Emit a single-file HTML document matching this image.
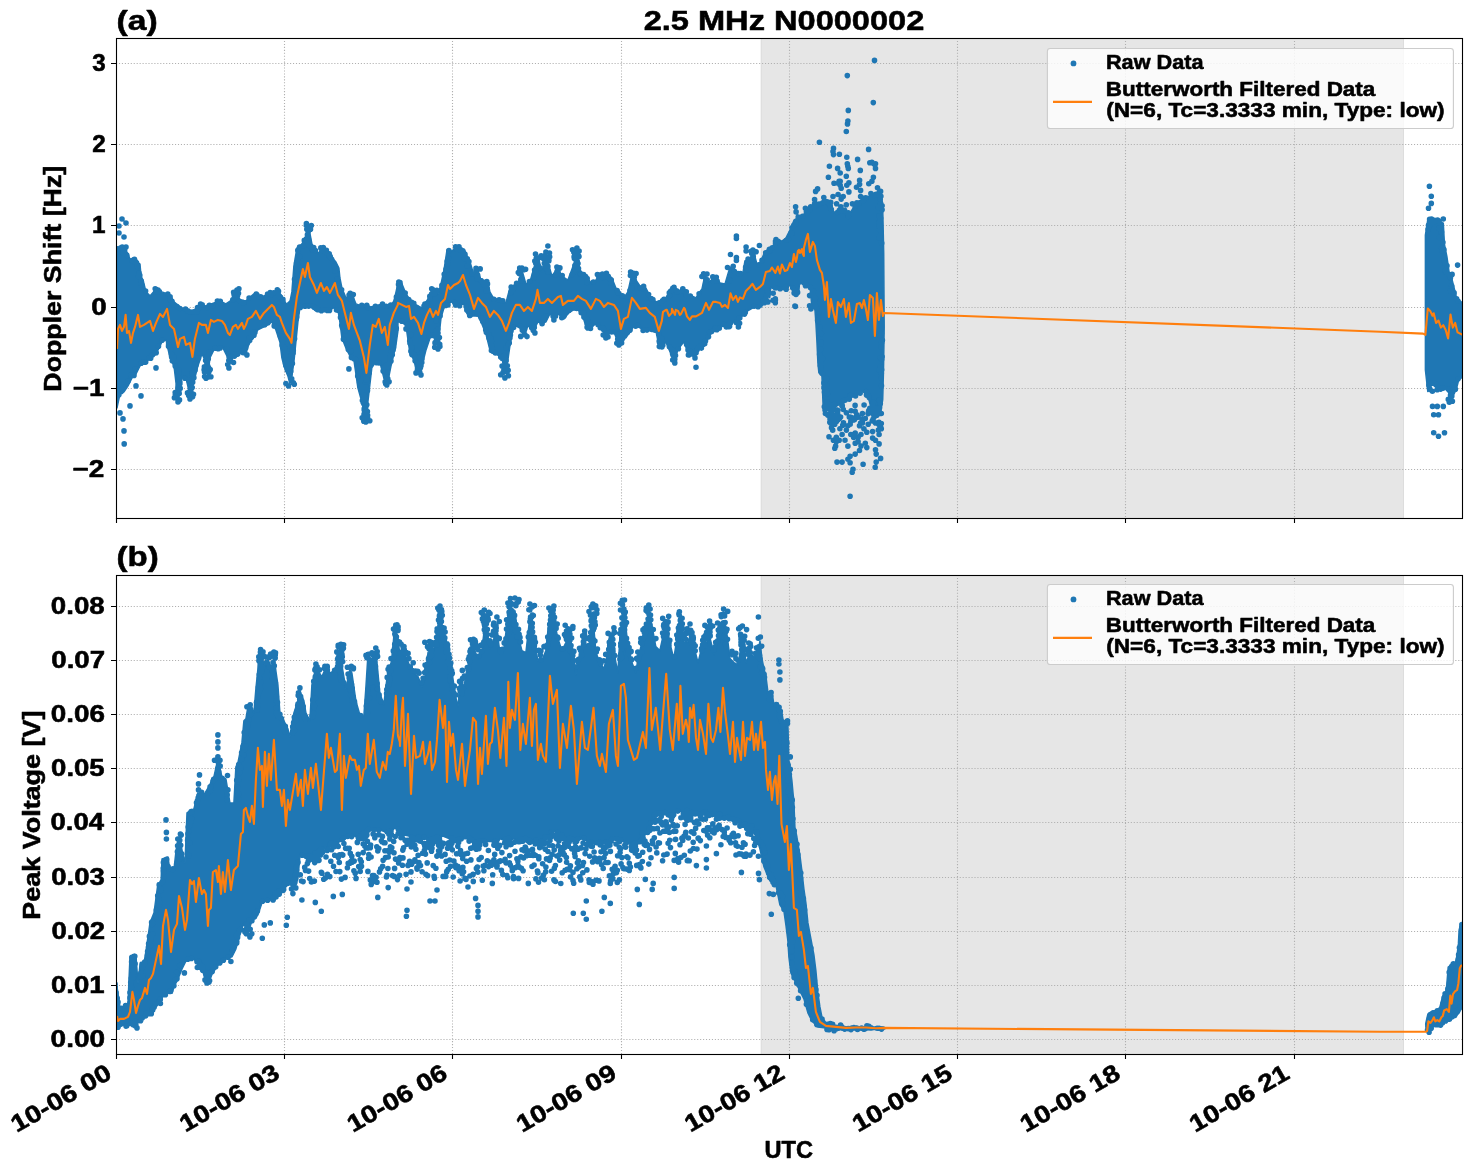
<!DOCTYPE html><html><head><meta charset="utf-8"><style>html,body{margin:0;padding:0;background:#fff;}svg{display:block;will-change:transform;}text{font-family:"Liberation Sans", sans-serif;font-weight:bold;fill:#000;stroke:#000;stroke-width:0.55px;stroke-linejoin:round;}</style></head><body>
<svg width="1471" height="1172" viewBox="0 0 1471 1172">
<rect width="1471" height="1172" fill="#fff"/>
<defs>
<clipPath id="clipa"><rect x="116" y="38" width="1347" height="481"/></clipPath>
<clipPath id="clipb"><rect x="116" y="575" width="1347" height="480"/></clipPath>
</defs>
<g clip-path="url(#clipa)">
<rect x="760.8" y="38" width="643.1" height="481" fill="#e6e6e6"/>
<rect x="760.8" y="38" width="0.9" height="481" fill="#dcdcdc"/>
<rect x="1403" y="38" width="0.9" height="481" fill="#dcdcdc"/>
<path d="M284.5 38 V518 M452.5 38 V518 M621.5 38 V518 M789.5 38 V518 M957.5 38 V518 M1125.5 38 V518 M1294.5 38 V518 M116 63.5 H1462 M116 144.5 H1462 M116 225.5 H1462 M116 307.5 H1462 M116 388.5 H1462 M116 469.5 H1462" stroke="#b0b0b0" stroke-width="1.1" stroke-dasharray="1.1 1.85" fill="none"/>
<path d="M117 248 L122 248 L126 250 L130 259 L136 261 L140 264 L141 276 L143 280 L146 291.9 L150 295.9 L156 289 L162 291.9 L170 294.9 L174 301.9 L180 306.9 L186 309.9 L192 313.9 L195.9 307.9 L199.9 304.9 L205.9 305.9 L213.9 302.9 L219.9 300.9 L225.9 303.9 L231.9 299.9 L235.9 289 L239.9 299.9 L245.9 300.9 L253.9 293.9 L261.9 296.9 L269.9 292.9 L277.9 291 L281.9 295.9 L285.9 303.9 L289.9 301.9 L291.9 291.9 L293.9 266 L296.9 248 L301.9 244 L305.9 236 L308.5 226 L311.9 244 L317.9 254 L321.9 248 L325.9 250 L329.9 255 L335.9 262 L338.9 268 L339.9 278 L341.9 288 L345.9 297.9 L351.9 293.9 L355.9 303.9 L361.8 305.9 L369.8 306.9 L375.8 305.9 L381.8 303.9 L387.8 307.9 L393.8 301.9 L397.8 284 L398 282 L402 284 L406 293.9 L410 299.9 L414 303.9 L418 305.9 L422 307.9 L426 301.9 L430 295.9 L434 288 L438 293.9 L441 284 L444 270 L447 250 L452 251 L456 247 L462 248 L467 256 L470 262 L473 272 L476 274 L478 270 L480 278 L483.9 284 L487.9 282 L489.9 291.9 L493.9 298.9 L499.9 299.9 L505.9 302.9 L509.9 288 L513.9 285 L517.9 284 L521.9 270 L525.9 284 L529.9 282 L533.9 268 L537.9 256 L541.9 272 L545.9 255 L551.9 276 L557.9 268 L561.9 276 L567.9 280 L573.9 264 L576.9 251 L579.9 270 L585.9 276 L591.9 284 L595.9 280 L599.9 274 L603.9 280 L607.9 274 L611.9 278 L615.9 288 L619.9 291.9 L623.9 297.9 L627.9 291.9 L631.9 274 L635.9 280 L639.9 286 L645.9 288 L649.8 295.9 L655.8 301.9 L661.8 299.9 L665.8 297.9 L671.8 288 L675.8 288 L679.8 293.9 L683.8 288 L687.8 293.9 L696 297.9 L699 292.9 L702 288.9 L705 274.9 L709 281.9 L716 276.9 L720 282.9 L725 283.9 L730 267 L733.9 271 L739.9 272 L742.9 273 L744.9 261 L749.9 258 L753.9 253 L756.9 264 L759.9 263 L763.9 254 L767.9 249 L771.9 248 L775.9 240 L781.9 241 L785.9 238 L787.9 234 L790 230.2 L794.1 220 L803.3 214.9 L813.5 204.6 L820.7 202.6 L830.9 202.6 L834 212.8 L843.2 208.7 L847.3 218 L851.4 210.8 L856.5 202.6 L861.6 199.5 L867.8 196.5 L876 194.4 L881.1 194.4 L882.6 204.6 L883.1 225.1 L883.7 253 L884.2 327 L883.5 370.5 L882.7 399.6 L881.3 408.3 L875.5 414.1 L871.1 408.3 L868.2 396.7 L862.4 390.9 L855.2 395.2 L843.5 402.5 L831.9 408.3 L823.2 408.3 L821.9 374.9 L818.9 372.9 L817.9 362.9 L816.9 341 L815.9 323 L814.9 309 L811.9 307 L810 286.5 L808.1 284.4 L804 285.4 L801.4 283.4 L799.4 284.4 L798.9 291.1 L796.3 293.6 L794.3 292.6 L792.2 287.5 L789.2 284.9 L786.1 289.5 L775.8 289.5 L770.7 287.5 L769.7 297.7 L768.7 290 L767.6 301.8 L763.6 302.8 L761.5 306.9 L753.3 307.5 L748.2 310.5 L740 318.2 L738 324 L734 321 L730 327 L726 325 L722 325 L718 329 L714 329 L710 335 L706 343 L702 347 L698 351 L694 354.9 L690 351 L687.8 351.9 L683.8 341.9 L677.8 349.9 L674.8 359.9 L671.8 355.9 L665.8 341.9 L661.8 347.9 L658.8 345.9 L655.8 329.9 L649.8 329.9 L643.9 329.9 L637.9 326.9 L633.9 325.9 L629.9 331.9 L625.9 337.9 L621.9 337.9 L617.9 341.9 L613.9 331.9 L609.9 331.9 L605.9 335.9 L601.9 329.9 L595.9 323.9 L589.9 327.9 L585.9 325.9 L581.9 313.9 L577.9 309.9 L573.9 309.9 L569.9 311.9 L565.9 315.9 L561.9 316.9 L557.9 313.9 L553.9 316.9 L549.9 313.9 L545.9 321.9 L541.9 323.9 L537.9 321.9 L533.9 329.9 L527.9 325.9 L523.9 335.9 L519.9 327.9 L515.9 325.9 L512.9 329.9 L509.9 345.9 L507.9 359.9 L504.9 373.9 L501.9 357.9 L495.9 353.9 L489.9 349.9 L485.9 333.9 L481.9 323.9 L478 315.9 L472 315.9 L467 313.9 L464 303.9 L458 304.9 L452 301.9 L448 303.9 L444 307.9 L441 317.9 L438 345.9 L434 333.9 L430 337.9 L426 349.9 L423 361.9 L420 371.9 L416 369.9 L414 359.9 L410 353.9 L406 325.9 L402 321.9 L398 321.9 L397.8 331.9 L395.8 345.9 L391.8 361.9 L387.8 381.9 L383.8 377.9 L379.8 361.9 L375.8 361.9 L371.8 367.9 L368.8 393.9 L365.8 419.9 L361.8 401.9 L357.9 387.9 L353.9 359.9 L349.9 355.9 L345.9 347.9 L341.9 337.9 L339.9 321.9 L337.9 309.9 L333.9 307.9 L329.9 309.9 L325.9 309.9 L321.9 309.9 L315.9 310.9 L309.9 305.9 L303.9 304.9 L299.9 307.9 L297.9 321.9 L295.9 341.9 L293.9 361.9 L291.9 375.9 L289.9 383.9 L287.9 375.9 L283.9 365.9 L281.9 357.9 L279.9 341.9 L275.9 329.9 L271.9 321.9 L265.9 325.9 L257.9 329.9 L249.9 341.9 L245.9 351.9 L239.9 351.9 L233.9 355.9 L229.9 363.9 L227.9 357.9 L221.9 345.9 L213.9 349.9 L209.9 357.9 L207.9 375.9 L205.9 361.9 L201.9 353.9 L197.9 365.9 L193.9 381.9 L190 395.9 L186 377.9 L182 377.9 L178 399.9 L174 365.9 L170 357.9 L166 339.9 L162 341.9 L156 353.9 L150 357.9 L144 363.9 L140 365.9 L136 373.9 L132 377.9 L128 385.9 L124 391.9 L120 393.9 L117 407.9 Z" fill="#1f77b4" stroke="#1f77b4" stroke-width="1.5" stroke-linejoin="round"/>
<path d="M1425.4 235.1 L1427.8 219.6 L1432.5 218.4 L1438.5 220.8 L1443.3 223.2 L1444.5 244.7 L1446.9 256.6 L1449.3 273.3 L1451.7 278.1 L1456.4 297.2 L1461.2 302 L1462.6 302 L1462.6 377.2 L1458.8 379.6 L1456.4 389.1 L1451.7 398.7 L1449.3 393.9 L1444.5 386.7 L1439.7 390.3 L1434.9 386.7 L1430.2 382 L1427.8 391.5 L1425.4 370 Z" fill="#1f77b4" stroke="#1f77b4" stroke-width="1.5" stroke-linejoin="round"/>
<path d="M121.4 443.9a2.8 2.8 0 1 0 5.6 0a2.8 2.8 0 1 0 -5.6 0ZM119.2 219a2.8 2.8 0 1 0 5.6 0a2.8 2.8 0 1 0 -5.6 0ZM123.2 223a2.8 2.8 0 1 0 5.6 0a2.8 2.8 0 1 0 -5.6 0ZM116.2 226a2.8 2.8 0 1 0 5.6 0a2.8 2.8 0 1 0 -5.6 0ZM116.2 233a2.8 2.8 0 1 0 5.6 0a2.8 2.8 0 1 0 -5.6 0ZM121.2 237a2.8 2.8 0 1 0 5.6 0a2.8 2.8 0 1 0 -5.6 0ZM123.2 247a2.8 2.8 0 1 0 5.6 0a2.8 2.8 0 1 0 -5.6 0ZM117.2 412.9a2.8 2.8 0 1 0 5.6 0a2.8 2.8 0 1 0 -5.6 0ZM120.2 418.9a2.8 2.8 0 1 0 5.6 0a2.8 2.8 0 1 0 -5.6 0ZM121.2 430.9a2.8 2.8 0 1 0 5.6 0a2.8 2.8 0 1 0 -5.6 0ZM127.2 405.9a2.8 2.8 0 1 0 5.6 0a2.8 2.8 0 1 0 -5.6 0ZM138.2 395.9a2.8 2.8 0 1 0 5.6 0a2.8 2.8 0 1 0 -5.6 0ZM133.2 385.9a2.8 2.8 0 1 0 5.6 0a2.8 2.8 0 1 0 -5.6 0ZM153.2 367.9a2.8 2.8 0 1 0 5.6 0a2.8 2.8 0 1 0 -5.6 0ZM175.2 401.9a2.8 2.8 0 1 0 5.6 0a2.8 2.8 0 1 0 -5.6 0ZM187.2 398.9a2.8 2.8 0 1 0 5.6 0a2.8 2.8 0 1 0 -5.6 0ZM205.1 376.9a2.8 2.8 0 1 0 5.6 0a2.8 2.8 0 1 0 -5.6 0ZM226.1 367.9a2.8 2.8 0 1 0 5.6 0a2.8 2.8 0 1 0 -5.6 0ZM244.1 354.9a2.8 2.8 0 1 0 5.6 0a2.8 2.8 0 1 0 -5.6 0ZM285.7 385.9a2.8 2.8 0 1 0 5.6 0a2.8 2.8 0 1 0 -5.6 0ZM346.1 368.9a2.8 2.8 0 1 0 5.6 0a2.8 2.8 0 1 0 -5.6 0ZM363 421.9a2.8 2.8 0 1 0 5.6 0a2.8 2.8 0 1 0 -5.6 0ZM384 384.9a2.8 2.8 0 1 0 5.6 0a2.8 2.8 0 1 0 -5.6 0ZM545.1 246a2.8 2.8 0 1 0 5.6 0a2.8 2.8 0 1 0 -5.6 0ZM574.1 248a2.8 2.8 0 1 0 5.6 0a2.8 2.8 0 1 0 -5.6 0ZM543.1 252a2.8 2.8 0 1 0 5.6 0a2.8 2.8 0 1 0 -5.6 0ZM519.1 268a2.8 2.8 0 1 0 5.6 0a2.8 2.8 0 1 0 -5.6 0ZM413.2 372.9a2.8 2.8 0 1 0 5.6 0a2.8 2.8 0 1 0 -5.6 0ZM418.2 374.9a2.8 2.8 0 1 0 5.6 0a2.8 2.8 0 1 0 -5.6 0ZM502.1 377.9a2.8 2.8 0 1 0 5.6 0a2.8 2.8 0 1 0 -5.6 0ZM501.1 369.9a2.8 2.8 0 1 0 5.6 0a2.8 2.8 0 1 0 -5.6 0ZM532.1 332.9a2.8 2.8 0 1 0 5.6 0a2.8 2.8 0 1 0 -5.6 0ZM551.1 319.9a2.8 2.8 0 1 0 5.6 0a2.8 2.8 0 1 0 -5.6 0ZM616.1 344.9a2.8 2.8 0 1 0 5.6 0a2.8 2.8 0 1 0 -5.6 0ZM603.1 337.9a2.8 2.8 0 1 0 5.6 0a2.8 2.8 0 1 0 -5.6 0ZM686 354.9a2.8 2.8 0 1 0 5.6 0a2.8 2.8 0 1 0 -5.6 0ZM672 362.9a2.8 2.8 0 1 0 5.6 0a2.8 2.8 0 1 0 -5.6 0ZM435.2 348.9a2.8 2.8 0 1 0 5.6 0a2.8 2.8 0 1 0 -5.6 0ZM403.2 328.9a2.8 2.8 0 1 0 5.6 0a2.8 2.8 0 1 0 -5.6 0ZM733.6 236a2.8 2.8 0 1 0 5.6 0a2.8 2.8 0 1 0 -5.6 0ZM733.6 238.5a2.8 2.8 0 1 0 5.6 0a2.8 2.8 0 1 0 -5.6 0ZM727.7 254.5a2.8 2.8 0 1 0 5.6 0a2.8 2.8 0 1 0 -5.6 0ZM733.6 257.5a2.8 2.8 0 1 0 5.6 0a2.8 2.8 0 1 0 -5.6 0ZM733.6 260.5a2.8 2.8 0 1 0 5.6 0a2.8 2.8 0 1 0 -5.6 0ZM743.3 247a2.8 2.8 0 1 0 5.6 0a2.8 2.8 0 1 0 -5.6 0ZM743.3 251a2.8 2.8 0 1 0 5.6 0a2.8 2.8 0 1 0 -5.6 0ZM750.1 250a2.8 2.8 0 1 0 5.6 0a2.8 2.8 0 1 0 -5.6 0ZM756.6 245.5a2.8 2.8 0 1 0 5.6 0a2.8 2.8 0 1 0 -5.6 0ZM772.6 299.9a2.8 2.8 0 1 0 5.6 0a2.8 2.8 0 1 0 -5.6 0ZM792.6 306.4a2.8 2.8 0 1 0 5.6 0a2.8 2.8 0 1 0 -5.6 0ZM765.1 301.9a2.8 2.8 0 1 0 5.6 0a2.8 2.8 0 1 0 -5.6 0ZM871.7 60.4a2.8 2.8 0 1 0 5.6 0a2.8 2.8 0 1 0 -5.6 0ZM844.5 75.6a2.8 2.8 0 1 0 5.6 0a2.8 2.8 0 1 0 -5.6 0ZM870.5 102.6a2.8 2.8 0 1 0 5.6 0a2.8 2.8 0 1 0 -5.6 0ZM845.5 110.4a2.8 2.8 0 1 0 5.6 0a2.8 2.8 0 1 0 -5.6 0ZM845.1 121a2.8 2.8 0 1 0 5.6 0a2.8 2.8 0 1 0 -5.6 0ZM844.7 123.9a2.8 2.8 0 1 0 5.6 0a2.8 2.8 0 1 0 -5.6 0ZM843.5 131.5a2.8 2.8 0 1 0 5.6 0a2.8 2.8 0 1 0 -5.6 0ZM693.2 367.3a2.8 2.8 0 1 0 5.6 0a2.8 2.8 0 1 0 -5.6 0ZM685.6 355a2.8 2.8 0 1 0 5.6 0a2.8 2.8 0 1 0 -5.6 0ZM692.2 357.9a2.8 2.8 0 1 0 5.6 0a2.8 2.8 0 1 0 -5.6 0ZM735.6 327a2.8 2.8 0 1 0 5.6 0a2.8 2.8 0 1 0 -5.6 0ZM772.1 300a2.8 2.8 0 1 0 5.6 0a2.8 2.8 0 1 0 -5.6 0ZM792.1 306a2.8 2.8 0 1 0 5.6 0a2.8 2.8 0 1 0 -5.6 0ZM808.1 309a2.8 2.8 0 1 0 5.6 0a2.8 2.8 0 1 0 -5.6 0ZM843.5 131.5a2.8 2.8 0 1 0 5.6 0a2.8 2.8 0 1 0 -5.6 0ZM816.6 142.3a2.8 2.8 0 1 0 5.6 0a2.8 2.8 0 1 0 -5.6 0ZM830.7 148.4a2.8 2.8 0 1 0 5.6 0a2.8 2.8 0 1 0 -5.6 0ZM830.7 154.6a2.8 2.8 0 1 0 5.6 0a2.8 2.8 0 1 0 -5.6 0ZM836.6 154.3a2.8 2.8 0 1 0 5.6 0a2.8 2.8 0 1 0 -5.6 0ZM844 157.3a2.8 2.8 0 1 0 5.6 0a2.8 2.8 0 1 0 -5.6 0ZM854.8 159.4a2.8 2.8 0 1 0 5.6 0a2.8 2.8 0 1 0 -5.6 0ZM865.8 149.4a2.8 2.8 0 1 0 5.6 0a2.8 2.8 0 1 0 -5.6 0ZM826.6 166.3a2.8 2.8 0 1 0 5.6 0a2.8 2.8 0 1 0 -5.6 0ZM834.8 168.4a2.8 2.8 0 1 0 5.6 0a2.8 2.8 0 1 0 -5.6 0ZM837.4 173a2.8 2.8 0 1 0 5.6 0a2.8 2.8 0 1 0 -5.6 0ZM845 166.3a2.8 2.8 0 1 0 5.6 0a2.8 2.8 0 1 0 -5.6 0ZM845.5 168.4a2.8 2.8 0 1 0 5.6 0a2.8 2.8 0 1 0 -5.6 0ZM857.5 170.4a2.8 2.8 0 1 0 5.6 0a2.8 2.8 0 1 0 -5.6 0ZM869.1 162.2a2.8 2.8 0 1 0 5.6 0a2.8 2.8 0 1 0 -5.6 0ZM872.7 163.8a2.8 2.8 0 1 0 5.6 0a2.8 2.8 0 1 0 -5.6 0ZM872.7 168.4a2.8 2.8 0 1 0 5.6 0a2.8 2.8 0 1 0 -5.6 0ZM825.6 177.3a2.8 2.8 0 1 0 5.6 0a2.8 2.8 0 1 0 -5.6 0ZM843.5 176.3a2.8 2.8 0 1 0 5.6 0a2.8 2.8 0 1 0 -5.6 0ZM870.6 177.3a2.8 2.8 0 1 0 5.6 0a2.8 2.8 0 1 0 -5.6 0ZM869.1 181.2a2.8 2.8 0 1 0 5.6 0a2.8 2.8 0 1 0 -5.6 0ZM866 183.7a2.8 2.8 0 1 0 5.6 0a2.8 2.8 0 1 0 -5.6 0ZM856.8 180.2a2.8 2.8 0 1 0 5.6 0a2.8 2.8 0 1 0 -5.6 0ZM856.8 184.2a2.8 2.8 0 1 0 5.6 0a2.8 2.8 0 1 0 -5.6 0ZM853.7 187.3a2.8 2.8 0 1 0 5.6 0a2.8 2.8 0 1 0 -5.6 0ZM857.8 190.4a2.8 2.8 0 1 0 5.6 0a2.8 2.8 0 1 0 -5.6 0ZM846.1 182.7a2.8 2.8 0 1 0 5.6 0a2.8 2.8 0 1 0 -5.6 0ZM844 185.3a2.8 2.8 0 1 0 5.6 0a2.8 2.8 0 1 0 -5.6 0ZM846.1 191.9a2.8 2.8 0 1 0 5.6 0a2.8 2.8 0 1 0 -5.6 0ZM837.4 181.2a2.8 2.8 0 1 0 5.6 0a2.8 2.8 0 1 0 -5.6 0ZM835.3 183.2a2.8 2.8 0 1 0 5.6 0a2.8 2.8 0 1 0 -5.6 0ZM831.2 183.2a2.8 2.8 0 1 0 5.6 0a2.8 2.8 0 1 0 -5.6 0ZM838.4 188.3a2.8 2.8 0 1 0 5.6 0a2.8 2.8 0 1 0 -5.6 0ZM814.8 188.9a2.8 2.8 0 1 0 5.6 0a2.8 2.8 0 1 0 -5.6 0ZM812.8 191.4a2.8 2.8 0 1 0 5.6 0a2.8 2.8 0 1 0 -5.6 0ZM874.7 187.8a2.8 2.8 0 1 0 5.6 0a2.8 2.8 0 1 0 -5.6 0ZM877.8 191.4a2.8 2.8 0 1 0 5.6 0a2.8 2.8 0 1 0 -5.6 0ZM877.3 195.5a2.8 2.8 0 1 0 5.6 0a2.8 2.8 0 1 0 -5.6 0ZM868.1 193.5a2.8 2.8 0 1 0 5.6 0a2.8 2.8 0 1 0 -5.6 0ZM835.3 194.5a2.8 2.8 0 1 0 5.6 0a2.8 2.8 0 1 0 -5.6 0ZM840.4 196.5a2.8 2.8 0 1 0 5.6 0a2.8 2.8 0 1 0 -5.6 0ZM838.4 199.1a2.8 2.8 0 1 0 5.6 0a2.8 2.8 0 1 0 -5.6 0ZM843.5 204.7a2.8 2.8 0 1 0 5.6 0a2.8 2.8 0 1 0 -5.6 0ZM849.6 203.7a2.8 2.8 0 1 0 5.6 0a2.8 2.8 0 1 0 -5.6 0ZM833.8 203.7a2.8 2.8 0 1 0 5.6 0a2.8 2.8 0 1 0 -5.6 0ZM802.6 208.3a2.8 2.8 0 1 0 5.6 0a2.8 2.8 0 1 0 -5.6 0ZM792.8 206.8a2.8 2.8 0 1 0 5.6 0a2.8 2.8 0 1 0 -5.6 0ZM793.3 211.9a2.8 2.8 0 1 0 5.6 0a2.8 2.8 0 1 0 -5.6 0ZM795.4 217a2.8 2.8 0 1 0 5.6 0a2.8 2.8 0 1 0 -5.6 0ZM811.8 199.6a2.8 2.8 0 1 0 5.6 0a2.8 2.8 0 1 0 -5.6 0ZM811.8 203.7a2.8 2.8 0 1 0 5.6 0a2.8 2.8 0 1 0 -5.6 0ZM821 197.6a2.8 2.8 0 1 0 5.6 0a2.8 2.8 0 1 0 -5.6 0ZM830.2 196.5a2.8 2.8 0 1 0 5.6 0a2.8 2.8 0 1 0 -5.6 0ZM845.5 212.9a2.8 2.8 0 1 0 5.6 0a2.8 2.8 0 1 0 -5.6 0ZM845.5 216.5a2.8 2.8 0 1 0 5.6 0a2.8 2.8 0 1 0 -5.6 0ZM857.8 196.5a2.8 2.8 0 1 0 5.6 0a2.8 2.8 0 1 0 -5.6 0ZM860.9 200.6a2.8 2.8 0 1 0 5.6 0a2.8 2.8 0 1 0 -5.6 0ZM879.3 205.7a2.8 2.8 0 1 0 5.6 0a2.8 2.8 0 1 0 -5.6 0ZM879.3 209.8a2.8 2.8 0 1 0 5.6 0a2.8 2.8 0 1 0 -5.6 0ZM830.2 151.5a2.8 2.8 0 1 0 5.6 0a2.8 2.8 0 1 0 -5.6 0ZM844.5 163.8a2.8 2.8 0 1 0 5.6 0a2.8 2.8 0 1 0 -5.6 0ZM871.1 163.8a2.8 2.8 0 1 0 5.6 0a2.8 2.8 0 1 0 -5.6 0ZM867 162.8a2.8 2.8 0 1 0 5.6 0a2.8 2.8 0 1 0 -5.6 0ZM836.3 181.2a2.8 2.8 0 1 0 5.6 0a2.8 2.8 0 1 0 -5.6 0ZM837.4 185.3a2.8 2.8 0 1 0 5.6 0a2.8 2.8 0 1 0 -5.6 0ZM772.5 298.7a2.8 2.8 0 1 0 5.6 0a2.8 2.8 0 1 0 -5.6 0ZM772.5 302.8a2.8 2.8 0 1 0 5.6 0a2.8 2.8 0 1 0 -5.6 0ZM792.5 306.4a2.8 2.8 0 1 0 5.6 0a2.8 2.8 0 1 0 -5.6 0ZM806.8 295.6a2.8 2.8 0 1 0 5.6 0a2.8 2.8 0 1 0 -5.6 0ZM806.8 305.8a2.8 2.8 0 1 0 5.6 0a2.8 2.8 0 1 0 -5.6 0ZM822.6 413.5a2.8 2.8 0 1 0 5.6 0a2.8 2.8 0 1 0 -5.6 0ZM828.4 411.3a2.8 2.8 0 1 0 5.6 0a2.8 2.8 0 1 0 -5.6 0ZM834.9 411.3a2.8 2.8 0 1 0 5.6 0a2.8 2.8 0 1 0 -5.6 0ZM843.6 412.7a2.8 2.8 0 1 0 5.6 0a2.8 2.8 0 1 0 -5.6 0ZM852.4 411.3a2.8 2.8 0 1 0 5.6 0a2.8 2.8 0 1 0 -5.6 0ZM859.6 413.5a2.8 2.8 0 1 0 5.6 0a2.8 2.8 0 1 0 -5.6 0ZM868.3 412.7a2.8 2.8 0 1 0 5.6 0a2.8 2.8 0 1 0 -5.6 0ZM878.5 413.5a2.8 2.8 0 1 0 5.6 0a2.8 2.8 0 1 0 -5.6 0ZM827 422.2a2.8 2.8 0 1 0 5.6 0a2.8 2.8 0 1 0 -5.6 0ZM834.9 420a2.8 2.8 0 1 0 5.6 0a2.8 2.8 0 1 0 -5.6 0ZM840.7 422.9a2.8 2.8 0 1 0 5.6 0a2.8 2.8 0 1 0 -5.6 0ZM848 421.4a2.8 2.8 0 1 0 5.6 0a2.8 2.8 0 1 0 -5.6 0ZM856.7 425.8a2.8 2.8 0 1 0 5.6 0a2.8 2.8 0 1 0 -5.6 0ZM865.4 424.3a2.8 2.8 0 1 0 5.6 0a2.8 2.8 0 1 0 -5.6 0ZM872.7 422.9a2.8 2.8 0 1 0 5.6 0a2.8 2.8 0 1 0 -5.6 0ZM878.5 423.6a2.8 2.8 0 1 0 5.6 0a2.8 2.8 0 1 0 -5.6 0ZM829.9 430.1a2.8 2.8 0 1 0 5.6 0a2.8 2.8 0 1 0 -5.6 0ZM837.1 428.7a2.8 2.8 0 1 0 5.6 0a2.8 2.8 0 1 0 -5.6 0ZM843.6 430.1a2.8 2.8 0 1 0 5.6 0a2.8 2.8 0 1 0 -5.6 0ZM852.4 433a2.8 2.8 0 1 0 5.6 0a2.8 2.8 0 1 0 -5.6 0ZM861.1 428.7a2.8 2.8 0 1 0 5.6 0a2.8 2.8 0 1 0 -5.6 0ZM869.8 431.6a2.8 2.8 0 1 0 5.6 0a2.8 2.8 0 1 0 -5.6 0ZM875.6 430.1a2.8 2.8 0 1 0 5.6 0a2.8 2.8 0 1 0 -5.6 0ZM878.5 428.7a2.8 2.8 0 1 0 5.6 0a2.8 2.8 0 1 0 -5.6 0ZM826.2 436.7a2.8 2.8 0 1 0 5.6 0a2.8 2.8 0 1 0 -5.6 0ZM833.5 437.4a2.8 2.8 0 1 0 5.6 0a2.8 2.8 0 1 0 -5.6 0ZM842.2 440.3a2.8 2.8 0 1 0 5.6 0a2.8 2.8 0 1 0 -5.6 0ZM850.9 437.4a2.8 2.8 0 1 0 5.6 0a2.8 2.8 0 1 0 -5.6 0ZM855.3 437.4a2.8 2.8 0 1 0 5.6 0a2.8 2.8 0 1 0 -5.6 0ZM864 432.3a2.8 2.8 0 1 0 5.6 0a2.8 2.8 0 1 0 -5.6 0ZM869.8 438.1a2.8 2.8 0 1 0 5.6 0a2.8 2.8 0 1 0 -5.6 0ZM876.3 434.5a2.8 2.8 0 1 0 5.6 0a2.8 2.8 0 1 0 -5.6 0ZM832.8 446.1a2.8 2.8 0 1 0 5.6 0a2.8 2.8 0 1 0 -5.6 0ZM833.5 441.8a2.8 2.8 0 1 0 5.6 0a2.8 2.8 0 1 0 -5.6 0ZM855.3 441.8a2.8 2.8 0 1 0 5.6 0a2.8 2.8 0 1 0 -5.6 0ZM862.5 443.2a2.8 2.8 0 1 0 5.6 0a2.8 2.8 0 1 0 -5.6 0ZM864 447.6a2.8 2.8 0 1 0 5.6 0a2.8 2.8 0 1 0 -5.6 0ZM876.3 443.9a2.8 2.8 0 1 0 5.6 0a2.8 2.8 0 1 0 -5.6 0ZM832 448.3a2.8 2.8 0 1 0 5.6 0a2.8 2.8 0 1 0 -5.6 0ZM856.7 450.5a2.8 2.8 0 1 0 5.6 0a2.8 2.8 0 1 0 -5.6 0ZM872.7 449.7a2.8 2.8 0 1 0 5.6 0a2.8 2.8 0 1 0 -5.6 0ZM852.4 454.1a2.8 2.8 0 1 0 5.6 0a2.8 2.8 0 1 0 -5.6 0ZM847.3 456.3a2.8 2.8 0 1 0 5.6 0a2.8 2.8 0 1 0 -5.6 0ZM873.4 454.1a2.8 2.8 0 1 0 5.6 0a2.8 2.8 0 1 0 -5.6 0ZM877.8 458.4a2.8 2.8 0 1 0 5.6 0a2.8 2.8 0 1 0 -5.6 0ZM834.2 462.1a2.8 2.8 0 1 0 5.6 0a2.8 2.8 0 1 0 -5.6 0ZM839.3 462.1a2.8 2.8 0 1 0 5.6 0a2.8 2.8 0 1 0 -5.6 0ZM845.1 459.2a2.8 2.8 0 1 0 5.6 0a2.8 2.8 0 1 0 -5.6 0ZM847.3 462.8a2.8 2.8 0 1 0 5.6 0a2.8 2.8 0 1 0 -5.6 0ZM860.3 464.3a2.8 2.8 0 1 0 5.6 0a2.8 2.8 0 1 0 -5.6 0ZM873.4 462.1a2.8 2.8 0 1 0 5.6 0a2.8 2.8 0 1 0 -5.6 0ZM850.2 469.3a2.8 2.8 0 1 0 5.6 0a2.8 2.8 0 1 0 -5.6 0ZM849.4 472.2a2.8 2.8 0 1 0 5.6 0a2.8 2.8 0 1 0 -5.6 0ZM872.4 467.2a2.8 2.8 0 1 0 5.6 0a2.8 2.8 0 1 0 -5.6 0ZM847.3 496.2a2.8 2.8 0 1 0 5.6 0a2.8 2.8 0 1 0 -5.6 0ZM830.6 417.1a2.8 2.8 0 1 0 5.6 0a2.8 2.8 0 1 0 -5.6 0ZM837.8 417.1a2.8 2.8 0 1 0 5.6 0a2.8 2.8 0 1 0 -5.6 0ZM846.5 417.1a2.8 2.8 0 1 0 5.6 0a2.8 2.8 0 1 0 -5.6 0ZM855.3 417.1a2.8 2.8 0 1 0 5.6 0a2.8 2.8 0 1 0 -5.6 0ZM862.5 418.5a2.8 2.8 0 1 0 5.6 0a2.8 2.8 0 1 0 -5.6 0ZM871.2 417.1a2.8 2.8 0 1 0 5.6 0a2.8 2.8 0 1 0 -5.6 0ZM832 424.3a2.8 2.8 0 1 0 5.6 0a2.8 2.8 0 1 0 -5.6 0ZM845.1 425.8a2.8 2.8 0 1 0 5.6 0a2.8 2.8 0 1 0 -5.6 0ZM859.6 422.9a2.8 2.8 0 1 0 5.6 0a2.8 2.8 0 1 0 -5.6 0ZM839.3 434.5a2.8 2.8 0 1 0 5.6 0a2.8 2.8 0 1 0 -5.6 0ZM848 434.5a2.8 2.8 0 1 0 5.6 0a2.8 2.8 0 1 0 -5.6 0ZM858.2 434.5a2.8 2.8 0 1 0 5.6 0a2.8 2.8 0 1 0 -5.6 0ZM872.7 440.3a2.8 2.8 0 1 0 5.6 0a2.8 2.8 0 1 0 -5.6 0ZM836.4 440.3a2.8 2.8 0 1 0 5.6 0a2.8 2.8 0 1 0 -5.6 0ZM845.1 446.1a2.8 2.8 0 1 0 5.6 0a2.8 2.8 0 1 0 -5.6 0ZM858.2 446.1a2.8 2.8 0 1 0 5.6 0a2.8 2.8 0 1 0 -5.6 0ZM852.4 443.2a2.8 2.8 0 1 0 5.6 0a2.8 2.8 0 1 0 -5.6 0ZM830.6 440.3a2.8 2.8 0 1 0 5.6 0a2.8 2.8 0 1 0 -5.6 0ZM848.1 417.4a2.8 2.8 0 1 0 5.6 0a2.8 2.8 0 1 0 -5.6 0ZM874 415.2a2.8 2.8 0 1 0 5.6 0a2.8 2.8 0 1 0 -5.6 0ZM851.1 418.1a2.8 2.8 0 1 0 5.6 0a2.8 2.8 0 1 0 -5.6 0ZM833.4 416.3a2.8 2.8 0 1 0 5.6 0a2.8 2.8 0 1 0 -5.6 0ZM857.8 423a2.8 2.8 0 1 0 5.6 0a2.8 2.8 0 1 0 -5.6 0ZM828.4 411.3a2.8 2.8 0 1 0 5.6 0a2.8 2.8 0 1 0 -5.6 0ZM828.2 423.4a2.8 2.8 0 1 0 5.6 0a2.8 2.8 0 1 0 -5.6 0ZM861.3 405a2.8 2.8 0 1 0 5.6 0a2.8 2.8 0 1 0 -5.6 0ZM877.2 427.2a2.8 2.8 0 1 0 5.6 0a2.8 2.8 0 1 0 -5.6 0ZM859.2 418.8a2.8 2.8 0 1 0 5.6 0a2.8 2.8 0 1 0 -5.6 0ZM831.9 404.4a2.8 2.8 0 1 0 5.6 0a2.8 2.8 0 1 0 -5.6 0ZM852.3 405.4a2.8 2.8 0 1 0 5.6 0a2.8 2.8 0 1 0 -5.6 0ZM833.7 409.8a2.8 2.8 0 1 0 5.6 0a2.8 2.8 0 1 0 -5.6 0ZM824.9 415.1a2.8 2.8 0 1 0 5.6 0a2.8 2.8 0 1 0 -5.6 0ZM847.4 424.2a2.8 2.8 0 1 0 5.6 0a2.8 2.8 0 1 0 -5.6 0ZM851.8 419.4a2.8 2.8 0 1 0 5.6 0a2.8 2.8 0 1 0 -5.6 0ZM850.7 419.9a2.8 2.8 0 1 0 5.6 0a2.8 2.8 0 1 0 -5.6 0ZM848.4 410.7a2.8 2.8 0 1 0 5.6 0a2.8 2.8 0 1 0 -5.6 0ZM878.1 427.9a2.8 2.8 0 1 0 5.6 0a2.8 2.8 0 1 0 -5.6 0ZM869.4 421a2.8 2.8 0 1 0 5.6 0a2.8 2.8 0 1 0 -5.6 0ZM840.5 409.5a2.8 2.8 0 1 0 5.6 0a2.8 2.8 0 1 0 -5.6 0ZM839.1 405.7a2.8 2.8 0 1 0 5.6 0a2.8 2.8 0 1 0 -5.6 0ZM865.3 413.6a2.8 2.8 0 1 0 5.6 0a2.8 2.8 0 1 0 -5.6 0ZM869.8 413.3a2.8 2.8 0 1 0 5.6 0a2.8 2.8 0 1 0 -5.6 0ZM875.9 424.3a2.8 2.8 0 1 0 5.6 0a2.8 2.8 0 1 0 -5.6 0ZM823.2 409a2.8 2.8 0 1 0 5.6 0a2.8 2.8 0 1 0 -5.6 0ZM873.3 415.3a2.8 2.8 0 1 0 5.6 0a2.8 2.8 0 1 0 -5.6 0ZM877.1 413.5a2.8 2.8 0 1 0 5.6 0a2.8 2.8 0 1 0 -5.6 0ZM827.2 419.1a2.8 2.8 0 1 0 5.6 0a2.8 2.8 0 1 0 -5.6 0ZM866 410.5a2.8 2.8 0 1 0 5.6 0a2.8 2.8 0 1 0 -5.6 0ZM828 412a2.8 2.8 0 1 0 5.6 0a2.8 2.8 0 1 0 -5.6 0ZM876.2 422.2a2.8 2.8 0 1 0 5.6 0a2.8 2.8 0 1 0 -5.6 0ZM829.7 409.9a2.8 2.8 0 1 0 5.6 0a2.8 2.8 0 1 0 -5.6 0ZM828.8 405.4a2.8 2.8 0 1 0 5.6 0a2.8 2.8 0 1 0 -5.6 0ZM867 408.3a2.8 2.8 0 1 0 5.6 0a2.8 2.8 0 1 0 -5.6 0ZM854 414.7a2.8 2.8 0 1 0 5.6 0a2.8 2.8 0 1 0 -5.6 0ZM833.7 421.6a2.8 2.8 0 1 0 5.6 0a2.8 2.8 0 1 0 -5.6 0ZM830.4 419.4a2.8 2.8 0 1 0 5.6 0a2.8 2.8 0 1 0 -5.6 0ZM829.6 414.1a2.8 2.8 0 1 0 5.6 0a2.8 2.8 0 1 0 -5.6 0ZM834.9 410.5a2.8 2.8 0 1 0 5.6 0a2.8 2.8 0 1 0 -5.6 0ZM876.6 423.3a2.8 2.8 0 1 0 5.6 0a2.8 2.8 0 1 0 -5.6 0ZM839.9 425.2a2.8 2.8 0 1 0 5.6 0a2.8 2.8 0 1 0 -5.6 0ZM834.8 413.5a2.8 2.8 0 1 0 5.6 0a2.8 2.8 0 1 0 -5.6 0ZM870.2 419.4a2.8 2.8 0 1 0 5.6 0a2.8 2.8 0 1 0 -5.6 0ZM828.7 427.7a2.8 2.8 0 1 0 5.6 0a2.8 2.8 0 1 0 -5.6 0ZM834.9 410.2a2.8 2.8 0 1 0 5.6 0a2.8 2.8 0 1 0 -5.6 0ZM865.7 411.9a2.8 2.8 0 1 0 5.6 0a2.8 2.8 0 1 0 -5.6 0ZM839.5 405.8a2.8 2.8 0 1 0 5.6 0a2.8 2.8 0 1 0 -5.6 0ZM828.2 418a2.8 2.8 0 1 0 5.6 0a2.8 2.8 0 1 0 -5.6 0ZM836.6 418.4a2.8 2.8 0 1 0 5.6 0a2.8 2.8 0 1 0 -5.6 0ZM1426.6 186.2a2.8 2.8 0 1 0 5.6 0a2.8 2.8 0 1 0 -5.6 0ZM1428.5 196.3a2.8 2.8 0 1 0 5.6 0a2.8 2.8 0 1 0 -5.6 0ZM1428.5 203.4a2.8 2.8 0 1 0 5.6 0a2.8 2.8 0 1 0 -5.6 0ZM1425.7 208.2a2.8 2.8 0 1 0 5.6 0a2.8 2.8 0 1 0 -5.6 0ZM1454.8 265.1a2.8 2.8 0 1 0 5.6 0a2.8 2.8 0 1 0 -5.6 0ZM1449.3 274.4a2.8 2.8 0 1 0 5.6 0a2.8 2.8 0 1 0 -5.6 0ZM1440.5 219a2.8 2.8 0 1 0 5.6 0a2.8 2.8 0 1 0 -5.6 0ZM1429.7 406.4a2.8 2.8 0 1 0 5.6 0a2.8 2.8 0 1 0 -5.6 0ZM1434.5 406.4a2.8 2.8 0 1 0 5.6 0a2.8 2.8 0 1 0 -5.6 0ZM1430.9 414.8a2.8 2.8 0 1 0 5.6 0a2.8 2.8 0 1 0 -5.6 0ZM1435.7 414.8a2.8 2.8 0 1 0 5.6 0a2.8 2.8 0 1 0 -5.6 0ZM1440.5 406.4a2.8 2.8 0 1 0 5.6 0a2.8 2.8 0 1 0 -5.6 0ZM1430.9 432.7a2.8 2.8 0 1 0 5.6 0a2.8 2.8 0 1 0 -5.6 0ZM1435.7 436.3a2.8 2.8 0 1 0 5.6 0a2.8 2.8 0 1 0 -5.6 0ZM1441.7 432.7a2.8 2.8 0 1 0 5.6 0a2.8 2.8 0 1 0 -5.6 0ZM1449.6 401.2a2.8 2.8 0 1 0 5.6 0a2.8 2.8 0 1 0 -5.6 0ZM1446.5 402.1a2.8 2.8 0 1 0 5.6 0a2.8 2.8 0 1 0 -5.6 0ZM114.6 248.8a2.8 2.8 0 1 0 5.6 0a2.8 2.8 0 1 0 -5.6 0ZM118 247.8a2.8 2.8 0 1 0 5.6 0a2.8 2.8 0 1 0 -5.6 0ZM119.4 247a2.8 2.8 0 1 0 5.6 0a2.8 2.8 0 1 0 -5.6 0ZM120.5 247.8a2.8 2.8 0 1 0 5.6 0a2.8 2.8 0 1 0 -5.6 0ZM122 249.3a2.8 2.8 0 1 0 5.6 0a2.8 2.8 0 1 0 -5.6 0ZM120.1 251.9a2.8 2.8 0 1 0 5.6 0a2.8 2.8 0 1 0 -5.6 0ZM120.6 253.3a2.8 2.8 0 1 0 5.6 0a2.8 2.8 0 1 0 -5.6 0ZM123.9 255a2.8 2.8 0 1 0 5.6 0a2.8 2.8 0 1 0 -5.6 0ZM124.1 255.5a2.8 2.8 0 1 0 5.6 0a2.8 2.8 0 1 0 -5.6 0ZM129.2 260.6a2.8 2.8 0 1 0 5.6 0a2.8 2.8 0 1 0 -5.6 0ZM131.7 259.4a2.8 2.8 0 1 0 5.6 0a2.8 2.8 0 1 0 -5.6 0ZM131.2 261.4a2.8 2.8 0 1 0 5.6 0a2.8 2.8 0 1 0 -5.6 0ZM133.7 262.8a2.8 2.8 0 1 0 5.6 0a2.8 2.8 0 1 0 -5.6 0ZM132.9 261.9a2.8 2.8 0 1 0 5.6 0a2.8 2.8 0 1 0 -5.6 0ZM134.2 266.4a2.8 2.8 0 1 0 5.6 0a2.8 2.8 0 1 0 -5.6 0ZM136.2 273.1a2.8 2.8 0 1 0 5.6 0a2.8 2.8 0 1 0 -5.6 0ZM137 275.4a2.8 2.8 0 1 0 5.6 0a2.8 2.8 0 1 0 -5.6 0ZM135.8 276.8a2.8 2.8 0 1 0 5.6 0a2.8 2.8 0 1 0 -5.6 0ZM138.5 281.4a2.8 2.8 0 1 0 5.6 0a2.8 2.8 0 1 0 -5.6 0ZM138.9 284.9a2.8 2.8 0 1 0 5.6 0a2.8 2.8 0 1 0 -5.6 0ZM142.8 291.1a2.8 2.8 0 1 0 5.6 0a2.8 2.8 0 1 0 -5.6 0ZM153 292.1a2.8 2.8 0 1 0 5.6 0a2.8 2.8 0 1 0 -5.6 0ZM153 289.5a2.8 2.8 0 1 0 5.6 0a2.8 2.8 0 1 0 -5.6 0ZM155.2 290a2.8 2.8 0 1 0 5.6 0a2.8 2.8 0 1 0 -5.6 0ZM152.4 288.8a2.8 2.8 0 1 0 5.6 0a2.8 2.8 0 1 0 -5.6 0ZM156.5 291.5a2.8 2.8 0 1 0 5.6 0a2.8 2.8 0 1 0 -5.6 0ZM165 294.1a2.8 2.8 0 1 0 5.6 0a2.8 2.8 0 1 0 -5.6 0ZM167.3 296.9a2.8 2.8 0 1 0 5.6 0a2.8 2.8 0 1 0 -5.6 0ZM167.5 299.8a2.8 2.8 0 1 0 5.6 0a2.8 2.8 0 1 0 -5.6 0ZM169.2 301.3a2.8 2.8 0 1 0 5.6 0a2.8 2.8 0 1 0 -5.6 0ZM170.4 304.6a2.8 2.8 0 1 0 5.6 0a2.8 2.8 0 1 0 -5.6 0ZM174.1 306.5a2.8 2.8 0 1 0 5.6 0a2.8 2.8 0 1 0 -5.6 0ZM177.1 308.6a2.8 2.8 0 1 0 5.6 0a2.8 2.8 0 1 0 -5.6 0ZM182.7 309a2.8 2.8 0 1 0 5.6 0a2.8 2.8 0 1 0 -5.6 0ZM185 310.9a2.8 2.8 0 1 0 5.6 0a2.8 2.8 0 1 0 -5.6 0ZM187.2 311.8a2.8 2.8 0 1 0 5.6 0a2.8 2.8 0 1 0 -5.6 0ZM190.9 311.8a2.8 2.8 0 1 0 5.6 0a2.8 2.8 0 1 0 -5.6 0ZM194 311.9a2.8 2.8 0 1 0 5.6 0a2.8 2.8 0 1 0 -5.6 0ZM194.7 307.6a2.8 2.8 0 1 0 5.6 0a2.8 2.8 0 1 0 -5.6 0ZM196.1 308.3a2.8 2.8 0 1 0 5.6 0a2.8 2.8 0 1 0 -5.6 0ZM197.8 304a2.8 2.8 0 1 0 5.6 0a2.8 2.8 0 1 0 -5.6 0ZM199.4 304.9a2.8 2.8 0 1 0 5.6 0a2.8 2.8 0 1 0 -5.6 0ZM204.9 307.4a2.8 2.8 0 1 0 5.6 0a2.8 2.8 0 1 0 -5.6 0ZM206.6 305.3a2.8 2.8 0 1 0 5.6 0a2.8 2.8 0 1 0 -5.6 0ZM209.9 305.7a2.8 2.8 0 1 0 5.6 0a2.8 2.8 0 1 0 -5.6 0ZM214.6 301.1a2.8 2.8 0 1 0 5.6 0a2.8 2.8 0 1 0 -5.6 0ZM217.5 301.2a2.8 2.8 0 1 0 5.6 0a2.8 2.8 0 1 0 -5.6 0ZM218.5 304.2a2.8 2.8 0 1 0 5.6 0a2.8 2.8 0 1 0 -5.6 0ZM230 299.8a2.8 2.8 0 1 0 5.6 0a2.8 2.8 0 1 0 -5.6 0ZM231.5 297.8a2.8 2.8 0 1 0 5.6 0a2.8 2.8 0 1 0 -5.6 0ZM234.8 295.5a2.8 2.8 0 1 0 5.6 0a2.8 2.8 0 1 0 -5.6 0ZM235.7 293.3a2.8 2.8 0 1 0 5.6 0a2.8 2.8 0 1 0 -5.6 0ZM234.2 290a2.8 2.8 0 1 0 5.6 0a2.8 2.8 0 1 0 -5.6 0ZM236.1 288.7a2.8 2.8 0 1 0 5.6 0a2.8 2.8 0 1 0 -5.6 0ZM230.8 292.3a2.8 2.8 0 1 0 5.6 0a2.8 2.8 0 1 0 -5.6 0ZM231.2 294.3a2.8 2.8 0 1 0 5.6 0a2.8 2.8 0 1 0 -5.6 0ZM236.8 301.2a2.8 2.8 0 1 0 5.6 0a2.8 2.8 0 1 0 -5.6 0ZM239.9 302.4a2.8 2.8 0 1 0 5.6 0a2.8 2.8 0 1 0 -5.6 0ZM241.1 302.5a2.8 2.8 0 1 0 5.6 0a2.8 2.8 0 1 0 -5.6 0ZM246.3 298a2.8 2.8 0 1 0 5.6 0a2.8 2.8 0 1 0 -5.6 0ZM254.1 294.9a2.8 2.8 0 1 0 5.6 0a2.8 2.8 0 1 0 -5.6 0ZM253.5 294a2.8 2.8 0 1 0 5.6 0a2.8 2.8 0 1 0 -5.6 0ZM255.7 296.7a2.8 2.8 0 1 0 5.6 0a2.8 2.8 0 1 0 -5.6 0ZM257.9 296.8a2.8 2.8 0 1 0 5.6 0a2.8 2.8 0 1 0 -5.6 0ZM264.8 294a2.8 2.8 0 1 0 5.6 0a2.8 2.8 0 1 0 -5.6 0ZM267.4 292.6a2.8 2.8 0 1 0 5.6 0a2.8 2.8 0 1 0 -5.6 0ZM268.5 294.4a2.8 2.8 0 1 0 5.6 0a2.8 2.8 0 1 0 -5.6 0ZM270.9 292.7a2.8 2.8 0 1 0 5.6 0a2.8 2.8 0 1 0 -5.6 0ZM275.7 291.2a2.8 2.8 0 1 0 5.6 0a2.8 2.8 0 1 0 -5.6 0ZM274.5 289.9a2.8 2.8 0 1 0 5.6 0a2.8 2.8 0 1 0 -5.6 0ZM275.4 290.9a2.8 2.8 0 1 0 5.6 0a2.8 2.8 0 1 0 -5.6 0ZM275.9 295.7a2.8 2.8 0 1 0 5.6 0a2.8 2.8 0 1 0 -5.6 0ZM277.4 297.1a2.8 2.8 0 1 0 5.6 0a2.8 2.8 0 1 0 -5.6 0ZM280.1 299.4a2.8 2.8 0 1 0 5.6 0a2.8 2.8 0 1 0 -5.6 0ZM280.1 300.6a2.8 2.8 0 1 0 5.6 0a2.8 2.8 0 1 0 -5.6 0ZM288.1 303.1a2.8 2.8 0 1 0 5.6 0a2.8 2.8 0 1 0 -5.6 0ZM291 296.4a2.8 2.8 0 1 0 5.6 0a2.8 2.8 0 1 0 -5.6 0ZM291.2 294.2a2.8 2.8 0 1 0 5.6 0a2.8 2.8 0 1 0 -5.6 0ZM293.2 292.9a2.8 2.8 0 1 0 5.6 0a2.8 2.8 0 1 0 -5.6 0ZM294.2 284.6a2.8 2.8 0 1 0 5.6 0a2.8 2.8 0 1 0 -5.6 0ZM292.8 281.5a2.8 2.8 0 1 0 5.6 0a2.8 2.8 0 1 0 -5.6 0ZM291.7 279.4a2.8 2.8 0 1 0 5.6 0a2.8 2.8 0 1 0 -5.6 0ZM294.3 271.2a2.8 2.8 0 1 0 5.6 0a2.8 2.8 0 1 0 -5.6 0ZM295.5 269.1a2.8 2.8 0 1 0 5.6 0a2.8 2.8 0 1 0 -5.6 0ZM293.7 267a2.8 2.8 0 1 0 5.6 0a2.8 2.8 0 1 0 -5.6 0ZM295.4 265.2a2.8 2.8 0 1 0 5.6 0a2.8 2.8 0 1 0 -5.6 0ZM294.4 264.3a2.8 2.8 0 1 0 5.6 0a2.8 2.8 0 1 0 -5.6 0ZM293.8 263.1a2.8 2.8 0 1 0 5.6 0a2.8 2.8 0 1 0 -5.6 0ZM294.9 258.9a2.8 2.8 0 1 0 5.6 0a2.8 2.8 0 1 0 -5.6 0ZM295.8 257.6a2.8 2.8 0 1 0 5.6 0a2.8 2.8 0 1 0 -5.6 0ZM297.2 256.5a2.8 2.8 0 1 0 5.6 0a2.8 2.8 0 1 0 -5.6 0ZM295 250.2a2.8 2.8 0 1 0 5.6 0a2.8 2.8 0 1 0 -5.6 0ZM296.8 247a2.8 2.8 0 1 0 5.6 0a2.8 2.8 0 1 0 -5.6 0ZM300.6 245.8a2.8 2.8 0 1 0 5.6 0a2.8 2.8 0 1 0 -5.6 0ZM301.5 240.4a2.8 2.8 0 1 0 5.6 0a2.8 2.8 0 1 0 -5.6 0ZM303.5 239a2.8 2.8 0 1 0 5.6 0a2.8 2.8 0 1 0 -5.6 0ZM305.4 236.8a2.8 2.8 0 1 0 5.6 0a2.8 2.8 0 1 0 -5.6 0ZM305.3 231.7a2.8 2.8 0 1 0 5.6 0a2.8 2.8 0 1 0 -5.6 0ZM307.7 229.2a2.8 2.8 0 1 0 5.6 0a2.8 2.8 0 1 0 -5.6 0ZM308.5 225.6a2.8 2.8 0 1 0 5.6 0a2.8 2.8 0 1 0 -5.6 0ZM303.6 223.6a2.8 2.8 0 1 0 5.6 0a2.8 2.8 0 1 0 -5.6 0ZM303.5 225.6a2.8 2.8 0 1 0 5.6 0a2.8 2.8 0 1 0 -5.6 0ZM304.1 228.4a2.8 2.8 0 1 0 5.6 0a2.8 2.8 0 1 0 -5.6 0ZM304 229.2a2.8 2.8 0 1 0 5.6 0a2.8 2.8 0 1 0 -5.6 0ZM305.5 230.9a2.8 2.8 0 1 0 5.6 0a2.8 2.8 0 1 0 -5.6 0ZM304.6 234.7a2.8 2.8 0 1 0 5.6 0a2.8 2.8 0 1 0 -5.6 0ZM305.7 239.4a2.8 2.8 0 1 0 5.6 0a2.8 2.8 0 1 0 -5.6 0ZM306.1 241.2a2.8 2.8 0 1 0 5.6 0a2.8 2.8 0 1 0 -5.6 0ZM305.5 244.7a2.8 2.8 0 1 0 5.6 0a2.8 2.8 0 1 0 -5.6 0ZM307.5 246.1a2.8 2.8 0 1 0 5.6 0a2.8 2.8 0 1 0 -5.6 0ZM310.9 247.5a2.8 2.8 0 1 0 5.6 0a2.8 2.8 0 1 0 -5.6 0ZM309.6 249.9a2.8 2.8 0 1 0 5.6 0a2.8 2.8 0 1 0 -5.6 0ZM312.6 250.5a2.8 2.8 0 1 0 5.6 0a2.8 2.8 0 1 0 -5.6 0ZM320.5 247.6a2.8 2.8 0 1 0 5.6 0a2.8 2.8 0 1 0 -5.6 0ZM318 247.9a2.8 2.8 0 1 0 5.6 0a2.8 2.8 0 1 0 -5.6 0ZM320.8 251.3a2.8 2.8 0 1 0 5.6 0a2.8 2.8 0 1 0 -5.6 0ZM319.6 250.4a2.8 2.8 0 1 0 5.6 0a2.8 2.8 0 1 0 -5.6 0ZM323.6 250.2a2.8 2.8 0 1 0 5.6 0a2.8 2.8 0 1 0 -5.6 0ZM323.8 253.2a2.8 2.8 0 1 0 5.6 0a2.8 2.8 0 1 0 -5.6 0ZM326.4 253.7a2.8 2.8 0 1 0 5.6 0a2.8 2.8 0 1 0 -5.6 0ZM326.1 255.4a2.8 2.8 0 1 0 5.6 0a2.8 2.8 0 1 0 -5.6 0ZM327.5 256.5a2.8 2.8 0 1 0 5.6 0a2.8 2.8 0 1 0 -5.6 0ZM328.8 259.2a2.8 2.8 0 1 0 5.6 0a2.8 2.8 0 1 0 -5.6 0ZM331.2 266.1a2.8 2.8 0 1 0 5.6 0a2.8 2.8 0 1 0 -5.6 0ZM332.6 268.8a2.8 2.8 0 1 0 5.6 0a2.8 2.8 0 1 0 -5.6 0ZM332 271.1a2.8 2.8 0 1 0 5.6 0a2.8 2.8 0 1 0 -5.6 0ZM334.4 278.7a2.8 2.8 0 1 0 5.6 0a2.8 2.8 0 1 0 -5.6 0ZM336.1 288.2a2.8 2.8 0 1 0 5.6 0a2.8 2.8 0 1 0 -5.6 0ZM338.8 289.8a2.8 2.8 0 1 0 5.6 0a2.8 2.8 0 1 0 -5.6 0ZM337.4 292.8a2.8 2.8 0 1 0 5.6 0a2.8 2.8 0 1 0 -5.6 0ZM339.3 295.6a2.8 2.8 0 1 0 5.6 0a2.8 2.8 0 1 0 -5.6 0ZM347 297.5a2.8 2.8 0 1 0 5.6 0a2.8 2.8 0 1 0 -5.6 0ZM350.5 294.6a2.8 2.8 0 1 0 5.6 0a2.8 2.8 0 1 0 -5.6 0ZM347.4 293.3a2.8 2.8 0 1 0 5.6 0a2.8 2.8 0 1 0 -5.6 0ZM346.3 295a2.8 2.8 0 1 0 5.6 0a2.8 2.8 0 1 0 -5.6 0ZM346.7 298.3a2.8 2.8 0 1 0 5.6 0a2.8 2.8 0 1 0 -5.6 0ZM348.8 298.9a2.8 2.8 0 1 0 5.6 0a2.8 2.8 0 1 0 -5.6 0ZM359 305.4a2.8 2.8 0 1 0 5.6 0a2.8 2.8 0 1 0 -5.6 0ZM364 305.2a2.8 2.8 0 1 0 5.6 0a2.8 2.8 0 1 0 -5.6 0ZM365.1 307.6a2.8 2.8 0 1 0 5.6 0a2.8 2.8 0 1 0 -5.6 0ZM372.6 306.2a2.8 2.8 0 1 0 5.6 0a2.8 2.8 0 1 0 -5.6 0ZM374.7 307.3a2.8 2.8 0 1 0 5.6 0a2.8 2.8 0 1 0 -5.6 0ZM378.5 306.2a2.8 2.8 0 1 0 5.6 0a2.8 2.8 0 1 0 -5.6 0ZM379.3 305.5a2.8 2.8 0 1 0 5.6 0a2.8 2.8 0 1 0 -5.6 0ZM379.7 304.1a2.8 2.8 0 1 0 5.6 0a2.8 2.8 0 1 0 -5.6 0ZM383.3 306.3a2.8 2.8 0 1 0 5.6 0a2.8 2.8 0 1 0 -5.6 0ZM387.9 305a2.8 2.8 0 1 0 5.6 0a2.8 2.8 0 1 0 -5.6 0ZM392.2 303.4a2.8 2.8 0 1 0 5.6 0a2.8 2.8 0 1 0 -5.6 0ZM393.2 301.4a2.8 2.8 0 1 0 5.6 0a2.8 2.8 0 1 0 -5.6 0ZM394.2 299.6a2.8 2.8 0 1 0 5.6 0a2.8 2.8 0 1 0 -5.6 0ZM393.6 297.1a2.8 2.8 0 1 0 5.6 0a2.8 2.8 0 1 0 -5.6 0ZM396.3 295.7a2.8 2.8 0 1 0 5.6 0a2.8 2.8 0 1 0 -5.6 0ZM396.9 293.2a2.8 2.8 0 1 0 5.6 0a2.8 2.8 0 1 0 -5.6 0ZM396.9 291a2.8 2.8 0 1 0 5.6 0a2.8 2.8 0 1 0 -5.6 0ZM396.4 288.1a2.8 2.8 0 1 0 5.6 0a2.8 2.8 0 1 0 -5.6 0ZM397.4 284.6a2.8 2.8 0 1 0 5.6 0a2.8 2.8 0 1 0 -5.6 0ZM396.5 283.1a2.8 2.8 0 1 0 5.6 0a2.8 2.8 0 1 0 -5.6 0ZM396 282.1a2.8 2.8 0 1 0 5.6 0a2.8 2.8 0 1 0 -5.6 0ZM397.2 282.5a2.8 2.8 0 1 0 5.6 0a2.8 2.8 0 1 0 -5.6 0ZM395.7 284.6a2.8 2.8 0 1 0 5.6 0a2.8 2.8 0 1 0 -5.6 0ZM402.4 293a2.8 2.8 0 1 0 5.6 0a2.8 2.8 0 1 0 -5.6 0ZM402.8 297.2a2.8 2.8 0 1 0 5.6 0a2.8 2.8 0 1 0 -5.6 0ZM402.3 298.2a2.8 2.8 0 1 0 5.6 0a2.8 2.8 0 1 0 -5.6 0ZM405.9 299.5a2.8 2.8 0 1 0 5.6 0a2.8 2.8 0 1 0 -5.6 0ZM406 302.7a2.8 2.8 0 1 0 5.6 0a2.8 2.8 0 1 0 -5.6 0ZM408.9 302.3a2.8 2.8 0 1 0 5.6 0a2.8 2.8 0 1 0 -5.6 0ZM411 303.3a2.8 2.8 0 1 0 5.6 0a2.8 2.8 0 1 0 -5.6 0ZM411.5 306.3a2.8 2.8 0 1 0 5.6 0a2.8 2.8 0 1 0 -5.6 0ZM413.5 307.3a2.8 2.8 0 1 0 5.6 0a2.8 2.8 0 1 0 -5.6 0ZM421.2 306a2.8 2.8 0 1 0 5.6 0a2.8 2.8 0 1 0 -5.6 0ZM422.1 304a2.8 2.8 0 1 0 5.6 0a2.8 2.8 0 1 0 -5.6 0ZM424.4 303.5a2.8 2.8 0 1 0 5.6 0a2.8 2.8 0 1 0 -5.6 0ZM427.4 298.7a2.8 2.8 0 1 0 5.6 0a2.8 2.8 0 1 0 -5.6 0ZM427 296.4a2.8 2.8 0 1 0 5.6 0a2.8 2.8 0 1 0 -5.6 0ZM428.8 294.1a2.8 2.8 0 1 0 5.6 0a2.8 2.8 0 1 0 -5.6 0ZM431.9 293.7a2.8 2.8 0 1 0 5.6 0a2.8 2.8 0 1 0 -5.6 0ZM430.6 291.5a2.8 2.8 0 1 0 5.6 0a2.8 2.8 0 1 0 -5.6 0ZM434 290.2a2.8 2.8 0 1 0 5.6 0a2.8 2.8 0 1 0 -5.6 0ZM428.9 288.7a2.8 2.8 0 1 0 5.6 0a2.8 2.8 0 1 0 -5.6 0ZM433.4 291.2a2.8 2.8 0 1 0 5.6 0a2.8 2.8 0 1 0 -5.6 0ZM440 290.4a2.8 2.8 0 1 0 5.6 0a2.8 2.8 0 1 0 -5.6 0ZM439.1 285.3a2.8 2.8 0 1 0 5.6 0a2.8 2.8 0 1 0 -5.6 0ZM442.6 283a2.8 2.8 0 1 0 5.6 0a2.8 2.8 0 1 0 -5.6 0ZM441.4 274.2a2.8 2.8 0 1 0 5.6 0a2.8 2.8 0 1 0 -5.6 0ZM444.4 269.9a2.8 2.8 0 1 0 5.6 0a2.8 2.8 0 1 0 -5.6 0ZM443.2 269.2a2.8 2.8 0 1 0 5.6 0a2.8 2.8 0 1 0 -5.6 0ZM445.1 263.7a2.8 2.8 0 1 0 5.6 0a2.8 2.8 0 1 0 -5.6 0ZM444.4 261.2a2.8 2.8 0 1 0 5.6 0a2.8 2.8 0 1 0 -5.6 0ZM445.7 257.8a2.8 2.8 0 1 0 5.6 0a2.8 2.8 0 1 0 -5.6 0ZM446.1 250.5a2.8 2.8 0 1 0 5.6 0a2.8 2.8 0 1 0 -5.6 0ZM446.1 250.7a2.8 2.8 0 1 0 5.6 0a2.8 2.8 0 1 0 -5.6 0ZM453.6 249a2.8 2.8 0 1 0 5.6 0a2.8 2.8 0 1 0 -5.6 0ZM452.8 246.7a2.8 2.8 0 1 0 5.6 0a2.8 2.8 0 1 0 -5.6 0ZM456.2 246.8a2.8 2.8 0 1 0 5.6 0a2.8 2.8 0 1 0 -5.6 0ZM456.2 249.5a2.8 2.8 0 1 0 5.6 0a2.8 2.8 0 1 0 -5.6 0ZM460 250.7a2.8 2.8 0 1 0 5.6 0a2.8 2.8 0 1 0 -5.6 0ZM460.7 252.4a2.8 2.8 0 1 0 5.6 0a2.8 2.8 0 1 0 -5.6 0ZM462.2 254.4a2.8 2.8 0 1 0 5.6 0a2.8 2.8 0 1 0 -5.6 0ZM461.5 258.5a2.8 2.8 0 1 0 5.6 0a2.8 2.8 0 1 0 -5.6 0ZM464.5 258.8a2.8 2.8 0 1 0 5.6 0a2.8 2.8 0 1 0 -5.6 0ZM466.1 261.6a2.8 2.8 0 1 0 5.6 0a2.8 2.8 0 1 0 -5.6 0ZM464.5 266.1a2.8 2.8 0 1 0 5.6 0a2.8 2.8 0 1 0 -5.6 0ZM469.3 274.1a2.8 2.8 0 1 0 5.6 0a2.8 2.8 0 1 0 -5.6 0ZM477.4 268.9a2.8 2.8 0 1 0 5.6 0a2.8 2.8 0 1 0 -5.6 0ZM473.2 268.2a2.8 2.8 0 1 0 5.6 0a2.8 2.8 0 1 0 -5.6 0ZM473.1 270.2a2.8 2.8 0 1 0 5.6 0a2.8 2.8 0 1 0 -5.6 0ZM474.9 275.4a2.8 2.8 0 1 0 5.6 0a2.8 2.8 0 1 0 -5.6 0ZM474.3 278.6a2.8 2.8 0 1 0 5.6 0a2.8 2.8 0 1 0 -5.6 0ZM475.5 278.3a2.8 2.8 0 1 0 5.6 0a2.8 2.8 0 1 0 -5.6 0ZM478.2 280.6a2.8 2.8 0 1 0 5.6 0a2.8 2.8 0 1 0 -5.6 0ZM479.6 281.7a2.8 2.8 0 1 0 5.6 0a2.8 2.8 0 1 0 -5.6 0ZM484.7 283.9a2.8 2.8 0 1 0 5.6 0a2.8 2.8 0 1 0 -5.6 0ZM484 281.5a2.8 2.8 0 1 0 5.6 0a2.8 2.8 0 1 0 -5.6 0ZM481.3 283.4a2.8 2.8 0 1 0 5.6 0a2.8 2.8 0 1 0 -5.6 0ZM481.3 284.4a2.8 2.8 0 1 0 5.6 0a2.8 2.8 0 1 0 -5.6 0ZM484.4 288.9a2.8 2.8 0 1 0 5.6 0a2.8 2.8 0 1 0 -5.6 0ZM483.5 291a2.8 2.8 0 1 0 5.6 0a2.8 2.8 0 1 0 -5.6 0ZM491.1 299.2a2.8 2.8 0 1 0 5.6 0a2.8 2.8 0 1 0 -5.6 0ZM496.3 299.9a2.8 2.8 0 1 0 5.6 0a2.8 2.8 0 1 0 -5.6 0ZM500 300.9a2.8 2.8 0 1 0 5.6 0a2.8 2.8 0 1 0 -5.6 0ZM508 292.6a2.8 2.8 0 1 0 5.6 0a2.8 2.8 0 1 0 -5.6 0ZM510.3 289.4a2.8 2.8 0 1 0 5.6 0a2.8 2.8 0 1 0 -5.6 0ZM508.3 287.1a2.8 2.8 0 1 0 5.6 0a2.8 2.8 0 1 0 -5.6 0ZM510.7 288.4a2.8 2.8 0 1 0 5.6 0a2.8 2.8 0 1 0 -5.6 0ZM513.8 283.3a2.8 2.8 0 1 0 5.6 0a2.8 2.8 0 1 0 -5.6 0ZM518.5 280.6a2.8 2.8 0 1 0 5.6 0a2.8 2.8 0 1 0 -5.6 0ZM519.4 279.5a2.8 2.8 0 1 0 5.6 0a2.8 2.8 0 1 0 -5.6 0ZM521 269.7a2.8 2.8 0 1 0 5.6 0a2.8 2.8 0 1 0 -5.6 0ZM522.8 269.2a2.8 2.8 0 1 0 5.6 0a2.8 2.8 0 1 0 -5.6 0ZM516.9 268.1a2.8 2.8 0 1 0 5.6 0a2.8 2.8 0 1 0 -5.6 0ZM516.6 271.2a2.8 2.8 0 1 0 5.6 0a2.8 2.8 0 1 0 -5.6 0ZM515.5 272.5a2.8 2.8 0 1 0 5.6 0a2.8 2.8 0 1 0 -5.6 0ZM516.6 273.8a2.8 2.8 0 1 0 5.6 0a2.8 2.8 0 1 0 -5.6 0ZM518.1 279.5a2.8 2.8 0 1 0 5.6 0a2.8 2.8 0 1 0 -5.6 0ZM526.6 281.5a2.8 2.8 0 1 0 5.6 0a2.8 2.8 0 1 0 -5.6 0ZM531.1 278.2a2.8 2.8 0 1 0 5.6 0a2.8 2.8 0 1 0 -5.6 0ZM531.6 274.8a2.8 2.8 0 1 0 5.6 0a2.8 2.8 0 1 0 -5.6 0ZM533.6 273.7a2.8 2.8 0 1 0 5.6 0a2.8 2.8 0 1 0 -5.6 0ZM533 271.9a2.8 2.8 0 1 0 5.6 0a2.8 2.8 0 1 0 -5.6 0ZM531.8 270.1a2.8 2.8 0 1 0 5.6 0a2.8 2.8 0 1 0 -5.6 0ZM533.7 269a2.8 2.8 0 1 0 5.6 0a2.8 2.8 0 1 0 -5.6 0ZM533.7 265.8a2.8 2.8 0 1 0 5.6 0a2.8 2.8 0 1 0 -5.6 0ZM534.6 261.7a2.8 2.8 0 1 0 5.6 0a2.8 2.8 0 1 0 -5.6 0ZM535.3 258.6a2.8 2.8 0 1 0 5.6 0a2.8 2.8 0 1 0 -5.6 0ZM537.9 256.6a2.8 2.8 0 1 0 5.6 0a2.8 2.8 0 1 0 -5.6 0ZM538.4 255.7a2.8 2.8 0 1 0 5.6 0a2.8 2.8 0 1 0 -5.6 0ZM532.7 254.1a2.8 2.8 0 1 0 5.6 0a2.8 2.8 0 1 0 -5.6 0ZM533.5 258.2a2.8 2.8 0 1 0 5.6 0a2.8 2.8 0 1 0 -5.6 0ZM532 261a2.8 2.8 0 1 0 5.6 0a2.8 2.8 0 1 0 -5.6 0ZM533 261.4a2.8 2.8 0 1 0 5.6 0a2.8 2.8 0 1 0 -5.6 0ZM532.8 263a2.8 2.8 0 1 0 5.6 0a2.8 2.8 0 1 0 -5.6 0ZM535.3 265.8a2.8 2.8 0 1 0 5.6 0a2.8 2.8 0 1 0 -5.6 0ZM537.1 267.9a2.8 2.8 0 1 0 5.6 0a2.8 2.8 0 1 0 -5.6 0ZM544 268.8a2.8 2.8 0 1 0 5.6 0a2.8 2.8 0 1 0 -5.6 0ZM542.6 266.6a2.8 2.8 0 1 0 5.6 0a2.8 2.8 0 1 0 -5.6 0ZM542.6 265.5a2.8 2.8 0 1 0 5.6 0a2.8 2.8 0 1 0 -5.6 0ZM542.8 262a2.8 2.8 0 1 0 5.6 0a2.8 2.8 0 1 0 -5.6 0ZM546 261a2.8 2.8 0 1 0 5.6 0a2.8 2.8 0 1 0 -5.6 0ZM546.1 260.4a2.8 2.8 0 1 0 5.6 0a2.8 2.8 0 1 0 -5.6 0ZM546.9 256.7a2.8 2.8 0 1 0 5.6 0a2.8 2.8 0 1 0 -5.6 0ZM546.7 253a2.8 2.8 0 1 0 5.6 0a2.8 2.8 0 1 0 -5.6 0ZM541.7 255.7a2.8 2.8 0 1 0 5.6 0a2.8 2.8 0 1 0 -5.6 0ZM540.3 258.2a2.8 2.8 0 1 0 5.6 0a2.8 2.8 0 1 0 -5.6 0ZM541.9 258.4a2.8 2.8 0 1 0 5.6 0a2.8 2.8 0 1 0 -5.6 0ZM543.4 260.2a2.8 2.8 0 1 0 5.6 0a2.8 2.8 0 1 0 -5.6 0ZM541.5 263.3a2.8 2.8 0 1 0 5.6 0a2.8 2.8 0 1 0 -5.6 0ZM542.4 264.6a2.8 2.8 0 1 0 5.6 0a2.8 2.8 0 1 0 -5.6 0ZM545.1 266.2a2.8 2.8 0 1 0 5.6 0a2.8 2.8 0 1 0 -5.6 0ZM543.8 268a2.8 2.8 0 1 0 5.6 0a2.8 2.8 0 1 0 -5.6 0ZM544.4 269.4a2.8 2.8 0 1 0 5.6 0a2.8 2.8 0 1 0 -5.6 0ZM545.4 271.5a2.8 2.8 0 1 0 5.6 0a2.8 2.8 0 1 0 -5.6 0ZM545.1 272.3a2.8 2.8 0 1 0 5.6 0a2.8 2.8 0 1 0 -5.6 0ZM552.7 275.1a2.8 2.8 0 1 0 5.6 0a2.8 2.8 0 1 0 -5.6 0ZM554.3 271.4a2.8 2.8 0 1 0 5.6 0a2.8 2.8 0 1 0 -5.6 0ZM555.3 269.8a2.8 2.8 0 1 0 5.6 0a2.8 2.8 0 1 0 -5.6 0ZM557.1 267.9a2.8 2.8 0 1 0 5.6 0a2.8 2.8 0 1 0 -5.6 0ZM554.1 267.1a2.8 2.8 0 1 0 5.6 0a2.8 2.8 0 1 0 -5.6 0ZM555.2 272.6a2.8 2.8 0 1 0 5.6 0a2.8 2.8 0 1 0 -5.6 0ZM559.4 275.6a2.8 2.8 0 1 0 5.6 0a2.8 2.8 0 1 0 -5.6 0ZM569.5 274.6a2.8 2.8 0 1 0 5.6 0a2.8 2.8 0 1 0 -5.6 0ZM572.7 270.1a2.8 2.8 0 1 0 5.6 0a2.8 2.8 0 1 0 -5.6 0ZM572.6 268.9a2.8 2.8 0 1 0 5.6 0a2.8 2.8 0 1 0 -5.6 0ZM572.1 265.6a2.8 2.8 0 1 0 5.6 0a2.8 2.8 0 1 0 -5.6 0ZM575.2 263.5a2.8 2.8 0 1 0 5.6 0a2.8 2.8 0 1 0 -5.6 0ZM574.4 261.2a2.8 2.8 0 1 0 5.6 0a2.8 2.8 0 1 0 -5.6 0ZM573.7 259.5a2.8 2.8 0 1 0 5.6 0a2.8 2.8 0 1 0 -5.6 0ZM576.2 256.4a2.8 2.8 0 1 0 5.6 0a2.8 2.8 0 1 0 -5.6 0ZM575.1 252.5a2.8 2.8 0 1 0 5.6 0a2.8 2.8 0 1 0 -5.6 0ZM576.3 251.1a2.8 2.8 0 1 0 5.6 0a2.8 2.8 0 1 0 -5.6 0ZM569.7 249.8a2.8 2.8 0 1 0 5.6 0a2.8 2.8 0 1 0 -5.6 0ZM571 252.3a2.8 2.8 0 1 0 5.6 0a2.8 2.8 0 1 0 -5.6 0ZM572.5 253.7a2.8 2.8 0 1 0 5.6 0a2.8 2.8 0 1 0 -5.6 0ZM571.3 256.9a2.8 2.8 0 1 0 5.6 0a2.8 2.8 0 1 0 -5.6 0ZM571.6 258.4a2.8 2.8 0 1 0 5.6 0a2.8 2.8 0 1 0 -5.6 0ZM573.7 261.3a2.8 2.8 0 1 0 5.6 0a2.8 2.8 0 1 0 -5.6 0ZM574.4 266.7a2.8 2.8 0 1 0 5.6 0a2.8 2.8 0 1 0 -5.6 0ZM575.7 268.5a2.8 2.8 0 1 0 5.6 0a2.8 2.8 0 1 0 -5.6 0ZM577.6 274a2.8 2.8 0 1 0 5.6 0a2.8 2.8 0 1 0 -5.6 0ZM579.2 274.5a2.8 2.8 0 1 0 5.6 0a2.8 2.8 0 1 0 -5.6 0ZM580.8 274.6a2.8 2.8 0 1 0 5.6 0a2.8 2.8 0 1 0 -5.6 0ZM582.8 276.5a2.8 2.8 0 1 0 5.6 0a2.8 2.8 0 1 0 -5.6 0ZM584.4 278.5a2.8 2.8 0 1 0 5.6 0a2.8 2.8 0 1 0 -5.6 0ZM584.2 282.4a2.8 2.8 0 1 0 5.6 0a2.8 2.8 0 1 0 -5.6 0ZM590.6 282.1a2.8 2.8 0 1 0 5.6 0a2.8 2.8 0 1 0 -5.6 0ZM595.7 276a2.8 2.8 0 1 0 5.6 0a2.8 2.8 0 1 0 -5.6 0ZM599.6 274a2.8 2.8 0 1 0 5.6 0a2.8 2.8 0 1 0 -5.6 0ZM594.6 274.6a2.8 2.8 0 1 0 5.6 0a2.8 2.8 0 1 0 -5.6 0ZM597.5 274.8a2.8 2.8 0 1 0 5.6 0a2.8 2.8 0 1 0 -5.6 0ZM597.5 275.9a2.8 2.8 0 1 0 5.6 0a2.8 2.8 0 1 0 -5.6 0ZM599.5 277.5a2.8 2.8 0 1 0 5.6 0a2.8 2.8 0 1 0 -5.6 0ZM603.8 276.7a2.8 2.8 0 1 0 5.6 0a2.8 2.8 0 1 0 -5.6 0ZM605.4 276.4a2.8 2.8 0 1 0 5.6 0a2.8 2.8 0 1 0 -5.6 0ZM603.6 273.2a2.8 2.8 0 1 0 5.6 0a2.8 2.8 0 1 0 -5.6 0ZM604.6 276.5a2.8 2.8 0 1 0 5.6 0a2.8 2.8 0 1 0 -5.6 0ZM605.9 278.2a2.8 2.8 0 1 0 5.6 0a2.8 2.8 0 1 0 -5.6 0ZM607.6 279.6a2.8 2.8 0 1 0 5.6 0a2.8 2.8 0 1 0 -5.6 0ZM608.5 280.1a2.8 2.8 0 1 0 5.6 0a2.8 2.8 0 1 0 -5.6 0ZM607.9 283.2a2.8 2.8 0 1 0 5.6 0a2.8 2.8 0 1 0 -5.6 0ZM614.3 290.5a2.8 2.8 0 1 0 5.6 0a2.8 2.8 0 1 0 -5.6 0ZM615.2 292.9a2.8 2.8 0 1 0 5.6 0a2.8 2.8 0 1 0 -5.6 0ZM619.6 295.7a2.8 2.8 0 1 0 5.6 0a2.8 2.8 0 1 0 -5.6 0ZM624.7 296.9a2.8 2.8 0 1 0 5.6 0a2.8 2.8 0 1 0 -5.6 0ZM627.2 290.6a2.8 2.8 0 1 0 5.6 0a2.8 2.8 0 1 0 -5.6 0ZM629.1 288.1a2.8 2.8 0 1 0 5.6 0a2.8 2.8 0 1 0 -5.6 0ZM630.9 281.1a2.8 2.8 0 1 0 5.6 0a2.8 2.8 0 1 0 -5.6 0ZM631.2 277.6a2.8 2.8 0 1 0 5.6 0a2.8 2.8 0 1 0 -5.6 0ZM631.6 276.8a2.8 2.8 0 1 0 5.6 0a2.8 2.8 0 1 0 -5.6 0ZM630.7 273.4a2.8 2.8 0 1 0 5.6 0a2.8 2.8 0 1 0 -5.6 0ZM633.3 273.6a2.8 2.8 0 1 0 5.6 0a2.8 2.8 0 1 0 -5.6 0ZM627.8 272.1a2.8 2.8 0 1 0 5.6 0a2.8 2.8 0 1 0 -5.6 0ZM627.6 275.6a2.8 2.8 0 1 0 5.6 0a2.8 2.8 0 1 0 -5.6 0ZM631.3 279.4a2.8 2.8 0 1 0 5.6 0a2.8 2.8 0 1 0 -5.6 0ZM637.3 288a2.8 2.8 0 1 0 5.6 0a2.8 2.8 0 1 0 -5.6 0ZM640.8 286.3a2.8 2.8 0 1 0 5.6 0a2.8 2.8 0 1 0 -5.6 0ZM640 288.6a2.8 2.8 0 1 0 5.6 0a2.8 2.8 0 1 0 -5.6 0ZM645.8 294.5a2.8 2.8 0 1 0 5.6 0a2.8 2.8 0 1 0 -5.6 0ZM648.4 298.6a2.8 2.8 0 1 0 5.6 0a2.8 2.8 0 1 0 -5.6 0ZM650.1 299.6a2.8 2.8 0 1 0 5.6 0a2.8 2.8 0 1 0 -5.6 0ZM657.2 302.7a2.8 2.8 0 1 0 5.6 0a2.8 2.8 0 1 0 -5.6 0ZM659.9 300.6a2.8 2.8 0 1 0 5.6 0a2.8 2.8 0 1 0 -5.6 0ZM661.2 299.3a2.8 2.8 0 1 0 5.6 0a2.8 2.8 0 1 0 -5.6 0ZM666.7 295.5a2.8 2.8 0 1 0 5.6 0a2.8 2.8 0 1 0 -5.6 0ZM666.5 292.8a2.8 2.8 0 1 0 5.6 0a2.8 2.8 0 1 0 -5.6 0ZM668 291.1a2.8 2.8 0 1 0 5.6 0a2.8 2.8 0 1 0 -5.6 0ZM670 288.2a2.8 2.8 0 1 0 5.6 0a2.8 2.8 0 1 0 -5.6 0ZM671.2 287.2a2.8 2.8 0 1 0 5.6 0a2.8 2.8 0 1 0 -5.6 0ZM673.8 290.8a2.8 2.8 0 1 0 5.6 0a2.8 2.8 0 1 0 -5.6 0ZM674 292.3a2.8 2.8 0 1 0 5.6 0a2.8 2.8 0 1 0 -5.6 0ZM679.2 291a2.8 2.8 0 1 0 5.6 0a2.8 2.8 0 1 0 -5.6 0ZM680 288.7a2.8 2.8 0 1 0 5.6 0a2.8 2.8 0 1 0 -5.6 0ZM683.5 291.7a2.8 2.8 0 1 0 5.6 0a2.8 2.8 0 1 0 -5.6 0ZM683.4 295.3a2.8 2.8 0 1 0 5.6 0a2.8 2.8 0 1 0 -5.6 0ZM685.3 296.2a2.8 2.8 0 1 0 5.6 0a2.8 2.8 0 1 0 -5.6 0ZM687.5 296a2.8 2.8 0 1 0 5.6 0a2.8 2.8 0 1 0 -5.6 0ZM696.3 293.8a2.8 2.8 0 1 0 5.6 0a2.8 2.8 0 1 0 -5.6 0ZM703.5 285.9a2.8 2.8 0 1 0 5.6 0a2.8 2.8 0 1 0 -5.6 0ZM702.8 284.4a2.8 2.8 0 1 0 5.6 0a2.8 2.8 0 1 0 -5.6 0ZM703.1 280.1a2.8 2.8 0 1 0 5.6 0a2.8 2.8 0 1 0 -5.6 0ZM704.2 274.1a2.8 2.8 0 1 0 5.6 0a2.8 2.8 0 1 0 -5.6 0ZM700.8 273.9a2.8 2.8 0 1 0 5.6 0a2.8 2.8 0 1 0 -5.6 0ZM699.1 276.5a2.8 2.8 0 1 0 5.6 0a2.8 2.8 0 1 0 -5.6 0ZM704.4 279.8a2.8 2.8 0 1 0 5.6 0a2.8 2.8 0 1 0 -5.6 0ZM710.4 281.2a2.8 2.8 0 1 0 5.6 0a2.8 2.8 0 1 0 -5.6 0ZM712.2 279.3a2.8 2.8 0 1 0 5.6 0a2.8 2.8 0 1 0 -5.6 0ZM713.5 277.3a2.8 2.8 0 1 0 5.6 0a2.8 2.8 0 1 0 -5.6 0ZM710 276.9a2.8 2.8 0 1 0 5.6 0a2.8 2.8 0 1 0 -5.6 0ZM713.1 279.7a2.8 2.8 0 1 0 5.6 0a2.8 2.8 0 1 0 -5.6 0ZM714.3 281a2.8 2.8 0 1 0 5.6 0a2.8 2.8 0 1 0 -5.6 0ZM726.5 281a2.8 2.8 0 1 0 5.6 0a2.8 2.8 0 1 0 -5.6 0ZM726.7 279.8a2.8 2.8 0 1 0 5.6 0a2.8 2.8 0 1 0 -5.6 0ZM730.4 266.3a2.8 2.8 0 1 0 5.6 0a2.8 2.8 0 1 0 -5.6 0ZM724.7 267.5a2.8 2.8 0 1 0 5.6 0a2.8 2.8 0 1 0 -5.6 0ZM731.5 271.2a2.8 2.8 0 1 0 5.6 0a2.8 2.8 0 1 0 -5.6 0ZM735.7 273.5a2.8 2.8 0 1 0 5.6 0a2.8 2.8 0 1 0 -5.6 0ZM737.8 273.6a2.8 2.8 0 1 0 5.6 0a2.8 2.8 0 1 0 -5.6 0ZM745.2 269.8a2.8 2.8 0 1 0 5.6 0a2.8 2.8 0 1 0 -5.6 0ZM742.8 267.2a2.8 2.8 0 1 0 5.6 0a2.8 2.8 0 1 0 -5.6 0ZM745 262.3a2.8 2.8 0 1 0 5.6 0a2.8 2.8 0 1 0 -5.6 0ZM745.3 259.1a2.8 2.8 0 1 0 5.6 0a2.8 2.8 0 1 0 -5.6 0ZM748.6 259.7a2.8 2.8 0 1 0 5.6 0a2.8 2.8 0 1 0 -5.6 0ZM750.3 255.7a2.8 2.8 0 1 0 5.6 0a2.8 2.8 0 1 0 -5.6 0ZM753.3 251.7a2.8 2.8 0 1 0 5.6 0a2.8 2.8 0 1 0 -5.6 0ZM748.4 251.2a2.8 2.8 0 1 0 5.6 0a2.8 2.8 0 1 0 -5.6 0ZM748.9 253.4a2.8 2.8 0 1 0 5.6 0a2.8 2.8 0 1 0 -5.6 0ZM750.5 256.6a2.8 2.8 0 1 0 5.6 0a2.8 2.8 0 1 0 -5.6 0ZM756.2 264.8a2.8 2.8 0 1 0 5.6 0a2.8 2.8 0 1 0 -5.6 0ZM759.2 260.4a2.8 2.8 0 1 0 5.6 0a2.8 2.8 0 1 0 -5.6 0ZM762.9 252.7a2.8 2.8 0 1 0 5.6 0a2.8 2.8 0 1 0 -5.6 0ZM766.7 251a2.8 2.8 0 1 0 5.6 0a2.8 2.8 0 1 0 -5.6 0ZM766.6 249.2a2.8 2.8 0 1 0 5.6 0a2.8 2.8 0 1 0 -5.6 0ZM769.5 247.8a2.8 2.8 0 1 0 5.6 0a2.8 2.8 0 1 0 -5.6 0ZM772.7 243.3a2.8 2.8 0 1 0 5.6 0a2.8 2.8 0 1 0 -5.6 0ZM772.7 241.3a2.8 2.8 0 1 0 5.6 0a2.8 2.8 0 1 0 -5.6 0ZM773.2 239.6a2.8 2.8 0 1 0 5.6 0a2.8 2.8 0 1 0 -5.6 0ZM775.4 241.2a2.8 2.8 0 1 0 5.6 0a2.8 2.8 0 1 0 -5.6 0ZM783.7 240.2a2.8 2.8 0 1 0 5.6 0a2.8 2.8 0 1 0 -5.6 0ZM785.6 239a2.8 2.8 0 1 0 5.6 0a2.8 2.8 0 1 0 -5.6 0ZM788.3 233a2.8 2.8 0 1 0 5.6 0a2.8 2.8 0 1 0 -5.6 0ZM789.3 233.3a2.8 2.8 0 1 0 5.6 0a2.8 2.8 0 1 0 -5.6 0ZM789.2 227.8a2.8 2.8 0 1 0 5.6 0a2.8 2.8 0 1 0 -5.6 0ZM791 225.2a2.8 2.8 0 1 0 5.6 0a2.8 2.8 0 1 0 -5.6 0ZM793.2 223.9a2.8 2.8 0 1 0 5.6 0a2.8 2.8 0 1 0 -5.6 0ZM793.3 222a2.8 2.8 0 1 0 5.6 0a2.8 2.8 0 1 0 -5.6 0ZM799.8 216.2a2.8 2.8 0 1 0 5.6 0a2.8 2.8 0 1 0 -5.6 0ZM804.1 213.2a2.8 2.8 0 1 0 5.6 0a2.8 2.8 0 1 0 -5.6 0ZM803.6 211.8a2.8 2.8 0 1 0 5.6 0a2.8 2.8 0 1 0 -5.6 0ZM805.4 211.5a2.8 2.8 0 1 0 5.6 0a2.8 2.8 0 1 0 -5.6 0ZM807.3 209.7a2.8 2.8 0 1 0 5.6 0a2.8 2.8 0 1 0 -5.6 0ZM807.9 206.8a2.8 2.8 0 1 0 5.6 0a2.8 2.8 0 1 0 -5.6 0ZM811.6 206.2a2.8 2.8 0 1 0 5.6 0a2.8 2.8 0 1 0 -5.6 0ZM812.8 206.1a2.8 2.8 0 1 0 5.6 0a2.8 2.8 0 1 0 -5.6 0ZM814.7 204.4a2.8 2.8 0 1 0 5.6 0a2.8 2.8 0 1 0 -5.6 0ZM816.5 204.1a2.8 2.8 0 1 0 5.6 0a2.8 2.8 0 1 0 -5.6 0ZM819.9 202.9a2.8 2.8 0 1 0 5.6 0a2.8 2.8 0 1 0 -5.6 0ZM821.8 201.3a2.8 2.8 0 1 0 5.6 0a2.8 2.8 0 1 0 -5.6 0ZM827.9 202.4a2.8 2.8 0 1 0 5.6 0a2.8 2.8 0 1 0 -5.6 0ZM824.4 201.9a2.8 2.8 0 1 0 5.6 0a2.8 2.8 0 1 0 -5.6 0ZM826.1 203.4a2.8 2.8 0 1 0 5.6 0a2.8 2.8 0 1 0 -5.6 0ZM827.4 206.1a2.8 2.8 0 1 0 5.6 0a2.8 2.8 0 1 0 -5.6 0ZM828.5 209.5a2.8 2.8 0 1 0 5.6 0a2.8 2.8 0 1 0 -5.6 0ZM834.6 212.5a2.8 2.8 0 1 0 5.6 0a2.8 2.8 0 1 0 -5.6 0ZM836.5 210.3a2.8 2.8 0 1 0 5.6 0a2.8 2.8 0 1 0 -5.6 0ZM839.6 210.8a2.8 2.8 0 1 0 5.6 0a2.8 2.8 0 1 0 -5.6 0ZM841.8 210.2a2.8 2.8 0 1 0 5.6 0a2.8 2.8 0 1 0 -5.6 0ZM838.1 206.9a2.8 2.8 0 1 0 5.6 0a2.8 2.8 0 1 0 -5.6 0ZM837.1 209.9a2.8 2.8 0 1 0 5.6 0a2.8 2.8 0 1 0 -5.6 0ZM852.3 206.3a2.8 2.8 0 1 0 5.6 0a2.8 2.8 0 1 0 -5.6 0ZM854.1 202.7a2.8 2.8 0 1 0 5.6 0a2.8 2.8 0 1 0 -5.6 0ZM856.3 203.4a2.8 2.8 0 1 0 5.6 0a2.8 2.8 0 1 0 -5.6 0ZM860.7 200.4a2.8 2.8 0 1 0 5.6 0a2.8 2.8 0 1 0 -5.6 0ZM860.6 198.6a2.8 2.8 0 1 0 5.6 0a2.8 2.8 0 1 0 -5.6 0ZM862.9 197.9a2.8 2.8 0 1 0 5.6 0a2.8 2.8 0 1 0 -5.6 0ZM868.6 194.3a2.8 2.8 0 1 0 5.6 0a2.8 2.8 0 1 0 -5.6 0ZM871.6 195.5a2.8 2.8 0 1 0 5.6 0a2.8 2.8 0 1 0 -5.6 0ZM873.2 194.3a2.8 2.8 0 1 0 5.6 0a2.8 2.8 0 1 0 -5.6 0ZM878.1 196.3a2.8 2.8 0 1 0 5.6 0a2.8 2.8 0 1 0 -5.6 0ZM876.5 192.5a2.8 2.8 0 1 0 5.6 0a2.8 2.8 0 1 0 -5.6 0ZM877.3 196.1a2.8 2.8 0 1 0 5.6 0a2.8 2.8 0 1 0 -5.6 0ZM877.4 199.3a2.8 2.8 0 1 0 5.6 0a2.8 2.8 0 1 0 -5.6 0ZM877.8 203.3a2.8 2.8 0 1 0 5.6 0a2.8 2.8 0 1 0 -5.6 0ZM877.5 204.9a2.8 2.8 0 1 0 5.6 0a2.8 2.8 0 1 0 -5.6 0ZM875.7 207.4a2.8 2.8 0 1 0 5.6 0a2.8 2.8 0 1 0 -5.6 0ZM876.2 215.9a2.8 2.8 0 1 0 5.6 0a2.8 2.8 0 1 0 -5.6 0ZM877.8 218.3a2.8 2.8 0 1 0 5.6 0a2.8 2.8 0 1 0 -5.6 0ZM876.5 222.2a2.8 2.8 0 1 0 5.6 0a2.8 2.8 0 1 0 -5.6 0ZM876.3 226.5a2.8 2.8 0 1 0 5.6 0a2.8 2.8 0 1 0 -5.6 0ZM877.2 229.3a2.8 2.8 0 1 0 5.6 0a2.8 2.8 0 1 0 -5.6 0ZM876.9 230.3a2.8 2.8 0 1 0 5.6 0a2.8 2.8 0 1 0 -5.6 0ZM878.4 232.7a2.8 2.8 0 1 0 5.6 0a2.8 2.8 0 1 0 -5.6 0ZM876.9 236.4a2.8 2.8 0 1 0 5.6 0a2.8 2.8 0 1 0 -5.6 0ZM876.4 237.8a2.8 2.8 0 1 0 5.6 0a2.8 2.8 0 1 0 -5.6 0ZM878.9 243.1a2.8 2.8 0 1 0 5.6 0a2.8 2.8 0 1 0 -5.6 0ZM109.6 408.6a2.8 2.8 0 1 0 5.6 0a2.8 2.8 0 1 0 -5.6 0ZM111.1 403.1a2.8 2.8 0 1 0 5.6 0a2.8 2.8 0 1 0 -5.6 0ZM112.6 400.7a2.8 2.8 0 1 0 5.6 0a2.8 2.8 0 1 0 -5.6 0ZM116.1 394.7a2.8 2.8 0 1 0 5.6 0a2.8 2.8 0 1 0 -5.6 0ZM118.4 391.4a2.8 2.8 0 1 0 5.6 0a2.8 2.8 0 1 0 -5.6 0ZM119.4 389.7a2.8 2.8 0 1 0 5.6 0a2.8 2.8 0 1 0 -5.6 0ZM120.7 387.5a2.8 2.8 0 1 0 5.6 0a2.8 2.8 0 1 0 -5.6 0ZM125.2 381.2a2.8 2.8 0 1 0 5.6 0a2.8 2.8 0 1 0 -5.6 0ZM128.1 375.2a2.8 2.8 0 1 0 5.6 0a2.8 2.8 0 1 0 -5.6 0ZM129.9 374.7a2.8 2.8 0 1 0 5.6 0a2.8 2.8 0 1 0 -5.6 0ZM131.2 375.4a2.8 2.8 0 1 0 5.6 0a2.8 2.8 0 1 0 -5.6 0ZM132.4 368.8a2.8 2.8 0 1 0 5.6 0a2.8 2.8 0 1 0 -5.6 0ZM138.3 363.2a2.8 2.8 0 1 0 5.6 0a2.8 2.8 0 1 0 -5.6 0ZM140.8 362.1a2.8 2.8 0 1 0 5.6 0a2.8 2.8 0 1 0 -5.6 0ZM142.9 362.1a2.8 2.8 0 1 0 5.6 0a2.8 2.8 0 1 0 -5.6 0ZM146.4 357.9a2.8 2.8 0 1 0 5.6 0a2.8 2.8 0 1 0 -5.6 0ZM147.9 358.3a2.8 2.8 0 1 0 5.6 0a2.8 2.8 0 1 0 -5.6 0ZM149.8 354.7a2.8 2.8 0 1 0 5.6 0a2.8 2.8 0 1 0 -5.6 0ZM152.1 352.9a2.8 2.8 0 1 0 5.6 0a2.8 2.8 0 1 0 -5.6 0ZM153.4 352.7a2.8 2.8 0 1 0 5.6 0a2.8 2.8 0 1 0 -5.6 0ZM155.7 346.3a2.8 2.8 0 1 0 5.6 0a2.8 2.8 0 1 0 -5.6 0ZM159.2 340.2a2.8 2.8 0 1 0 5.6 0a2.8 2.8 0 1 0 -5.6 0ZM165.8 344.3a2.8 2.8 0 1 0 5.6 0a2.8 2.8 0 1 0 -5.6 0ZM165.7 346.3a2.8 2.8 0 1 0 5.6 0a2.8 2.8 0 1 0 -5.6 0ZM167.8 349.2a2.8 2.8 0 1 0 5.6 0a2.8 2.8 0 1 0 -5.6 0ZM168.7 354.1a2.8 2.8 0 1 0 5.6 0a2.8 2.8 0 1 0 -5.6 0ZM168.8 356.7a2.8 2.8 0 1 0 5.6 0a2.8 2.8 0 1 0 -5.6 0ZM171.4 357.4a2.8 2.8 0 1 0 5.6 0a2.8 2.8 0 1 0 -5.6 0ZM169.5 360.8a2.8 2.8 0 1 0 5.6 0a2.8 2.8 0 1 0 -5.6 0ZM172.4 365.9a2.8 2.8 0 1 0 5.6 0a2.8 2.8 0 1 0 -5.6 0ZM176 370a2.8 2.8 0 1 0 5.6 0a2.8 2.8 0 1 0 -5.6 0ZM175.7 373.4a2.8 2.8 0 1 0 5.6 0a2.8 2.8 0 1 0 -5.6 0ZM176.4 377.6a2.8 2.8 0 1 0 5.6 0a2.8 2.8 0 1 0 -5.6 0ZM177.1 383.8a2.8 2.8 0 1 0 5.6 0a2.8 2.8 0 1 0 -5.6 0ZM175.6 385.3a2.8 2.8 0 1 0 5.6 0a2.8 2.8 0 1 0 -5.6 0ZM175.5 387.4a2.8 2.8 0 1 0 5.6 0a2.8 2.8 0 1 0 -5.6 0ZM177.4 388.4a2.8 2.8 0 1 0 5.6 0a2.8 2.8 0 1 0 -5.6 0ZM176.1 391.4a2.8 2.8 0 1 0 5.6 0a2.8 2.8 0 1 0 -5.6 0ZM176.4 393.5a2.8 2.8 0 1 0 5.6 0a2.8 2.8 0 1 0 -5.6 0ZM176.7 399.9a2.8 2.8 0 1 0 5.6 0a2.8 2.8 0 1 0 -5.6 0ZM171.6 397.8a2.8 2.8 0 1 0 5.6 0a2.8 2.8 0 1 0 -5.6 0ZM174.3 395.9a2.8 2.8 0 1 0 5.6 0a2.8 2.8 0 1 0 -5.6 0ZM172.5 394.7a2.8 2.8 0 1 0 5.6 0a2.8 2.8 0 1 0 -5.6 0ZM172.4 392.6a2.8 2.8 0 1 0 5.6 0a2.8 2.8 0 1 0 -5.6 0ZM175.2 390.8a2.8 2.8 0 1 0 5.6 0a2.8 2.8 0 1 0 -5.6 0ZM175.1 388a2.8 2.8 0 1 0 5.6 0a2.8 2.8 0 1 0 -5.6 0ZM175.3 386.8a2.8 2.8 0 1 0 5.6 0a2.8 2.8 0 1 0 -5.6 0ZM177.1 382.4a2.8 2.8 0 1 0 5.6 0a2.8 2.8 0 1 0 -5.6 0ZM182.1 378.3a2.8 2.8 0 1 0 5.6 0a2.8 2.8 0 1 0 -5.6 0ZM186 380.6a2.8 2.8 0 1 0 5.6 0a2.8 2.8 0 1 0 -5.6 0ZM189.4 387.6a2.8 2.8 0 1 0 5.6 0a2.8 2.8 0 1 0 -5.6 0ZM188 390.6a2.8 2.8 0 1 0 5.6 0a2.8 2.8 0 1 0 -5.6 0ZM189 394.3a2.8 2.8 0 1 0 5.6 0a2.8 2.8 0 1 0 -5.6 0ZM190.7 394.3a2.8 2.8 0 1 0 5.6 0a2.8 2.8 0 1 0 -5.6 0ZM189.8 396.8a2.8 2.8 0 1 0 5.6 0a2.8 2.8 0 1 0 -5.6 0ZM185.9 395.6a2.8 2.8 0 1 0 5.6 0a2.8 2.8 0 1 0 -5.6 0ZM184.7 392.9a2.8 2.8 0 1 0 5.6 0a2.8 2.8 0 1 0 -5.6 0ZM186.9 393a2.8 2.8 0 1 0 5.6 0a2.8 2.8 0 1 0 -5.6 0ZM187.6 389a2.8 2.8 0 1 0 5.6 0a2.8 2.8 0 1 0 -5.6 0ZM189.9 382.3a2.8 2.8 0 1 0 5.6 0a2.8 2.8 0 1 0 -5.6 0ZM191.1 377.8a2.8 2.8 0 1 0 5.6 0a2.8 2.8 0 1 0 -5.6 0ZM189.3 373.4a2.8 2.8 0 1 0 5.6 0a2.8 2.8 0 1 0 -5.6 0ZM189.3 373.1a2.8 2.8 0 1 0 5.6 0a2.8 2.8 0 1 0 -5.6 0ZM192.2 370.3a2.8 2.8 0 1 0 5.6 0a2.8 2.8 0 1 0 -5.6 0ZM192.3 368.5a2.8 2.8 0 1 0 5.6 0a2.8 2.8 0 1 0 -5.6 0ZM191.9 367.1a2.8 2.8 0 1 0 5.6 0a2.8 2.8 0 1 0 -5.6 0ZM193.1 365.3a2.8 2.8 0 1 0 5.6 0a2.8 2.8 0 1 0 -5.6 0ZM192.5 364a2.8 2.8 0 1 0 5.6 0a2.8 2.8 0 1 0 -5.6 0ZM195.7 358.2a2.8 2.8 0 1 0 5.6 0a2.8 2.8 0 1 0 -5.6 0ZM204.3 356.5a2.8 2.8 0 1 0 5.6 0a2.8 2.8 0 1 0 -5.6 0ZM203.7 358.4a2.8 2.8 0 1 0 5.6 0a2.8 2.8 0 1 0 -5.6 0ZM205.5 358.8a2.8 2.8 0 1 0 5.6 0a2.8 2.8 0 1 0 -5.6 0ZM204.1 362.4a2.8 2.8 0 1 0 5.6 0a2.8 2.8 0 1 0 -5.6 0ZM205.1 366.3a2.8 2.8 0 1 0 5.6 0a2.8 2.8 0 1 0 -5.6 0ZM205.9 368a2.8 2.8 0 1 0 5.6 0a2.8 2.8 0 1 0 -5.6 0ZM207.4 369.6a2.8 2.8 0 1 0 5.6 0a2.8 2.8 0 1 0 -5.6 0ZM206.1 372a2.8 2.8 0 1 0 5.6 0a2.8 2.8 0 1 0 -5.6 0ZM208.1 376.7a2.8 2.8 0 1 0 5.6 0a2.8 2.8 0 1 0 -5.6 0ZM203.2 378.2a2.8 2.8 0 1 0 5.6 0a2.8 2.8 0 1 0 -5.6 0ZM201.8 376.5a2.8 2.8 0 1 0 5.6 0a2.8 2.8 0 1 0 -5.6 0ZM201.7 372a2.8 2.8 0 1 0 5.6 0a2.8 2.8 0 1 0 -5.6 0ZM201.3 369.7a2.8 2.8 0 1 0 5.6 0a2.8 2.8 0 1 0 -5.6 0ZM201.8 368.7a2.8 2.8 0 1 0 5.6 0a2.8 2.8 0 1 0 -5.6 0ZM201.6 366.9a2.8 2.8 0 1 0 5.6 0a2.8 2.8 0 1 0 -5.6 0ZM204.1 363.8a2.8 2.8 0 1 0 5.6 0a2.8 2.8 0 1 0 -5.6 0ZM202.8 360.5a2.8 2.8 0 1 0 5.6 0a2.8 2.8 0 1 0 -5.6 0ZM206.3 351.7a2.8 2.8 0 1 0 5.6 0a2.8 2.8 0 1 0 -5.6 0ZM212.3 348.1a2.8 2.8 0 1 0 5.6 0a2.8 2.8 0 1 0 -5.6 0ZM215.4 348.7a2.8 2.8 0 1 0 5.6 0a2.8 2.8 0 1 0 -5.6 0ZM217.4 347.9a2.8 2.8 0 1 0 5.6 0a2.8 2.8 0 1 0 -5.6 0ZM223.8 348.7a2.8 2.8 0 1 0 5.6 0a2.8 2.8 0 1 0 -5.6 0ZM227.1 359.2a2.8 2.8 0 1 0 5.6 0a2.8 2.8 0 1 0 -5.6 0ZM230.7 362.5a2.8 2.8 0 1 0 5.6 0a2.8 2.8 0 1 0 -5.6 0ZM224.9 364.5a2.8 2.8 0 1 0 5.6 0a2.8 2.8 0 1 0 -5.6 0ZM226 360.6a2.8 2.8 0 1 0 5.6 0a2.8 2.8 0 1 0 -5.6 0ZM226.4 357.5a2.8 2.8 0 1 0 5.6 0a2.8 2.8 0 1 0 -5.6 0ZM229.8 356a2.8 2.8 0 1 0 5.6 0a2.8 2.8 0 1 0 -5.6 0ZM231.7 356.1a2.8 2.8 0 1 0 5.6 0a2.8 2.8 0 1 0 -5.6 0ZM232.9 354.1a2.8 2.8 0 1 0 5.6 0a2.8 2.8 0 1 0 -5.6 0ZM234.9 354.1a2.8 2.8 0 1 0 5.6 0a2.8 2.8 0 1 0 -5.6 0ZM238.8 351.2a2.8 2.8 0 1 0 5.6 0a2.8 2.8 0 1 0 -5.6 0ZM240.4 352.6a2.8 2.8 0 1 0 5.6 0a2.8 2.8 0 1 0 -5.6 0ZM240.1 352.4a2.8 2.8 0 1 0 5.6 0a2.8 2.8 0 1 0 -5.6 0ZM241.9 351.4a2.8 2.8 0 1 0 5.6 0a2.8 2.8 0 1 0 -5.6 0ZM242.4 348.8a2.8 2.8 0 1 0 5.6 0a2.8 2.8 0 1 0 -5.6 0ZM242.9 347.9a2.8 2.8 0 1 0 5.6 0a2.8 2.8 0 1 0 -5.6 0ZM245 342.3a2.8 2.8 0 1 0 5.6 0a2.8 2.8 0 1 0 -5.6 0ZM246.9 340.5a2.8 2.8 0 1 0 5.6 0a2.8 2.8 0 1 0 -5.6 0ZM246.4 337.8a2.8 2.8 0 1 0 5.6 0a2.8 2.8 0 1 0 -5.6 0ZM248.7 337.2a2.8 2.8 0 1 0 5.6 0a2.8 2.8 0 1 0 -5.6 0ZM251.2 335.2a2.8 2.8 0 1 0 5.6 0a2.8 2.8 0 1 0 -5.6 0ZM250.7 332.2a2.8 2.8 0 1 0 5.6 0a2.8 2.8 0 1 0 -5.6 0ZM252.1 332.4a2.8 2.8 0 1 0 5.6 0a2.8 2.8 0 1 0 -5.6 0ZM261.9 324.8a2.8 2.8 0 1 0 5.6 0a2.8 2.8 0 1 0 -5.6 0ZM265.1 322.8a2.8 2.8 0 1 0 5.6 0a2.8 2.8 0 1 0 -5.6 0ZM271.4 325.9a2.8 2.8 0 1 0 5.6 0a2.8 2.8 0 1 0 -5.6 0ZM276 327.7a2.8 2.8 0 1 0 5.6 0a2.8 2.8 0 1 0 -5.6 0ZM276.3 329.9a2.8 2.8 0 1 0 5.6 0a2.8 2.8 0 1 0 -5.6 0ZM277.5 336.1a2.8 2.8 0 1 0 5.6 0a2.8 2.8 0 1 0 -5.6 0ZM278.9 339.3a2.8 2.8 0 1 0 5.6 0a2.8 2.8 0 1 0 -5.6 0ZM280.2 340.7a2.8 2.8 0 1 0 5.6 0a2.8 2.8 0 1 0 -5.6 0ZM279.4 345.5a2.8 2.8 0 1 0 5.6 0a2.8 2.8 0 1 0 -5.6 0ZM280.9 346.8a2.8 2.8 0 1 0 5.6 0a2.8 2.8 0 1 0 -5.6 0ZM282.3 348.5a2.8 2.8 0 1 0 5.6 0a2.8 2.8 0 1 0 -5.6 0ZM282.5 352a2.8 2.8 0 1 0 5.6 0a2.8 2.8 0 1 0 -5.6 0ZM283.1 355.2a2.8 2.8 0 1 0 5.6 0a2.8 2.8 0 1 0 -5.6 0ZM282.1 356.6a2.8 2.8 0 1 0 5.6 0a2.8 2.8 0 1 0 -5.6 0ZM283.3 360.2a2.8 2.8 0 1 0 5.6 0a2.8 2.8 0 1 0 -5.6 0ZM282.9 362.1a2.8 2.8 0 1 0 5.6 0a2.8 2.8 0 1 0 -5.6 0ZM282.8 363.6a2.8 2.8 0 1 0 5.6 0a2.8 2.8 0 1 0 -5.6 0ZM283.1 365.4a2.8 2.8 0 1 0 5.6 0a2.8 2.8 0 1 0 -5.6 0ZM284.6 370a2.8 2.8 0 1 0 5.6 0a2.8 2.8 0 1 0 -5.6 0ZM286.4 372.7a2.8 2.8 0 1 0 5.6 0a2.8 2.8 0 1 0 -5.6 0ZM288.9 378.9a2.8 2.8 0 1 0 5.6 0a2.8 2.8 0 1 0 -5.6 0ZM290.6 382.9a2.8 2.8 0 1 0 5.6 0a2.8 2.8 0 1 0 -5.6 0ZM291.5 384.3a2.8 2.8 0 1 0 5.6 0a2.8 2.8 0 1 0 -5.6 0ZM283.1 383.5a2.8 2.8 0 1 0 5.6 0a2.8 2.8 0 1 0 -5.6 0ZM287.1 374.2a2.8 2.8 0 1 0 5.6 0a2.8 2.8 0 1 0 -5.6 0ZM287.9 371.6a2.8 2.8 0 1 0 5.6 0a2.8 2.8 0 1 0 -5.6 0ZM286.8 369.1a2.8 2.8 0 1 0 5.6 0a2.8 2.8 0 1 0 -5.6 0ZM287.1 366.4a2.8 2.8 0 1 0 5.6 0a2.8 2.8 0 1 0 -5.6 0ZM286.7 365.5a2.8 2.8 0 1 0 5.6 0a2.8 2.8 0 1 0 -5.6 0ZM289.6 363.5a2.8 2.8 0 1 0 5.6 0a2.8 2.8 0 1 0 -5.6 0ZM287.8 361.2a2.8 2.8 0 1 0 5.6 0a2.8 2.8 0 1 0 -5.6 0ZM288.3 358.2a2.8 2.8 0 1 0 5.6 0a2.8 2.8 0 1 0 -5.6 0ZM288.5 356.1a2.8 2.8 0 1 0 5.6 0a2.8 2.8 0 1 0 -5.6 0ZM290.3 353.1a2.8 2.8 0 1 0 5.6 0a2.8 2.8 0 1 0 -5.6 0ZM290.5 350.6a2.8 2.8 0 1 0 5.6 0a2.8 2.8 0 1 0 -5.6 0ZM289.2 349.7a2.8 2.8 0 1 0 5.6 0a2.8 2.8 0 1 0 -5.6 0ZM289.1 342.7a2.8 2.8 0 1 0 5.6 0a2.8 2.8 0 1 0 -5.6 0ZM290.8 339.7a2.8 2.8 0 1 0 5.6 0a2.8 2.8 0 1 0 -5.6 0ZM291.8 338.8a2.8 2.8 0 1 0 5.6 0a2.8 2.8 0 1 0 -5.6 0ZM290.9 334.9a2.8 2.8 0 1 0 5.6 0a2.8 2.8 0 1 0 -5.6 0ZM289.6 333.5a2.8 2.8 0 1 0 5.6 0a2.8 2.8 0 1 0 -5.6 0ZM291.5 330.1a2.8 2.8 0 1 0 5.6 0a2.8 2.8 0 1 0 -5.6 0ZM290 328a2.8 2.8 0 1 0 5.6 0a2.8 2.8 0 1 0 -5.6 0ZM291 322.5a2.8 2.8 0 1 0 5.6 0a2.8 2.8 0 1 0 -5.6 0ZM290.7 321a2.8 2.8 0 1 0 5.6 0a2.8 2.8 0 1 0 -5.6 0ZM293.5 318.7a2.8 2.8 0 1 0 5.6 0a2.8 2.8 0 1 0 -5.6 0ZM293.8 317.2a2.8 2.8 0 1 0 5.6 0a2.8 2.8 0 1 0 -5.6 0ZM293.3 314.7a2.8 2.8 0 1 0 5.6 0a2.8 2.8 0 1 0 -5.6 0ZM294.1 312.2a2.8 2.8 0 1 0 5.6 0a2.8 2.8 0 1 0 -5.6 0ZM297.5 307.4a2.8 2.8 0 1 0 5.6 0a2.8 2.8 0 1 0 -5.6 0ZM297.3 306.5a2.8 2.8 0 1 0 5.6 0a2.8 2.8 0 1 0 -5.6 0ZM302.2 306.3a2.8 2.8 0 1 0 5.6 0a2.8 2.8 0 1 0 -5.6 0ZM305.2 305.8a2.8 2.8 0 1 0 5.6 0a2.8 2.8 0 1 0 -5.6 0ZM305.9 306.1a2.8 2.8 0 1 0 5.6 0a2.8 2.8 0 1 0 -5.6 0ZM309.6 306a2.8 2.8 0 1 0 5.6 0a2.8 2.8 0 1 0 -5.6 0ZM311.4 307.3a2.8 2.8 0 1 0 5.6 0a2.8 2.8 0 1 0 -5.6 0ZM313.3 308.4a2.8 2.8 0 1 0 5.6 0a2.8 2.8 0 1 0 -5.6 0ZM315.1 309.8a2.8 2.8 0 1 0 5.6 0a2.8 2.8 0 1 0 -5.6 0ZM315.1 309.5a2.8 2.8 0 1 0 5.6 0a2.8 2.8 0 1 0 -5.6 0ZM318.6 310.7a2.8 2.8 0 1 0 5.6 0a2.8 2.8 0 1 0 -5.6 0ZM321.5 309.8a2.8 2.8 0 1 0 5.6 0a2.8 2.8 0 1 0 -5.6 0ZM324.5 310.4a2.8 2.8 0 1 0 5.6 0a2.8 2.8 0 1 0 -5.6 0ZM326.7 310.4a2.8 2.8 0 1 0 5.6 0a2.8 2.8 0 1 0 -5.6 0ZM333.7 310a2.8 2.8 0 1 0 5.6 0a2.8 2.8 0 1 0 -5.6 0ZM335.3 310.2a2.8 2.8 0 1 0 5.6 0a2.8 2.8 0 1 0 -5.6 0ZM339.1 315.7a2.8 2.8 0 1 0 5.6 0a2.8 2.8 0 1 0 -5.6 0ZM337.7 317.4a2.8 2.8 0 1 0 5.6 0a2.8 2.8 0 1 0 -5.6 0ZM339 320.2a2.8 2.8 0 1 0 5.6 0a2.8 2.8 0 1 0 -5.6 0ZM339.7 323.6a2.8 2.8 0 1 0 5.6 0a2.8 2.8 0 1 0 -5.6 0ZM338.9 325.3a2.8 2.8 0 1 0 5.6 0a2.8 2.8 0 1 0 -5.6 0ZM339.4 327.1a2.8 2.8 0 1 0 5.6 0a2.8 2.8 0 1 0 -5.6 0ZM342.6 331.1a2.8 2.8 0 1 0 5.6 0a2.8 2.8 0 1 0 -5.6 0ZM340.6 339.3a2.8 2.8 0 1 0 5.6 0a2.8 2.8 0 1 0 -5.6 0ZM344.6 344.3a2.8 2.8 0 1 0 5.6 0a2.8 2.8 0 1 0 -5.6 0ZM345.5 349.6a2.8 2.8 0 1 0 5.6 0a2.8 2.8 0 1 0 -5.6 0ZM348.4 351a2.8 2.8 0 1 0 5.6 0a2.8 2.8 0 1 0 -5.6 0ZM348.6 357.4a2.8 2.8 0 1 0 5.6 0a2.8 2.8 0 1 0 -5.6 0ZM350.8 358.6a2.8 2.8 0 1 0 5.6 0a2.8 2.8 0 1 0 -5.6 0ZM352.8 359.3a2.8 2.8 0 1 0 5.6 0a2.8 2.8 0 1 0 -5.6 0ZM354.8 364a2.8 2.8 0 1 0 5.6 0a2.8 2.8 0 1 0 -5.6 0ZM355.6 366.9a2.8 2.8 0 1 0 5.6 0a2.8 2.8 0 1 0 -5.6 0ZM356.2 367.9a2.8 2.8 0 1 0 5.6 0a2.8 2.8 0 1 0 -5.6 0ZM356.9 371.7a2.8 2.8 0 1 0 5.6 0a2.8 2.8 0 1 0 -5.6 0ZM354.9 376.1a2.8 2.8 0 1 0 5.6 0a2.8 2.8 0 1 0 -5.6 0ZM357.8 380.8a2.8 2.8 0 1 0 5.6 0a2.8 2.8 0 1 0 -5.6 0ZM356.8 382.4a2.8 2.8 0 1 0 5.6 0a2.8 2.8 0 1 0 -5.6 0ZM359.3 386.6a2.8 2.8 0 1 0 5.6 0a2.8 2.8 0 1 0 -5.6 0ZM358.9 390.2a2.8 2.8 0 1 0 5.6 0a2.8 2.8 0 1 0 -5.6 0ZM360.4 395.1a2.8 2.8 0 1 0 5.6 0a2.8 2.8 0 1 0 -5.6 0ZM361.9 397.5a2.8 2.8 0 1 0 5.6 0a2.8 2.8 0 1 0 -5.6 0ZM359.6 400.5a2.8 2.8 0 1 0 5.6 0a2.8 2.8 0 1 0 -5.6 0ZM364 404.8a2.8 2.8 0 1 0 5.6 0a2.8 2.8 0 1 0 -5.6 0ZM361.7 408.5a2.8 2.8 0 1 0 5.6 0a2.8 2.8 0 1 0 -5.6 0ZM362.6 410.5a2.8 2.8 0 1 0 5.6 0a2.8 2.8 0 1 0 -5.6 0ZM364.6 411.5a2.8 2.8 0 1 0 5.6 0a2.8 2.8 0 1 0 -5.6 0ZM364.8 415.4a2.8 2.8 0 1 0 5.6 0a2.8 2.8 0 1 0 -5.6 0ZM364.9 418.5a2.8 2.8 0 1 0 5.6 0a2.8 2.8 0 1 0 -5.6 0ZM364.6 420.4a2.8 2.8 0 1 0 5.6 0a2.8 2.8 0 1 0 -5.6 0ZM367 420.7a2.8 2.8 0 1 0 5.6 0a2.8 2.8 0 1 0 -5.6 0ZM361 421.2a2.8 2.8 0 1 0 5.6 0a2.8 2.8 0 1 0 -5.6 0ZM359.4 417.8a2.8 2.8 0 1 0 5.6 0a2.8 2.8 0 1 0 -5.6 0ZM361.2 414.6a2.8 2.8 0 1 0 5.6 0a2.8 2.8 0 1 0 -5.6 0ZM361.6 413.2a2.8 2.8 0 1 0 5.6 0a2.8 2.8 0 1 0 -5.6 0ZM361.4 410.1a2.8 2.8 0 1 0 5.6 0a2.8 2.8 0 1 0 -5.6 0ZM361.4 408.9a2.8 2.8 0 1 0 5.6 0a2.8 2.8 0 1 0 -5.6 0ZM363 407.5a2.8 2.8 0 1 0 5.6 0a2.8 2.8 0 1 0 -5.6 0ZM361.1 403.8a2.8 2.8 0 1 0 5.6 0a2.8 2.8 0 1 0 -5.6 0ZM360.4 402.4a2.8 2.8 0 1 0 5.6 0a2.8 2.8 0 1 0 -5.6 0ZM362.2 401.9a2.8 2.8 0 1 0 5.6 0a2.8 2.8 0 1 0 -5.6 0ZM362.2 399.8a2.8 2.8 0 1 0 5.6 0a2.8 2.8 0 1 0 -5.6 0ZM362.3 396.6a2.8 2.8 0 1 0 5.6 0a2.8 2.8 0 1 0 -5.6 0ZM364.7 390.6a2.8 2.8 0 1 0 5.6 0a2.8 2.8 0 1 0 -5.6 0ZM362.6 387.5a2.8 2.8 0 1 0 5.6 0a2.8 2.8 0 1 0 -5.6 0ZM363.4 386.8a2.8 2.8 0 1 0 5.6 0a2.8 2.8 0 1 0 -5.6 0ZM363.5 380.1a2.8 2.8 0 1 0 5.6 0a2.8 2.8 0 1 0 -5.6 0ZM363.8 377.5a2.8 2.8 0 1 0 5.6 0a2.8 2.8 0 1 0 -5.6 0ZM365 375.4a2.8 2.8 0 1 0 5.6 0a2.8 2.8 0 1 0 -5.6 0ZM366.4 372.8a2.8 2.8 0 1 0 5.6 0a2.8 2.8 0 1 0 -5.6 0ZM365.2 371.3a2.8 2.8 0 1 0 5.6 0a2.8 2.8 0 1 0 -5.6 0ZM374 362.8a2.8 2.8 0 1 0 5.6 0a2.8 2.8 0 1 0 -5.6 0ZM376.2 363a2.8 2.8 0 1 0 5.6 0a2.8 2.8 0 1 0 -5.6 0ZM382.4 366.3a2.8 2.8 0 1 0 5.6 0a2.8 2.8 0 1 0 -5.6 0ZM380.9 367.8a2.8 2.8 0 1 0 5.6 0a2.8 2.8 0 1 0 -5.6 0ZM380.3 371.1a2.8 2.8 0 1 0 5.6 0a2.8 2.8 0 1 0 -5.6 0ZM384 376.9a2.8 2.8 0 1 0 5.6 0a2.8 2.8 0 1 0 -5.6 0ZM383.4 379.2a2.8 2.8 0 1 0 5.6 0a2.8 2.8 0 1 0 -5.6 0ZM385 378.7a2.8 2.8 0 1 0 5.6 0a2.8 2.8 0 1 0 -5.6 0ZM386.3 381.8a2.8 2.8 0 1 0 5.6 0a2.8 2.8 0 1 0 -5.6 0ZM382.9 383.8a2.8 2.8 0 1 0 5.6 0a2.8 2.8 0 1 0 -5.6 0ZM382.4 381.9a2.8 2.8 0 1 0 5.6 0a2.8 2.8 0 1 0 -5.6 0ZM385 366.6a2.8 2.8 0 1 0 5.6 0a2.8 2.8 0 1 0 -5.6 0ZM384.1 364.7a2.8 2.8 0 1 0 5.6 0a2.8 2.8 0 1 0 -5.6 0ZM386.8 363.1a2.8 2.8 0 1 0 5.6 0a2.8 2.8 0 1 0 -5.6 0ZM388.2 361.1a2.8 2.8 0 1 0 5.6 0a2.8 2.8 0 1 0 -5.6 0ZM387.2 359.4a2.8 2.8 0 1 0 5.6 0a2.8 2.8 0 1 0 -5.6 0ZM387.9 357.7a2.8 2.8 0 1 0 5.6 0a2.8 2.8 0 1 0 -5.6 0ZM387.7 356.2a2.8 2.8 0 1 0 5.6 0a2.8 2.8 0 1 0 -5.6 0ZM389.5 354.8a2.8 2.8 0 1 0 5.6 0a2.8 2.8 0 1 0 -5.6 0ZM388.7 351.8a2.8 2.8 0 1 0 5.6 0a2.8 2.8 0 1 0 -5.6 0ZM390.1 350.3a2.8 2.8 0 1 0 5.6 0a2.8 2.8 0 1 0 -5.6 0ZM390.4 349.2a2.8 2.8 0 1 0 5.6 0a2.8 2.8 0 1 0 -5.6 0ZM390.8 347.5a2.8 2.8 0 1 0 5.6 0a2.8 2.8 0 1 0 -5.6 0ZM390 346.2a2.8 2.8 0 1 0 5.6 0a2.8 2.8 0 1 0 -5.6 0ZM390.7 344.3a2.8 2.8 0 1 0 5.6 0a2.8 2.8 0 1 0 -5.6 0ZM389.5 341.4a2.8 2.8 0 1 0 5.6 0a2.8 2.8 0 1 0 -5.6 0ZM390.2 338.9a2.8 2.8 0 1 0 5.6 0a2.8 2.8 0 1 0 -5.6 0ZM390.7 336.4a2.8 2.8 0 1 0 5.6 0a2.8 2.8 0 1 0 -5.6 0ZM392.1 334.8a2.8 2.8 0 1 0 5.6 0a2.8 2.8 0 1 0 -5.6 0ZM391.5 332.9a2.8 2.8 0 1 0 5.6 0a2.8 2.8 0 1 0 -5.6 0ZM393.3 329.3a2.8 2.8 0 1 0 5.6 0a2.8 2.8 0 1 0 -5.6 0ZM393.5 328.2a2.8 2.8 0 1 0 5.6 0a2.8 2.8 0 1 0 -5.6 0ZM392.6 326.5a2.8 2.8 0 1 0 5.6 0a2.8 2.8 0 1 0 -5.6 0ZM399 321.2a2.8 2.8 0 1 0 5.6 0a2.8 2.8 0 1 0 -5.6 0ZM405 324.3a2.8 2.8 0 1 0 5.6 0a2.8 2.8 0 1 0 -5.6 0ZM404.8 326.6a2.8 2.8 0 1 0 5.6 0a2.8 2.8 0 1 0 -5.6 0ZM408.2 334.6a2.8 2.8 0 1 0 5.6 0a2.8 2.8 0 1 0 -5.6 0ZM406.9 341a2.8 2.8 0 1 0 5.6 0a2.8 2.8 0 1 0 -5.6 0ZM407.2 343.2a2.8 2.8 0 1 0 5.6 0a2.8 2.8 0 1 0 -5.6 0ZM409 347.5a2.8 2.8 0 1 0 5.6 0a2.8 2.8 0 1 0 -5.6 0ZM408.1 351.3a2.8 2.8 0 1 0 5.6 0a2.8 2.8 0 1 0 -5.6 0ZM409.1 354.4a2.8 2.8 0 1 0 5.6 0a2.8 2.8 0 1 0 -5.6 0ZM410.9 355a2.8 2.8 0 1 0 5.6 0a2.8 2.8 0 1 0 -5.6 0ZM411.1 354.6a2.8 2.8 0 1 0 5.6 0a2.8 2.8 0 1 0 -5.6 0ZM412.5 357a2.8 2.8 0 1 0 5.6 0a2.8 2.8 0 1 0 -5.6 0ZM412.3 360.7a2.8 2.8 0 1 0 5.6 0a2.8 2.8 0 1 0 -5.6 0ZM415.8 363.8a2.8 2.8 0 1 0 5.6 0a2.8 2.8 0 1 0 -5.6 0ZM416 364.4a2.8 2.8 0 1 0 5.6 0a2.8 2.8 0 1 0 -5.6 0ZM414.7 369.4a2.8 2.8 0 1 0 5.6 0a2.8 2.8 0 1 0 -5.6 0ZM416.6 370.5a2.8 2.8 0 1 0 5.6 0a2.8 2.8 0 1 0 -5.6 0ZM416.9 372.1a2.8 2.8 0 1 0 5.6 0a2.8 2.8 0 1 0 -5.6 0ZM415.7 372.2a2.8 2.8 0 1 0 5.6 0a2.8 2.8 0 1 0 -5.6 0ZM415.3 368.9a2.8 2.8 0 1 0 5.6 0a2.8 2.8 0 1 0 -5.6 0ZM417.6 367.7a2.8 2.8 0 1 0 5.6 0a2.8 2.8 0 1 0 -5.6 0ZM418.2 365.8a2.8 2.8 0 1 0 5.6 0a2.8 2.8 0 1 0 -5.6 0ZM419 362.5a2.8 2.8 0 1 0 5.6 0a2.8 2.8 0 1 0 -5.6 0ZM418.6 361a2.8 2.8 0 1 0 5.6 0a2.8 2.8 0 1 0 -5.6 0ZM419 359.3a2.8 2.8 0 1 0 5.6 0a2.8 2.8 0 1 0 -5.6 0ZM417.2 356.7a2.8 2.8 0 1 0 5.6 0a2.8 2.8 0 1 0 -5.6 0ZM418.9 352.8a2.8 2.8 0 1 0 5.6 0a2.8 2.8 0 1 0 -5.6 0ZM421.5 344.2a2.8 2.8 0 1 0 5.6 0a2.8 2.8 0 1 0 -5.6 0ZM426.6 335.7a2.8 2.8 0 1 0 5.6 0a2.8 2.8 0 1 0 -5.6 0ZM428.7 335.4a2.8 2.8 0 1 0 5.6 0a2.8 2.8 0 1 0 -5.6 0ZM433.1 337a2.8 2.8 0 1 0 5.6 0a2.8 2.8 0 1 0 -5.6 0ZM436.6 337.6a2.8 2.8 0 1 0 5.6 0a2.8 2.8 0 1 0 -5.6 0ZM434.8 340.2a2.8 2.8 0 1 0 5.6 0a2.8 2.8 0 1 0 -5.6 0ZM435 342a2.8 2.8 0 1 0 5.6 0a2.8 2.8 0 1 0 -5.6 0ZM436.9 344.3a2.8 2.8 0 1 0 5.6 0a2.8 2.8 0 1 0 -5.6 0ZM436.9 345.6a2.8 2.8 0 1 0 5.6 0a2.8 2.8 0 1 0 -5.6 0ZM437.1 346.5a2.8 2.8 0 1 0 5.6 0a2.8 2.8 0 1 0 -5.6 0ZM431.9 347.2a2.8 2.8 0 1 0 5.6 0a2.8 2.8 0 1 0 -5.6 0ZM432.2 343.1a2.8 2.8 0 1 0 5.6 0a2.8 2.8 0 1 0 -5.6 0ZM432.3 342.6a2.8 2.8 0 1 0 5.6 0a2.8 2.8 0 1 0 -5.6 0ZM433.3 337.8a2.8 2.8 0 1 0 5.6 0a2.8 2.8 0 1 0 -5.6 0ZM432 334.5a2.8 2.8 0 1 0 5.6 0a2.8 2.8 0 1 0 -5.6 0ZM435.2 333.3a2.8 2.8 0 1 0 5.6 0a2.8 2.8 0 1 0 -5.6 0ZM433.1 331.2a2.8 2.8 0 1 0 5.6 0a2.8 2.8 0 1 0 -5.6 0ZM435 329.3a2.8 2.8 0 1 0 5.6 0a2.8 2.8 0 1 0 -5.6 0ZM433.3 320.9a2.8 2.8 0 1 0 5.6 0a2.8 2.8 0 1 0 -5.6 0ZM434.9 316a2.8 2.8 0 1 0 5.6 0a2.8 2.8 0 1 0 -5.6 0ZM437.3 316a2.8 2.8 0 1 0 5.6 0a2.8 2.8 0 1 0 -5.6 0ZM436.9 312.1a2.8 2.8 0 1 0 5.6 0a2.8 2.8 0 1 0 -5.6 0ZM438.7 307.6a2.8 2.8 0 1 0 5.6 0a2.8 2.8 0 1 0 -5.6 0ZM442.8 305.4a2.8 2.8 0 1 0 5.6 0a2.8 2.8 0 1 0 -5.6 0ZM445.2 305a2.8 2.8 0 1 0 5.6 0a2.8 2.8 0 1 0 -5.6 0ZM451.8 302.2a2.8 2.8 0 1 0 5.6 0a2.8 2.8 0 1 0 -5.6 0ZM452.8 304.9a2.8 2.8 0 1 0 5.6 0a2.8 2.8 0 1 0 -5.6 0ZM456.8 305.8a2.8 2.8 0 1 0 5.6 0a2.8 2.8 0 1 0 -5.6 0ZM463.3 306.5a2.8 2.8 0 1 0 5.6 0a2.8 2.8 0 1 0 -5.6 0ZM464 309.9a2.8 2.8 0 1 0 5.6 0a2.8 2.8 0 1 0 -5.6 0ZM466.7 313a2.8 2.8 0 1 0 5.6 0a2.8 2.8 0 1 0 -5.6 0ZM467.4 315.2a2.8 2.8 0 1 0 5.6 0a2.8 2.8 0 1 0 -5.6 0ZM466.9 315.4a2.8 2.8 0 1 0 5.6 0a2.8 2.8 0 1 0 -5.6 0ZM474.7 314a2.8 2.8 0 1 0 5.6 0a2.8 2.8 0 1 0 -5.6 0ZM478.5 318a2.8 2.8 0 1 0 5.6 0a2.8 2.8 0 1 0 -5.6 0ZM480 321.5a2.8 2.8 0 1 0 5.6 0a2.8 2.8 0 1 0 -5.6 0ZM482.9 330a2.8 2.8 0 1 0 5.6 0a2.8 2.8 0 1 0 -5.6 0ZM483.5 332.2a2.8 2.8 0 1 0 5.6 0a2.8 2.8 0 1 0 -5.6 0ZM486 334.6a2.8 2.8 0 1 0 5.6 0a2.8 2.8 0 1 0 -5.6 0ZM486.3 337.9a2.8 2.8 0 1 0 5.6 0a2.8 2.8 0 1 0 -5.6 0ZM487.7 338a2.8 2.8 0 1 0 5.6 0a2.8 2.8 0 1 0 -5.6 0ZM488.6 341.3a2.8 2.8 0 1 0 5.6 0a2.8 2.8 0 1 0 -5.6 0ZM488.6 345a2.8 2.8 0 1 0 5.6 0a2.8 2.8 0 1 0 -5.6 0ZM489.2 348.2a2.8 2.8 0 1 0 5.6 0a2.8 2.8 0 1 0 -5.6 0ZM488.6 350.5a2.8 2.8 0 1 0 5.6 0a2.8 2.8 0 1 0 -5.6 0ZM489.8 351.1a2.8 2.8 0 1 0 5.6 0a2.8 2.8 0 1 0 -5.6 0ZM492.6 353a2.8 2.8 0 1 0 5.6 0a2.8 2.8 0 1 0 -5.6 0ZM497.9 357.1a2.8 2.8 0 1 0 5.6 0a2.8 2.8 0 1 0 -5.6 0ZM499.3 358.2a2.8 2.8 0 1 0 5.6 0a2.8 2.8 0 1 0 -5.6 0ZM502.4 365.8a2.8 2.8 0 1 0 5.6 0a2.8 2.8 0 1 0 -5.6 0ZM504.6 365.7a2.8 2.8 0 1 0 5.6 0a2.8 2.8 0 1 0 -5.6 0ZM505.4 370.3a2.8 2.8 0 1 0 5.6 0a2.8 2.8 0 1 0 -5.6 0ZM504.4 371.6a2.8 2.8 0 1 0 5.6 0a2.8 2.8 0 1 0 -5.6 0ZM505.6 375.7a2.8 2.8 0 1 0 5.6 0a2.8 2.8 0 1 0 -5.6 0ZM497.9 374.8a2.8 2.8 0 1 0 5.6 0a2.8 2.8 0 1 0 -5.6 0ZM500.2 372.5a2.8 2.8 0 1 0 5.6 0a2.8 2.8 0 1 0 -5.6 0ZM499.3 366.1a2.8 2.8 0 1 0 5.6 0a2.8 2.8 0 1 0 -5.6 0ZM502.4 366.4a2.8 2.8 0 1 0 5.6 0a2.8 2.8 0 1 0 -5.6 0ZM503.3 360.8a2.8 2.8 0 1 0 5.6 0a2.8 2.8 0 1 0 -5.6 0ZM501.9 358a2.8 2.8 0 1 0 5.6 0a2.8 2.8 0 1 0 -5.6 0ZM501.4 355.6a2.8 2.8 0 1 0 5.6 0a2.8 2.8 0 1 0 -5.6 0ZM503 347.7a2.8 2.8 0 1 0 5.6 0a2.8 2.8 0 1 0 -5.6 0ZM505.6 344a2.8 2.8 0 1 0 5.6 0a2.8 2.8 0 1 0 -5.6 0ZM506.5 343.1a2.8 2.8 0 1 0 5.6 0a2.8 2.8 0 1 0 -5.6 0ZM507.1 338.1a2.8 2.8 0 1 0 5.6 0a2.8 2.8 0 1 0 -5.6 0ZM506.2 337.4a2.8 2.8 0 1 0 5.6 0a2.8 2.8 0 1 0 -5.6 0ZM507.6 334.9a2.8 2.8 0 1 0 5.6 0a2.8 2.8 0 1 0 -5.6 0ZM508.1 331a2.8 2.8 0 1 0 5.6 0a2.8 2.8 0 1 0 -5.6 0ZM510.8 327.4a2.8 2.8 0 1 0 5.6 0a2.8 2.8 0 1 0 -5.6 0ZM517.1 325.8a2.8 2.8 0 1 0 5.6 0a2.8 2.8 0 1 0 -5.6 0ZM519.5 330.2a2.8 2.8 0 1 0 5.6 0a2.8 2.8 0 1 0 -5.6 0ZM521.1 331.5a2.8 2.8 0 1 0 5.6 0a2.8 2.8 0 1 0 -5.6 0ZM522.2 334.8a2.8 2.8 0 1 0 5.6 0a2.8 2.8 0 1 0 -5.6 0ZM524.2 336.6a2.8 2.8 0 1 0 5.6 0a2.8 2.8 0 1 0 -5.6 0ZM517.9 336.4a2.8 2.8 0 1 0 5.6 0a2.8 2.8 0 1 0 -5.6 0ZM521.8 329.2a2.8 2.8 0 1 0 5.6 0a2.8 2.8 0 1 0 -5.6 0ZM528.9 327.8a2.8 2.8 0 1 0 5.6 0a2.8 2.8 0 1 0 -5.6 0ZM530.5 330.6a2.8 2.8 0 1 0 5.6 0a2.8 2.8 0 1 0 -5.6 0ZM530.2 328.4a2.8 2.8 0 1 0 5.6 0a2.8 2.8 0 1 0 -5.6 0ZM531.5 327.6a2.8 2.8 0 1 0 5.6 0a2.8 2.8 0 1 0 -5.6 0ZM539.3 323.8a2.8 2.8 0 1 0 5.6 0a2.8 2.8 0 1 0 -5.6 0ZM539 322.1a2.8 2.8 0 1 0 5.6 0a2.8 2.8 0 1 0 -5.6 0ZM540.8 319.4a2.8 2.8 0 1 0 5.6 0a2.8 2.8 0 1 0 -5.6 0ZM541.2 317.5a2.8 2.8 0 1 0 5.6 0a2.8 2.8 0 1 0 -5.6 0ZM543 315.8a2.8 2.8 0 1 0 5.6 0a2.8 2.8 0 1 0 -5.6 0ZM550.3 315.7a2.8 2.8 0 1 0 5.6 0a2.8 2.8 0 1 0 -5.6 0ZM552.7 316.2a2.8 2.8 0 1 0 5.6 0a2.8 2.8 0 1 0 -5.6 0ZM550.3 316.2a2.8 2.8 0 1 0 5.6 0a2.8 2.8 0 1 0 -5.6 0ZM552.8 315.5a2.8 2.8 0 1 0 5.6 0a2.8 2.8 0 1 0 -5.6 0ZM560.6 316.8a2.8 2.8 0 1 0 5.6 0a2.8 2.8 0 1 0 -5.6 0ZM559 317.8a2.8 2.8 0 1 0 5.6 0a2.8 2.8 0 1 0 -5.6 0ZM561.4 315.8a2.8 2.8 0 1 0 5.6 0a2.8 2.8 0 1 0 -5.6 0ZM562.9 312.9a2.8 2.8 0 1 0 5.6 0a2.8 2.8 0 1 0 -5.6 0ZM566.4 310.3a2.8 2.8 0 1 0 5.6 0a2.8 2.8 0 1 0 -5.6 0ZM573.9 308.5a2.8 2.8 0 1 0 5.6 0a2.8 2.8 0 1 0 -5.6 0ZM578.4 312.7a2.8 2.8 0 1 0 5.6 0a2.8 2.8 0 1 0 -5.6 0ZM581.3 313a2.8 2.8 0 1 0 5.6 0a2.8 2.8 0 1 0 -5.6 0ZM581.1 317.1a2.8 2.8 0 1 0 5.6 0a2.8 2.8 0 1 0 -5.6 0ZM584 319.1a2.8 2.8 0 1 0 5.6 0a2.8 2.8 0 1 0 -5.6 0ZM584.6 319.8a2.8 2.8 0 1 0 5.6 0a2.8 2.8 0 1 0 -5.6 0ZM584.5 324.1a2.8 2.8 0 1 0 5.6 0a2.8 2.8 0 1 0 -5.6 0ZM584.8 325a2.8 2.8 0 1 0 5.6 0a2.8 2.8 0 1 0 -5.6 0ZM584.3 327.3a2.8 2.8 0 1 0 5.6 0a2.8 2.8 0 1 0 -5.6 0ZM585 327.9a2.8 2.8 0 1 0 5.6 0a2.8 2.8 0 1 0 -5.6 0ZM587.7 328.4a2.8 2.8 0 1 0 5.6 0a2.8 2.8 0 1 0 -5.6 0ZM585 327a2.8 2.8 0 1 0 5.6 0a2.8 2.8 0 1 0 -5.6 0ZM587 325.5a2.8 2.8 0 1 0 5.6 0a2.8 2.8 0 1 0 -5.6 0ZM588.3 324.9a2.8 2.8 0 1 0 5.6 0a2.8 2.8 0 1 0 -5.6 0ZM595.3 324.8a2.8 2.8 0 1 0 5.6 0a2.8 2.8 0 1 0 -5.6 0ZM597.5 327.7a2.8 2.8 0 1 0 5.6 0a2.8 2.8 0 1 0 -5.6 0ZM600.1 327.8a2.8 2.8 0 1 0 5.6 0a2.8 2.8 0 1 0 -5.6 0ZM600.7 329.5a2.8 2.8 0 1 0 5.6 0a2.8 2.8 0 1 0 -5.6 0ZM604.4 333.6a2.8 2.8 0 1 0 5.6 0a2.8 2.8 0 1 0 -5.6 0ZM604 335.4a2.8 2.8 0 1 0 5.6 0a2.8 2.8 0 1 0 -5.6 0ZM605.2 337a2.8 2.8 0 1 0 5.6 0a2.8 2.8 0 1 0 -5.6 0ZM600.4 335a2.8 2.8 0 1 0 5.6 0a2.8 2.8 0 1 0 -5.6 0ZM604.3 333.2a2.8 2.8 0 1 0 5.6 0a2.8 2.8 0 1 0 -5.6 0ZM608.8 331.9a2.8 2.8 0 1 0 5.6 0a2.8 2.8 0 1 0 -5.6 0ZM610.9 331.8a2.8 2.8 0 1 0 5.6 0a2.8 2.8 0 1 0 -5.6 0ZM615.6 334.3a2.8 2.8 0 1 0 5.6 0a2.8 2.8 0 1 0 -5.6 0ZM617.1 339.5a2.8 2.8 0 1 0 5.6 0a2.8 2.8 0 1 0 -5.6 0ZM618.8 342.9a2.8 2.8 0 1 0 5.6 0a2.8 2.8 0 1 0 -5.6 0ZM614 343.3a2.8 2.8 0 1 0 5.6 0a2.8 2.8 0 1 0 -5.6 0ZM614.9 339.2a2.8 2.8 0 1 0 5.6 0a2.8 2.8 0 1 0 -5.6 0ZM619.2 337a2.8 2.8 0 1 0 5.6 0a2.8 2.8 0 1 0 -5.6 0ZM619.8 338.6a2.8 2.8 0 1 0 5.6 0a2.8 2.8 0 1 0 -5.6 0ZM620.5 335.8a2.8 2.8 0 1 0 5.6 0a2.8 2.8 0 1 0 -5.6 0ZM624.6 332.6a2.8 2.8 0 1 0 5.6 0a2.8 2.8 0 1 0 -5.6 0ZM626.9 330.5a2.8 2.8 0 1 0 5.6 0a2.8 2.8 0 1 0 -5.6 0ZM627.3 330.1a2.8 2.8 0 1 0 5.6 0a2.8 2.8 0 1 0 -5.6 0ZM632.8 326.2a2.8 2.8 0 1 0 5.6 0a2.8 2.8 0 1 0 -5.6 0ZM634.8 325.2a2.8 2.8 0 1 0 5.6 0a2.8 2.8 0 1 0 -5.6 0ZM640.3 330.5a2.8 2.8 0 1 0 5.6 0a2.8 2.8 0 1 0 -5.6 0ZM641.8 329.7a2.8 2.8 0 1 0 5.6 0a2.8 2.8 0 1 0 -5.6 0ZM644.2 330.1a2.8 2.8 0 1 0 5.6 0a2.8 2.8 0 1 0 -5.6 0ZM648.9 329.4a2.8 2.8 0 1 0 5.6 0a2.8 2.8 0 1 0 -5.6 0ZM649.7 329.5a2.8 2.8 0 1 0 5.6 0a2.8 2.8 0 1 0 -5.6 0ZM652.2 330.2a2.8 2.8 0 1 0 5.6 0a2.8 2.8 0 1 0 -5.6 0ZM655.9 333.9a2.8 2.8 0 1 0 5.6 0a2.8 2.8 0 1 0 -5.6 0ZM658.9 338.2a2.8 2.8 0 1 0 5.6 0a2.8 2.8 0 1 0 -5.6 0ZM656.4 341.3a2.8 2.8 0 1 0 5.6 0a2.8 2.8 0 1 0 -5.6 0ZM656.7 342.6a2.8 2.8 0 1 0 5.6 0a2.8 2.8 0 1 0 -5.6 0ZM657.8 346a2.8 2.8 0 1 0 5.6 0a2.8 2.8 0 1 0 -5.6 0ZM659.1 347a2.8 2.8 0 1 0 5.6 0a2.8 2.8 0 1 0 -5.6 0ZM656.5 346.6a2.8 2.8 0 1 0 5.6 0a2.8 2.8 0 1 0 -5.6 0ZM660 345.3a2.8 2.8 0 1 0 5.6 0a2.8 2.8 0 1 0 -5.6 0ZM658.6 343.9a2.8 2.8 0 1 0 5.6 0a2.8 2.8 0 1 0 -5.6 0ZM666.6 346.8a2.8 2.8 0 1 0 5.6 0a2.8 2.8 0 1 0 -5.6 0ZM669.7 350.4a2.8 2.8 0 1 0 5.6 0a2.8 2.8 0 1 0 -5.6 0ZM669.8 354.1a2.8 2.8 0 1 0 5.6 0a2.8 2.8 0 1 0 -5.6 0ZM670.4 355.4a2.8 2.8 0 1 0 5.6 0a2.8 2.8 0 1 0 -5.6 0ZM672.7 355.6a2.8 2.8 0 1 0 5.6 0a2.8 2.8 0 1 0 -5.6 0ZM672 359.3a2.8 2.8 0 1 0 5.6 0a2.8 2.8 0 1 0 -5.6 0ZM669.9 360a2.8 2.8 0 1 0 5.6 0a2.8 2.8 0 1 0 -5.6 0ZM672.3 355.3a2.8 2.8 0 1 0 5.6 0a2.8 2.8 0 1 0 -5.6 0ZM671.9 352.6a2.8 2.8 0 1 0 5.6 0a2.8 2.8 0 1 0 -5.6 0ZM675.6 348.8a2.8 2.8 0 1 0 5.6 0a2.8 2.8 0 1 0 -5.6 0ZM683.8 344.5a2.8 2.8 0 1 0 5.6 0a2.8 2.8 0 1 0 -5.6 0ZM685.2 350.1a2.8 2.8 0 1 0 5.6 0a2.8 2.8 0 1 0 -5.6 0ZM687.5 351.3a2.8 2.8 0 1 0 5.6 0a2.8 2.8 0 1 0 -5.6 0ZM686.2 352.3a2.8 2.8 0 1 0 5.6 0a2.8 2.8 0 1 0 -5.6 0ZM685.2 350a2.8 2.8 0 1 0 5.6 0a2.8 2.8 0 1 0 -5.6 0ZM689.6 354a2.8 2.8 0 1 0 5.6 0a2.8 2.8 0 1 0 -5.6 0ZM691.8 354.6a2.8 2.8 0 1 0 5.6 0a2.8 2.8 0 1 0 -5.6 0ZM690.8 354a2.8 2.8 0 1 0 5.6 0a2.8 2.8 0 1 0 -5.6 0ZM693.3 352.7a2.8 2.8 0 1 0 5.6 0a2.8 2.8 0 1 0 -5.6 0ZM694.1 350.1a2.8 2.8 0 1 0 5.6 0a2.8 2.8 0 1 0 -5.6 0ZM695.6 347.5a2.8 2.8 0 1 0 5.6 0a2.8 2.8 0 1 0 -5.6 0ZM698.6 348.1a2.8 2.8 0 1 0 5.6 0a2.8 2.8 0 1 0 -5.6 0ZM698 345.8a2.8 2.8 0 1 0 5.6 0a2.8 2.8 0 1 0 -5.6 0ZM700.6 344.5a2.8 2.8 0 1 0 5.6 0a2.8 2.8 0 1 0 -5.6 0ZM701.9 343.7a2.8 2.8 0 1 0 5.6 0a2.8 2.8 0 1 0 -5.6 0ZM702.7 340.9a2.8 2.8 0 1 0 5.6 0a2.8 2.8 0 1 0 -5.6 0ZM705.7 336.7a2.8 2.8 0 1 0 5.6 0a2.8 2.8 0 1 0 -5.6 0ZM706.8 332.3a2.8 2.8 0 1 0 5.6 0a2.8 2.8 0 1 0 -5.6 0ZM708.9 331.6a2.8 2.8 0 1 0 5.6 0a2.8 2.8 0 1 0 -5.6 0ZM712.2 329.1a2.8 2.8 0 1 0 5.6 0a2.8 2.8 0 1 0 -5.6 0ZM714 329.7a2.8 2.8 0 1 0 5.6 0a2.8 2.8 0 1 0 -5.6 0ZM712.3 328.4a2.8 2.8 0 1 0 5.6 0a2.8 2.8 0 1 0 -5.6 0ZM716.5 328.3a2.8 2.8 0 1 0 5.6 0a2.8 2.8 0 1 0 -5.6 0ZM720.8 324.4a2.8 2.8 0 1 0 5.6 0a2.8 2.8 0 1 0 -5.6 0ZM725.6 326.8a2.8 2.8 0 1 0 5.6 0a2.8 2.8 0 1 0 -5.6 0ZM726.6 326.4a2.8 2.8 0 1 0 5.6 0a2.8 2.8 0 1 0 -5.6 0ZM723.6 327a2.8 2.8 0 1 0 5.6 0a2.8 2.8 0 1 0 -5.6 0ZM726.8 326.3a2.8 2.8 0 1 0 5.6 0a2.8 2.8 0 1 0 -5.6 0ZM726.6 323.6a2.8 2.8 0 1 0 5.6 0a2.8 2.8 0 1 0 -5.6 0ZM727.4 323.1a2.8 2.8 0 1 0 5.6 0a2.8 2.8 0 1 0 -5.6 0ZM736.8 323.2a2.8 2.8 0 1 0 5.6 0a2.8 2.8 0 1 0 -5.6 0ZM733.4 322.4a2.8 2.8 0 1 0 5.6 0a2.8 2.8 0 1 0 -5.6 0ZM736.4 317.8a2.8 2.8 0 1 0 5.6 0a2.8 2.8 0 1 0 -5.6 0ZM737 318a2.8 2.8 0 1 0 5.6 0a2.8 2.8 0 1 0 -5.6 0ZM741.7 314.1a2.8 2.8 0 1 0 5.6 0a2.8 2.8 0 1 0 -5.6 0ZM742.5 312.5a2.8 2.8 0 1 0 5.6 0a2.8 2.8 0 1 0 -5.6 0ZM751.3 306.1a2.8 2.8 0 1 0 5.6 0a2.8 2.8 0 1 0 -5.6 0ZM755.3 306.7a2.8 2.8 0 1 0 5.6 0a2.8 2.8 0 1 0 -5.6 0ZM761.5 302.8a2.8 2.8 0 1 0 5.6 0a2.8 2.8 0 1 0 -5.6 0ZM763.8 301.1a2.8 2.8 0 1 0 5.6 0a2.8 2.8 0 1 0 -5.6 0ZM760.4 300.8a2.8 2.8 0 1 0 5.6 0a2.8 2.8 0 1 0 -5.6 0ZM770.4 293.3a2.8 2.8 0 1 0 5.6 0a2.8 2.8 0 1 0 -5.6 0ZM770.3 300.2a2.8 2.8 0 1 0 5.6 0a2.8 2.8 0 1 0 -5.6 0ZM763 296.3a2.8 2.8 0 1 0 5.6 0a2.8 2.8 0 1 0 -5.6 0ZM765.1 294.7a2.8 2.8 0 1 0 5.6 0a2.8 2.8 0 1 0 -5.6 0ZM765.2 293.4a2.8 2.8 0 1 0 5.6 0a2.8 2.8 0 1 0 -5.6 0ZM764 290.3a2.8 2.8 0 1 0 5.6 0a2.8 2.8 0 1 0 -5.6 0ZM772.6 287.7a2.8 2.8 0 1 0 5.6 0a2.8 2.8 0 1 0 -5.6 0ZM777.3 288.7a2.8 2.8 0 1 0 5.6 0a2.8 2.8 0 1 0 -5.6 0ZM782.5 288.1a2.8 2.8 0 1 0 5.6 0a2.8 2.8 0 1 0 -5.6 0ZM783.4 289.3a2.8 2.8 0 1 0 5.6 0a2.8 2.8 0 1 0 -5.6 0ZM783.6 286.5a2.8 2.8 0 1 0 5.6 0a2.8 2.8 0 1 0 -5.6 0ZM789.9 287.8a2.8 2.8 0 1 0 5.6 0a2.8 2.8 0 1 0 -5.6 0ZM793.4 290.5a2.8 2.8 0 1 0 5.6 0a2.8 2.8 0 1 0 -5.6 0ZM792.5 291.4a2.8 2.8 0 1 0 5.6 0a2.8 2.8 0 1 0 -5.6 0ZM794.8 292.4a2.8 2.8 0 1 0 5.6 0a2.8 2.8 0 1 0 -5.6 0ZM793.2 294.5a2.8 2.8 0 1 0 5.6 0a2.8 2.8 0 1 0 -5.6 0ZM791.3 293.1a2.8 2.8 0 1 0 5.6 0a2.8 2.8 0 1 0 -5.6 0ZM791.7 291a2.8 2.8 0 1 0 5.6 0a2.8 2.8 0 1 0 -5.6 0ZM803 283.6a2.8 2.8 0 1 0 5.6 0a2.8 2.8 0 1 0 -5.6 0ZM802.7 285.7a2.8 2.8 0 1 0 5.6 0a2.8 2.8 0 1 0 -5.6 0ZM807.5 287.4a2.8 2.8 0 1 0 5.6 0a2.8 2.8 0 1 0 -5.6 0ZM810.5 290.9a2.8 2.8 0 1 0 5.6 0a2.8 2.8 0 1 0 -5.6 0ZM809.5 293.7a2.8 2.8 0 1 0 5.6 0a2.8 2.8 0 1 0 -5.6 0ZM811.2 296.3a2.8 2.8 0 1 0 5.6 0a2.8 2.8 0 1 0 -5.6 0ZM812.7 298.2a2.8 2.8 0 1 0 5.6 0a2.8 2.8 0 1 0 -5.6 0ZM811.5 301.5a2.8 2.8 0 1 0 5.6 0a2.8 2.8 0 1 0 -5.6 0ZM812.4 305.3a2.8 2.8 0 1 0 5.6 0a2.8 2.8 0 1 0 -5.6 0ZM812.7 306.9a2.8 2.8 0 1 0 5.6 0a2.8 2.8 0 1 0 -5.6 0ZM812.4 306.2a2.8 2.8 0 1 0 5.6 0a2.8 2.8 0 1 0 -5.6 0ZM814.1 308.5a2.8 2.8 0 1 0 5.6 0a2.8 2.8 0 1 0 -5.6 0ZM816.3 312.6a2.8 2.8 0 1 0 5.6 0a2.8 2.8 0 1 0 -5.6 0ZM814.8 320.5a2.8 2.8 0 1 0 5.6 0a2.8 2.8 0 1 0 -5.6 0ZM816.7 326.8a2.8 2.8 0 1 0 5.6 0a2.8 2.8 0 1 0 -5.6 0ZM817.4 328.2a2.8 2.8 0 1 0 5.6 0a2.8 2.8 0 1 0 -5.6 0ZM816.1 332.6a2.8 2.8 0 1 0 5.6 0a2.8 2.8 0 1 0 -5.6 0ZM818.5 333.6a2.8 2.8 0 1 0 5.6 0a2.8 2.8 0 1 0 -5.6 0ZM818 341.9a2.8 2.8 0 1 0 5.6 0a2.8 2.8 0 1 0 -5.6 0ZM817.7 344.1a2.8 2.8 0 1 0 5.6 0a2.8 2.8 0 1 0 -5.6 0ZM817.7 349.6a2.8 2.8 0 1 0 5.6 0a2.8 2.8 0 1 0 -5.6 0ZM816.8 354.4a2.8 2.8 0 1 0 5.6 0a2.8 2.8 0 1 0 -5.6 0ZM817.2 354.9a2.8 2.8 0 1 0 5.6 0a2.8 2.8 0 1 0 -5.6 0ZM819.7 358.3a2.8 2.8 0 1 0 5.6 0a2.8 2.8 0 1 0 -5.6 0ZM819.6 359a2.8 2.8 0 1 0 5.6 0a2.8 2.8 0 1 0 -5.6 0ZM818 360.9a2.8 2.8 0 1 0 5.6 0a2.8 2.8 0 1 0 -5.6 0ZM817.9 362.6a2.8 2.8 0 1 0 5.6 0a2.8 2.8 0 1 0 -5.6 0ZM817.6 365.8a2.8 2.8 0 1 0 5.6 0a2.8 2.8 0 1 0 -5.6 0ZM818.4 367.4a2.8 2.8 0 1 0 5.6 0a2.8 2.8 0 1 0 -5.6 0ZM820.1 373.8a2.8 2.8 0 1 0 5.6 0a2.8 2.8 0 1 0 -5.6 0ZM819.1 373.3a2.8 2.8 0 1 0 5.6 0a2.8 2.8 0 1 0 -5.6 0ZM823.9 378.4a2.8 2.8 0 1 0 5.6 0a2.8 2.8 0 1 0 -5.6 0ZM823 380.2a2.8 2.8 0 1 0 5.6 0a2.8 2.8 0 1 0 -5.6 0ZM821.1 383a2.8 2.8 0 1 0 5.6 0a2.8 2.8 0 1 0 -5.6 0ZM824.2 385.8a2.8 2.8 0 1 0 5.6 0a2.8 2.8 0 1 0 -5.6 0ZM821.3 387.6a2.8 2.8 0 1 0 5.6 0a2.8 2.8 0 1 0 -5.6 0ZM823.5 390.3a2.8 2.8 0 1 0 5.6 0a2.8 2.8 0 1 0 -5.6 0ZM821.7 392.3a2.8 2.8 0 1 0 5.6 0a2.8 2.8 0 1 0 -5.6 0ZM824.6 393.8a2.8 2.8 0 1 0 5.6 0a2.8 2.8 0 1 0 -5.6 0ZM824.2 401.7a2.8 2.8 0 1 0 5.6 0a2.8 2.8 0 1 0 -5.6 0ZM824.4 402.6a2.8 2.8 0 1 0 5.6 0a2.8 2.8 0 1 0 -5.6 0ZM824.7 404a2.8 2.8 0 1 0 5.6 0a2.8 2.8 0 1 0 -5.6 0ZM824.1 406.5a2.8 2.8 0 1 0 5.6 0a2.8 2.8 0 1 0 -5.6 0ZM822.2 410a2.8 2.8 0 1 0 5.6 0a2.8 2.8 0 1 0 -5.6 0ZM821.5 406.8a2.8 2.8 0 1 0 5.6 0a2.8 2.8 0 1 0 -5.6 0ZM825.7 407.7a2.8 2.8 0 1 0 5.6 0a2.8 2.8 0 1 0 -5.6 0ZM828.8 407a2.8 2.8 0 1 0 5.6 0a2.8 2.8 0 1 0 -5.6 0ZM830 406.2a2.8 2.8 0 1 0 5.6 0a2.8 2.8 0 1 0 -5.6 0ZM831.9 404.7a2.8 2.8 0 1 0 5.6 0a2.8 2.8 0 1 0 -5.6 0ZM839.8 401.4a2.8 2.8 0 1 0 5.6 0a2.8 2.8 0 1 0 -5.6 0ZM842.2 400.2a2.8 2.8 0 1 0 5.6 0a2.8 2.8 0 1 0 -5.6 0ZM846.5 399.1a2.8 2.8 0 1 0 5.6 0a2.8 2.8 0 1 0 -5.6 0ZM847.6 395.4a2.8 2.8 0 1 0 5.6 0a2.8 2.8 0 1 0 -5.6 0ZM852.7 395.9a2.8 2.8 0 1 0 5.6 0a2.8 2.8 0 1 0 -5.6 0ZM854.1 392.8a2.8 2.8 0 1 0 5.6 0a2.8 2.8 0 1 0 -5.6 0ZM857.4 393.1a2.8 2.8 0 1 0 5.6 0a2.8 2.8 0 1 0 -5.6 0ZM863.5 391.6a2.8 2.8 0 1 0 5.6 0a2.8 2.8 0 1 0 -5.6 0ZM863.7 395.1a2.8 2.8 0 1 0 5.6 0a2.8 2.8 0 1 0 -5.6 0ZM865.4 395.7a2.8 2.8 0 1 0 5.6 0a2.8 2.8 0 1 0 -5.6 0ZM866.4 397.4a2.8 2.8 0 1 0 5.6 0a2.8 2.8 0 1 0 -5.6 0ZM870.5 402.2a2.8 2.8 0 1 0 5.6 0a2.8 2.8 0 1 0 -5.6 0ZM870.5 402.6a2.8 2.8 0 1 0 5.6 0a2.8 2.8 0 1 0 -5.6 0ZM870.1 405.7a2.8 2.8 0 1 0 5.6 0a2.8 2.8 0 1 0 -5.6 0ZM871.6 407.6a2.8 2.8 0 1 0 5.6 0a2.8 2.8 0 1 0 -5.6 0ZM871.3 409.3a2.8 2.8 0 1 0 5.6 0a2.8 2.8 0 1 0 -5.6 0ZM872.2 408.9a2.8 2.8 0 1 0 5.6 0a2.8 2.8 0 1 0 -5.6 0ZM872.8 414.3a2.8 2.8 0 1 0 5.6 0a2.8 2.8 0 1 0 -5.6 0ZM872.1 413.2a2.8 2.8 0 1 0 5.6 0a2.8 2.8 0 1 0 -5.6 0ZM876.4 410.2a2.8 2.8 0 1 0 5.6 0a2.8 2.8 0 1 0 -5.6 0ZM876.7 408.1a2.8 2.8 0 1 0 5.6 0a2.8 2.8 0 1 0 -5.6 0ZM877.5 403.4a2.8 2.8 0 1 0 5.6 0a2.8 2.8 0 1 0 -5.6 0ZM876.5 400.2a2.8 2.8 0 1 0 5.6 0a2.8 2.8 0 1 0 -5.6 0ZM878.7 385.8a2.8 2.8 0 1 0 5.6 0a2.8 2.8 0 1 0 -5.6 0ZM878.4 378.3a2.8 2.8 0 1 0 5.6 0a2.8 2.8 0 1 0 -5.6 0ZM878.5 373.4a2.8 2.8 0 1 0 5.6 0a2.8 2.8 0 1 0 -5.6 0ZM876.4 370a2.8 2.8 0 1 0 5.6 0a2.8 2.8 0 1 0 -5.6 0ZM878.8 369.7a2.8 2.8 0 1 0 5.6 0a2.8 2.8 0 1 0 -5.6 0ZM877.6 366.6a2.8 2.8 0 1 0 5.6 0a2.8 2.8 0 1 0 -5.6 0ZM878.9 359.3a2.8 2.8 0 1 0 5.6 0a2.8 2.8 0 1 0 -5.6 0ZM877.6 357.9a2.8 2.8 0 1 0 5.6 0a2.8 2.8 0 1 0 -5.6 0ZM879.3 356.7a2.8 2.8 0 1 0 5.6 0a2.8 2.8 0 1 0 -5.6 0ZM878.2 346.8a2.8 2.8 0 1 0 5.6 0a2.8 2.8 0 1 0 -5.6 0ZM878.8 342.6a2.8 2.8 0 1 0 5.6 0a2.8 2.8 0 1 0 -5.6 0ZM879.6 340.2a2.8 2.8 0 1 0 5.6 0a2.8 2.8 0 1 0 -5.6 0ZM876.7 335.3a2.8 2.8 0 1 0 5.6 0a2.8 2.8 0 1 0 -5.6 0ZM878.6 333.5a2.8 2.8 0 1 0 5.6 0a2.8 2.8 0 1 0 -5.6 0ZM1425.3 229.3a2.8 2.8 0 1 0 5.6 0a2.8 2.8 0 1 0 -5.6 0ZM1426.3 226.9a2.8 2.8 0 1 0 5.6 0a2.8 2.8 0 1 0 -5.6 0ZM1425.7 225.4a2.8 2.8 0 1 0 5.6 0a2.8 2.8 0 1 0 -5.6 0ZM1427.5 224a2.8 2.8 0 1 0 5.6 0a2.8 2.8 0 1 0 -5.6 0ZM1428.7 219a2.8 2.8 0 1 0 5.6 0a2.8 2.8 0 1 0 -5.6 0ZM1426.8 219.2a2.8 2.8 0 1 0 5.6 0a2.8 2.8 0 1 0 -5.6 0ZM1431.6 220.4a2.8 2.8 0 1 0 5.6 0a2.8 2.8 0 1 0 -5.6 0ZM1432.3 221.4a2.8 2.8 0 1 0 5.6 0a2.8 2.8 0 1 0 -5.6 0ZM1434.8 220a2.8 2.8 0 1 0 5.6 0a2.8 2.8 0 1 0 -5.6 0ZM1436.3 221.2a2.8 2.8 0 1 0 5.6 0a2.8 2.8 0 1 0 -5.6 0ZM1436 228.4a2.8 2.8 0 1 0 5.6 0a2.8 2.8 0 1 0 -5.6 0ZM1438.7 232.1a2.8 2.8 0 1 0 5.6 0a2.8 2.8 0 1 0 -5.6 0ZM1436.7 237.4a2.8 2.8 0 1 0 5.6 0a2.8 2.8 0 1 0 -5.6 0ZM1440.1 242.3a2.8 2.8 0 1 0 5.6 0a2.8 2.8 0 1 0 -5.6 0ZM1438.9 248.4a2.8 2.8 0 1 0 5.6 0a2.8 2.8 0 1 0 -5.6 0ZM1441.1 249.6a2.8 2.8 0 1 0 5.6 0a2.8 2.8 0 1 0 -5.6 0ZM1439.1 250.7a2.8 2.8 0 1 0 5.6 0a2.8 2.8 0 1 0 -5.6 0ZM1441.1 257.5a2.8 2.8 0 1 0 5.6 0a2.8 2.8 0 1 0 -5.6 0ZM1441.4 260.8a2.8 2.8 0 1 0 5.6 0a2.8 2.8 0 1 0 -5.6 0ZM1442 263.5a2.8 2.8 0 1 0 5.6 0a2.8 2.8 0 1 0 -5.6 0ZM1444.2 265.7a2.8 2.8 0 1 0 5.6 0a2.8 2.8 0 1 0 -5.6 0ZM1442.1 270.6a2.8 2.8 0 1 0 5.6 0a2.8 2.8 0 1 0 -5.6 0ZM1443.2 272.3a2.8 2.8 0 1 0 5.6 0a2.8 2.8 0 1 0 -5.6 0ZM1446.4 274.6a2.8 2.8 0 1 0 5.6 0a2.8 2.8 0 1 0 -5.6 0ZM1447.6 278.1a2.8 2.8 0 1 0 5.6 0a2.8 2.8 0 1 0 -5.6 0ZM1448.9 286a2.8 2.8 0 1 0 5.6 0a2.8 2.8 0 1 0 -5.6 0ZM1447.7 290.8a2.8 2.8 0 1 0 5.6 0a2.8 2.8 0 1 0 -5.6 0ZM1451.3 292.9a2.8 2.8 0 1 0 5.6 0a2.8 2.8 0 1 0 -5.6 0ZM1453.8 298.8a2.8 2.8 0 1 0 5.6 0a2.8 2.8 0 1 0 -5.6 0ZM1455.1 301a2.8 2.8 0 1 0 5.6 0a2.8 2.8 0 1 0 -5.6 0ZM1428.2 382.7a2.8 2.8 0 1 0 5.6 0a2.8 2.8 0 1 0 -5.6 0ZM1426.1 385.1a2.8 2.8 0 1 0 5.6 0a2.8 2.8 0 1 0 -5.6 0ZM1426.8 388.3a2.8 2.8 0 1 0 5.6 0a2.8 2.8 0 1 0 -5.6 0ZM1427.1 389.5a2.8 2.8 0 1 0 5.6 0a2.8 2.8 0 1 0 -5.6 0ZM1429.6 391.2a2.8 2.8 0 1 0 5.6 0a2.8 2.8 0 1 0 -5.6 0ZM1429.9 383.2a2.8 2.8 0 1 0 5.6 0a2.8 2.8 0 1 0 -5.6 0ZM1432.6 383.6a2.8 2.8 0 1 0 5.6 0a2.8 2.8 0 1 0 -5.6 0ZM1435.9 387.3a2.8 2.8 0 1 0 5.6 0a2.8 2.8 0 1 0 -5.6 0ZM1434.4 389.7a2.8 2.8 0 1 0 5.6 0a2.8 2.8 0 1 0 -5.6 0ZM1437.8 389.1a2.8 2.8 0 1 0 5.6 0a2.8 2.8 0 1 0 -5.6 0ZM1440.3 388.1a2.8 2.8 0 1 0 5.6 0a2.8 2.8 0 1 0 -5.6 0ZM1445.3 389a2.8 2.8 0 1 0 5.6 0a2.8 2.8 0 1 0 -5.6 0ZM1448.4 392.8a2.8 2.8 0 1 0 5.6 0a2.8 2.8 0 1 0 -5.6 0ZM1449 396.2a2.8 2.8 0 1 0 5.6 0a2.8 2.8 0 1 0 -5.6 0ZM1445.5 399.4a2.8 2.8 0 1 0 5.6 0a2.8 2.8 0 1 0 -5.6 0ZM1447.7 395.3a2.8 2.8 0 1 0 5.6 0a2.8 2.8 0 1 0 -5.6 0ZM1452.6 389.3a2.8 2.8 0 1 0 5.6 0a2.8 2.8 0 1 0 -5.6 0ZM1450.5 384.7a2.8 2.8 0 1 0 5.6 0a2.8 2.8 0 1 0 -5.6 0ZM1455.3 378.7a2.8 2.8 0 1 0 5.6 0a2.8 2.8 0 1 0 -5.6 0Z" fill="#1f77b4"/>
<path d="M117 348.9 L118 328.9 L120 324.9 L122 330.9 L124 326.9 L125.6 314.9 L127 332.9 L129 330.9 L131 342.9 L133 332.9 L135 326.9 L138 314.9 L140 326.9 L144 324.9 L150 320.9 L153 330.9 L156 322.9 L160 313.9 L163 316.9 L167 308.9 L170 324.9 L174 328.9 L178 346.9 L180 338.9 L184 336.9 L186 344.9 L190 342.9 L192.4 356.9 L194.9 338.9 L198.9 322.9 L201.9 324.9 L205.9 324.9 L207.9 332.9 L210.9 319.9 L213.9 321.9 L217.9 319.9 L221.9 320.9 L224.9 324.9 L227.9 332.9 L229.9 334.9 L232.9 326.9 L235.9 324.9 L237.9 328.9 L241.9 322.9 L243.9 328.9 L245.9 324.9 L247.9 318.9 L251.9 316.9 L255.9 310.9 L259.9 318.9 L263.9 312.9 L267.9 308.9 L271.9 304.9 L273.9 306.9 L276.9 314.9 L279.9 316.9 L281.9 322.9 L285.9 332.9 L289.9 338.9 L291.5 342.9 L293.9 318.9 L296.9 296.9 L299.9 283 L302.9 269 L304.9 277 L307.9 263 L309.9 277 L313.9 285 L316.9 292.9 L320.9 283 L323.9 290.9 L326.9 287 L329.9 292.9 L334.9 283 L337.9 294.9 L341.9 300.9 L345.9 316.9 L348.9 328.9 L350.9 312.9 L353.9 324.9 L359.9 340.9 L363.8 356.9 L366.4 372.9 L369.8 344.9 L372.8 324.9 L375.8 326.9 L378.8 318.9 L381.8 332.9 L384.8 326.9 L387.8 344.9 L389.8 324.9 L393.8 312.9 L397.8 304.9 L398 302.9 L402 304.9 L406 306.9 L409 305.9 L411 318.9 L414 316.9 L418 322.9 L421.4 333.9 L424 322.9 L427 314.9 L430 308.9 L433 316.9 L436 310.9 L438 314.9 L441 302.9 L445 298.9 L448 285 L450 288.9 L454 285 L458 283 L460 281 L463 275 L466 285 L470 294.9 L474 308.9 L478 297.9 L481.9 302.9 L485.9 306.9 L489.9 316.9 L493.9 310.9 L497.9 314.9 L501.9 320.9 L505.9 330.9 L508.9 322.9 L511.9 312.9 L515.9 304.9 L519.9 304.9 L523.9 310.9 L527.9 306.9 L531.9 310.9 L535.9 298.9 L537.5 289.9 L539.9 302.9 L543.9 302.9 L547.9 298.9 L551.9 302.9 L557.9 296.9 L560.9 295.9 L562.9 304.9 L567.9 300.9 L573.9 300.9 L577.9 295.9 L581.9 298.9 L585.9 300.9 L590.9 308.9 L595.9 298.9 L599.9 300.9 L603.9 306.9 L607.9 302.9 L613.9 304.9 L617.9 310.9 L620.9 328.9 L623.9 318.9 L627.9 316.9 L631.9 297.9 L635.9 302.9 L639.9 308.9 L645.9 307.9 L649.8 312.9 L654.8 316.9 L658.8 330.9 L661.8 320.9 L663 311.9 L666 309.9 L666.8 309.9 L669 315.9 L671.8 312.9 L672 308.9 L675 314.9 L675.8 309.9 L678 310.9 L679.8 314.9 L681 313.9 L684 307.9 L684.8 308.9 L687 316.4 L689.8 319.9 L692 316.4 L696 316.4 L702 312.9 L706 302.9 L709 309.9 L713 301.9 L716 301.9 L720 302.9 L722 306.9 L725 304.9 L728 307.9 L730.5 293.4 L732.9 299.9 L735.9 295.9 L737.9 301.9 L739.9 297.4 L742.9 298.9 L745.9 290.9 L749.9 286.9 L752.4 283.9 L755.9 289.9 L759.9 286.9 L762.9 283.9 L765.9 271.9 L769.9 271 L771.9 267.5 L775.4 272.9 L777.9 266.5 L779.9 273.4 L781.9 264.5 L784.9 271 L787.4 270 L789.9 263 L791.9 267 L793.9 254 L795.9 262 L796.9 257.9 L797.9 251 L798.9 249.9 L799.9 253 L801.9 249 L801.9 251.9 L803.9 256 L803.9 247.9 L805.9 239.9 L807.9 233.9 L809.9 251.9 L812.9 241.9 L814.9 245.9 L816.9 259.9 L819.9 269.9 L821.9 272.9 L823.9 286 L824.9 300 L826.9 282 L828.9 317 L830.9 299 L832.9 310 L835.9 323 L837.9 302 L840.9 307 L843.9 299 L845.9 317 L848.9 303 L850.9 323 L853.9 321 L856.9 304 L859.9 303 L861.9 308 L863.9 300 L865.9 309 L867.9 320 L869.9 295 L872.9 298 L874.9 336 L876.9 293 L878.9 320 L880.9 300 L882.9 316 L883.9 313 L1380 331.7 L1423 333.6 L1425.4 334.8 L1427.8 308.5 L1430.2 310.9 L1432.5 315.7 L1433.7 313.3 L1436.1 322.9 L1438.5 320.5 L1440.9 327.6 L1443.3 325.2 L1445.7 330 L1448.1 338.4 L1450.5 314.5 L1452.8 327.6 L1455.2 322.9 L1457.6 332.4 L1462.6 334.8" fill="none" stroke="#ff7f0e" stroke-width="2.1" stroke-linejoin="round"/>
</g>
<rect x="116.5" y="38.5" width="1346" height="480" fill="none" stroke="#000" stroke-width="1.1"/>
<path d="M116.5 518 V523 M284.5 518 V523 M452.5 518 V523 M621.5 518 V523 M789.5 518 V523 M957.5 518 V523 M1125.5 518 V523 M1294.5 518 V523 M111 63.5 H116 M111 144.5 H116 M111 225.5 H116 M111 307.5 H116 M111 388.5 H116 M111 469.5 H116" stroke="#000" stroke-width="1.1" fill="none"/>
<g clip-path="url(#clipb)">
<rect x="760.8" y="575" width="643.1" height="480" fill="#e6e6e6"/>
<rect x="760.8" y="575" width="0.9" height="480" fill="#dcdcdc"/>
<rect x="1403" y="575" width="0.9" height="480" fill="#dcdcdc"/>
<path d="M284.5 575 V1054 M452.5 575 V1054 M621.5 575 V1054 M789.5 575 V1054 M957.5 575 V1054 M1125.5 575 V1054 M1294.5 575 V1054 M116 606.5 H1462 M116 660.5 H1462 M116 714.5 H1462 M116 768.5 H1462 M116 822.5 H1462 M116 877.5 H1462 M116 931.5 H1462 M116 985.5 H1462 M116 1039.5 H1462" stroke="#b0b0b0" stroke-width="1.1" stroke-dasharray="1.1 1.85" fill="none"/>
<path d="M117 986.9 L120 1006.9 L124 1006.9 L128 1002.9 L130 956.9 L136 956.9 L138 982.9 L140 964.9 L144 962.9 L146 950.9 L148 936.9 L150 922.9 L154 912.9 L158 883 L161 883 L162 859 L168 857 L170 871 L174 869 L176 851 L179 837 L183 855 L185 863 L187 812.9 L190 810.9 L193.9 808.9 L197.9 792.9 L203.9 794.9 L209.9 784.9 L211.9 778.9 L213.9 776.9 L217.9 758.9 L221.9 776.9 L225.9 778.9 L229.9 802.9 L233.9 802.9 L235.9 766.9 L237.9 762.9 L239.9 752.9 L241.9 742.9 L243.9 720.9 L245.9 718.9 L247.9 706.9 L251.9 708.9 L253.9 712.9 L255.9 688.9 L257.9 669 L258.9 651 L261.9 651 L263.9 667 L267.9 659 L271.9 669 L273.9 655 L275.9 671 L277.9 684.9 L279.9 712.9 L283.9 720.9 L287.9 728.9 L289.9 736.9 L291.9 722.9 L293.9 712.9 L297.9 700.9 L299.9 690.9 L303.9 700.9 L305.9 712.9 L309.9 720.9 L311.9 684.9 L315.9 667 L321.9 676.9 L325.9 667 L329.9 673 L333.9 671 L337.9 665 L339.9 647 L341.9 665 L345.9 688.9 L349.9 669 L351.9 673 L355.9 700.9 L359.9 714.9 L363.8 716.9 L365.8 688.9 L367.8 657 L371.8 663 L375.8 651 L377.8 671 L379.8 692.9 L383.8 704.6 L386.8 679.5 L388.8 669.4 L391.8 660.6 L393.8 636.6 L397.8 638.6 L398 638.6 L399.8 654.6 L402 654.6 L406 656.6 L410 666.6 L414 672.6 L418 676.6 L422 686.5 L426 672.6 L428 652.6 L432 658.6 L435 642.6 L438 630.6 L440 618.6 L444 634.6 L448 650.6 L452 672.6 L456 698.5 L458 706.5 L460 682.6 L464 686.5 L467 668.6 L470 658.6 L474 648.6 L478 658.6 L481.9 650.6 L483.9 632.6 L485.9 622.6 L489.9 648.6 L493.9 638.6 L496.9 629.6 L499.9 652.6 L503.9 648.6 L507.9 616.6 L511.9 618.6 L514.9 610.6 L517.9 634.6 L521.9 650.6 L525.9 652.6 L529.9 616.6 L533.9 638.6 L537.9 660.6 L541.9 660.6 L545.9 650.6 L548.9 620.6 L553.9 618.6 L557.9 638.6 L561.9 650.6 L565.9 642.6 L569.9 636.6 L573.9 658.6 L575.9 674.6 L577.9 662.6 L581.9 642.6 L585.9 644.6 L589.9 642.6 L592.9 616.6 L595.9 652.6 L599.9 662.6 L603.9 668.6 L607.9 652.6 L611.9 638.6 L615.9 662.6 L617.9 672.6 L619.9 636.6 L622.9 622.6 L624.5 612.6 L627.9 646.6 L631.9 662.6 L635.9 672.6 L637.9 658.6 L641.9 642.6 L645.9 628.6 L648.8 617.6 L651.8 624.6 L655.8 646.6 L659.8 650.6 L663.8 632.6 L666.8 626.6 L669.8 642.6 L673.8 658.6 L677.8 632.6 L680.8 622.6 L683.8 642.6 L687.8 642.6 L690 636.6 L694 646.6 L698 662.6 L702 646.6 L706 644.6 L709 633.6 L714 654.6 L718 636.6 L722 632.6 L723.6 621.6 L726 626.6 L730 658.6 L734 662.6 L738 664.6 L741 646.6 L743 638.6 L746 662.6 L750 652.6 L754 656.8 L758 650.9 L760 641 L762 659 L764 669 L766 676.9 L768 692.9 L771.9 690.9 L773.9 704.9 L777.9 702.9 L781.9 712.9 L783.9 724.9 L787.9 724.9 L788.9 760.9 L790.9 772.9 L791.9 780.9 L793.9 802.9 L794.9 827.1 L796.9 837 L799.9 855 L801.9 871 L803.9 889 L805.9 903 L807.9 922.9 L810.9 938.9 L813.9 954.9 L815.9 970.9 L817.9 992.9 L819.9 1006.9 L821.9 1016.9 L825.9 1022.9 L833.9 1024.9 L845.9 1026.7 L865.9 1026.9 L883.9 1026.9 L884.9 1028.9 L883.9 1028.9 L865.9 1029.9 L845.9 1029.5 L835.9 1029.9 L825.9 1027.9 L817.9 1026.9 L811.9 1020.9 L807.9 1012.9 L803.9 998.9 L799.9 990.9 L794.9 980.9 L790.9 972.9 L788.9 956.9 L787.9 940.9 L785.9 924.9 L783.9 910.9 L779.9 904.9 L775.9 885 L769.9 881 L764 867 L759.9 848.9 L756.8 838.7 L751.7 828 L741.4 824 L731.2 820 L721 816 L710.7 816 L700.5 812 L697.2 814.2 L690.4 814.2 L683.6 811.5 L676.8 811.5 L670 816.9 L663.2 811.5 L656.4 816.9 L649.6 827.8 L642.8 838.7 L636 845.5 L629.2 844.1 L622.4 841.4 L615.6 838.7 L608.8 841.4 L602 844.1 L595.2 844.1 L588.4 841.4 L581.6 838.7 L574.8 841.4 L568 838.7 L561.2 838.7 L554.4 830.5 L547.6 838.7 L540.8 844.1 L534 841.4 L527.2 838.7 L520.4 841.4 L513.6 838.7 L506.8 841.4 L500 838.7 L497.2 844.1 L490.4 841.4 L483.6 841.4 L476.8 844.1 L470 838.7 L463.2 838.7 L456.4 841.4 L449.6 838.7 L442.8 836 L436 838.7 L429.2 838.7 L422.4 838.7 L415.6 838.7 L408.8 836 L402 834.6 L395.2 827.8 L388.4 833.2 L381.6 830.5 L374.8 829.1 L368 831.9 L361.2 838.7 L354.4 836 L347.6 836 L340.8 841.4 L334 844.1 L327.2 846.8 L320.4 852.3 L313.6 855 L306.8 857.7 L300 855 L297.9 879 L293.9 889 L289.9 881 L285.9 887 L281.9 891 L277.9 895 L273.9 901 L269.9 899 L265.9 901 L261.9 903 L257.9 914.9 L251.9 920.9 L247.9 932.9 L243.9 922.9 L239.9 934.9 L235.9 948.9 L231.9 956.9 L225.9 958.9 L221.9 962.9 L217.9 964.9 L213.9 968.9 L209.9 979.9 L205.9 980.9 L201.9 968.9 L197.9 964.9 L193.9 958.9 L190 956.9 L186 960.9 L182 968.9 L178 978.9 L174 986.9 L172 992.9 L168 992.9 L164 994.9 L160 1000.9 L156 1006.9 L152 1012.9 L148 1014.9 L142 1018.9 L136 1024.9 L130 1024.9 L124 1024.9 L120 1026.9 L117 1026.9 Z" fill="#1f77b4" stroke="#1f77b4" stroke-width="1.5" stroke-linejoin="round"/>
<path d="M1425.7 1023.7 L1427.7 1014.9 L1430.5 1012.1 L1434.6 1010.8 L1437.3 1010.8 L1440 1006.7 L1442.8 995.8 L1445.5 993 L1446.8 984.9 L1448.2 967.1 L1450.9 965.1 L1455 964.4 L1457.1 954.8 L1458.4 943.9 L1459.1 930.3 L1460.5 924.8 L1462.7 924.8 L1462.7 1003.4 L1461.2 1008.9 L1459.1 1013 L1456.4 1015.7 L1452.3 1018.4 L1448.2 1021.1 L1444.1 1021.1 L1440 1025.2 L1434.6 1025.9 L1429.1 1028 L1427.1 1030.7 L1425.7 1024.6 Z" fill="#1f77b4" stroke="#1f77b4" stroke-width="1.5" stroke-linejoin="round"/>
<path d="M163.6 832.4a2.8 2.8 0 1 0 5.6 0a2.8 2.8 0 1 0 -5.6 0ZM163.6 839a2.8 2.8 0 1 0 5.6 0a2.8 2.8 0 1 0 -5.6 0ZM177.6 834a2.8 2.8 0 1 0 5.6 0a2.8 2.8 0 1 0 -5.6 0ZM157.6 1003.5a2.8 2.8 0 1 0 5.6 0a2.8 2.8 0 1 0 -5.6 0ZM181.6 972.9a2.8 2.8 0 1 0 5.6 0a2.8 2.8 0 1 0 -5.6 0ZM194.5 967.5a2.8 2.8 0 1 0 5.6 0a2.8 2.8 0 1 0 -5.6 0ZM204.1 982.9a2.8 2.8 0 1 0 5.6 0a2.8 2.8 0 1 0 -5.6 0ZM228.1 961.5a2.8 2.8 0 1 0 5.6 0a2.8 2.8 0 1 0 -5.6 0ZM247.1 936.9a2.8 2.8 0 1 0 5.6 0a2.8 2.8 0 1 0 -5.6 0ZM259.5 938.3a2.8 2.8 0 1 0 5.6 0a2.8 2.8 0 1 0 -5.6 0ZM261.5 924.9a2.8 2.8 0 1 0 5.6 0a2.8 2.8 0 1 0 -5.6 0ZM267.5 922.9a2.8 2.8 0 1 0 5.6 0a2.8 2.8 0 1 0 -5.6 0ZM283.5 925.3a2.8 2.8 0 1 0 5.6 0a2.8 2.8 0 1 0 -5.6 0ZM284.5 917.3a2.8 2.8 0 1 0 5.6 0a2.8 2.8 0 1 0 -5.6 0ZM318.5 911.3a2.8 2.8 0 1 0 5.6 0a2.8 2.8 0 1 0 -5.6 0ZM312.5 902.4a2.8 2.8 0 1 0 5.6 0a2.8 2.8 0 1 0 -5.6 0ZM330.5 896.4a2.8 2.8 0 1 0 5.6 0a2.8 2.8 0 1 0 -5.6 0ZM339.5 894.4a2.8 2.8 0 1 0 5.6 0a2.8 2.8 0 1 0 -5.6 0ZM375 897.4a2.8 2.8 0 1 0 5.6 0a2.8 2.8 0 1 0 -5.6 0ZM385.4 887.6a2.8 2.8 0 1 0 5.6 0a2.8 2.8 0 1 0 -5.6 0ZM368.4 884.4a2.8 2.8 0 1 0 5.6 0a2.8 2.8 0 1 0 -5.6 0ZM299.1 900a2.8 2.8 0 1 0 5.6 0a2.8 2.8 0 1 0 -5.6 0ZM290.1 893.6a2.8 2.8 0 1 0 5.6 0a2.8 2.8 0 1 0 -5.6 0ZM391.4 876.4a2.8 2.8 0 1 0 5.6 0a2.8 2.8 0 1 0 -5.6 0ZM383.6 877a2.8 2.8 0 1 0 5.6 0a2.8 2.8 0 1 0 -5.6 0ZM357.4 871.4a2.8 2.8 0 1 0 5.6 0a2.8 2.8 0 1 0 -5.6 0ZM134.2 1027.9a2.8 2.8 0 1 0 5.6 0a2.8 2.8 0 1 0 -5.6 0ZM163.2 819.9a2.8 2.8 0 1 0 5.6 0a2.8 2.8 0 1 0 -5.6 0ZM215.1 734.9a2.8 2.8 0 1 0 5.6 0a2.8 2.8 0 1 0 -5.6 0ZM215.1 741.9a2.8 2.8 0 1 0 5.6 0a2.8 2.8 0 1 0 -5.6 0ZM215.1 747.9a2.8 2.8 0 1 0 5.6 0a2.8 2.8 0 1 0 -5.6 0ZM215.1 756.9a2.8 2.8 0 1 0 5.6 0a2.8 2.8 0 1 0 -5.6 0ZM196.7 774.9a2.8 2.8 0 1 0 5.6 0a2.8 2.8 0 1 0 -5.6 0ZM195.7 783.9a2.8 2.8 0 1 0 5.6 0a2.8 2.8 0 1 0 -5.6 0ZM195.7 789.9a2.8 2.8 0 1 0 5.6 0a2.8 2.8 0 1 0 -5.6 0ZM224.7 775.5a2.8 2.8 0 1 0 5.6 0a2.8 2.8 0 1 0 -5.6 0ZM225.1 789.9a2.8 2.8 0 1 0 5.6 0a2.8 2.8 0 1 0 -5.6 0ZM267.1 656a2.8 2.8 0 1 0 5.6 0a2.8 2.8 0 1 0 -5.6 0ZM271.1 652a2.8 2.8 0 1 0 5.6 0a2.8 2.8 0 1 0 -5.6 0ZM313.1 664a2.8 2.8 0 1 0 5.6 0a2.8 2.8 0 1 0 -5.6 0ZM297.1 687.9a2.8 2.8 0 1 0 5.6 0a2.8 2.8 0 1 0 -5.6 0ZM373 648a2.8 2.8 0 1 0 5.6 0a2.8 2.8 0 1 0 -5.6 0ZM365.6 654.4a2.8 2.8 0 1 0 5.6 0a2.8 2.8 0 1 0 -5.6 0ZM369.4 660.4a2.8 2.8 0 1 0 5.6 0a2.8 2.8 0 1 0 -5.6 0ZM348.5 666.4a2.8 2.8 0 1 0 5.6 0a2.8 2.8 0 1 0 -5.6 0ZM338.1 644.4a2.8 2.8 0 1 0 5.6 0a2.8 2.8 0 1 0 -5.6 0ZM393 625a2.8 2.8 0 1 0 5.6 0a2.8 2.8 0 1 0 -5.6 0ZM437.2 606a2.8 2.8 0 1 0 5.6 0a2.8 2.8 0 1 0 -5.6 0ZM481.5 610a2.8 2.8 0 1 0 5.6 0a2.8 2.8 0 1 0 -5.6 0ZM494.1 617a2.8 2.8 0 1 0 5.6 0a2.8 2.8 0 1 0 -5.6 0ZM512.1 598a2.8 2.8 0 1 0 5.6 0a2.8 2.8 0 1 0 -5.6 0ZM527.1 604a2.8 2.8 0 1 0 5.6 0a2.8 2.8 0 1 0 -5.6 0ZM590.1 604a2.8 2.8 0 1 0 5.6 0a2.8 2.8 0 1 0 -5.6 0ZM621.7 600a2.8 2.8 0 1 0 5.6 0a2.8 2.8 0 1 0 -5.6 0ZM646 605a2.8 2.8 0 1 0 5.6 0a2.8 2.8 0 1 0 -5.6 0ZM505.1 603a2.8 2.8 0 1 0 5.6 0a2.8 2.8 0 1 0 -5.6 0ZM546.1 608a2.8 2.8 0 1 0 5.6 0a2.8 2.8 0 1 0 -5.6 0ZM551.1 606a2.8 2.8 0 1 0 5.6 0a2.8 2.8 0 1 0 -5.6 0ZM403.6 916.3a2.8 2.8 0 1 0 5.6 0a2.8 2.8 0 1 0 -5.6 0ZM404.2 910.3a2.8 2.8 0 1 0 5.6 0a2.8 2.8 0 1 0 -5.6 0ZM404.2 889a2.8 2.8 0 1 0 5.6 0a2.8 2.8 0 1 0 -5.6 0ZM408.2 882a2.8 2.8 0 1 0 5.6 0a2.8 2.8 0 1 0 -5.6 0ZM416.2 862.6a2.8 2.8 0 1 0 5.6 0a2.8 2.8 0 1 0 -5.6 0ZM427.2 901a2.8 2.8 0 1 0 5.6 0a2.8 2.8 0 1 0 -5.6 0ZM432.2 901a2.8 2.8 0 1 0 5.6 0a2.8 2.8 0 1 0 -5.6 0ZM434.2 890a2.8 2.8 0 1 0 5.6 0a2.8 2.8 0 1 0 -5.6 0ZM465.2 887a2.8 2.8 0 1 0 5.6 0a2.8 2.8 0 1 0 -5.6 0ZM472.8 898.4a2.8 2.8 0 1 0 5.6 0a2.8 2.8 0 1 0 -5.6 0ZM475.2 905.4a2.8 2.8 0 1 0 5.6 0a2.8 2.8 0 1 0 -5.6 0ZM475.2 911.3a2.8 2.8 0 1 0 5.6 0a2.8 2.8 0 1 0 -5.6 0ZM475.2 916.9a2.8 2.8 0 1 0 5.6 0a2.8 2.8 0 1 0 -5.6 0ZM489.5 883.4a2.8 2.8 0 1 0 5.6 0a2.8 2.8 0 1 0 -5.6 0ZM504.1 875.6a2.8 2.8 0 1 0 5.6 0a2.8 2.8 0 1 0 -5.6 0ZM525.5 883.4a2.8 2.8 0 1 0 5.6 0a2.8 2.8 0 1 0 -5.6 0ZM551.5 880.4a2.8 2.8 0 1 0 5.6 0a2.8 2.8 0 1 0 -5.6 0ZM570.5 913.3a2.8 2.8 0 1 0 5.6 0a2.8 2.8 0 1 0 -5.6 0ZM580.5 913.3a2.8 2.8 0 1 0 5.6 0a2.8 2.8 0 1 0 -5.6 0ZM583.5 919.3a2.8 2.8 0 1 0 5.6 0a2.8 2.8 0 1 0 -5.6 0ZM583.5 901a2.8 2.8 0 1 0 5.6 0a2.8 2.8 0 1 0 -5.6 0ZM599.1 911.3a2.8 2.8 0 1 0 5.6 0a2.8 2.8 0 1 0 -5.6 0ZM601.5 897.4a2.8 2.8 0 1 0 5.6 0a2.8 2.8 0 1 0 -5.6 0ZM607.5 903.4a2.8 2.8 0 1 0 5.6 0a2.8 2.8 0 1 0 -5.6 0ZM636.5 904.4a2.8 2.8 0 1 0 5.6 0a2.8 2.8 0 1 0 -5.6 0ZM634.5 889.4a2.8 2.8 0 1 0 5.6 0a2.8 2.8 0 1 0 -5.6 0ZM649.4 889.4a2.8 2.8 0 1 0 5.6 0a2.8 2.8 0 1 0 -5.6 0ZM671.4 888.4a2.8 2.8 0 1 0 5.6 0a2.8 2.8 0 1 0 -5.6 0ZM671.4 877.4a2.8 2.8 0 1 0 5.6 0a2.8 2.8 0 1 0 -5.6 0ZM671.4 860.4a2.8 2.8 0 1 0 5.6 0a2.8 2.8 0 1 0 -5.6 0ZM444.2 871a2.8 2.8 0 1 0 5.6 0a2.8 2.8 0 1 0 -5.6 0ZM543.1 867a2.8 2.8 0 1 0 5.6 0a2.8 2.8 0 1 0 -5.6 0ZM551.5 868.4a2.8 2.8 0 1 0 5.6 0a2.8 2.8 0 1 0 -5.6 0ZM535.1 873a2.8 2.8 0 1 0 5.6 0a2.8 2.8 0 1 0 -5.6 0ZM539.5 877.6a2.8 2.8 0 1 0 5.6 0a2.8 2.8 0 1 0 -5.6 0ZM607.5 883.4a2.8 2.8 0 1 0 5.6 0a2.8 2.8 0 1 0 -5.6 0ZM614.5 882.4a2.8 2.8 0 1 0 5.6 0a2.8 2.8 0 1 0 -5.6 0ZM642.5 879.4a2.8 2.8 0 1 0 5.6 0a2.8 2.8 0 1 0 -5.6 0ZM650.4 883.4a2.8 2.8 0 1 0 5.6 0a2.8 2.8 0 1 0 -5.6 0ZM720.8 609a2.8 2.8 0 1 0 5.6 0a2.8 2.8 0 1 0 -5.6 0ZM721.6 614.4a2.8 2.8 0 1 0 5.6 0a2.8 2.8 0 1 0 -5.6 0ZM755.6 617a2.8 2.8 0 1 0 5.6 0a2.8 2.8 0 1 0 -5.6 0ZM687.2 624a2.8 2.8 0 1 0 5.6 0a2.8 2.8 0 1 0 -5.6 0ZM706.8 621a2.8 2.8 0 1 0 5.6 0a2.8 2.8 0 1 0 -5.6 0ZM714.8 623a2.8 2.8 0 1 0 5.6 0a2.8 2.8 0 1 0 -5.6 0ZM739.6 626a2.8 2.8 0 1 0 5.6 0a2.8 2.8 0 1 0 -5.6 0ZM757.6 637a2.8 2.8 0 1 0 5.6 0a2.8 2.8 0 1 0 -5.6 0ZM776.1 660a2.8 2.8 0 1 0 5.6 0a2.8 2.8 0 1 0 -5.6 0ZM776.1 664a2.8 2.8 0 1 0 5.6 0a2.8 2.8 0 1 0 -5.6 0ZM777.1 672a2.8 2.8 0 1 0 5.6 0a2.8 2.8 0 1 0 -5.6 0ZM777.1 679.9a2.8 2.8 0 1 0 5.6 0a2.8 2.8 0 1 0 -5.6 0ZM784.7 720.9a2.8 2.8 0 1 0 5.6 0a2.8 2.8 0 1 0 -5.6 0ZM784.1 742.9a2.8 2.8 0 1 0 5.6 0a2.8 2.8 0 1 0 -5.6 0ZM787.5 756.9a2.8 2.8 0 1 0 5.6 0a2.8 2.8 0 1 0 -5.6 0ZM787.5 769.3a2.8 2.8 0 1 0 5.6 0a2.8 2.8 0 1 0 -5.6 0ZM693.6 865.6a2.8 2.8 0 1 0 5.6 0a2.8 2.8 0 1 0 -5.6 0ZM703.6 859.6a2.8 2.8 0 1 0 5.6 0a2.8 2.8 0 1 0 -5.6 0ZM703.6 868a2.8 2.8 0 1 0 5.6 0a2.8 2.8 0 1 0 -5.6 0ZM713.6 853.6a2.8 2.8 0 1 0 5.6 0a2.8 2.8 0 1 0 -5.6 0ZM738.6 872.4a2.8 2.8 0 1 0 5.6 0a2.8 2.8 0 1 0 -5.6 0ZM756.6 879.6a2.8 2.8 0 1 0 5.6 0a2.8 2.8 0 1 0 -5.6 0ZM768.5 914.3a2.8 2.8 0 1 0 5.6 0a2.8 2.8 0 1 0 -5.6 0ZM766.5 893.6a2.8 2.8 0 1 0 5.6 0a2.8 2.8 0 1 0 -5.6 0ZM770.5 894.4a2.8 2.8 0 1 0 5.6 0a2.8 2.8 0 1 0 -5.6 0ZM795.5 998.3a2.8 2.8 0 1 0 5.6 0a2.8 2.8 0 1 0 -5.6 0ZM733.2 855a2.8 2.8 0 1 0 5.6 0a2.8 2.8 0 1 0 -5.6 0ZM743.2 854a2.8 2.8 0 1 0 5.6 0a2.8 2.8 0 1 0 -5.6 0ZM695.6 838a2.8 2.8 0 1 0 5.6 0a2.8 2.8 0 1 0 -5.6 0ZM685.6 838a2.8 2.8 0 1 0 5.6 0a2.8 2.8 0 1 0 -5.6 0ZM703.6 846a2.8 2.8 0 1 0 5.6 0a2.8 2.8 0 1 0 -5.6 0ZM112.4 984.3a2.8 2.8 0 1 0 5.6 0a2.8 2.8 0 1 0 -5.6 0ZM112.5 986.7a2.8 2.8 0 1 0 5.6 0a2.8 2.8 0 1 0 -5.6 0ZM110 989.2a2.8 2.8 0 1 0 5.6 0a2.8 2.8 0 1 0 -5.6 0ZM113.3 992.9a2.8 2.8 0 1 0 5.6 0a2.8 2.8 0 1 0 -5.6 0ZM112.7 994a2.8 2.8 0 1 0 5.6 0a2.8 2.8 0 1 0 -5.6 0ZM114.4 998.2a2.8 2.8 0 1 0 5.6 0a2.8 2.8 0 1 0 -5.6 0ZM115.2 1002a2.8 2.8 0 1 0 5.6 0a2.8 2.8 0 1 0 -5.6 0ZM118.9 1008.2a2.8 2.8 0 1 0 5.6 0a2.8 2.8 0 1 0 -5.6 0ZM122.8 1005.5a2.8 2.8 0 1 0 5.6 0a2.8 2.8 0 1 0 -5.6 0ZM127.3 1002.9a2.8 2.8 0 1 0 5.6 0a2.8 2.8 0 1 0 -5.6 0ZM127.2 997.9a2.8 2.8 0 1 0 5.6 0a2.8 2.8 0 1 0 -5.6 0ZM129 993.3a2.8 2.8 0 1 0 5.6 0a2.8 2.8 0 1 0 -5.6 0ZM127.2 992.5a2.8 2.8 0 1 0 5.6 0a2.8 2.8 0 1 0 -5.6 0ZM128.6 987.2a2.8 2.8 0 1 0 5.6 0a2.8 2.8 0 1 0 -5.6 0ZM128.3 983.8a2.8 2.8 0 1 0 5.6 0a2.8 2.8 0 1 0 -5.6 0ZM127.9 982.5a2.8 2.8 0 1 0 5.6 0a2.8 2.8 0 1 0 -5.6 0ZM128.6 980.2a2.8 2.8 0 1 0 5.6 0a2.8 2.8 0 1 0 -5.6 0ZM128.5 978.4a2.8 2.8 0 1 0 5.6 0a2.8 2.8 0 1 0 -5.6 0ZM129.1 977.6a2.8 2.8 0 1 0 5.6 0a2.8 2.8 0 1 0 -5.6 0ZM129.5 974.9a2.8 2.8 0 1 0 5.6 0a2.8 2.8 0 1 0 -5.6 0ZM130.9 971.3a2.8 2.8 0 1 0 5.6 0a2.8 2.8 0 1 0 -5.6 0ZM129.6 970.6a2.8 2.8 0 1 0 5.6 0a2.8 2.8 0 1 0 -5.6 0ZM130.6 968a2.8 2.8 0 1 0 5.6 0a2.8 2.8 0 1 0 -5.6 0ZM129.9 966.7a2.8 2.8 0 1 0 5.6 0a2.8 2.8 0 1 0 -5.6 0ZM129.8 964.7a2.8 2.8 0 1 0 5.6 0a2.8 2.8 0 1 0 -5.6 0ZM129.6 963.1a2.8 2.8 0 1 0 5.6 0a2.8 2.8 0 1 0 -5.6 0ZM130.4 959.7a2.8 2.8 0 1 0 5.6 0a2.8 2.8 0 1 0 -5.6 0ZM131.1 959.2a2.8 2.8 0 1 0 5.6 0a2.8 2.8 0 1 0 -5.6 0ZM132 956.2a2.8 2.8 0 1 0 5.6 0a2.8 2.8 0 1 0 -5.6 0ZM129.1 957.3a2.8 2.8 0 1 0 5.6 0a2.8 2.8 0 1 0 -5.6 0ZM129.5 958.5a2.8 2.8 0 1 0 5.6 0a2.8 2.8 0 1 0 -5.6 0ZM131.4 956.4a2.8 2.8 0 1 0 5.6 0a2.8 2.8 0 1 0 -5.6 0ZM131.6 957.3a2.8 2.8 0 1 0 5.6 0a2.8 2.8 0 1 0 -5.6 0ZM131.2 958.4a2.8 2.8 0 1 0 5.6 0a2.8 2.8 0 1 0 -5.6 0ZM128.8 961.9a2.8 2.8 0 1 0 5.6 0a2.8 2.8 0 1 0 -5.6 0ZM132.3 963.7a2.8 2.8 0 1 0 5.6 0a2.8 2.8 0 1 0 -5.6 0ZM131 967.2a2.8 2.8 0 1 0 5.6 0a2.8 2.8 0 1 0 -5.6 0ZM131.2 971.3a2.8 2.8 0 1 0 5.6 0a2.8 2.8 0 1 0 -5.6 0ZM130.2 978.1a2.8 2.8 0 1 0 5.6 0a2.8 2.8 0 1 0 -5.6 0ZM137.8 976.7a2.8 2.8 0 1 0 5.6 0a2.8 2.8 0 1 0 -5.6 0ZM140.3 975.7a2.8 2.8 0 1 0 5.6 0a2.8 2.8 0 1 0 -5.6 0ZM137.5 974.3a2.8 2.8 0 1 0 5.6 0a2.8 2.8 0 1 0 -5.6 0ZM138.2 972.7a2.8 2.8 0 1 0 5.6 0a2.8 2.8 0 1 0 -5.6 0ZM139.5 967.8a2.8 2.8 0 1 0 5.6 0a2.8 2.8 0 1 0 -5.6 0ZM139.3 964.1a2.8 2.8 0 1 0 5.6 0a2.8 2.8 0 1 0 -5.6 0ZM141.9 963.3a2.8 2.8 0 1 0 5.6 0a2.8 2.8 0 1 0 -5.6 0ZM140.8 964.2a2.8 2.8 0 1 0 5.6 0a2.8 2.8 0 1 0 -5.6 0ZM141.9 962.1a2.8 2.8 0 1 0 5.6 0a2.8 2.8 0 1 0 -5.6 0ZM146.4 958.3a2.8 2.8 0 1 0 5.6 0a2.8 2.8 0 1 0 -5.6 0ZM144.7 955.6a2.8 2.8 0 1 0 5.6 0a2.8 2.8 0 1 0 -5.6 0ZM144.8 951.5a2.8 2.8 0 1 0 5.6 0a2.8 2.8 0 1 0 -5.6 0ZM145.8 947.1a2.8 2.8 0 1 0 5.6 0a2.8 2.8 0 1 0 -5.6 0ZM147.6 945.4a2.8 2.8 0 1 0 5.6 0a2.8 2.8 0 1 0 -5.6 0ZM145.8 943.7a2.8 2.8 0 1 0 5.6 0a2.8 2.8 0 1 0 -5.6 0ZM147.7 940.1a2.8 2.8 0 1 0 5.6 0a2.8 2.8 0 1 0 -5.6 0ZM146.6 936.4a2.8 2.8 0 1 0 5.6 0a2.8 2.8 0 1 0 -5.6 0ZM148.5 936.1a2.8 2.8 0 1 0 5.6 0a2.8 2.8 0 1 0 -5.6 0ZM149.9 933.8a2.8 2.8 0 1 0 5.6 0a2.8 2.8 0 1 0 -5.6 0ZM149.5 924.5a2.8 2.8 0 1 0 5.6 0a2.8 2.8 0 1 0 -5.6 0ZM148.8 922.4a2.8 2.8 0 1 0 5.6 0a2.8 2.8 0 1 0 -5.6 0ZM149.5 921.7a2.8 2.8 0 1 0 5.6 0a2.8 2.8 0 1 0 -5.6 0ZM153.4 916.6a2.8 2.8 0 1 0 5.6 0a2.8 2.8 0 1 0 -5.6 0ZM153.6 910.1a2.8 2.8 0 1 0 5.6 0a2.8 2.8 0 1 0 -5.6 0ZM156.5 905.3a2.8 2.8 0 1 0 5.6 0a2.8 2.8 0 1 0 -5.6 0ZM156.8 902.9a2.8 2.8 0 1 0 5.6 0a2.8 2.8 0 1 0 -5.6 0ZM156.4 900.8a2.8 2.8 0 1 0 5.6 0a2.8 2.8 0 1 0 -5.6 0ZM155.6 898.6a2.8 2.8 0 1 0 5.6 0a2.8 2.8 0 1 0 -5.6 0ZM154.9 895.8a2.8 2.8 0 1 0 5.6 0a2.8 2.8 0 1 0 -5.6 0ZM158.1 890.5a2.8 2.8 0 1 0 5.6 0a2.8 2.8 0 1 0 -5.6 0ZM157.9 889a2.8 2.8 0 1 0 5.6 0a2.8 2.8 0 1 0 -5.6 0ZM159.1 882.5a2.8 2.8 0 1 0 5.6 0a2.8 2.8 0 1 0 -5.6 0ZM159.8 881.7a2.8 2.8 0 1 0 5.6 0a2.8 2.8 0 1 0 -5.6 0ZM156.4 884.8a2.8 2.8 0 1 0 5.6 0a2.8 2.8 0 1 0 -5.6 0ZM161.1 876.9a2.8 2.8 0 1 0 5.6 0a2.8 2.8 0 1 0 -5.6 0ZM160.8 872.3a2.8 2.8 0 1 0 5.6 0a2.8 2.8 0 1 0 -5.6 0ZM160.6 870.8a2.8 2.8 0 1 0 5.6 0a2.8 2.8 0 1 0 -5.6 0ZM160.5 868.2a2.8 2.8 0 1 0 5.6 0a2.8 2.8 0 1 0 -5.6 0ZM162.3 865.5a2.8 2.8 0 1 0 5.6 0a2.8 2.8 0 1 0 -5.6 0ZM161.9 864a2.8 2.8 0 1 0 5.6 0a2.8 2.8 0 1 0 -5.6 0ZM160.6 862.5a2.8 2.8 0 1 0 5.6 0a2.8 2.8 0 1 0 -5.6 0ZM163.9 859.2a2.8 2.8 0 1 0 5.6 0a2.8 2.8 0 1 0 -5.6 0ZM163.4 859.9a2.8 2.8 0 1 0 5.6 0a2.8 2.8 0 1 0 -5.6 0ZM162.6 862.1a2.8 2.8 0 1 0 5.6 0a2.8 2.8 0 1 0 -5.6 0ZM165.3 866.6a2.8 2.8 0 1 0 5.6 0a2.8 2.8 0 1 0 -5.6 0ZM169.7 869.5a2.8 2.8 0 1 0 5.6 0a2.8 2.8 0 1 0 -5.6 0ZM170.2 868.9a2.8 2.8 0 1 0 5.6 0a2.8 2.8 0 1 0 -5.6 0ZM173.9 864a2.8 2.8 0 1 0 5.6 0a2.8 2.8 0 1 0 -5.6 0ZM176.7 859.1a2.8 2.8 0 1 0 5.6 0a2.8 2.8 0 1 0 -5.6 0ZM175.8 855a2.8 2.8 0 1 0 5.6 0a2.8 2.8 0 1 0 -5.6 0ZM175.9 853a2.8 2.8 0 1 0 5.6 0a2.8 2.8 0 1 0 -5.6 0ZM174.6 851.7a2.8 2.8 0 1 0 5.6 0a2.8 2.8 0 1 0 -5.6 0ZM176.7 850a2.8 2.8 0 1 0 5.6 0a2.8 2.8 0 1 0 -5.6 0ZM177.9 845.3a2.8 2.8 0 1 0 5.6 0a2.8 2.8 0 1 0 -5.6 0ZM176.4 843.5a2.8 2.8 0 1 0 5.6 0a2.8 2.8 0 1 0 -5.6 0ZM177 840.3a2.8 2.8 0 1 0 5.6 0a2.8 2.8 0 1 0 -5.6 0ZM178.4 835.1a2.8 2.8 0 1 0 5.6 0a2.8 2.8 0 1 0 -5.6 0ZM175 839.1a2.8 2.8 0 1 0 5.6 0a2.8 2.8 0 1 0 -5.6 0ZM174.8 845.8a2.8 2.8 0 1 0 5.6 0a2.8 2.8 0 1 0 -5.6 0ZM176.8 847.3a2.8 2.8 0 1 0 5.6 0a2.8 2.8 0 1 0 -5.6 0ZM175.7 849.4a2.8 2.8 0 1 0 5.6 0a2.8 2.8 0 1 0 -5.6 0ZM176.9 851.3a2.8 2.8 0 1 0 5.6 0a2.8 2.8 0 1 0 -5.6 0ZM178.9 853.8a2.8 2.8 0 1 0 5.6 0a2.8 2.8 0 1 0 -5.6 0ZM177.6 857.5a2.8 2.8 0 1 0 5.6 0a2.8 2.8 0 1 0 -5.6 0ZM186.2 855.8a2.8 2.8 0 1 0 5.6 0a2.8 2.8 0 1 0 -5.6 0ZM184.8 854.2a2.8 2.8 0 1 0 5.6 0a2.8 2.8 0 1 0 -5.6 0ZM186.9 842.9a2.8 2.8 0 1 0 5.6 0a2.8 2.8 0 1 0 -5.6 0ZM184.8 840.4a2.8 2.8 0 1 0 5.6 0a2.8 2.8 0 1 0 -5.6 0ZM185.1 838.7a2.8 2.8 0 1 0 5.6 0a2.8 2.8 0 1 0 -5.6 0ZM185.2 833.7a2.8 2.8 0 1 0 5.6 0a2.8 2.8 0 1 0 -5.6 0ZM186.1 831.3a2.8 2.8 0 1 0 5.6 0a2.8 2.8 0 1 0 -5.6 0ZM185.4 827.1a2.8 2.8 0 1 0 5.6 0a2.8 2.8 0 1 0 -5.6 0ZM186.8 826a2.8 2.8 0 1 0 5.6 0a2.8 2.8 0 1 0 -5.6 0ZM186 823.6a2.8 2.8 0 1 0 5.6 0a2.8 2.8 0 1 0 -5.6 0ZM187.7 822.1a2.8 2.8 0 1 0 5.6 0a2.8 2.8 0 1 0 -5.6 0ZM188.6 818.5a2.8 2.8 0 1 0 5.6 0a2.8 2.8 0 1 0 -5.6 0ZM187.8 812.9a2.8 2.8 0 1 0 5.6 0a2.8 2.8 0 1 0 -5.6 0ZM189 811.9a2.8 2.8 0 1 0 5.6 0a2.8 2.8 0 1 0 -5.6 0ZM188.4 811.5a2.8 2.8 0 1 0 5.6 0a2.8 2.8 0 1 0 -5.6 0ZM189.1 811.5a2.8 2.8 0 1 0 5.6 0a2.8 2.8 0 1 0 -5.6 0ZM194 806.4a2.8 2.8 0 1 0 5.6 0a2.8 2.8 0 1 0 -5.6 0ZM193.7 802.8a2.8 2.8 0 1 0 5.6 0a2.8 2.8 0 1 0 -5.6 0ZM194.4 801.5a2.8 2.8 0 1 0 5.6 0a2.8 2.8 0 1 0 -5.6 0ZM194.6 800.9a2.8 2.8 0 1 0 5.6 0a2.8 2.8 0 1 0 -5.6 0ZM195.4 797.8a2.8 2.8 0 1 0 5.6 0a2.8 2.8 0 1 0 -5.6 0ZM196.7 796.4a2.8 2.8 0 1 0 5.6 0a2.8 2.8 0 1 0 -5.6 0ZM196.2 795.6a2.8 2.8 0 1 0 5.6 0a2.8 2.8 0 1 0 -5.6 0ZM198.8 792.2a2.8 2.8 0 1 0 5.6 0a2.8 2.8 0 1 0 -5.6 0ZM199.9 795.3a2.8 2.8 0 1 0 5.6 0a2.8 2.8 0 1 0 -5.6 0ZM205.1 793.2a2.8 2.8 0 1 0 5.6 0a2.8 2.8 0 1 0 -5.6 0ZM207.5 790.7a2.8 2.8 0 1 0 5.6 0a2.8 2.8 0 1 0 -5.6 0ZM207.3 786.9a2.8 2.8 0 1 0 5.6 0a2.8 2.8 0 1 0 -5.6 0ZM208.1 786.4a2.8 2.8 0 1 0 5.6 0a2.8 2.8 0 1 0 -5.6 0ZM210.3 781a2.8 2.8 0 1 0 5.6 0a2.8 2.8 0 1 0 -5.6 0ZM210.9 779.3a2.8 2.8 0 1 0 5.6 0a2.8 2.8 0 1 0 -5.6 0ZM212.9 778.4a2.8 2.8 0 1 0 5.6 0a2.8 2.8 0 1 0 -5.6 0ZM215.2 774.8a2.8 2.8 0 1 0 5.6 0a2.8 2.8 0 1 0 -5.6 0ZM217.4 766.1a2.8 2.8 0 1 0 5.6 0a2.8 2.8 0 1 0 -5.6 0ZM216.1 764.9a2.8 2.8 0 1 0 5.6 0a2.8 2.8 0 1 0 -5.6 0ZM215.6 762.8a2.8 2.8 0 1 0 5.6 0a2.8 2.8 0 1 0 -5.6 0ZM217.2 760.3a2.8 2.8 0 1 0 5.6 0a2.8 2.8 0 1 0 -5.6 0ZM211.7 760.3a2.8 2.8 0 1 0 5.6 0a2.8 2.8 0 1 0 -5.6 0ZM215 768.5a2.8 2.8 0 1 0 5.6 0a2.8 2.8 0 1 0 -5.6 0ZM215.9 771.9a2.8 2.8 0 1 0 5.6 0a2.8 2.8 0 1 0 -5.6 0ZM218.8 778.7a2.8 2.8 0 1 0 5.6 0a2.8 2.8 0 1 0 -5.6 0ZM219.3 778.3a2.8 2.8 0 1 0 5.6 0a2.8 2.8 0 1 0 -5.6 0ZM220.9 783.6a2.8 2.8 0 1 0 5.6 0a2.8 2.8 0 1 0 -5.6 0ZM220.3 784.6a2.8 2.8 0 1 0 5.6 0a2.8 2.8 0 1 0 -5.6 0ZM223 789.8a2.8 2.8 0 1 0 5.6 0a2.8 2.8 0 1 0 -5.6 0ZM224 791.5a2.8 2.8 0 1 0 5.6 0a2.8 2.8 0 1 0 -5.6 0ZM224.4 794.8a2.8 2.8 0 1 0 5.6 0a2.8 2.8 0 1 0 -5.6 0ZM224 799.4a2.8 2.8 0 1 0 5.6 0a2.8 2.8 0 1 0 -5.6 0ZM235.8 799a2.8 2.8 0 1 0 5.6 0a2.8 2.8 0 1 0 -5.6 0ZM235.4 796.7a2.8 2.8 0 1 0 5.6 0a2.8 2.8 0 1 0 -5.6 0ZM235 794.9a2.8 2.8 0 1 0 5.6 0a2.8 2.8 0 1 0 -5.6 0ZM235.9 793.7a2.8 2.8 0 1 0 5.6 0a2.8 2.8 0 1 0 -5.6 0ZM234.6 792a2.8 2.8 0 1 0 5.6 0a2.8 2.8 0 1 0 -5.6 0ZM234.7 786.8a2.8 2.8 0 1 0 5.6 0a2.8 2.8 0 1 0 -5.6 0ZM233.9 780.3a2.8 2.8 0 1 0 5.6 0a2.8 2.8 0 1 0 -5.6 0ZM236.3 779.5a2.8 2.8 0 1 0 5.6 0a2.8 2.8 0 1 0 -5.6 0ZM235.7 778.3a2.8 2.8 0 1 0 5.6 0a2.8 2.8 0 1 0 -5.6 0ZM236.8 772.7a2.8 2.8 0 1 0 5.6 0a2.8 2.8 0 1 0 -5.6 0ZM237.9 768a2.8 2.8 0 1 0 5.6 0a2.8 2.8 0 1 0 -5.6 0ZM237 767a2.8 2.8 0 1 0 5.6 0a2.8 2.8 0 1 0 -5.6 0ZM235.9 764.5a2.8 2.8 0 1 0 5.6 0a2.8 2.8 0 1 0 -5.6 0ZM238.6 759.5a2.8 2.8 0 1 0 5.6 0a2.8 2.8 0 1 0 -5.6 0ZM241.2 755a2.8 2.8 0 1 0 5.6 0a2.8 2.8 0 1 0 -5.6 0ZM238.8 752.7a2.8 2.8 0 1 0 5.6 0a2.8 2.8 0 1 0 -5.6 0ZM241.9 749.3a2.8 2.8 0 1 0 5.6 0a2.8 2.8 0 1 0 -5.6 0ZM240.2 746.5a2.8 2.8 0 1 0 5.6 0a2.8 2.8 0 1 0 -5.6 0ZM242.7 745.8a2.8 2.8 0 1 0 5.6 0a2.8 2.8 0 1 0 -5.6 0ZM242.8 738.5a2.8 2.8 0 1 0 5.6 0a2.8 2.8 0 1 0 -5.6 0ZM243.7 737.3a2.8 2.8 0 1 0 5.6 0a2.8 2.8 0 1 0 -5.6 0ZM242 735.4a2.8 2.8 0 1 0 5.6 0a2.8 2.8 0 1 0 -5.6 0ZM243 733.9a2.8 2.8 0 1 0 5.6 0a2.8 2.8 0 1 0 -5.6 0ZM241.4 732.6a2.8 2.8 0 1 0 5.6 0a2.8 2.8 0 1 0 -5.6 0ZM244.2 729.8a2.8 2.8 0 1 0 5.6 0a2.8 2.8 0 1 0 -5.6 0ZM243.5 728.8a2.8 2.8 0 1 0 5.6 0a2.8 2.8 0 1 0 -5.6 0ZM245 726.4a2.8 2.8 0 1 0 5.6 0a2.8 2.8 0 1 0 -5.6 0ZM244.6 724.5a2.8 2.8 0 1 0 5.6 0a2.8 2.8 0 1 0 -5.6 0ZM246.2 719.6a2.8 2.8 0 1 0 5.6 0a2.8 2.8 0 1 0 -5.6 0ZM246.5 714.5a2.8 2.8 0 1 0 5.6 0a2.8 2.8 0 1 0 -5.6 0ZM247.7 714.5a2.8 2.8 0 1 0 5.6 0a2.8 2.8 0 1 0 -5.6 0ZM248 709.6a2.8 2.8 0 1 0 5.6 0a2.8 2.8 0 1 0 -5.6 0ZM247.4 704.8a2.8 2.8 0 1 0 5.6 0a2.8 2.8 0 1 0 -5.6 0ZM244.1 706.8a2.8 2.8 0 1 0 5.6 0a2.8 2.8 0 1 0 -5.6 0ZM247.2 707.3a2.8 2.8 0 1 0 5.6 0a2.8 2.8 0 1 0 -5.6 0ZM247.9 709.5a2.8 2.8 0 1 0 5.6 0a2.8 2.8 0 1 0 -5.6 0ZM254.4 709.9a2.8 2.8 0 1 0 5.6 0a2.8 2.8 0 1 0 -5.6 0ZM254.7 706.6a2.8 2.8 0 1 0 5.6 0a2.8 2.8 0 1 0 -5.6 0ZM255.2 704.3a2.8 2.8 0 1 0 5.6 0a2.8 2.8 0 1 0 -5.6 0ZM253.6 702.4a2.8 2.8 0 1 0 5.6 0a2.8 2.8 0 1 0 -5.6 0ZM255.3 696.6a2.8 2.8 0 1 0 5.6 0a2.8 2.8 0 1 0 -5.6 0ZM255.4 694.1a2.8 2.8 0 1 0 5.6 0a2.8 2.8 0 1 0 -5.6 0ZM256.2 692a2.8 2.8 0 1 0 5.6 0a2.8 2.8 0 1 0 -5.6 0ZM256.8 690.2a2.8 2.8 0 1 0 5.6 0a2.8 2.8 0 1 0 -5.6 0ZM257.6 688.9a2.8 2.8 0 1 0 5.6 0a2.8 2.8 0 1 0 -5.6 0ZM255.6 687.2a2.8 2.8 0 1 0 5.6 0a2.8 2.8 0 1 0 -5.6 0ZM257.3 685.1a2.8 2.8 0 1 0 5.6 0a2.8 2.8 0 1 0 -5.6 0ZM258 682.1a2.8 2.8 0 1 0 5.6 0a2.8 2.8 0 1 0 -5.6 0ZM256.7 677.7a2.8 2.8 0 1 0 5.6 0a2.8 2.8 0 1 0 -5.6 0ZM256.5 674.5a2.8 2.8 0 1 0 5.6 0a2.8 2.8 0 1 0 -5.6 0ZM258.8 672a2.8 2.8 0 1 0 5.6 0a2.8 2.8 0 1 0 -5.6 0ZM257.8 671.1a2.8 2.8 0 1 0 5.6 0a2.8 2.8 0 1 0 -5.6 0ZM259.4 669.4a2.8 2.8 0 1 0 5.6 0a2.8 2.8 0 1 0 -5.6 0ZM259.8 667.3a2.8 2.8 0 1 0 5.6 0a2.8 2.8 0 1 0 -5.6 0ZM258.2 663.7a2.8 2.8 0 1 0 5.6 0a2.8 2.8 0 1 0 -5.6 0ZM258.5 658.3a2.8 2.8 0 1 0 5.6 0a2.8 2.8 0 1 0 -5.6 0ZM259.1 655.5a2.8 2.8 0 1 0 5.6 0a2.8 2.8 0 1 0 -5.6 0ZM260.1 654.8a2.8 2.8 0 1 0 5.6 0a2.8 2.8 0 1 0 -5.6 0ZM257.6 652.2a2.8 2.8 0 1 0 5.6 0a2.8 2.8 0 1 0 -5.6 0ZM260.2 651.7a2.8 2.8 0 1 0 5.6 0a2.8 2.8 0 1 0 -5.6 0ZM257.8 649.5a2.8 2.8 0 1 0 5.6 0a2.8 2.8 0 1 0 -5.6 0ZM258.3 652a2.8 2.8 0 1 0 5.6 0a2.8 2.8 0 1 0 -5.6 0ZM257.9 654a2.8 2.8 0 1 0 5.6 0a2.8 2.8 0 1 0 -5.6 0ZM256 656.9a2.8 2.8 0 1 0 5.6 0a2.8 2.8 0 1 0 -5.6 0ZM256.1 660.7a2.8 2.8 0 1 0 5.6 0a2.8 2.8 0 1 0 -5.6 0ZM263.6 662.8a2.8 2.8 0 1 0 5.6 0a2.8 2.8 0 1 0 -5.6 0ZM263.7 662.5a2.8 2.8 0 1 0 5.6 0a2.8 2.8 0 1 0 -5.6 0ZM263.2 657.1a2.8 2.8 0 1 0 5.6 0a2.8 2.8 0 1 0 -5.6 0ZM266.2 667.1a2.8 2.8 0 1 0 5.6 0a2.8 2.8 0 1 0 -5.6 0ZM271.5 665.8a2.8 2.8 0 1 0 5.6 0a2.8 2.8 0 1 0 -5.6 0ZM272.4 657.9a2.8 2.8 0 1 0 5.6 0a2.8 2.8 0 1 0 -5.6 0ZM272.5 654.7a2.8 2.8 0 1 0 5.6 0a2.8 2.8 0 1 0 -5.6 0ZM272.7 652.8a2.8 2.8 0 1 0 5.6 0a2.8 2.8 0 1 0 -5.6 0ZM267.8 654a2.8 2.8 0 1 0 5.6 0a2.8 2.8 0 1 0 -5.6 0ZM268 656.2a2.8 2.8 0 1 0 5.6 0a2.8 2.8 0 1 0 -5.6 0ZM266.9 657.3a2.8 2.8 0 1 0 5.6 0a2.8 2.8 0 1 0 -5.6 0ZM270.2 662.5a2.8 2.8 0 1 0 5.6 0a2.8 2.8 0 1 0 -5.6 0ZM271.2 665.5a2.8 2.8 0 1 0 5.6 0a2.8 2.8 0 1 0 -5.6 0ZM269.1 670.6a2.8 2.8 0 1 0 5.6 0a2.8 2.8 0 1 0 -5.6 0ZM270.4 673.8a2.8 2.8 0 1 0 5.6 0a2.8 2.8 0 1 0 -5.6 0ZM269.7 678.6a2.8 2.8 0 1 0 5.6 0a2.8 2.8 0 1 0 -5.6 0ZM272.6 682.8a2.8 2.8 0 1 0 5.6 0a2.8 2.8 0 1 0 -5.6 0ZM273.6 696.6a2.8 2.8 0 1 0 5.6 0a2.8 2.8 0 1 0 -5.6 0ZM273.2 700.6a2.8 2.8 0 1 0 5.6 0a2.8 2.8 0 1 0 -5.6 0ZM274.7 702.5a2.8 2.8 0 1 0 5.6 0a2.8 2.8 0 1 0 -5.6 0ZM273.4 707.9a2.8 2.8 0 1 0 5.6 0a2.8 2.8 0 1 0 -5.6 0ZM273.3 712.9a2.8 2.8 0 1 0 5.6 0a2.8 2.8 0 1 0 -5.6 0ZM277.1 714.4a2.8 2.8 0 1 0 5.6 0a2.8 2.8 0 1 0 -5.6 0ZM275.1 716.2a2.8 2.8 0 1 0 5.6 0a2.8 2.8 0 1 0 -5.6 0ZM278.6 718.5a2.8 2.8 0 1 0 5.6 0a2.8 2.8 0 1 0 -5.6 0ZM280 724.7a2.8 2.8 0 1 0 5.6 0a2.8 2.8 0 1 0 -5.6 0ZM282.5 726.4a2.8 2.8 0 1 0 5.6 0a2.8 2.8 0 1 0 -5.6 0ZM280.9 728.9a2.8 2.8 0 1 0 5.6 0a2.8 2.8 0 1 0 -5.6 0ZM282.2 732.1a2.8 2.8 0 1 0 5.6 0a2.8 2.8 0 1 0 -5.6 0ZM290.3 732.6a2.8 2.8 0 1 0 5.6 0a2.8 2.8 0 1 0 -5.6 0ZM291.8 730.3a2.8 2.8 0 1 0 5.6 0a2.8 2.8 0 1 0 -5.6 0ZM289.9 726.8a2.8 2.8 0 1 0 5.6 0a2.8 2.8 0 1 0 -5.6 0ZM290.8 722.7a2.8 2.8 0 1 0 5.6 0a2.8 2.8 0 1 0 -5.6 0ZM293.5 720.3a2.8 2.8 0 1 0 5.6 0a2.8 2.8 0 1 0 -5.6 0ZM291.5 717.3a2.8 2.8 0 1 0 5.6 0a2.8 2.8 0 1 0 -5.6 0ZM294 711.6a2.8 2.8 0 1 0 5.6 0a2.8 2.8 0 1 0 -5.6 0ZM294.9 705.6a2.8 2.8 0 1 0 5.6 0a2.8 2.8 0 1 0 -5.6 0ZM295.2 704a2.8 2.8 0 1 0 5.6 0a2.8 2.8 0 1 0 -5.6 0ZM296.3 703.1a2.8 2.8 0 1 0 5.6 0a2.8 2.8 0 1 0 -5.6 0ZM297.5 700.8a2.8 2.8 0 1 0 5.6 0a2.8 2.8 0 1 0 -5.6 0ZM297.8 696.6a2.8 2.8 0 1 0 5.6 0a2.8 2.8 0 1 0 -5.6 0ZM295.7 692.8a2.8 2.8 0 1 0 5.6 0a2.8 2.8 0 1 0 -5.6 0ZM295.4 695.4a2.8 2.8 0 1 0 5.6 0a2.8 2.8 0 1 0 -5.6 0ZM296.9 699.6a2.8 2.8 0 1 0 5.6 0a2.8 2.8 0 1 0 -5.6 0ZM298.9 705.9a2.8 2.8 0 1 0 5.6 0a2.8 2.8 0 1 0 -5.6 0ZM300.4 706.6a2.8 2.8 0 1 0 5.6 0a2.8 2.8 0 1 0 -5.6 0ZM300.4 709.3a2.8 2.8 0 1 0 5.6 0a2.8 2.8 0 1 0 -5.6 0ZM299.9 712.9a2.8 2.8 0 1 0 5.6 0a2.8 2.8 0 1 0 -5.6 0ZM300.1 714.3a2.8 2.8 0 1 0 5.6 0a2.8 2.8 0 1 0 -5.6 0ZM301.6 718.1a2.8 2.8 0 1 0 5.6 0a2.8 2.8 0 1 0 -5.6 0ZM302.3 719.3a2.8 2.8 0 1 0 5.6 0a2.8 2.8 0 1 0 -5.6 0ZM309.8 717.1a2.8 2.8 0 1 0 5.6 0a2.8 2.8 0 1 0 -5.6 0ZM309.2 715.9a2.8 2.8 0 1 0 5.6 0a2.8 2.8 0 1 0 -5.6 0ZM310.9 713.4a2.8 2.8 0 1 0 5.6 0a2.8 2.8 0 1 0 -5.6 0ZM311.4 707.4a2.8 2.8 0 1 0 5.6 0a2.8 2.8 0 1 0 -5.6 0ZM311.6 705.8a2.8 2.8 0 1 0 5.6 0a2.8 2.8 0 1 0 -5.6 0ZM310.5 704.4a2.8 2.8 0 1 0 5.6 0a2.8 2.8 0 1 0 -5.6 0ZM309.9 700.1a2.8 2.8 0 1 0 5.6 0a2.8 2.8 0 1 0 -5.6 0ZM310.4 699.1a2.8 2.8 0 1 0 5.6 0a2.8 2.8 0 1 0 -5.6 0ZM312.6 698.2a2.8 2.8 0 1 0 5.6 0a2.8 2.8 0 1 0 -5.6 0ZM311.9 685.6a2.8 2.8 0 1 0 5.6 0a2.8 2.8 0 1 0 -5.6 0ZM310.9 681.3a2.8 2.8 0 1 0 5.6 0a2.8 2.8 0 1 0 -5.6 0ZM313.4 679.3a2.8 2.8 0 1 0 5.6 0a2.8 2.8 0 1 0 -5.6 0ZM312.5 676.7a2.8 2.8 0 1 0 5.6 0a2.8 2.8 0 1 0 -5.6 0ZM313.9 671.8a2.8 2.8 0 1 0 5.6 0a2.8 2.8 0 1 0 -5.6 0ZM316.8 669.8a2.8 2.8 0 1 0 5.6 0a2.8 2.8 0 1 0 -5.6 0ZM314.3 666.7a2.8 2.8 0 1 0 5.6 0a2.8 2.8 0 1 0 -5.6 0ZM312.7 668.2a2.8 2.8 0 1 0 5.6 0a2.8 2.8 0 1 0 -5.6 0ZM312.1 669.9a2.8 2.8 0 1 0 5.6 0a2.8 2.8 0 1 0 -5.6 0ZM324.5 669.8a2.8 2.8 0 1 0 5.6 0a2.8 2.8 0 1 0 -5.6 0ZM324.5 667.1a2.8 2.8 0 1 0 5.6 0a2.8 2.8 0 1 0 -5.6 0ZM324.4 666.4a2.8 2.8 0 1 0 5.6 0a2.8 2.8 0 1 0 -5.6 0ZM322.1 666.3a2.8 2.8 0 1 0 5.6 0a2.8 2.8 0 1 0 -5.6 0ZM321.7 668.3a2.8 2.8 0 1 0 5.6 0a2.8 2.8 0 1 0 -5.6 0ZM324.2 668.7a2.8 2.8 0 1 0 5.6 0a2.8 2.8 0 1 0 -5.6 0ZM324.5 670.4a2.8 2.8 0 1 0 5.6 0a2.8 2.8 0 1 0 -5.6 0ZM331.8 670.3a2.8 2.8 0 1 0 5.6 0a2.8 2.8 0 1 0 -5.6 0ZM334 668.9a2.8 2.8 0 1 0 5.6 0a2.8 2.8 0 1 0 -5.6 0ZM334.8 666.6a2.8 2.8 0 1 0 5.6 0a2.8 2.8 0 1 0 -5.6 0ZM339.9 661.6a2.8 2.8 0 1 0 5.6 0a2.8 2.8 0 1 0 -5.6 0ZM337.3 658.4a2.8 2.8 0 1 0 5.6 0a2.8 2.8 0 1 0 -5.6 0ZM339.5 656.8a2.8 2.8 0 1 0 5.6 0a2.8 2.8 0 1 0 -5.6 0ZM339.2 654.6a2.8 2.8 0 1 0 5.6 0a2.8 2.8 0 1 0 -5.6 0ZM338.9 651.2a2.8 2.8 0 1 0 5.6 0a2.8 2.8 0 1 0 -5.6 0ZM340.6 648.2a2.8 2.8 0 1 0 5.6 0a2.8 2.8 0 1 0 -5.6 0ZM338.4 647.5a2.8 2.8 0 1 0 5.6 0a2.8 2.8 0 1 0 -5.6 0ZM340.8 644.7a2.8 2.8 0 1 0 5.6 0a2.8 2.8 0 1 0 -5.6 0ZM335.4 645.3a2.8 2.8 0 1 0 5.6 0a2.8 2.8 0 1 0 -5.6 0ZM335.4 646.6a2.8 2.8 0 1 0 5.6 0a2.8 2.8 0 1 0 -5.6 0ZM334 651.9a2.8 2.8 0 1 0 5.6 0a2.8 2.8 0 1 0 -5.6 0ZM336.3 654.4a2.8 2.8 0 1 0 5.6 0a2.8 2.8 0 1 0 -5.6 0ZM335.6 657.3a2.8 2.8 0 1 0 5.6 0a2.8 2.8 0 1 0 -5.6 0ZM334.8 659a2.8 2.8 0 1 0 5.6 0a2.8 2.8 0 1 0 -5.6 0ZM335.3 663.1a2.8 2.8 0 1 0 5.6 0a2.8 2.8 0 1 0 -5.6 0ZM335.6 665.2a2.8 2.8 0 1 0 5.6 0a2.8 2.8 0 1 0 -5.6 0ZM337.9 666.2a2.8 2.8 0 1 0 5.6 0a2.8 2.8 0 1 0 -5.6 0ZM335.6 670.1a2.8 2.8 0 1 0 5.6 0a2.8 2.8 0 1 0 -5.6 0ZM337.2 670.8a2.8 2.8 0 1 0 5.6 0a2.8 2.8 0 1 0 -5.6 0ZM337.6 673a2.8 2.8 0 1 0 5.6 0a2.8 2.8 0 1 0 -5.6 0ZM337.2 677.3a2.8 2.8 0 1 0 5.6 0a2.8 2.8 0 1 0 -5.6 0ZM338.4 677.5a2.8 2.8 0 1 0 5.6 0a2.8 2.8 0 1 0 -5.6 0ZM338.1 680.5a2.8 2.8 0 1 0 5.6 0a2.8 2.8 0 1 0 -5.6 0ZM340.7 682.5a2.8 2.8 0 1 0 5.6 0a2.8 2.8 0 1 0 -5.6 0ZM344.9 685.7a2.8 2.8 0 1 0 5.6 0a2.8 2.8 0 1 0 -5.6 0ZM346.4 683.4a2.8 2.8 0 1 0 5.6 0a2.8 2.8 0 1 0 -5.6 0ZM346.9 679.7a2.8 2.8 0 1 0 5.6 0a2.8 2.8 0 1 0 -5.6 0ZM346.8 677.2a2.8 2.8 0 1 0 5.6 0a2.8 2.8 0 1 0 -5.6 0ZM350.6 668.8a2.8 2.8 0 1 0 5.6 0a2.8 2.8 0 1 0 -5.6 0ZM350.6 667.8a2.8 2.8 0 1 0 5.6 0a2.8 2.8 0 1 0 -5.6 0ZM344.6 667.3a2.8 2.8 0 1 0 5.6 0a2.8 2.8 0 1 0 -5.6 0ZM345.3 674.1a2.8 2.8 0 1 0 5.6 0a2.8 2.8 0 1 0 -5.6 0ZM346.4 677.9a2.8 2.8 0 1 0 5.6 0a2.8 2.8 0 1 0 -5.6 0ZM347.1 680.1a2.8 2.8 0 1 0 5.6 0a2.8 2.8 0 1 0 -5.6 0ZM347.9 682.2a2.8 2.8 0 1 0 5.6 0a2.8 2.8 0 1 0 -5.6 0ZM348.7 684.4a2.8 2.8 0 1 0 5.6 0a2.8 2.8 0 1 0 -5.6 0ZM348 686.3a2.8 2.8 0 1 0 5.6 0a2.8 2.8 0 1 0 -5.6 0ZM349.4 688.3a2.8 2.8 0 1 0 5.6 0a2.8 2.8 0 1 0 -5.6 0ZM347.6 689.7a2.8 2.8 0 1 0 5.6 0a2.8 2.8 0 1 0 -5.6 0ZM347.9 695.3a2.8 2.8 0 1 0 5.6 0a2.8 2.8 0 1 0 -5.6 0ZM350.3 697.1a2.8 2.8 0 1 0 5.6 0a2.8 2.8 0 1 0 -5.6 0ZM349.2 700.4a2.8 2.8 0 1 0 5.6 0a2.8 2.8 0 1 0 -5.6 0ZM351.7 701.6a2.8 2.8 0 1 0 5.6 0a2.8 2.8 0 1 0 -5.6 0ZM351.7 702.8a2.8 2.8 0 1 0 5.6 0a2.8 2.8 0 1 0 -5.6 0ZM351 705.6a2.8 2.8 0 1 0 5.6 0a2.8 2.8 0 1 0 -5.6 0ZM351.1 706.5a2.8 2.8 0 1 0 5.6 0a2.8 2.8 0 1 0 -5.6 0ZM357.9 715.5a2.8 2.8 0 1 0 5.6 0a2.8 2.8 0 1 0 -5.6 0ZM364.6 712.4a2.8 2.8 0 1 0 5.6 0a2.8 2.8 0 1 0 -5.6 0ZM363.6 706a2.8 2.8 0 1 0 5.6 0a2.8 2.8 0 1 0 -5.6 0ZM364.5 700.4a2.8 2.8 0 1 0 5.6 0a2.8 2.8 0 1 0 -5.6 0ZM366.8 698a2.8 2.8 0 1 0 5.6 0a2.8 2.8 0 1 0 -5.6 0ZM365.2 692.8a2.8 2.8 0 1 0 5.6 0a2.8 2.8 0 1 0 -5.6 0ZM365.3 689.6a2.8 2.8 0 1 0 5.6 0a2.8 2.8 0 1 0 -5.6 0ZM367.9 682.7a2.8 2.8 0 1 0 5.6 0a2.8 2.8 0 1 0 -5.6 0ZM367.5 682.1a2.8 2.8 0 1 0 5.6 0a2.8 2.8 0 1 0 -5.6 0ZM368.1 680.4a2.8 2.8 0 1 0 5.6 0a2.8 2.8 0 1 0 -5.6 0ZM367.2 677.9a2.8 2.8 0 1 0 5.6 0a2.8 2.8 0 1 0 -5.6 0ZM366.6 676.7a2.8 2.8 0 1 0 5.6 0a2.8 2.8 0 1 0 -5.6 0ZM366.6 674.8a2.8 2.8 0 1 0 5.6 0a2.8 2.8 0 1 0 -5.6 0ZM367.8 669.8a2.8 2.8 0 1 0 5.6 0a2.8 2.8 0 1 0 -5.6 0ZM368 669.2a2.8 2.8 0 1 0 5.6 0a2.8 2.8 0 1 0 -5.6 0ZM368.9 665.2a2.8 2.8 0 1 0 5.6 0a2.8 2.8 0 1 0 -5.6 0ZM368.2 660.6a2.8 2.8 0 1 0 5.6 0a2.8 2.8 0 1 0 -5.6 0ZM367.4 659.7a2.8 2.8 0 1 0 5.6 0a2.8 2.8 0 1 0 -5.6 0ZM363.2 655.4a2.8 2.8 0 1 0 5.6 0a2.8 2.8 0 1 0 -5.6 0ZM364.1 657.7a2.8 2.8 0 1 0 5.6 0a2.8 2.8 0 1 0 -5.6 0ZM367 661.3a2.8 2.8 0 1 0 5.6 0a2.8 2.8 0 1 0 -5.6 0ZM372.7 658.2a2.8 2.8 0 1 0 5.6 0a2.8 2.8 0 1 0 -5.6 0ZM374.8 656.5a2.8 2.8 0 1 0 5.6 0a2.8 2.8 0 1 0 -5.6 0ZM374.3 654.5a2.8 2.8 0 1 0 5.6 0a2.8 2.8 0 1 0 -5.6 0ZM374.4 651.5a2.8 2.8 0 1 0 5.6 0a2.8 2.8 0 1 0 -5.6 0ZM369.2 652.7a2.8 2.8 0 1 0 5.6 0a2.8 2.8 0 1 0 -5.6 0ZM369.5 654.3a2.8 2.8 0 1 0 5.6 0a2.8 2.8 0 1 0 -5.6 0ZM372 657.2a2.8 2.8 0 1 0 5.6 0a2.8 2.8 0 1 0 -5.6 0ZM372.4 657.6a2.8 2.8 0 1 0 5.6 0a2.8 2.8 0 1 0 -5.6 0ZM371.3 659.3a2.8 2.8 0 1 0 5.6 0a2.8 2.8 0 1 0 -5.6 0ZM371.8 661.9a2.8 2.8 0 1 0 5.6 0a2.8 2.8 0 1 0 -5.6 0ZM372.7 666.3a2.8 2.8 0 1 0 5.6 0a2.8 2.8 0 1 0 -5.6 0ZM372.1 667.3a2.8 2.8 0 1 0 5.6 0a2.8 2.8 0 1 0 -5.6 0ZM372.5 671.6a2.8 2.8 0 1 0 5.6 0a2.8 2.8 0 1 0 -5.6 0ZM372 673.1a2.8 2.8 0 1 0 5.6 0a2.8 2.8 0 1 0 -5.6 0ZM370.7 674a2.8 2.8 0 1 0 5.6 0a2.8 2.8 0 1 0 -5.6 0ZM371.9 675.8a2.8 2.8 0 1 0 5.6 0a2.8 2.8 0 1 0 -5.6 0ZM373.2 678a2.8 2.8 0 1 0 5.6 0a2.8 2.8 0 1 0 -5.6 0ZM371.4 682a2.8 2.8 0 1 0 5.6 0a2.8 2.8 0 1 0 -5.6 0ZM374.3 683.5a2.8 2.8 0 1 0 5.6 0a2.8 2.8 0 1 0 -5.6 0ZM374.6 689.1a2.8 2.8 0 1 0 5.6 0a2.8 2.8 0 1 0 -5.6 0ZM376.3 694.9a2.8 2.8 0 1 0 5.6 0a2.8 2.8 0 1 0 -5.6 0ZM375.9 698.6a2.8 2.8 0 1 0 5.6 0a2.8 2.8 0 1 0 -5.6 0ZM383.8 693.6a2.8 2.8 0 1 0 5.6 0a2.8 2.8 0 1 0 -5.6 0ZM385.7 691.6a2.8 2.8 0 1 0 5.6 0a2.8 2.8 0 1 0 -5.6 0ZM384 689.5a2.8 2.8 0 1 0 5.6 0a2.8 2.8 0 1 0 -5.6 0ZM385 686.1a2.8 2.8 0 1 0 5.6 0a2.8 2.8 0 1 0 -5.6 0ZM385.7 685a2.8 2.8 0 1 0 5.6 0a2.8 2.8 0 1 0 -5.6 0ZM386.8 681a2.8 2.8 0 1 0 5.6 0a2.8 2.8 0 1 0 -5.6 0ZM387.4 678.6a2.8 2.8 0 1 0 5.6 0a2.8 2.8 0 1 0 -5.6 0ZM386.4 677.3a2.8 2.8 0 1 0 5.6 0a2.8 2.8 0 1 0 -5.6 0ZM386.6 672.6a2.8 2.8 0 1 0 5.6 0a2.8 2.8 0 1 0 -5.6 0ZM388.4 670.5a2.8 2.8 0 1 0 5.6 0a2.8 2.8 0 1 0 -5.6 0ZM386.3 667a2.8 2.8 0 1 0 5.6 0a2.8 2.8 0 1 0 -5.6 0ZM388.2 658.6a2.8 2.8 0 1 0 5.6 0a2.8 2.8 0 1 0 -5.6 0ZM391.1 657.3a2.8 2.8 0 1 0 5.6 0a2.8 2.8 0 1 0 -5.6 0ZM391.5 653.4a2.8 2.8 0 1 0 5.6 0a2.8 2.8 0 1 0 -5.6 0ZM390.5 650.9a2.8 2.8 0 1 0 5.6 0a2.8 2.8 0 1 0 -5.6 0ZM391.8 648.1a2.8 2.8 0 1 0 5.6 0a2.8 2.8 0 1 0 -5.6 0ZM392.9 646.3a2.8 2.8 0 1 0 5.6 0a2.8 2.8 0 1 0 -5.6 0ZM391.9 644.2a2.8 2.8 0 1 0 5.6 0a2.8 2.8 0 1 0 -5.6 0ZM394.3 641.1a2.8 2.8 0 1 0 5.6 0a2.8 2.8 0 1 0 -5.6 0ZM392.6 635.6a2.8 2.8 0 1 0 5.6 0a2.8 2.8 0 1 0 -5.6 0ZM395.3 629.7a2.8 2.8 0 1 0 5.6 0a2.8 2.8 0 1 0 -5.6 0ZM395.3 626.9a2.8 2.8 0 1 0 5.6 0a2.8 2.8 0 1 0 -5.6 0ZM394.2 624.8a2.8 2.8 0 1 0 5.6 0a2.8 2.8 0 1 0 -5.6 0ZM391.3 629.5a2.8 2.8 0 1 0 5.6 0a2.8 2.8 0 1 0 -5.6 0ZM395.2 630.4a2.8 2.8 0 1 0 5.6 0a2.8 2.8 0 1 0 -5.6 0ZM392.4 627.7a2.8 2.8 0 1 0 5.6 0a2.8 2.8 0 1 0 -5.6 0ZM390.7 629a2.8 2.8 0 1 0 5.6 0a2.8 2.8 0 1 0 -5.6 0ZM392.5 631.4a2.8 2.8 0 1 0 5.6 0a2.8 2.8 0 1 0 -5.6 0ZM392 634a2.8 2.8 0 1 0 5.6 0a2.8 2.8 0 1 0 -5.6 0ZM393.6 636.7a2.8 2.8 0 1 0 5.6 0a2.8 2.8 0 1 0 -5.6 0ZM398.2 644.1a2.8 2.8 0 1 0 5.6 0a2.8 2.8 0 1 0 -5.6 0ZM400.3 647.3a2.8 2.8 0 1 0 5.6 0a2.8 2.8 0 1 0 -5.6 0ZM401.2 646.5a2.8 2.8 0 1 0 5.6 0a2.8 2.8 0 1 0 -5.6 0ZM401.5 649.9a2.8 2.8 0 1 0 5.6 0a2.8 2.8 0 1 0 -5.6 0ZM402.6 652a2.8 2.8 0 1 0 5.6 0a2.8 2.8 0 1 0 -5.6 0ZM405.3 653.4a2.8 2.8 0 1 0 5.6 0a2.8 2.8 0 1 0 -5.6 0ZM406.1 658.6a2.8 2.8 0 1 0 5.6 0a2.8 2.8 0 1 0 -5.6 0ZM410.4 662.8a2.8 2.8 0 1 0 5.6 0a2.8 2.8 0 1 0 -5.6 0ZM412.8 671.1a2.8 2.8 0 1 0 5.6 0a2.8 2.8 0 1 0 -5.6 0ZM414.9 671.3a2.8 2.8 0 1 0 5.6 0a2.8 2.8 0 1 0 -5.6 0ZM416.3 673.1a2.8 2.8 0 1 0 5.6 0a2.8 2.8 0 1 0 -5.6 0ZM421.9 672.6a2.8 2.8 0 1 0 5.6 0a2.8 2.8 0 1 0 -5.6 0ZM423.4 671a2.8 2.8 0 1 0 5.6 0a2.8 2.8 0 1 0 -5.6 0ZM424.1 668.8a2.8 2.8 0 1 0 5.6 0a2.8 2.8 0 1 0 -5.6 0ZM424.3 664.2a2.8 2.8 0 1 0 5.6 0a2.8 2.8 0 1 0 -5.6 0ZM426 663.1a2.8 2.8 0 1 0 5.6 0a2.8 2.8 0 1 0 -5.6 0ZM426.9 662.5a2.8 2.8 0 1 0 5.6 0a2.8 2.8 0 1 0 -5.6 0ZM425.7 658.9a2.8 2.8 0 1 0 5.6 0a2.8 2.8 0 1 0 -5.6 0ZM426.3 657.2a2.8 2.8 0 1 0 5.6 0a2.8 2.8 0 1 0 -5.6 0ZM427.3 656.6a2.8 2.8 0 1 0 5.6 0a2.8 2.8 0 1 0 -5.6 0ZM428.1 652.1a2.8 2.8 0 1 0 5.6 0a2.8 2.8 0 1 0 -5.6 0ZM428.8 649.8a2.8 2.8 0 1 0 5.6 0a2.8 2.8 0 1 0 -5.6 0ZM426.2 648.8a2.8 2.8 0 1 0 5.6 0a2.8 2.8 0 1 0 -5.6 0ZM427.7 647.4a2.8 2.8 0 1 0 5.6 0a2.8 2.8 0 1 0 -5.6 0ZM427.8 645.2a2.8 2.8 0 1 0 5.6 0a2.8 2.8 0 1 0 -5.6 0ZM429 642.6a2.8 2.8 0 1 0 5.6 0a2.8 2.8 0 1 0 -5.6 0ZM426.7 641.5a2.8 2.8 0 1 0 5.6 0a2.8 2.8 0 1 0 -5.6 0ZM422 642.3a2.8 2.8 0 1 0 5.6 0a2.8 2.8 0 1 0 -5.6 0ZM424.7 646.8a2.8 2.8 0 1 0 5.6 0a2.8 2.8 0 1 0 -5.6 0ZM432.4 644.9a2.8 2.8 0 1 0 5.6 0a2.8 2.8 0 1 0 -5.6 0ZM434.3 644.9a2.8 2.8 0 1 0 5.6 0a2.8 2.8 0 1 0 -5.6 0ZM433 642.2a2.8 2.8 0 1 0 5.6 0a2.8 2.8 0 1 0 -5.6 0ZM433.8 637.3a2.8 2.8 0 1 0 5.6 0a2.8 2.8 0 1 0 -5.6 0ZM435.2 633a2.8 2.8 0 1 0 5.6 0a2.8 2.8 0 1 0 -5.6 0ZM434.4 631.2a2.8 2.8 0 1 0 5.6 0a2.8 2.8 0 1 0 -5.6 0ZM434.4 628.7a2.8 2.8 0 1 0 5.6 0a2.8 2.8 0 1 0 -5.6 0ZM437.9 627.4a2.8 2.8 0 1 0 5.6 0a2.8 2.8 0 1 0 -5.6 0ZM437.1 625.6a2.8 2.8 0 1 0 5.6 0a2.8 2.8 0 1 0 -5.6 0ZM436.8 622.4a2.8 2.8 0 1 0 5.6 0a2.8 2.8 0 1 0 -5.6 0ZM439.5 615.3a2.8 2.8 0 1 0 5.6 0a2.8 2.8 0 1 0 -5.6 0ZM439 611.5a2.8 2.8 0 1 0 5.6 0a2.8 2.8 0 1 0 -5.6 0ZM438.6 609.6a2.8 2.8 0 1 0 5.6 0a2.8 2.8 0 1 0 -5.6 0ZM435 608a2.8 2.8 0 1 0 5.6 0a2.8 2.8 0 1 0 -5.6 0ZM436 609.7a2.8 2.8 0 1 0 5.6 0a2.8 2.8 0 1 0 -5.6 0ZM437.3 613.4a2.8 2.8 0 1 0 5.6 0a2.8 2.8 0 1 0 -5.6 0ZM436.6 615.9a2.8 2.8 0 1 0 5.6 0a2.8 2.8 0 1 0 -5.6 0ZM438.1 617.9a2.8 2.8 0 1 0 5.6 0a2.8 2.8 0 1 0 -5.6 0ZM435.7 620.1a2.8 2.8 0 1 0 5.6 0a2.8 2.8 0 1 0 -5.6 0ZM438.6 621.6a2.8 2.8 0 1 0 5.6 0a2.8 2.8 0 1 0 -5.6 0ZM437.6 626a2.8 2.8 0 1 0 5.6 0a2.8 2.8 0 1 0 -5.6 0ZM439.9 627.5a2.8 2.8 0 1 0 5.6 0a2.8 2.8 0 1 0 -5.6 0ZM439.5 628.1a2.8 2.8 0 1 0 5.6 0a2.8 2.8 0 1 0 -5.6 0ZM439.5 632.7a2.8 2.8 0 1 0 5.6 0a2.8 2.8 0 1 0 -5.6 0ZM440.6 633.7a2.8 2.8 0 1 0 5.6 0a2.8 2.8 0 1 0 -5.6 0ZM440.2 637.2a2.8 2.8 0 1 0 5.6 0a2.8 2.8 0 1 0 -5.6 0ZM442 637.9a2.8 2.8 0 1 0 5.6 0a2.8 2.8 0 1 0 -5.6 0ZM440.7 639.6a2.8 2.8 0 1 0 5.6 0a2.8 2.8 0 1 0 -5.6 0ZM441.7 641.6a2.8 2.8 0 1 0 5.6 0a2.8 2.8 0 1 0 -5.6 0ZM444.2 643.7a2.8 2.8 0 1 0 5.6 0a2.8 2.8 0 1 0 -5.6 0ZM444.8 645.1a2.8 2.8 0 1 0 5.6 0a2.8 2.8 0 1 0 -5.6 0ZM443.4 646.1a2.8 2.8 0 1 0 5.6 0a2.8 2.8 0 1 0 -5.6 0ZM444.6 647.8a2.8 2.8 0 1 0 5.6 0a2.8 2.8 0 1 0 -5.6 0ZM445 649.5a2.8 2.8 0 1 0 5.6 0a2.8 2.8 0 1 0 -5.6 0ZM443.2 651.8a2.8 2.8 0 1 0 5.6 0a2.8 2.8 0 1 0 -5.6 0ZM445.5 653.5a2.8 2.8 0 1 0 5.6 0a2.8 2.8 0 1 0 -5.6 0ZM446.8 658a2.8 2.8 0 1 0 5.6 0a2.8 2.8 0 1 0 -5.6 0ZM444.9 661.8a2.8 2.8 0 1 0 5.6 0a2.8 2.8 0 1 0 -5.6 0ZM445.6 662.5a2.8 2.8 0 1 0 5.6 0a2.8 2.8 0 1 0 -5.6 0ZM447.4 665.4a2.8 2.8 0 1 0 5.6 0a2.8 2.8 0 1 0 -5.6 0ZM447 666.3a2.8 2.8 0 1 0 5.6 0a2.8 2.8 0 1 0 -5.6 0ZM447.9 668.9a2.8 2.8 0 1 0 5.6 0a2.8 2.8 0 1 0 -5.6 0ZM448.9 670.7a2.8 2.8 0 1 0 5.6 0a2.8 2.8 0 1 0 -5.6 0ZM449.3 673.7a2.8 2.8 0 1 0 5.6 0a2.8 2.8 0 1 0 -5.6 0ZM447.6 676.4a2.8 2.8 0 1 0 5.6 0a2.8 2.8 0 1 0 -5.6 0ZM447.3 678.1a2.8 2.8 0 1 0 5.6 0a2.8 2.8 0 1 0 -5.6 0ZM447.7 681a2.8 2.8 0 1 0 5.6 0a2.8 2.8 0 1 0 -5.6 0ZM449.5 686.2a2.8 2.8 0 1 0 5.6 0a2.8 2.8 0 1 0 -5.6 0ZM450 688.9a2.8 2.8 0 1 0 5.6 0a2.8 2.8 0 1 0 -5.6 0ZM449.8 691.2a2.8 2.8 0 1 0 5.6 0a2.8 2.8 0 1 0 -5.6 0ZM451.2 693.4a2.8 2.8 0 1 0 5.6 0a2.8 2.8 0 1 0 -5.6 0ZM459.2 693.4a2.8 2.8 0 1 0 5.6 0a2.8 2.8 0 1 0 -5.6 0ZM457.4 691a2.8 2.8 0 1 0 5.6 0a2.8 2.8 0 1 0 -5.6 0ZM459.5 689.4a2.8 2.8 0 1 0 5.6 0a2.8 2.8 0 1 0 -5.6 0ZM460.5 688.5a2.8 2.8 0 1 0 5.6 0a2.8 2.8 0 1 0 -5.6 0ZM458.7 686a2.8 2.8 0 1 0 5.6 0a2.8 2.8 0 1 0 -5.6 0ZM459.8 678.4a2.8 2.8 0 1 0 5.6 0a2.8 2.8 0 1 0 -5.6 0ZM461.6 676a2.8 2.8 0 1 0 5.6 0a2.8 2.8 0 1 0 -5.6 0ZM459.5 670.4a2.8 2.8 0 1 0 5.6 0a2.8 2.8 0 1 0 -5.6 0ZM465.2 669.5a2.8 2.8 0 1 0 5.6 0a2.8 2.8 0 1 0 -5.6 0ZM466.4 668.6a2.8 2.8 0 1 0 5.6 0a2.8 2.8 0 1 0 -5.6 0ZM466.8 661.7a2.8 2.8 0 1 0 5.6 0a2.8 2.8 0 1 0 -5.6 0ZM465.6 659.3a2.8 2.8 0 1 0 5.6 0a2.8 2.8 0 1 0 -5.6 0ZM466.4 656.9a2.8 2.8 0 1 0 5.6 0a2.8 2.8 0 1 0 -5.6 0ZM467.8 653a2.8 2.8 0 1 0 5.6 0a2.8 2.8 0 1 0 -5.6 0ZM467.2 651.6a2.8 2.8 0 1 0 5.6 0a2.8 2.8 0 1 0 -5.6 0ZM467.8 649.7a2.8 2.8 0 1 0 5.6 0a2.8 2.8 0 1 0 -5.6 0ZM471.7 647.8a2.8 2.8 0 1 0 5.6 0a2.8 2.8 0 1 0 -5.6 0ZM469.7 644.1a2.8 2.8 0 1 0 5.6 0a2.8 2.8 0 1 0 -5.6 0ZM472.6 641.9a2.8 2.8 0 1 0 5.6 0a2.8 2.8 0 1 0 -5.6 0ZM472.1 640.4a2.8 2.8 0 1 0 5.6 0a2.8 2.8 0 1 0 -5.6 0ZM467.7 639.7a2.8 2.8 0 1 0 5.6 0a2.8 2.8 0 1 0 -5.6 0ZM471.1 640.3a2.8 2.8 0 1 0 5.6 0a2.8 2.8 0 1 0 -5.6 0ZM477.9 645.3a2.8 2.8 0 1 0 5.6 0a2.8 2.8 0 1 0 -5.6 0ZM479.1 644.8a2.8 2.8 0 1 0 5.6 0a2.8 2.8 0 1 0 -5.6 0ZM481 642.1a2.8 2.8 0 1 0 5.6 0a2.8 2.8 0 1 0 -5.6 0ZM483.9 635a2.8 2.8 0 1 0 5.6 0a2.8 2.8 0 1 0 -5.6 0ZM484.3 634.3a2.8 2.8 0 1 0 5.6 0a2.8 2.8 0 1 0 -5.6 0ZM482.5 632.7a2.8 2.8 0 1 0 5.6 0a2.8 2.8 0 1 0 -5.6 0ZM485.4 619.9a2.8 2.8 0 1 0 5.6 0a2.8 2.8 0 1 0 -5.6 0ZM485.2 618.5a2.8 2.8 0 1 0 5.6 0a2.8 2.8 0 1 0 -5.6 0ZM487.2 613.5a2.8 2.8 0 1 0 5.6 0a2.8 2.8 0 1 0 -5.6 0ZM486 612.4a2.8 2.8 0 1 0 5.6 0a2.8 2.8 0 1 0 -5.6 0ZM478.5 612.5a2.8 2.8 0 1 0 5.6 0a2.8 2.8 0 1 0 -5.6 0ZM480 613.9a2.8 2.8 0 1 0 5.6 0a2.8 2.8 0 1 0 -5.6 0ZM481.8 615.8a2.8 2.8 0 1 0 5.6 0a2.8 2.8 0 1 0 -5.6 0ZM482.5 616.6a2.8 2.8 0 1 0 5.6 0a2.8 2.8 0 1 0 -5.6 0ZM479.6 618.9a2.8 2.8 0 1 0 5.6 0a2.8 2.8 0 1 0 -5.6 0ZM480.6 621.5a2.8 2.8 0 1 0 5.6 0a2.8 2.8 0 1 0 -5.6 0ZM482.3 622a2.8 2.8 0 1 0 5.6 0a2.8 2.8 0 1 0 -5.6 0ZM481.5 624.3a2.8 2.8 0 1 0 5.6 0a2.8 2.8 0 1 0 -5.6 0ZM481.9 626a2.8 2.8 0 1 0 5.6 0a2.8 2.8 0 1 0 -5.6 0ZM484.5 629.4a2.8 2.8 0 1 0 5.6 0a2.8 2.8 0 1 0 -5.6 0ZM483.3 631a2.8 2.8 0 1 0 5.6 0a2.8 2.8 0 1 0 -5.6 0ZM490.7 631.4a2.8 2.8 0 1 0 5.6 0a2.8 2.8 0 1 0 -5.6 0ZM493.2 630.8a2.8 2.8 0 1 0 5.6 0a2.8 2.8 0 1 0 -5.6 0ZM493.4 628a2.8 2.8 0 1 0 5.6 0a2.8 2.8 0 1 0 -5.6 0ZM493.2 625.9a2.8 2.8 0 1 0 5.6 0a2.8 2.8 0 1 0 -5.6 0ZM496.5 621.5a2.8 2.8 0 1 0 5.6 0a2.8 2.8 0 1 0 -5.6 0ZM491 623a2.8 2.8 0 1 0 5.6 0a2.8 2.8 0 1 0 -5.6 0ZM490.7 625.1a2.8 2.8 0 1 0 5.6 0a2.8 2.8 0 1 0 -5.6 0ZM492.7 628a2.8 2.8 0 1 0 5.6 0a2.8 2.8 0 1 0 -5.6 0ZM492.2 630.4a2.8 2.8 0 1 0 5.6 0a2.8 2.8 0 1 0 -5.6 0ZM491.3 632a2.8 2.8 0 1 0 5.6 0a2.8 2.8 0 1 0 -5.6 0ZM492.9 634.5a2.8 2.8 0 1 0 5.6 0a2.8 2.8 0 1 0 -5.6 0ZM493.3 637.5a2.8 2.8 0 1 0 5.6 0a2.8 2.8 0 1 0 -5.6 0ZM503.1 638.9a2.8 2.8 0 1 0 5.6 0a2.8 2.8 0 1 0 -5.6 0ZM506.2 632.2a2.8 2.8 0 1 0 5.6 0a2.8 2.8 0 1 0 -5.6 0ZM503.7 629.1a2.8 2.8 0 1 0 5.6 0a2.8 2.8 0 1 0 -5.6 0ZM505 624.3a2.8 2.8 0 1 0 5.6 0a2.8 2.8 0 1 0 -5.6 0ZM505.8 620.1a2.8 2.8 0 1 0 5.6 0a2.8 2.8 0 1 0 -5.6 0ZM507.7 617.8a2.8 2.8 0 1 0 5.6 0a2.8 2.8 0 1 0 -5.6 0ZM506.7 614.7a2.8 2.8 0 1 0 5.6 0a2.8 2.8 0 1 0 -5.6 0ZM506.3 612.2a2.8 2.8 0 1 0 5.6 0a2.8 2.8 0 1 0 -5.6 0ZM509.1 610.7a2.8 2.8 0 1 0 5.6 0a2.8 2.8 0 1 0 -5.6 0ZM507.7 609.5a2.8 2.8 0 1 0 5.6 0a2.8 2.8 0 1 0 -5.6 0ZM508 604.7a2.8 2.8 0 1 0 5.6 0a2.8 2.8 0 1 0 -5.6 0ZM506.2 606.5a2.8 2.8 0 1 0 5.6 0a2.8 2.8 0 1 0 -5.6 0ZM506.5 607a2.8 2.8 0 1 0 5.6 0a2.8 2.8 0 1 0 -5.6 0ZM513 605.8a2.8 2.8 0 1 0 5.6 0a2.8 2.8 0 1 0 -5.6 0ZM513.6 603.6a2.8 2.8 0 1 0 5.6 0a2.8 2.8 0 1 0 -5.6 0ZM515.4 601.9a2.8 2.8 0 1 0 5.6 0a2.8 2.8 0 1 0 -5.6 0ZM516.2 599.6a2.8 2.8 0 1 0 5.6 0a2.8 2.8 0 1 0 -5.6 0ZM507.6 598.6a2.8 2.8 0 1 0 5.6 0a2.8 2.8 0 1 0 -5.6 0ZM508.6 603.6a2.8 2.8 0 1 0 5.6 0a2.8 2.8 0 1 0 -5.6 0ZM509 611.2a2.8 2.8 0 1 0 5.6 0a2.8 2.8 0 1 0 -5.6 0ZM510 612.7a2.8 2.8 0 1 0 5.6 0a2.8 2.8 0 1 0 -5.6 0ZM511.8 615.4a2.8 2.8 0 1 0 5.6 0a2.8 2.8 0 1 0 -5.6 0ZM510 617.3a2.8 2.8 0 1 0 5.6 0a2.8 2.8 0 1 0 -5.6 0ZM511.2 621.9a2.8 2.8 0 1 0 5.6 0a2.8 2.8 0 1 0 -5.6 0ZM511.4 624.4a2.8 2.8 0 1 0 5.6 0a2.8 2.8 0 1 0 -5.6 0ZM513.1 624.6a2.8 2.8 0 1 0 5.6 0a2.8 2.8 0 1 0 -5.6 0ZM514.7 629.3a2.8 2.8 0 1 0 5.6 0a2.8 2.8 0 1 0 -5.6 0ZM512.6 630.8a2.8 2.8 0 1 0 5.6 0a2.8 2.8 0 1 0 -5.6 0ZM513.3 632a2.8 2.8 0 1 0 5.6 0a2.8 2.8 0 1 0 -5.6 0ZM516.3 634.3a2.8 2.8 0 1 0 5.6 0a2.8 2.8 0 1 0 -5.6 0ZM514.1 636.7a2.8 2.8 0 1 0 5.6 0a2.8 2.8 0 1 0 -5.6 0ZM517.2 637.4a2.8 2.8 0 1 0 5.6 0a2.8 2.8 0 1 0 -5.6 0ZM517.7 642a2.8 2.8 0 1 0 5.6 0a2.8 2.8 0 1 0 -5.6 0ZM525.5 637.1a2.8 2.8 0 1 0 5.6 0a2.8 2.8 0 1 0 -5.6 0ZM526.1 636.1a2.8 2.8 0 1 0 5.6 0a2.8 2.8 0 1 0 -5.6 0ZM526.5 632.5a2.8 2.8 0 1 0 5.6 0a2.8 2.8 0 1 0 -5.6 0ZM529.3 627.2a2.8 2.8 0 1 0 5.6 0a2.8 2.8 0 1 0 -5.6 0ZM529.5 623.3a2.8 2.8 0 1 0 5.6 0a2.8 2.8 0 1 0 -5.6 0ZM527.1 621.7a2.8 2.8 0 1 0 5.6 0a2.8 2.8 0 1 0 -5.6 0ZM527.6 619a2.8 2.8 0 1 0 5.6 0a2.8 2.8 0 1 0 -5.6 0ZM528.9 617a2.8 2.8 0 1 0 5.6 0a2.8 2.8 0 1 0 -5.6 0ZM530.5 615.6a2.8 2.8 0 1 0 5.6 0a2.8 2.8 0 1 0 -5.6 0ZM529.7 615a2.8 2.8 0 1 0 5.6 0a2.8 2.8 0 1 0 -5.6 0ZM529.4 606.9a2.8 2.8 0 1 0 5.6 0a2.8 2.8 0 1 0 -5.6 0ZM531.7 605.5a2.8 2.8 0 1 0 5.6 0a2.8 2.8 0 1 0 -5.6 0ZM526.1 609.8a2.8 2.8 0 1 0 5.6 0a2.8 2.8 0 1 0 -5.6 0ZM527.8 617.1a2.8 2.8 0 1 0 5.6 0a2.8 2.8 0 1 0 -5.6 0ZM528.1 622.4a2.8 2.8 0 1 0 5.6 0a2.8 2.8 0 1 0 -5.6 0ZM528.7 625.3a2.8 2.8 0 1 0 5.6 0a2.8 2.8 0 1 0 -5.6 0ZM529.8 631.9a2.8 2.8 0 1 0 5.6 0a2.8 2.8 0 1 0 -5.6 0ZM528.8 632.9a2.8 2.8 0 1 0 5.6 0a2.8 2.8 0 1 0 -5.6 0ZM531.7 639.3a2.8 2.8 0 1 0 5.6 0a2.8 2.8 0 1 0 -5.6 0ZM530.9 642.3a2.8 2.8 0 1 0 5.6 0a2.8 2.8 0 1 0 -5.6 0ZM531.6 645.5a2.8 2.8 0 1 0 5.6 0a2.8 2.8 0 1 0 -5.6 0ZM531.5 648.5a2.8 2.8 0 1 0 5.6 0a2.8 2.8 0 1 0 -5.6 0ZM536 650.4a2.8 2.8 0 1 0 5.6 0a2.8 2.8 0 1 0 -5.6 0ZM538.1 651.1a2.8 2.8 0 1 0 5.6 0a2.8 2.8 0 1 0 -5.6 0ZM541.7 646.2a2.8 2.8 0 1 0 5.6 0a2.8 2.8 0 1 0 -5.6 0ZM544.9 644.9a2.8 2.8 0 1 0 5.6 0a2.8 2.8 0 1 0 -5.6 0ZM545.8 639.6a2.8 2.8 0 1 0 5.6 0a2.8 2.8 0 1 0 -5.6 0ZM544.9 637.1a2.8 2.8 0 1 0 5.6 0a2.8 2.8 0 1 0 -5.6 0ZM547.3 635.2a2.8 2.8 0 1 0 5.6 0a2.8 2.8 0 1 0 -5.6 0ZM548 632.9a2.8 2.8 0 1 0 5.6 0a2.8 2.8 0 1 0 -5.6 0ZM547.1 632.6a2.8 2.8 0 1 0 5.6 0a2.8 2.8 0 1 0 -5.6 0ZM547.3 628.8a2.8 2.8 0 1 0 5.6 0a2.8 2.8 0 1 0 -5.6 0ZM548.1 625.7a2.8 2.8 0 1 0 5.6 0a2.8 2.8 0 1 0 -5.6 0ZM546.9 624.3a2.8 2.8 0 1 0 5.6 0a2.8 2.8 0 1 0 -5.6 0ZM549 623.1a2.8 2.8 0 1 0 5.6 0a2.8 2.8 0 1 0 -5.6 0ZM547.7 620a2.8 2.8 0 1 0 5.6 0a2.8 2.8 0 1 0 -5.6 0ZM548.2 616.4a2.8 2.8 0 1 0 5.6 0a2.8 2.8 0 1 0 -5.6 0ZM550.3 615.6a2.8 2.8 0 1 0 5.6 0a2.8 2.8 0 1 0 -5.6 0ZM547.8 610.7a2.8 2.8 0 1 0 5.6 0a2.8 2.8 0 1 0 -5.6 0ZM550.4 609.9a2.8 2.8 0 1 0 5.6 0a2.8 2.8 0 1 0 -5.6 0ZM548.9 611.8a2.8 2.8 0 1 0 5.6 0a2.8 2.8 0 1 0 -5.6 0ZM547.6 609a2.8 2.8 0 1 0 5.6 0a2.8 2.8 0 1 0 -5.6 0ZM549.4 611.5a2.8 2.8 0 1 0 5.6 0a2.8 2.8 0 1 0 -5.6 0ZM548 615.7a2.8 2.8 0 1 0 5.6 0a2.8 2.8 0 1 0 -5.6 0ZM551.7 617.2a2.8 2.8 0 1 0 5.6 0a2.8 2.8 0 1 0 -5.6 0ZM551 620.3a2.8 2.8 0 1 0 5.6 0a2.8 2.8 0 1 0 -5.6 0ZM550.3 623.6a2.8 2.8 0 1 0 5.6 0a2.8 2.8 0 1 0 -5.6 0ZM551.8 626.2a2.8 2.8 0 1 0 5.6 0a2.8 2.8 0 1 0 -5.6 0ZM553.3 628a2.8 2.8 0 1 0 5.6 0a2.8 2.8 0 1 0 -5.6 0ZM553.3 628.5a2.8 2.8 0 1 0 5.6 0a2.8 2.8 0 1 0 -5.6 0ZM554.7 637a2.8 2.8 0 1 0 5.6 0a2.8 2.8 0 1 0 -5.6 0ZM555.4 638.3a2.8 2.8 0 1 0 5.6 0a2.8 2.8 0 1 0 -5.6 0ZM562.9 636.6a2.8 2.8 0 1 0 5.6 0a2.8 2.8 0 1 0 -5.6 0ZM565.1 635.1a2.8 2.8 0 1 0 5.6 0a2.8 2.8 0 1 0 -5.6 0ZM565.9 633.5a2.8 2.8 0 1 0 5.6 0a2.8 2.8 0 1 0 -5.6 0ZM565.6 630a2.8 2.8 0 1 0 5.6 0a2.8 2.8 0 1 0 -5.6 0ZM567.1 630a2.8 2.8 0 1 0 5.6 0a2.8 2.8 0 1 0 -5.6 0ZM570 628.3a2.8 2.8 0 1 0 5.6 0a2.8 2.8 0 1 0 -5.6 0ZM570.1 626.6a2.8 2.8 0 1 0 5.6 0a2.8 2.8 0 1 0 -5.6 0ZM562.4 625.3a2.8 2.8 0 1 0 5.6 0a2.8 2.8 0 1 0 -5.6 0ZM565.2 628.7a2.8 2.8 0 1 0 5.6 0a2.8 2.8 0 1 0 -5.6 0ZM563.7 631.1a2.8 2.8 0 1 0 5.6 0a2.8 2.8 0 1 0 -5.6 0ZM566.1 633.3a2.8 2.8 0 1 0 5.6 0a2.8 2.8 0 1 0 -5.6 0ZM566.6 635.2a2.8 2.8 0 1 0 5.6 0a2.8 2.8 0 1 0 -5.6 0ZM566.3 635.7a2.8 2.8 0 1 0 5.6 0a2.8 2.8 0 1 0 -5.6 0ZM567.1 637.6a2.8 2.8 0 1 0 5.6 0a2.8 2.8 0 1 0 -5.6 0ZM567.3 639.9a2.8 2.8 0 1 0 5.6 0a2.8 2.8 0 1 0 -5.6 0ZM566.4 642.6a2.8 2.8 0 1 0 5.6 0a2.8 2.8 0 1 0 -5.6 0ZM566.5 644.8a2.8 2.8 0 1 0 5.6 0a2.8 2.8 0 1 0 -5.6 0ZM568.2 645.5a2.8 2.8 0 1 0 5.6 0a2.8 2.8 0 1 0 -5.6 0ZM567.7 648.2a2.8 2.8 0 1 0 5.6 0a2.8 2.8 0 1 0 -5.6 0ZM567 650.4a2.8 2.8 0 1 0 5.6 0a2.8 2.8 0 1 0 -5.6 0ZM569.4 651.7a2.8 2.8 0 1 0 5.6 0a2.8 2.8 0 1 0 -5.6 0ZM569.3 654a2.8 2.8 0 1 0 5.6 0a2.8 2.8 0 1 0 -5.6 0ZM570 655.6a2.8 2.8 0 1 0 5.6 0a2.8 2.8 0 1 0 -5.6 0ZM570.6 660.2a2.8 2.8 0 1 0 5.6 0a2.8 2.8 0 1 0 -5.6 0ZM575.2 661.7a2.8 2.8 0 1 0 5.6 0a2.8 2.8 0 1 0 -5.6 0ZM575.8 659.3a2.8 2.8 0 1 0 5.6 0a2.8 2.8 0 1 0 -5.6 0ZM578.8 655.5a2.8 2.8 0 1 0 5.6 0a2.8 2.8 0 1 0 -5.6 0ZM578.6 654.2a2.8 2.8 0 1 0 5.6 0a2.8 2.8 0 1 0 -5.6 0ZM577.8 650.6a2.8 2.8 0 1 0 5.6 0a2.8 2.8 0 1 0 -5.6 0ZM578.2 648.8a2.8 2.8 0 1 0 5.6 0a2.8 2.8 0 1 0 -5.6 0ZM581.1 644.5a2.8 2.8 0 1 0 5.6 0a2.8 2.8 0 1 0 -5.6 0ZM581 642a2.8 2.8 0 1 0 5.6 0a2.8 2.8 0 1 0 -5.6 0ZM579.9 635.9a2.8 2.8 0 1 0 5.6 0a2.8 2.8 0 1 0 -5.6 0ZM581.9 631.1a2.8 2.8 0 1 0 5.6 0a2.8 2.8 0 1 0 -5.6 0ZM581.7 634.5a2.8 2.8 0 1 0 5.6 0a2.8 2.8 0 1 0 -5.6 0ZM587.9 632.5a2.8 2.8 0 1 0 5.6 0a2.8 2.8 0 1 0 -5.6 0ZM590.3 630.3a2.8 2.8 0 1 0 5.6 0a2.8 2.8 0 1 0 -5.6 0ZM591.4 627a2.8 2.8 0 1 0 5.6 0a2.8 2.8 0 1 0 -5.6 0ZM592.5 625a2.8 2.8 0 1 0 5.6 0a2.8 2.8 0 1 0 -5.6 0ZM592.1 621.7a2.8 2.8 0 1 0 5.6 0a2.8 2.8 0 1 0 -5.6 0ZM591.6 617.5a2.8 2.8 0 1 0 5.6 0a2.8 2.8 0 1 0 -5.6 0ZM591.3 615.8a2.8 2.8 0 1 0 5.6 0a2.8 2.8 0 1 0 -5.6 0ZM591.5 613.7a2.8 2.8 0 1 0 5.6 0a2.8 2.8 0 1 0 -5.6 0ZM594 613.6a2.8 2.8 0 1 0 5.6 0a2.8 2.8 0 1 0 -5.6 0ZM594.1 609.8a2.8 2.8 0 1 0 5.6 0a2.8 2.8 0 1 0 -5.6 0ZM592.9 605.9a2.8 2.8 0 1 0 5.6 0a2.8 2.8 0 1 0 -5.6 0ZM588.5 606.7a2.8 2.8 0 1 0 5.6 0a2.8 2.8 0 1 0 -5.6 0ZM586.2 611.5a2.8 2.8 0 1 0 5.6 0a2.8 2.8 0 1 0 -5.6 0ZM587.7 614.5a2.8 2.8 0 1 0 5.6 0a2.8 2.8 0 1 0 -5.6 0ZM587.7 615.3a2.8 2.8 0 1 0 5.6 0a2.8 2.8 0 1 0 -5.6 0ZM588.4 620.2a2.8 2.8 0 1 0 5.6 0a2.8 2.8 0 1 0 -5.6 0ZM588.3 620.9a2.8 2.8 0 1 0 5.6 0a2.8 2.8 0 1 0 -5.6 0ZM588.5 625.7a2.8 2.8 0 1 0 5.6 0a2.8 2.8 0 1 0 -5.6 0ZM589.7 627.6a2.8 2.8 0 1 0 5.6 0a2.8 2.8 0 1 0 -5.6 0ZM589.4 628.2a2.8 2.8 0 1 0 5.6 0a2.8 2.8 0 1 0 -5.6 0ZM590.5 630.1a2.8 2.8 0 1 0 5.6 0a2.8 2.8 0 1 0 -5.6 0ZM588.7 634.7a2.8 2.8 0 1 0 5.6 0a2.8 2.8 0 1 0 -5.6 0ZM590.7 639.7a2.8 2.8 0 1 0 5.6 0a2.8 2.8 0 1 0 -5.6 0ZM589.6 642.7a2.8 2.8 0 1 0 5.6 0a2.8 2.8 0 1 0 -5.6 0ZM590.1 644.3a2.8 2.8 0 1 0 5.6 0a2.8 2.8 0 1 0 -5.6 0ZM594.6 649.1a2.8 2.8 0 1 0 5.6 0a2.8 2.8 0 1 0 -5.6 0ZM605.9 656.1a2.8 2.8 0 1 0 5.6 0a2.8 2.8 0 1 0 -5.6 0ZM606.7 650.8a2.8 2.8 0 1 0 5.6 0a2.8 2.8 0 1 0 -5.6 0ZM605.9 649.4a2.8 2.8 0 1 0 5.6 0a2.8 2.8 0 1 0 -5.6 0ZM606.9 647.2a2.8 2.8 0 1 0 5.6 0a2.8 2.8 0 1 0 -5.6 0ZM606.9 645.3a2.8 2.8 0 1 0 5.6 0a2.8 2.8 0 1 0 -5.6 0ZM606.5 642.3a2.8 2.8 0 1 0 5.6 0a2.8 2.8 0 1 0 -5.6 0ZM607.8 641.2a2.8 2.8 0 1 0 5.6 0a2.8 2.8 0 1 0 -5.6 0ZM608.1 639.7a2.8 2.8 0 1 0 5.6 0a2.8 2.8 0 1 0 -5.6 0ZM610 639.4a2.8 2.8 0 1 0 5.6 0a2.8 2.8 0 1 0 -5.6 0ZM609.4 634.7a2.8 2.8 0 1 0 5.6 0a2.8 2.8 0 1 0 -5.6 0ZM611.8 632.6a2.8 2.8 0 1 0 5.6 0a2.8 2.8 0 1 0 -5.6 0ZM611.5 631.9a2.8 2.8 0 1 0 5.6 0a2.8 2.8 0 1 0 -5.6 0ZM611.1 627.7a2.8 2.8 0 1 0 5.6 0a2.8 2.8 0 1 0 -5.6 0ZM605.3 633.4a2.8 2.8 0 1 0 5.6 0a2.8 2.8 0 1 0 -5.6 0ZM608.9 635.8a2.8 2.8 0 1 0 5.6 0a2.8 2.8 0 1 0 -5.6 0ZM607.7 641a2.8 2.8 0 1 0 5.6 0a2.8 2.8 0 1 0 -5.6 0ZM607.1 643.2a2.8 2.8 0 1 0 5.6 0a2.8 2.8 0 1 0 -5.6 0ZM609.3 646a2.8 2.8 0 1 0 5.6 0a2.8 2.8 0 1 0 -5.6 0ZM608.7 648.7a2.8 2.8 0 1 0 5.6 0a2.8 2.8 0 1 0 -5.6 0ZM610.1 649a2.8 2.8 0 1 0 5.6 0a2.8 2.8 0 1 0 -5.6 0ZM610.2 651.2a2.8 2.8 0 1 0 5.6 0a2.8 2.8 0 1 0 -5.6 0ZM611.5 655.9a2.8 2.8 0 1 0 5.6 0a2.8 2.8 0 1 0 -5.6 0ZM617.1 659a2.8 2.8 0 1 0 5.6 0a2.8 2.8 0 1 0 -5.6 0ZM619 657.2a2.8 2.8 0 1 0 5.6 0a2.8 2.8 0 1 0 -5.6 0ZM617.3 656.4a2.8 2.8 0 1 0 5.6 0a2.8 2.8 0 1 0 -5.6 0ZM618 654.4a2.8 2.8 0 1 0 5.6 0a2.8 2.8 0 1 0 -5.6 0ZM619.3 648.9a2.8 2.8 0 1 0 5.6 0a2.8 2.8 0 1 0 -5.6 0ZM618 646.1a2.8 2.8 0 1 0 5.6 0a2.8 2.8 0 1 0 -5.6 0ZM620.6 645a2.8 2.8 0 1 0 5.6 0a2.8 2.8 0 1 0 -5.6 0ZM618 643.5a2.8 2.8 0 1 0 5.6 0a2.8 2.8 0 1 0 -5.6 0ZM619 641.5a2.8 2.8 0 1 0 5.6 0a2.8 2.8 0 1 0 -5.6 0ZM619.3 637.7a2.8 2.8 0 1 0 5.6 0a2.8 2.8 0 1 0 -5.6 0ZM619.1 631.5a2.8 2.8 0 1 0 5.6 0a2.8 2.8 0 1 0 -5.6 0ZM619.7 628.3a2.8 2.8 0 1 0 5.6 0a2.8 2.8 0 1 0 -5.6 0ZM621.5 627.6a2.8 2.8 0 1 0 5.6 0a2.8 2.8 0 1 0 -5.6 0ZM620.2 624.7a2.8 2.8 0 1 0 5.6 0a2.8 2.8 0 1 0 -5.6 0ZM619.3 624a2.8 2.8 0 1 0 5.6 0a2.8 2.8 0 1 0 -5.6 0ZM621.2 621.3a2.8 2.8 0 1 0 5.6 0a2.8 2.8 0 1 0 -5.6 0ZM621.2 619.2a2.8 2.8 0 1 0 5.6 0a2.8 2.8 0 1 0 -5.6 0ZM620.7 617.9a2.8 2.8 0 1 0 5.6 0a2.8 2.8 0 1 0 -5.6 0ZM621.7 613.8a2.8 2.8 0 1 0 5.6 0a2.8 2.8 0 1 0 -5.6 0ZM622.5 612a2.8 2.8 0 1 0 5.6 0a2.8 2.8 0 1 0 -5.6 0ZM619.5 600.3a2.8 2.8 0 1 0 5.6 0a2.8 2.8 0 1 0 -5.6 0ZM617.6 603.3a2.8 2.8 0 1 0 5.6 0a2.8 2.8 0 1 0 -5.6 0ZM619.7 604.8a2.8 2.8 0 1 0 5.6 0a2.8 2.8 0 1 0 -5.6 0ZM617.7 610a2.8 2.8 0 1 0 5.6 0a2.8 2.8 0 1 0 -5.6 0ZM621 613.1a2.8 2.8 0 1 0 5.6 0a2.8 2.8 0 1 0 -5.6 0ZM620.7 617a2.8 2.8 0 1 0 5.6 0a2.8 2.8 0 1 0 -5.6 0ZM619.1 617.8a2.8 2.8 0 1 0 5.6 0a2.8 2.8 0 1 0 -5.6 0ZM622.3 625.2a2.8 2.8 0 1 0 5.6 0a2.8 2.8 0 1 0 -5.6 0ZM621.8 629.7a2.8 2.8 0 1 0 5.6 0a2.8 2.8 0 1 0 -5.6 0ZM620 631.5a2.8 2.8 0 1 0 5.6 0a2.8 2.8 0 1 0 -5.6 0ZM621.2 632.8a2.8 2.8 0 1 0 5.6 0a2.8 2.8 0 1 0 -5.6 0ZM621.2 637.2a2.8 2.8 0 1 0 5.6 0a2.8 2.8 0 1 0 -5.6 0ZM623.7 638.4a2.8 2.8 0 1 0 5.6 0a2.8 2.8 0 1 0 -5.6 0ZM623.2 641a2.8 2.8 0 1 0 5.6 0a2.8 2.8 0 1 0 -5.6 0ZM623.5 645.8a2.8 2.8 0 1 0 5.6 0a2.8 2.8 0 1 0 -5.6 0ZM626.3 647.5a2.8 2.8 0 1 0 5.6 0a2.8 2.8 0 1 0 -5.6 0ZM625.9 654.2a2.8 2.8 0 1 0 5.6 0a2.8 2.8 0 1 0 -5.6 0ZM628 658.9a2.8 2.8 0 1 0 5.6 0a2.8 2.8 0 1 0 -5.6 0ZM628.8 659.7a2.8 2.8 0 1 0 5.6 0a2.8 2.8 0 1 0 -5.6 0ZM635.2 660a2.8 2.8 0 1 0 5.6 0a2.8 2.8 0 1 0 -5.6 0ZM636.3 658.1a2.8 2.8 0 1 0 5.6 0a2.8 2.8 0 1 0 -5.6 0ZM636.7 655.3a2.8 2.8 0 1 0 5.6 0a2.8 2.8 0 1 0 -5.6 0ZM639 652a2.8 2.8 0 1 0 5.6 0a2.8 2.8 0 1 0 -5.6 0ZM639.3 643.7a2.8 2.8 0 1 0 5.6 0a2.8 2.8 0 1 0 -5.6 0ZM637.9 642.4a2.8 2.8 0 1 0 5.6 0a2.8 2.8 0 1 0 -5.6 0ZM640.3 639a2.8 2.8 0 1 0 5.6 0a2.8 2.8 0 1 0 -5.6 0ZM641.8 636.9a2.8 2.8 0 1 0 5.6 0a2.8 2.8 0 1 0 -5.6 0ZM642.7 632.5a2.8 2.8 0 1 0 5.6 0a2.8 2.8 0 1 0 -5.6 0ZM641.8 628.2a2.8 2.8 0 1 0 5.6 0a2.8 2.8 0 1 0 -5.6 0ZM643.6 624.1a2.8 2.8 0 1 0 5.6 0a2.8 2.8 0 1 0 -5.6 0ZM645.3 623.2a2.8 2.8 0 1 0 5.6 0a2.8 2.8 0 1 0 -5.6 0ZM645.3 619.1a2.8 2.8 0 1 0 5.6 0a2.8 2.8 0 1 0 -5.6 0ZM646.2 614.2a2.8 2.8 0 1 0 5.6 0a2.8 2.8 0 1 0 -5.6 0ZM647.3 609.1a2.8 2.8 0 1 0 5.6 0a2.8 2.8 0 1 0 -5.6 0ZM643.5 607.7a2.8 2.8 0 1 0 5.6 0a2.8 2.8 0 1 0 -5.6 0ZM644.5 608.9a2.8 2.8 0 1 0 5.6 0a2.8 2.8 0 1 0 -5.6 0ZM643.3 610.5a2.8 2.8 0 1 0 5.6 0a2.8 2.8 0 1 0 -5.6 0ZM644.8 612a2.8 2.8 0 1 0 5.6 0a2.8 2.8 0 1 0 -5.6 0ZM648 619.8a2.8 2.8 0 1 0 5.6 0a2.8 2.8 0 1 0 -5.6 0ZM647.1 624.7a2.8 2.8 0 1 0 5.6 0a2.8 2.8 0 1 0 -5.6 0ZM647 626.6a2.8 2.8 0 1 0 5.6 0a2.8 2.8 0 1 0 -5.6 0ZM649.7 629.8a2.8 2.8 0 1 0 5.6 0a2.8 2.8 0 1 0 -5.6 0ZM653.1 638.6a2.8 2.8 0 1 0 5.6 0a2.8 2.8 0 1 0 -5.6 0ZM661.2 637.2a2.8 2.8 0 1 0 5.6 0a2.8 2.8 0 1 0 -5.6 0ZM661.9 636.1a2.8 2.8 0 1 0 5.6 0a2.8 2.8 0 1 0 -5.6 0ZM659.8 633a2.8 2.8 0 1 0 5.6 0a2.8 2.8 0 1 0 -5.6 0ZM661.4 627.9a2.8 2.8 0 1 0 5.6 0a2.8 2.8 0 1 0 -5.6 0ZM664 626.8a2.8 2.8 0 1 0 5.6 0a2.8 2.8 0 1 0 -5.6 0ZM664 624.4a2.8 2.8 0 1 0 5.6 0a2.8 2.8 0 1 0 -5.6 0ZM662.1 623.8a2.8 2.8 0 1 0 5.6 0a2.8 2.8 0 1 0 -5.6 0ZM663.2 621.7a2.8 2.8 0 1 0 5.6 0a2.8 2.8 0 1 0 -5.6 0ZM665.3 621.9a2.8 2.8 0 1 0 5.6 0a2.8 2.8 0 1 0 -5.6 0ZM665.9 616.3a2.8 2.8 0 1 0 5.6 0a2.8 2.8 0 1 0 -5.6 0ZM659.9 618.4a2.8 2.8 0 1 0 5.6 0a2.8 2.8 0 1 0 -5.6 0ZM662.7 621.8a2.8 2.8 0 1 0 5.6 0a2.8 2.8 0 1 0 -5.6 0ZM661 624.5a2.8 2.8 0 1 0 5.6 0a2.8 2.8 0 1 0 -5.6 0ZM665.1 628.9a2.8 2.8 0 1 0 5.6 0a2.8 2.8 0 1 0 -5.6 0ZM663.8 630.9a2.8 2.8 0 1 0 5.6 0a2.8 2.8 0 1 0 -5.6 0ZM664.4 633.8a2.8 2.8 0 1 0 5.6 0a2.8 2.8 0 1 0 -5.6 0ZM664.1 635.1a2.8 2.8 0 1 0 5.6 0a2.8 2.8 0 1 0 -5.6 0ZM667 640.3a2.8 2.8 0 1 0 5.6 0a2.8 2.8 0 1 0 -5.6 0ZM666.3 642.4a2.8 2.8 0 1 0 5.6 0a2.8 2.8 0 1 0 -5.6 0ZM666.1 645.1a2.8 2.8 0 1 0 5.6 0a2.8 2.8 0 1 0 -5.6 0ZM673.9 644.2a2.8 2.8 0 1 0 5.6 0a2.8 2.8 0 1 0 -5.6 0ZM674.9 639a2.8 2.8 0 1 0 5.6 0a2.8 2.8 0 1 0 -5.6 0ZM674.6 635.9a2.8 2.8 0 1 0 5.6 0a2.8 2.8 0 1 0 -5.6 0ZM676 631.7a2.8 2.8 0 1 0 5.6 0a2.8 2.8 0 1 0 -5.6 0ZM678.2 631.5a2.8 2.8 0 1 0 5.6 0a2.8 2.8 0 1 0 -5.6 0ZM675.6 628a2.8 2.8 0 1 0 5.6 0a2.8 2.8 0 1 0 -5.6 0ZM679 626.8a2.8 2.8 0 1 0 5.6 0a2.8 2.8 0 1 0 -5.6 0ZM679.5 623.8a2.8 2.8 0 1 0 5.6 0a2.8 2.8 0 1 0 -5.6 0ZM677.5 620.4a2.8 2.8 0 1 0 5.6 0a2.8 2.8 0 1 0 -5.6 0ZM678 618.8a2.8 2.8 0 1 0 5.6 0a2.8 2.8 0 1 0 -5.6 0ZM679.3 618.3a2.8 2.8 0 1 0 5.6 0a2.8 2.8 0 1 0 -5.6 0ZM676.6 611.7a2.8 2.8 0 1 0 5.6 0a2.8 2.8 0 1 0 -5.6 0ZM676.1 613.9a2.8 2.8 0 1 0 5.6 0a2.8 2.8 0 1 0 -5.6 0ZM676.4 615a2.8 2.8 0 1 0 5.6 0a2.8 2.8 0 1 0 -5.6 0ZM677.8 621a2.8 2.8 0 1 0 5.6 0a2.8 2.8 0 1 0 -5.6 0ZM678.1 623.2a2.8 2.8 0 1 0 5.6 0a2.8 2.8 0 1 0 -5.6 0ZM676.1 630.3a2.8 2.8 0 1 0 5.6 0a2.8 2.8 0 1 0 -5.6 0ZM683.6 633.3a2.8 2.8 0 1 0 5.6 0a2.8 2.8 0 1 0 -5.6 0ZM684.3 628.8a2.8 2.8 0 1 0 5.6 0a2.8 2.8 0 1 0 -5.6 0ZM687.9 630.3a2.8 2.8 0 1 0 5.6 0a2.8 2.8 0 1 0 -5.6 0ZM688.1 631.9a2.8 2.8 0 1 0 5.6 0a2.8 2.8 0 1 0 -5.6 0ZM688.4 635a2.8 2.8 0 1 0 5.6 0a2.8 2.8 0 1 0 -5.6 0ZM690.3 636.9a2.8 2.8 0 1 0 5.6 0a2.8 2.8 0 1 0 -5.6 0ZM690.4 639.3a2.8 2.8 0 1 0 5.6 0a2.8 2.8 0 1 0 -5.6 0ZM688.5 641.8a2.8 2.8 0 1 0 5.6 0a2.8 2.8 0 1 0 -5.6 0ZM689.4 643.9a2.8 2.8 0 1 0 5.6 0a2.8 2.8 0 1 0 -5.6 0ZM692.4 645.7a2.8 2.8 0 1 0 5.6 0a2.8 2.8 0 1 0 -5.6 0ZM690.9 647.7a2.8 2.8 0 1 0 5.6 0a2.8 2.8 0 1 0 -5.6 0ZM699.1 650.8a2.8 2.8 0 1 0 5.6 0a2.8 2.8 0 1 0 -5.6 0ZM698.7 648.5a2.8 2.8 0 1 0 5.6 0a2.8 2.8 0 1 0 -5.6 0ZM699.8 644.9a2.8 2.8 0 1 0 5.6 0a2.8 2.8 0 1 0 -5.6 0ZM701 643.1a2.8 2.8 0 1 0 5.6 0a2.8 2.8 0 1 0 -5.6 0ZM699.9 640.2a2.8 2.8 0 1 0 5.6 0a2.8 2.8 0 1 0 -5.6 0ZM701.2 639a2.8 2.8 0 1 0 5.6 0a2.8 2.8 0 1 0 -5.6 0ZM702.8 635.4a2.8 2.8 0 1 0 5.6 0a2.8 2.8 0 1 0 -5.6 0ZM701.1 637.1a2.8 2.8 0 1 0 5.6 0a2.8 2.8 0 1 0 -5.6 0ZM707.2 632.1a2.8 2.8 0 1 0 5.6 0a2.8 2.8 0 1 0 -5.6 0ZM707.3 628.8a2.8 2.8 0 1 0 5.6 0a2.8 2.8 0 1 0 -5.6 0ZM709.9 626.1a2.8 2.8 0 1 0 5.6 0a2.8 2.8 0 1 0 -5.6 0ZM707.6 624.7a2.8 2.8 0 1 0 5.6 0a2.8 2.8 0 1 0 -5.6 0ZM702.1 625.4a2.8 2.8 0 1 0 5.6 0a2.8 2.8 0 1 0 -5.6 0ZM704.5 627.3a2.8 2.8 0 1 0 5.6 0a2.8 2.8 0 1 0 -5.6 0ZM703.8 632.3a2.8 2.8 0 1 0 5.6 0a2.8 2.8 0 1 0 -5.6 0ZM705.9 633.8a2.8 2.8 0 1 0 5.6 0a2.8 2.8 0 1 0 -5.6 0ZM712.9 642.2a2.8 2.8 0 1 0 5.6 0a2.8 2.8 0 1 0 -5.6 0ZM714.9 640.9a2.8 2.8 0 1 0 5.6 0a2.8 2.8 0 1 0 -5.6 0ZM715.7 635.7a2.8 2.8 0 1 0 5.6 0a2.8 2.8 0 1 0 -5.6 0ZM716.8 632.6a2.8 2.8 0 1 0 5.6 0a2.8 2.8 0 1 0 -5.6 0ZM715.5 630.1a2.8 2.8 0 1 0 5.6 0a2.8 2.8 0 1 0 -5.6 0ZM718.6 629.8a2.8 2.8 0 1 0 5.6 0a2.8 2.8 0 1 0 -5.6 0ZM717 628.1a2.8 2.8 0 1 0 5.6 0a2.8 2.8 0 1 0 -5.6 0ZM719.6 623.7a2.8 2.8 0 1 0 5.6 0a2.8 2.8 0 1 0 -5.6 0ZM720.6 622.9a2.8 2.8 0 1 0 5.6 0a2.8 2.8 0 1 0 -5.6 0ZM724.9 611.4a2.8 2.8 0 1 0 5.6 0a2.8 2.8 0 1 0 -5.6 0ZM718.3 614.8a2.8 2.8 0 1 0 5.6 0a2.8 2.8 0 1 0 -5.6 0ZM720.4 614.4a2.8 2.8 0 1 0 5.6 0a2.8 2.8 0 1 0 -5.6 0ZM718.5 616.6a2.8 2.8 0 1 0 5.6 0a2.8 2.8 0 1 0 -5.6 0ZM722.3 622.5a2.8 2.8 0 1 0 5.6 0a2.8 2.8 0 1 0 -5.6 0ZM723.4 631.2a2.8 2.8 0 1 0 5.6 0a2.8 2.8 0 1 0 -5.6 0ZM721.6 637.6a2.8 2.8 0 1 0 5.6 0a2.8 2.8 0 1 0 -5.6 0ZM724.7 639.3a2.8 2.8 0 1 0 5.6 0a2.8 2.8 0 1 0 -5.6 0ZM722.6 644.2a2.8 2.8 0 1 0 5.6 0a2.8 2.8 0 1 0 -5.6 0ZM723 646.5a2.8 2.8 0 1 0 5.6 0a2.8 2.8 0 1 0 -5.6 0ZM729.2 651.3a2.8 2.8 0 1 0 5.6 0a2.8 2.8 0 1 0 -5.6 0ZM729.6 654.7a2.8 2.8 0 1 0 5.6 0a2.8 2.8 0 1 0 -5.6 0ZM733.1 653.2a2.8 2.8 0 1 0 5.6 0a2.8 2.8 0 1 0 -5.6 0ZM739 649.5a2.8 2.8 0 1 0 5.6 0a2.8 2.8 0 1 0 -5.6 0ZM740.3 646.5a2.8 2.8 0 1 0 5.6 0a2.8 2.8 0 1 0 -5.6 0ZM741.3 640.3a2.8 2.8 0 1 0 5.6 0a2.8 2.8 0 1 0 -5.6 0ZM740.9 639.2a2.8 2.8 0 1 0 5.6 0a2.8 2.8 0 1 0 -5.6 0ZM740.2 637.8a2.8 2.8 0 1 0 5.6 0a2.8 2.8 0 1 0 -5.6 0ZM741.9 636.3a2.8 2.8 0 1 0 5.6 0a2.8 2.8 0 1 0 -5.6 0ZM743.8 629.6a2.8 2.8 0 1 0 5.6 0a2.8 2.8 0 1 0 -5.6 0ZM737.4 627.4a2.8 2.8 0 1 0 5.6 0a2.8 2.8 0 1 0 -5.6 0ZM735.9 628.7a2.8 2.8 0 1 0 5.6 0a2.8 2.8 0 1 0 -5.6 0ZM737.8 634.3a2.8 2.8 0 1 0 5.6 0a2.8 2.8 0 1 0 -5.6 0ZM738 636.2a2.8 2.8 0 1 0 5.6 0a2.8 2.8 0 1 0 -5.6 0ZM738.2 639.2a2.8 2.8 0 1 0 5.6 0a2.8 2.8 0 1 0 -5.6 0ZM739.4 642.5a2.8 2.8 0 1 0 5.6 0a2.8 2.8 0 1 0 -5.6 0ZM738.2 644.9a2.8 2.8 0 1 0 5.6 0a2.8 2.8 0 1 0 -5.6 0ZM740.2 644.9a2.8 2.8 0 1 0 5.6 0a2.8 2.8 0 1 0 -5.6 0ZM739.7 648.6a2.8 2.8 0 1 0 5.6 0a2.8 2.8 0 1 0 -5.6 0ZM746.1 650.5a2.8 2.8 0 1 0 5.6 0a2.8 2.8 0 1 0 -5.6 0ZM746.3 648.9a2.8 2.8 0 1 0 5.6 0a2.8 2.8 0 1 0 -5.6 0ZM747.8 646.4a2.8 2.8 0 1 0 5.6 0a2.8 2.8 0 1 0 -5.6 0ZM747.4 643.9a2.8 2.8 0 1 0 5.6 0a2.8 2.8 0 1 0 -5.6 0ZM746 643a2.8 2.8 0 1 0 5.6 0a2.8 2.8 0 1 0 -5.6 0ZM746.4 648.3a2.8 2.8 0 1 0 5.6 0a2.8 2.8 0 1 0 -5.6 0ZM755.7 649.6a2.8 2.8 0 1 0 5.6 0a2.8 2.8 0 1 0 -5.6 0ZM758.9 646.2a2.8 2.8 0 1 0 5.6 0a2.8 2.8 0 1 0 -5.6 0ZM755.5 638.3a2.8 2.8 0 1 0 5.6 0a2.8 2.8 0 1 0 -5.6 0ZM755.9 646.8a2.8 2.8 0 1 0 5.6 0a2.8 2.8 0 1 0 -5.6 0ZM753.7 647.8a2.8 2.8 0 1 0 5.6 0a2.8 2.8 0 1 0 -5.6 0ZM756.5 654.3a2.8 2.8 0 1 0 5.6 0a2.8 2.8 0 1 0 -5.6 0ZM756.7 655.6a2.8 2.8 0 1 0 5.6 0a2.8 2.8 0 1 0 -5.6 0ZM755 657a2.8 2.8 0 1 0 5.6 0a2.8 2.8 0 1 0 -5.6 0ZM757.1 658.7a2.8 2.8 0 1 0 5.6 0a2.8 2.8 0 1 0 -5.6 0ZM757 666.5a2.8 2.8 0 1 0 5.6 0a2.8 2.8 0 1 0 -5.6 0ZM759.3 667.6a2.8 2.8 0 1 0 5.6 0a2.8 2.8 0 1 0 -5.6 0ZM759.9 668.7a2.8 2.8 0 1 0 5.6 0a2.8 2.8 0 1 0 -5.6 0ZM758.9 672.7a2.8 2.8 0 1 0 5.6 0a2.8 2.8 0 1 0 -5.6 0ZM759.3 673.3a2.8 2.8 0 1 0 5.6 0a2.8 2.8 0 1 0 -5.6 0ZM761.3 674.2a2.8 2.8 0 1 0 5.6 0a2.8 2.8 0 1 0 -5.6 0ZM761.7 677.4a2.8 2.8 0 1 0 5.6 0a2.8 2.8 0 1 0 -5.6 0ZM760.7 681.5a2.8 2.8 0 1 0 5.6 0a2.8 2.8 0 1 0 -5.6 0ZM761.5 684.2a2.8 2.8 0 1 0 5.6 0a2.8 2.8 0 1 0 -5.6 0ZM760.1 685.6a2.8 2.8 0 1 0 5.6 0a2.8 2.8 0 1 0 -5.6 0ZM768.3 692.6a2.8 2.8 0 1 0 5.6 0a2.8 2.8 0 1 0 -5.6 0ZM766.8 693.5a2.8 2.8 0 1 0 5.6 0a2.8 2.8 0 1 0 -5.6 0ZM767.9 695.8a2.8 2.8 0 1 0 5.6 0a2.8 2.8 0 1 0 -5.6 0ZM766.7 699.4a2.8 2.8 0 1 0 5.6 0a2.8 2.8 0 1 0 -5.6 0ZM773.4 704.5a2.8 2.8 0 1 0 5.6 0a2.8 2.8 0 1 0 -5.6 0ZM776.3 707.3a2.8 2.8 0 1 0 5.6 0a2.8 2.8 0 1 0 -5.6 0ZM776.3 710a2.8 2.8 0 1 0 5.6 0a2.8 2.8 0 1 0 -5.6 0ZM777.5 711.2a2.8 2.8 0 1 0 5.6 0a2.8 2.8 0 1 0 -5.6 0ZM776.9 713.3a2.8 2.8 0 1 0 5.6 0a2.8 2.8 0 1 0 -5.6 0ZM777.1 715.5a2.8 2.8 0 1 0 5.6 0a2.8 2.8 0 1 0 -5.6 0ZM776.7 716.5a2.8 2.8 0 1 0 5.6 0a2.8 2.8 0 1 0 -5.6 0ZM778.3 721.1a2.8 2.8 0 1 0 5.6 0a2.8 2.8 0 1 0 -5.6 0ZM784.7 723.5a2.8 2.8 0 1 0 5.6 0a2.8 2.8 0 1 0 -5.6 0ZM782.3 722.4a2.8 2.8 0 1 0 5.6 0a2.8 2.8 0 1 0 -5.6 0ZM780.3 724.7a2.8 2.8 0 1 0 5.6 0a2.8 2.8 0 1 0 -5.6 0ZM780.4 726.9a2.8 2.8 0 1 0 5.6 0a2.8 2.8 0 1 0 -5.6 0ZM782.7 731.1a2.8 2.8 0 1 0 5.6 0a2.8 2.8 0 1 0 -5.6 0ZM782 733.3a2.8 2.8 0 1 0 5.6 0a2.8 2.8 0 1 0 -5.6 0ZM781.3 733.5a2.8 2.8 0 1 0 5.6 0a2.8 2.8 0 1 0 -5.6 0ZM783 736.5a2.8 2.8 0 1 0 5.6 0a2.8 2.8 0 1 0 -5.6 0ZM781 739.6a2.8 2.8 0 1 0 5.6 0a2.8 2.8 0 1 0 -5.6 0ZM782.4 741.5a2.8 2.8 0 1 0 5.6 0a2.8 2.8 0 1 0 -5.6 0ZM781.5 745.2a2.8 2.8 0 1 0 5.6 0a2.8 2.8 0 1 0 -5.6 0ZM781.6 747.4a2.8 2.8 0 1 0 5.6 0a2.8 2.8 0 1 0 -5.6 0ZM783.2 754a2.8 2.8 0 1 0 5.6 0a2.8 2.8 0 1 0 -5.6 0ZM782.9 757.8a2.8 2.8 0 1 0 5.6 0a2.8 2.8 0 1 0 -5.6 0ZM782.9 758.7a2.8 2.8 0 1 0 5.6 0a2.8 2.8 0 1 0 -5.6 0ZM782 761a2.8 2.8 0 1 0 5.6 0a2.8 2.8 0 1 0 -5.6 0ZM785 764a2.8 2.8 0 1 0 5.6 0a2.8 2.8 0 1 0 -5.6 0ZM785.4 765.2a2.8 2.8 0 1 0 5.6 0a2.8 2.8 0 1 0 -5.6 0ZM783.8 768.4a2.8 2.8 0 1 0 5.6 0a2.8 2.8 0 1 0 -5.6 0ZM783.5 769.9a2.8 2.8 0 1 0 5.6 0a2.8 2.8 0 1 0 -5.6 0ZM783.9 772.6a2.8 2.8 0 1 0 5.6 0a2.8 2.8 0 1 0 -5.6 0ZM786.6 774.6a2.8 2.8 0 1 0 5.6 0a2.8 2.8 0 1 0 -5.6 0ZM785.9 777.4a2.8 2.8 0 1 0 5.6 0a2.8 2.8 0 1 0 -5.6 0ZM785.1 778.5a2.8 2.8 0 1 0 5.6 0a2.8 2.8 0 1 0 -5.6 0ZM784.9 780.7a2.8 2.8 0 1 0 5.6 0a2.8 2.8 0 1 0 -5.6 0ZM786.9 788a2.8 2.8 0 1 0 5.6 0a2.8 2.8 0 1 0 -5.6 0ZM785.6 790.7a2.8 2.8 0 1 0 5.6 0a2.8 2.8 0 1 0 -5.6 0ZM785.5 792.1a2.8 2.8 0 1 0 5.6 0a2.8 2.8 0 1 0 -5.6 0ZM787.5 794.9a2.8 2.8 0 1 0 5.6 0a2.8 2.8 0 1 0 -5.6 0ZM788.7 797.9a2.8 2.8 0 1 0 5.6 0a2.8 2.8 0 1 0 -5.6 0ZM789.5 800a2.8 2.8 0 1 0 5.6 0a2.8 2.8 0 1 0 -5.6 0ZM788.2 803.3a2.8 2.8 0 1 0 5.6 0a2.8 2.8 0 1 0 -5.6 0ZM789.1 807.2a2.8 2.8 0 1 0 5.6 0a2.8 2.8 0 1 0 -5.6 0ZM789.6 807.6a2.8 2.8 0 1 0 5.6 0a2.8 2.8 0 1 0 -5.6 0ZM788.8 811.1a2.8 2.8 0 1 0 5.6 0a2.8 2.8 0 1 0 -5.6 0ZM788.3 814a2.8 2.8 0 1 0 5.6 0a2.8 2.8 0 1 0 -5.6 0ZM788.7 816a2.8 2.8 0 1 0 5.6 0a2.8 2.8 0 1 0 -5.6 0ZM787.9 818.3a2.8 2.8 0 1 0 5.6 0a2.8 2.8 0 1 0 -5.6 0ZM790.1 818.7a2.8 2.8 0 1 0 5.6 0a2.8 2.8 0 1 0 -5.6 0ZM787.1 821.7a2.8 2.8 0 1 0 5.6 0a2.8 2.8 0 1 0 -5.6 0ZM788.7 828.4a2.8 2.8 0 1 0 5.6 0a2.8 2.8 0 1 0 -5.6 0ZM789.8 830.7a2.8 2.8 0 1 0 5.6 0a2.8 2.8 0 1 0 -5.6 0ZM791.4 830.9a2.8 2.8 0 1 0 5.6 0a2.8 2.8 0 1 0 -5.6 0ZM789.9 838.4a2.8 2.8 0 1 0 5.6 0a2.8 2.8 0 1 0 -5.6 0ZM790.6 840.6a2.8 2.8 0 1 0 5.6 0a2.8 2.8 0 1 0 -5.6 0ZM791 843.4a2.8 2.8 0 1 0 5.6 0a2.8 2.8 0 1 0 -5.6 0ZM794.2 844.3a2.8 2.8 0 1 0 5.6 0a2.8 2.8 0 1 0 -5.6 0ZM794.5 850.8a2.8 2.8 0 1 0 5.6 0a2.8 2.8 0 1 0 -5.6 0ZM795 854.5a2.8 2.8 0 1 0 5.6 0a2.8 2.8 0 1 0 -5.6 0ZM793.1 859.3a2.8 2.8 0 1 0 5.6 0a2.8 2.8 0 1 0 -5.6 0ZM794.7 860.9a2.8 2.8 0 1 0 5.6 0a2.8 2.8 0 1 0 -5.6 0ZM795.2 865.3a2.8 2.8 0 1 0 5.6 0a2.8 2.8 0 1 0 -5.6 0ZM796.8 871.1a2.8 2.8 0 1 0 5.6 0a2.8 2.8 0 1 0 -5.6 0ZM798 873a2.8 2.8 0 1 0 5.6 0a2.8 2.8 0 1 0 -5.6 0ZM796.2 874.3a2.8 2.8 0 1 0 5.6 0a2.8 2.8 0 1 0 -5.6 0ZM797.7 878.4a2.8 2.8 0 1 0 5.6 0a2.8 2.8 0 1 0 -5.6 0ZM797 880.1a2.8 2.8 0 1 0 5.6 0a2.8 2.8 0 1 0 -5.6 0ZM797.4 882.3a2.8 2.8 0 1 0 5.6 0a2.8 2.8 0 1 0 -5.6 0ZM796.4 883.3a2.8 2.8 0 1 0 5.6 0a2.8 2.8 0 1 0 -5.6 0ZM797.7 888.6a2.8 2.8 0 1 0 5.6 0a2.8 2.8 0 1 0 -5.6 0ZM798.1 892.2a2.8 2.8 0 1 0 5.6 0a2.8 2.8 0 1 0 -5.6 0ZM798.2 893.4a2.8 2.8 0 1 0 5.6 0a2.8 2.8 0 1 0 -5.6 0ZM798.1 895.3a2.8 2.8 0 1 0 5.6 0a2.8 2.8 0 1 0 -5.6 0ZM800.6 898.5a2.8 2.8 0 1 0 5.6 0a2.8 2.8 0 1 0 -5.6 0ZM799.4 900.4a2.8 2.8 0 1 0 5.6 0a2.8 2.8 0 1 0 -5.6 0ZM800 903.8a2.8 2.8 0 1 0 5.6 0a2.8 2.8 0 1 0 -5.6 0ZM801.2 906.6a2.8 2.8 0 1 0 5.6 0a2.8 2.8 0 1 0 -5.6 0ZM800.8 909.2a2.8 2.8 0 1 0 5.6 0a2.8 2.8 0 1 0 -5.6 0ZM801.8 909.9a2.8 2.8 0 1 0 5.6 0a2.8 2.8 0 1 0 -5.6 0ZM799.8 914a2.8 2.8 0 1 0 5.6 0a2.8 2.8 0 1 0 -5.6 0ZM800.8 916.8a2.8 2.8 0 1 0 5.6 0a2.8 2.8 0 1 0 -5.6 0ZM801.8 919.6a2.8 2.8 0 1 0 5.6 0a2.8 2.8 0 1 0 -5.6 0ZM800.9 921.6a2.8 2.8 0 1 0 5.6 0a2.8 2.8 0 1 0 -5.6 0ZM801.2 924.6a2.8 2.8 0 1 0 5.6 0a2.8 2.8 0 1 0 -5.6 0ZM802.2 926.3a2.8 2.8 0 1 0 5.6 0a2.8 2.8 0 1 0 -5.6 0ZM803.7 935.8a2.8 2.8 0 1 0 5.6 0a2.8 2.8 0 1 0 -5.6 0ZM803.7 937a2.8 2.8 0 1 0 5.6 0a2.8 2.8 0 1 0 -5.6 0ZM805.4 940.2a2.8 2.8 0 1 0 5.6 0a2.8 2.8 0 1 0 -5.6 0ZM808.1 948a2.8 2.8 0 1 0 5.6 0a2.8 2.8 0 1 0 -5.6 0ZM807.4 949.2a2.8 2.8 0 1 0 5.6 0a2.8 2.8 0 1 0 -5.6 0ZM807.3 952a2.8 2.8 0 1 0 5.6 0a2.8 2.8 0 1 0 -5.6 0ZM808.4 958.1a2.8 2.8 0 1 0 5.6 0a2.8 2.8 0 1 0 -5.6 0ZM808.2 960.6a2.8 2.8 0 1 0 5.6 0a2.8 2.8 0 1 0 -5.6 0ZM809.2 964.3a2.8 2.8 0 1 0 5.6 0a2.8 2.8 0 1 0 -5.6 0ZM809.1 967a2.8 2.8 0 1 0 5.6 0a2.8 2.8 0 1 0 -5.6 0ZM810.3 970.5a2.8 2.8 0 1 0 5.6 0a2.8 2.8 0 1 0 -5.6 0ZM810.4 974a2.8 2.8 0 1 0 5.6 0a2.8 2.8 0 1 0 -5.6 0ZM809.1 978a2.8 2.8 0 1 0 5.6 0a2.8 2.8 0 1 0 -5.6 0ZM811.6 980.6a2.8 2.8 0 1 0 5.6 0a2.8 2.8 0 1 0 -5.6 0ZM809.8 982a2.8 2.8 0 1 0 5.6 0a2.8 2.8 0 1 0 -5.6 0ZM811 986a2.8 2.8 0 1 0 5.6 0a2.8 2.8 0 1 0 -5.6 0ZM811.5 987.8a2.8 2.8 0 1 0 5.6 0a2.8 2.8 0 1 0 -5.6 0ZM813 989.5a2.8 2.8 0 1 0 5.6 0a2.8 2.8 0 1 0 -5.6 0ZM811.9 992.1a2.8 2.8 0 1 0 5.6 0a2.8 2.8 0 1 0 -5.6 0ZM812.4 993.8a2.8 2.8 0 1 0 5.6 0a2.8 2.8 0 1 0 -5.6 0ZM814.2 995.2a2.8 2.8 0 1 0 5.6 0a2.8 2.8 0 1 0 -5.6 0ZM811.1 996.7a2.8 2.8 0 1 0 5.6 0a2.8 2.8 0 1 0 -5.6 0ZM814.5 1004a2.8 2.8 0 1 0 5.6 0a2.8 2.8 0 1 0 -5.6 0ZM815.7 1014.2a2.8 2.8 0 1 0 5.6 0a2.8 2.8 0 1 0 -5.6 0ZM819.2 1019.1a2.8 2.8 0 1 0 5.6 0a2.8 2.8 0 1 0 -5.6 0ZM819.7 1021.9a2.8 2.8 0 1 0 5.6 0a2.8 2.8 0 1 0 -5.6 0ZM823.1 1024.6a2.8 2.8 0 1 0 5.6 0a2.8 2.8 0 1 0 -5.6 0ZM824.9 1024.4a2.8 2.8 0 1 0 5.6 0a2.8 2.8 0 1 0 -5.6 0ZM827.5 1023.5a2.8 2.8 0 1 0 5.6 0a2.8 2.8 0 1 0 -5.6 0ZM829.8 1024.4a2.8 2.8 0 1 0 5.6 0a2.8 2.8 0 1 0 -5.6 0ZM837.8 1025a2.8 2.8 0 1 0 5.6 0a2.8 2.8 0 1 0 -5.6 0ZM838.7 1026.5a2.8 2.8 0 1 0 5.6 0a2.8 2.8 0 1 0 -5.6 0ZM845.4 1028.6a2.8 2.8 0 1 0 5.6 0a2.8 2.8 0 1 0 -5.6 0ZM848.3 1028.4a2.8 2.8 0 1 0 5.6 0a2.8 2.8 0 1 0 -5.6 0ZM850.3 1027.7a2.8 2.8 0 1 0 5.6 0a2.8 2.8 0 1 0 -5.6 0ZM851.1 1027.5a2.8 2.8 0 1 0 5.6 0a2.8 2.8 0 1 0 -5.6 0ZM853.8 1028.5a2.8 2.8 0 1 0 5.6 0a2.8 2.8 0 1 0 -5.6 0ZM854 1028.1a2.8 2.8 0 1 0 5.6 0a2.8 2.8 0 1 0 -5.6 0ZM859.6 1028.5a2.8 2.8 0 1 0 5.6 0a2.8 2.8 0 1 0 -5.6 0ZM862.1 1028.8a2.8 2.8 0 1 0 5.6 0a2.8 2.8 0 1 0 -5.6 0ZM864.1 1025.7a2.8 2.8 0 1 0 5.6 0a2.8 2.8 0 1 0 -5.6 0ZM866.1 1026.2a2.8 2.8 0 1 0 5.6 0a2.8 2.8 0 1 0 -5.6 0ZM878.7 1029.1a2.8 2.8 0 1 0 5.6 0a2.8 2.8 0 1 0 -5.6 0ZM115.2 1027.2a2.8 2.8 0 1 0 5.6 0a2.8 2.8 0 1 0 -5.6 0ZM123.2 1026.1a2.8 2.8 0 1 0 5.6 0a2.8 2.8 0 1 0 -5.6 0ZM123.8 1026a2.8 2.8 0 1 0 5.6 0a2.8 2.8 0 1 0 -5.6 0ZM128 1023.4a2.8 2.8 0 1 0 5.6 0a2.8 2.8 0 1 0 -5.6 0ZM130.4 1024.8a2.8 2.8 0 1 0 5.6 0a2.8 2.8 0 1 0 -5.6 0ZM133.1 1025.3a2.8 2.8 0 1 0 5.6 0a2.8 2.8 0 1 0 -5.6 0ZM132.4 1025.7a2.8 2.8 0 1 0 5.6 0a2.8 2.8 0 1 0 -5.6 0ZM132.4 1022.6a2.8 2.8 0 1 0 5.6 0a2.8 2.8 0 1 0 -5.6 0ZM132.9 1021.4a2.8 2.8 0 1 0 5.6 0a2.8 2.8 0 1 0 -5.6 0ZM137.8 1020.8a2.8 2.8 0 1 0 5.6 0a2.8 2.8 0 1 0 -5.6 0ZM139.4 1018.1a2.8 2.8 0 1 0 5.6 0a2.8 2.8 0 1 0 -5.6 0ZM142.7 1016a2.8 2.8 0 1 0 5.6 0a2.8 2.8 0 1 0 -5.6 0ZM143.6 1013.3a2.8 2.8 0 1 0 5.6 0a2.8 2.8 0 1 0 -5.6 0ZM145.9 1013.7a2.8 2.8 0 1 0 5.6 0a2.8 2.8 0 1 0 -5.6 0ZM148.5 1013.8a2.8 2.8 0 1 0 5.6 0a2.8 2.8 0 1 0 -5.6 0ZM149.9 1010a2.8 2.8 0 1 0 5.6 0a2.8 2.8 0 1 0 -5.6 0ZM149.6 1009a2.8 2.8 0 1 0 5.6 0a2.8 2.8 0 1 0 -5.6 0ZM151.3 1007.2a2.8 2.8 0 1 0 5.6 0a2.8 2.8 0 1 0 -5.6 0ZM152.7 1004.3a2.8 2.8 0 1 0 5.6 0a2.8 2.8 0 1 0 -5.6 0ZM156.6 1001.2a2.8 2.8 0 1 0 5.6 0a2.8 2.8 0 1 0 -5.6 0ZM157.5 999.4a2.8 2.8 0 1 0 5.6 0a2.8 2.8 0 1 0 -5.6 0ZM161.9 994.8a2.8 2.8 0 1 0 5.6 0a2.8 2.8 0 1 0 -5.6 0ZM162.6 994.8a2.8 2.8 0 1 0 5.6 0a2.8 2.8 0 1 0 -5.6 0ZM167.7 991.5a2.8 2.8 0 1 0 5.6 0a2.8 2.8 0 1 0 -5.6 0ZM166.6 991.5a2.8 2.8 0 1 0 5.6 0a2.8 2.8 0 1 0 -5.6 0ZM167.9 990.8a2.8 2.8 0 1 0 5.6 0a2.8 2.8 0 1 0 -5.6 0ZM171.1 985.8a2.8 2.8 0 1 0 5.6 0a2.8 2.8 0 1 0 -5.6 0ZM172.4 979.9a2.8 2.8 0 1 0 5.6 0a2.8 2.8 0 1 0 -5.6 0ZM174.2 978.7a2.8 2.8 0 1 0 5.6 0a2.8 2.8 0 1 0 -5.6 0ZM173.8 972.2a2.8 2.8 0 1 0 5.6 0a2.8 2.8 0 1 0 -5.6 0ZM176.9 965.5a2.8 2.8 0 1 0 5.6 0a2.8 2.8 0 1 0 -5.6 0ZM184.9 959.2a2.8 2.8 0 1 0 5.6 0a2.8 2.8 0 1 0 -5.6 0ZM188.6 958.4a2.8 2.8 0 1 0 5.6 0a2.8 2.8 0 1 0 -5.6 0ZM194.2 961.8a2.8 2.8 0 1 0 5.6 0a2.8 2.8 0 1 0 -5.6 0ZM196.1 961.4a2.8 2.8 0 1 0 5.6 0a2.8 2.8 0 1 0 -5.6 0ZM196.7 964a2.8 2.8 0 1 0 5.6 0a2.8 2.8 0 1 0 -5.6 0ZM196.9 964.7a2.8 2.8 0 1 0 5.6 0a2.8 2.8 0 1 0 -5.6 0ZM197.9 967.4a2.8 2.8 0 1 0 5.6 0a2.8 2.8 0 1 0 -5.6 0ZM199.9 966.6a2.8 2.8 0 1 0 5.6 0a2.8 2.8 0 1 0 -5.6 0ZM199.9 970.2a2.8 2.8 0 1 0 5.6 0a2.8 2.8 0 1 0 -5.6 0ZM202.7 972.1a2.8 2.8 0 1 0 5.6 0a2.8 2.8 0 1 0 -5.6 0ZM204.5 972.9a2.8 2.8 0 1 0 5.6 0a2.8 2.8 0 1 0 -5.6 0ZM203.5 975.3a2.8 2.8 0 1 0 5.6 0a2.8 2.8 0 1 0 -5.6 0ZM205.2 975.7a2.8 2.8 0 1 0 5.6 0a2.8 2.8 0 1 0 -5.6 0ZM204.1 978.5a2.8 2.8 0 1 0 5.6 0a2.8 2.8 0 1 0 -5.6 0ZM206.8 980.7a2.8 2.8 0 1 0 5.6 0a2.8 2.8 0 1 0 -5.6 0ZM206.2 982.1a2.8 2.8 0 1 0 5.6 0a2.8 2.8 0 1 0 -5.6 0ZM202.2 979.9a2.8 2.8 0 1 0 5.6 0a2.8 2.8 0 1 0 -5.6 0ZM205.9 981.5a2.8 2.8 0 1 0 5.6 0a2.8 2.8 0 1 0 -5.6 0ZM203.7 981.3a2.8 2.8 0 1 0 5.6 0a2.8 2.8 0 1 0 -5.6 0ZM205.2 973.9a2.8 2.8 0 1 0 5.6 0a2.8 2.8 0 1 0 -5.6 0ZM209.4 971.6a2.8 2.8 0 1 0 5.6 0a2.8 2.8 0 1 0 -5.6 0ZM210.7 968.2a2.8 2.8 0 1 0 5.6 0a2.8 2.8 0 1 0 -5.6 0ZM212.9 966.8a2.8 2.8 0 1 0 5.6 0a2.8 2.8 0 1 0 -5.6 0ZM216.9 962.9a2.8 2.8 0 1 0 5.6 0a2.8 2.8 0 1 0 -5.6 0ZM220.6 960.3a2.8 2.8 0 1 0 5.6 0a2.8 2.8 0 1 0 -5.6 0ZM225.2 957.3a2.8 2.8 0 1 0 5.6 0a2.8 2.8 0 1 0 -5.6 0ZM229.5 950.5a2.8 2.8 0 1 0 5.6 0a2.8 2.8 0 1 0 -5.6 0ZM230.2 946.6a2.8 2.8 0 1 0 5.6 0a2.8 2.8 0 1 0 -5.6 0ZM233.9 942.9a2.8 2.8 0 1 0 5.6 0a2.8 2.8 0 1 0 -5.6 0ZM234 941.8a2.8 2.8 0 1 0 5.6 0a2.8 2.8 0 1 0 -5.6 0ZM234.8 937.5a2.8 2.8 0 1 0 5.6 0a2.8 2.8 0 1 0 -5.6 0ZM233.8 935.4a2.8 2.8 0 1 0 5.6 0a2.8 2.8 0 1 0 -5.6 0ZM234.7 934.1a2.8 2.8 0 1 0 5.6 0a2.8 2.8 0 1 0 -5.6 0ZM236.1 930.9a2.8 2.8 0 1 0 5.6 0a2.8 2.8 0 1 0 -5.6 0ZM237.9 929.3a2.8 2.8 0 1 0 5.6 0a2.8 2.8 0 1 0 -5.6 0ZM244 927.9a2.8 2.8 0 1 0 5.6 0a2.8 2.8 0 1 0 -5.6 0ZM247.4 929.3a2.8 2.8 0 1 0 5.6 0a2.8 2.8 0 1 0 -5.6 0ZM249 933.8a2.8 2.8 0 1 0 5.6 0a2.8 2.8 0 1 0 -5.6 0ZM243.5 933.8a2.8 2.8 0 1 0 5.6 0a2.8 2.8 0 1 0 -5.6 0ZM242.1 932.1a2.8 2.8 0 1 0 5.6 0a2.8 2.8 0 1 0 -5.6 0ZM242.1 930.6a2.8 2.8 0 1 0 5.6 0a2.8 2.8 0 1 0 -5.6 0ZM244.8 929.3a2.8 2.8 0 1 0 5.6 0a2.8 2.8 0 1 0 -5.6 0ZM245.1 927a2.8 2.8 0 1 0 5.6 0a2.8 2.8 0 1 0 -5.6 0ZM243.9 924.1a2.8 2.8 0 1 0 5.6 0a2.8 2.8 0 1 0 -5.6 0ZM246.5 919.7a2.8 2.8 0 1 0 5.6 0a2.8 2.8 0 1 0 -5.6 0ZM249.1 920.7a2.8 2.8 0 1 0 5.6 0a2.8 2.8 0 1 0 -5.6 0ZM251 917.3a2.8 2.8 0 1 0 5.6 0a2.8 2.8 0 1 0 -5.6 0ZM251.7 916.7a2.8 2.8 0 1 0 5.6 0a2.8 2.8 0 1 0 -5.6 0ZM250.9 915.9a2.8 2.8 0 1 0 5.6 0a2.8 2.8 0 1 0 -5.6 0ZM252.4 914.7a2.8 2.8 0 1 0 5.6 0a2.8 2.8 0 1 0 -5.6 0ZM252.9 912.4a2.8 2.8 0 1 0 5.6 0a2.8 2.8 0 1 0 -5.6 0ZM254.6 911a2.8 2.8 0 1 0 5.6 0a2.8 2.8 0 1 0 -5.6 0ZM259.7 901.2a2.8 2.8 0 1 0 5.6 0a2.8 2.8 0 1 0 -5.6 0ZM264.8 900.2a2.8 2.8 0 1 0 5.6 0a2.8 2.8 0 1 0 -5.6 0ZM270.4 899.7a2.8 2.8 0 1 0 5.6 0a2.8 2.8 0 1 0 -5.6 0ZM270.3 899.9a2.8 2.8 0 1 0 5.6 0a2.8 2.8 0 1 0 -5.6 0ZM270.4 898a2.8 2.8 0 1 0 5.6 0a2.8 2.8 0 1 0 -5.6 0ZM273.2 897a2.8 2.8 0 1 0 5.6 0a2.8 2.8 0 1 0 -5.6 0ZM272.7 893.3a2.8 2.8 0 1 0 5.6 0a2.8 2.8 0 1 0 -5.6 0ZM276.5 894.1a2.8 2.8 0 1 0 5.6 0a2.8 2.8 0 1 0 -5.6 0ZM276.2 890.9a2.8 2.8 0 1 0 5.6 0a2.8 2.8 0 1 0 -5.6 0ZM280.3 890.5a2.8 2.8 0 1 0 5.6 0a2.8 2.8 0 1 0 -5.6 0ZM280.9 889.5a2.8 2.8 0 1 0 5.6 0a2.8 2.8 0 1 0 -5.6 0ZM280 887.2a2.8 2.8 0 1 0 5.6 0a2.8 2.8 0 1 0 -5.6 0ZM281.3 884.5a2.8 2.8 0 1 0 5.6 0a2.8 2.8 0 1 0 -5.6 0ZM282.1 883a2.8 2.8 0 1 0 5.6 0a2.8 2.8 0 1 0 -5.6 0ZM284.8 883.5a2.8 2.8 0 1 0 5.6 0a2.8 2.8 0 1 0 -5.6 0ZM289.3 883.4a2.8 2.8 0 1 0 5.6 0a2.8 2.8 0 1 0 -5.6 0ZM293 887.9a2.8 2.8 0 1 0 5.6 0a2.8 2.8 0 1 0 -5.6 0ZM288.7 889a2.8 2.8 0 1 0 5.6 0a2.8 2.8 0 1 0 -5.6 0ZM290.5 885.5a2.8 2.8 0 1 0 5.6 0a2.8 2.8 0 1 0 -5.6 0ZM292 882.7a2.8 2.8 0 1 0 5.6 0a2.8 2.8 0 1 0 -5.6 0ZM291.9 878.7a2.8 2.8 0 1 0 5.6 0a2.8 2.8 0 1 0 -5.6 0ZM292.4 875.3a2.8 2.8 0 1 0 5.6 0a2.8 2.8 0 1 0 -5.6 0ZM293.5 871.6a2.8 2.8 0 1 0 5.6 0a2.8 2.8 0 1 0 -5.6 0ZM293.8 870.2a2.8 2.8 0 1 0 5.6 0a2.8 2.8 0 1 0 -5.6 0ZM293.5 867.2a2.8 2.8 0 1 0 5.6 0a2.8 2.8 0 1 0 -5.6 0ZM295.2 862.4a2.8 2.8 0 1 0 5.6 0a2.8 2.8 0 1 0 -5.6 0ZM299.3 855.3a2.8 2.8 0 1 0 5.6 0a2.8 2.8 0 1 0 -5.6 0ZM303.5 856.5a2.8 2.8 0 1 0 5.6 0a2.8 2.8 0 1 0 -5.6 0ZM305.4 856.3a2.8 2.8 0 1 0 5.6 0a2.8 2.8 0 1 0 -5.6 0ZM303.5 856a2.8 2.8 0 1 0 5.6 0a2.8 2.8 0 1 0 -5.6 0ZM307.9 856.5a2.8 2.8 0 1 0 5.6 0a2.8 2.8 0 1 0 -5.6 0ZM312.4 852.7a2.8 2.8 0 1 0 5.6 0a2.8 2.8 0 1 0 -5.6 0ZM316.4 851.3a2.8 2.8 0 1 0 5.6 0a2.8 2.8 0 1 0 -5.6 0ZM318.1 850.7a2.8 2.8 0 1 0 5.6 0a2.8 2.8 0 1 0 -5.6 0ZM318.6 848.7a2.8 2.8 0 1 0 5.6 0a2.8 2.8 0 1 0 -5.6 0ZM327.3 844.5a2.8 2.8 0 1 0 5.6 0a2.8 2.8 0 1 0 -5.6 0ZM328.4 842.9a2.8 2.8 0 1 0 5.6 0a2.8 2.8 0 1 0 -5.6 0ZM331.3 845.1a2.8 2.8 0 1 0 5.6 0a2.8 2.8 0 1 0 -5.6 0ZM333.7 844.3a2.8 2.8 0 1 0 5.6 0a2.8 2.8 0 1 0 -5.6 0ZM339.5 839.5a2.8 2.8 0 1 0 5.6 0a2.8 2.8 0 1 0 -5.6 0ZM340.9 837.7a2.8 2.8 0 1 0 5.6 0a2.8 2.8 0 1 0 -5.6 0ZM344.8 836.5a2.8 2.8 0 1 0 5.6 0a2.8 2.8 0 1 0 -5.6 0ZM348.9 836.6a2.8 2.8 0 1 0 5.6 0a2.8 2.8 0 1 0 -5.6 0ZM355.5 837.7a2.8 2.8 0 1 0 5.6 0a2.8 2.8 0 1 0 -5.6 0ZM356.8 836.3a2.8 2.8 0 1 0 5.6 0a2.8 2.8 0 1 0 -5.6 0ZM357.4 838.8a2.8 2.8 0 1 0 5.6 0a2.8 2.8 0 1 0 -5.6 0ZM357.3 837a2.8 2.8 0 1 0 5.6 0a2.8 2.8 0 1 0 -5.6 0ZM359.6 837.1a2.8 2.8 0 1 0 5.6 0a2.8 2.8 0 1 0 -5.6 0ZM361.3 836.4a2.8 2.8 0 1 0 5.6 0a2.8 2.8 0 1 0 -5.6 0ZM360.8 832.8a2.8 2.8 0 1 0 5.6 0a2.8 2.8 0 1 0 -5.6 0ZM364.8 830.4a2.8 2.8 0 1 0 5.6 0a2.8 2.8 0 1 0 -5.6 0ZM365.9 829.2a2.8 2.8 0 1 0 5.6 0a2.8 2.8 0 1 0 -5.6 0ZM371 829.8a2.8 2.8 0 1 0 5.6 0a2.8 2.8 0 1 0 -5.6 0ZM375.8 830.1a2.8 2.8 0 1 0 5.6 0a2.8 2.8 0 1 0 -5.6 0ZM385.4 831.7a2.8 2.8 0 1 0 5.6 0a2.8 2.8 0 1 0 -5.6 0ZM386.1 834.3a2.8 2.8 0 1 0 5.6 0a2.8 2.8 0 1 0 -5.6 0ZM384.3 831.8a2.8 2.8 0 1 0 5.6 0a2.8 2.8 0 1 0 -5.6 0ZM388.2 830.9a2.8 2.8 0 1 0 5.6 0a2.8 2.8 0 1 0 -5.6 0ZM395.4 829a2.8 2.8 0 1 0 5.6 0a2.8 2.8 0 1 0 -5.6 0ZM396.8 831.6a2.8 2.8 0 1 0 5.6 0a2.8 2.8 0 1 0 -5.6 0ZM396.8 832.4a2.8 2.8 0 1 0 5.6 0a2.8 2.8 0 1 0 -5.6 0ZM401 833.2a2.8 2.8 0 1 0 5.6 0a2.8 2.8 0 1 0 -5.6 0ZM408.7 837.4a2.8 2.8 0 1 0 5.6 0a2.8 2.8 0 1 0 -5.6 0ZM410.3 838.1a2.8 2.8 0 1 0 5.6 0a2.8 2.8 0 1 0 -5.6 0ZM413 839.5a2.8 2.8 0 1 0 5.6 0a2.8 2.8 0 1 0 -5.6 0ZM413.5 839.8a2.8 2.8 0 1 0 5.6 0a2.8 2.8 0 1 0 -5.6 0ZM415.3 837.4a2.8 2.8 0 1 0 5.6 0a2.8 2.8 0 1 0 -5.6 0ZM421.4 837.2a2.8 2.8 0 1 0 5.6 0a2.8 2.8 0 1 0 -5.6 0ZM426 839.8a2.8 2.8 0 1 0 5.6 0a2.8 2.8 0 1 0 -5.6 0ZM428.6 839.3a2.8 2.8 0 1 0 5.6 0a2.8 2.8 0 1 0 -5.6 0ZM432 838.1a2.8 2.8 0 1 0 5.6 0a2.8 2.8 0 1 0 -5.6 0ZM434.6 837a2.8 2.8 0 1 0 5.6 0a2.8 2.8 0 1 0 -5.6 0ZM436.6 837.9a2.8 2.8 0 1 0 5.6 0a2.8 2.8 0 1 0 -5.6 0ZM448.2 837.7a2.8 2.8 0 1 0 5.6 0a2.8 2.8 0 1 0 -5.6 0ZM449 839.1a2.8 2.8 0 1 0 5.6 0a2.8 2.8 0 1 0 -5.6 0ZM451.9 840.1a2.8 2.8 0 1 0 5.6 0a2.8 2.8 0 1 0 -5.6 0ZM453.2 840.6a2.8 2.8 0 1 0 5.6 0a2.8 2.8 0 1 0 -5.6 0ZM456.5 839.4a2.8 2.8 0 1 0 5.6 0a2.8 2.8 0 1 0 -5.6 0ZM458.3 839a2.8 2.8 0 1 0 5.6 0a2.8 2.8 0 1 0 -5.6 0ZM466.7 837.8a2.8 2.8 0 1 0 5.6 0a2.8 2.8 0 1 0 -5.6 0ZM469.3 840a2.8 2.8 0 1 0 5.6 0a2.8 2.8 0 1 0 -5.6 0ZM471.4 841.7a2.8 2.8 0 1 0 5.6 0a2.8 2.8 0 1 0 -5.6 0ZM473.4 842.2a2.8 2.8 0 1 0 5.6 0a2.8 2.8 0 1 0 -5.6 0ZM475 841.5a2.8 2.8 0 1 0 5.6 0a2.8 2.8 0 1 0 -5.6 0ZM477.3 841.1a2.8 2.8 0 1 0 5.6 0a2.8 2.8 0 1 0 -5.6 0ZM477.7 840.9a2.8 2.8 0 1 0 5.6 0a2.8 2.8 0 1 0 -5.6 0ZM481.6 841.2a2.8 2.8 0 1 0 5.6 0a2.8 2.8 0 1 0 -5.6 0ZM492.2 844.5a2.8 2.8 0 1 0 5.6 0a2.8 2.8 0 1 0 -5.6 0ZM494.1 844.6a2.8 2.8 0 1 0 5.6 0a2.8 2.8 0 1 0 -5.6 0ZM491.1 845.1a2.8 2.8 0 1 0 5.6 0a2.8 2.8 0 1 0 -5.6 0ZM492.1 843a2.8 2.8 0 1 0 5.6 0a2.8 2.8 0 1 0 -5.6 0ZM492.3 841.4a2.8 2.8 0 1 0 5.6 0a2.8 2.8 0 1 0 -5.6 0ZM502.5 839.5a2.8 2.8 0 1 0 5.6 0a2.8 2.8 0 1 0 -5.6 0ZM505.4 840.8a2.8 2.8 0 1 0 5.6 0a2.8 2.8 0 1 0 -5.6 0ZM503.1 842a2.8 2.8 0 1 0 5.6 0a2.8 2.8 0 1 0 -5.6 0ZM506.6 841.1a2.8 2.8 0 1 0 5.6 0a2.8 2.8 0 1 0 -5.6 0ZM505.7 838.4a2.8 2.8 0 1 0 5.6 0a2.8 2.8 0 1 0 -5.6 0ZM515.2 841.6a2.8 2.8 0 1 0 5.6 0a2.8 2.8 0 1 0 -5.6 0ZM516.9 841.7a2.8 2.8 0 1 0 5.6 0a2.8 2.8 0 1 0 -5.6 0ZM517.6 839.8a2.8 2.8 0 1 0 5.6 0a2.8 2.8 0 1 0 -5.6 0ZM520.2 841.1a2.8 2.8 0 1 0 5.6 0a2.8 2.8 0 1 0 -5.6 0ZM520 838.8a2.8 2.8 0 1 0 5.6 0a2.8 2.8 0 1 0 -5.6 0ZM522.8 838.6a2.8 2.8 0 1 0 5.6 0a2.8 2.8 0 1 0 -5.6 0ZM526.9 840.6a2.8 2.8 0 1 0 5.6 0a2.8 2.8 0 1 0 -5.6 0ZM531.6 842.1a2.8 2.8 0 1 0 5.6 0a2.8 2.8 0 1 0 -5.6 0ZM533.2 840.4a2.8 2.8 0 1 0 5.6 0a2.8 2.8 0 1 0 -5.6 0ZM536.5 844.6a2.8 2.8 0 1 0 5.6 0a2.8 2.8 0 1 0 -5.6 0ZM538.3 842.7a2.8 2.8 0 1 0 5.6 0a2.8 2.8 0 1 0 -5.6 0ZM539.1 841.4a2.8 2.8 0 1 0 5.6 0a2.8 2.8 0 1 0 -5.6 0ZM542.4 837.4a2.8 2.8 0 1 0 5.6 0a2.8 2.8 0 1 0 -5.6 0ZM543.9 836.8a2.8 2.8 0 1 0 5.6 0a2.8 2.8 0 1 0 -5.6 0ZM548.8 831.8a2.8 2.8 0 1 0 5.6 0a2.8 2.8 0 1 0 -5.6 0ZM554.7 832.5a2.8 2.8 0 1 0 5.6 0a2.8 2.8 0 1 0 -5.6 0ZM555.3 834.3a2.8 2.8 0 1 0 5.6 0a2.8 2.8 0 1 0 -5.6 0ZM558.9 835.1a2.8 2.8 0 1 0 5.6 0a2.8 2.8 0 1 0 -5.6 0ZM558.4 838.5a2.8 2.8 0 1 0 5.6 0a2.8 2.8 0 1 0 -5.6 0ZM561.3 838.6a2.8 2.8 0 1 0 5.6 0a2.8 2.8 0 1 0 -5.6 0ZM558.8 836.8a2.8 2.8 0 1 0 5.6 0a2.8 2.8 0 1 0 -5.6 0ZM566.7 838.5a2.8 2.8 0 1 0 5.6 0a2.8 2.8 0 1 0 -5.6 0ZM569.8 839.4a2.8 2.8 0 1 0 5.6 0a2.8 2.8 0 1 0 -5.6 0ZM572.3 842.3a2.8 2.8 0 1 0 5.6 0a2.8 2.8 0 1 0 -5.6 0ZM573.9 841.2a2.8 2.8 0 1 0 5.6 0a2.8 2.8 0 1 0 -5.6 0ZM575.1 838.8a2.8 2.8 0 1 0 5.6 0a2.8 2.8 0 1 0 -5.6 0ZM581.2 838.1a2.8 2.8 0 1 0 5.6 0a2.8 2.8 0 1 0 -5.6 0ZM585.8 842.7a2.8 2.8 0 1 0 5.6 0a2.8 2.8 0 1 0 -5.6 0ZM588.5 842.3a2.8 2.8 0 1 0 5.6 0a2.8 2.8 0 1 0 -5.6 0ZM593.6 842.8a2.8 2.8 0 1 0 5.6 0a2.8 2.8 0 1 0 -5.6 0ZM596.7 842.3a2.8 2.8 0 1 0 5.6 0a2.8 2.8 0 1 0 -5.6 0ZM597.4 845a2.8 2.8 0 1 0 5.6 0a2.8 2.8 0 1 0 -5.6 0ZM598.4 843.1a2.8 2.8 0 1 0 5.6 0a2.8 2.8 0 1 0 -5.6 0ZM603.1 842.3a2.8 2.8 0 1 0 5.6 0a2.8 2.8 0 1 0 -5.6 0ZM606.1 842.6a2.8 2.8 0 1 0 5.6 0a2.8 2.8 0 1 0 -5.6 0ZM608.3 841.3a2.8 2.8 0 1 0 5.6 0a2.8 2.8 0 1 0 -5.6 0ZM609 839.5a2.8 2.8 0 1 0 5.6 0a2.8 2.8 0 1 0 -5.6 0ZM609.8 838.7a2.8 2.8 0 1 0 5.6 0a2.8 2.8 0 1 0 -5.6 0ZM614.1 838.8a2.8 2.8 0 1 0 5.6 0a2.8 2.8 0 1 0 -5.6 0ZM616.8 841.4a2.8 2.8 0 1 0 5.6 0a2.8 2.8 0 1 0 -5.6 0ZM617.6 839.9a2.8 2.8 0 1 0 5.6 0a2.8 2.8 0 1 0 -5.6 0ZM623.3 842.8a2.8 2.8 0 1 0 5.6 0a2.8 2.8 0 1 0 -5.6 0ZM630.3 844.4a2.8 2.8 0 1 0 5.6 0a2.8 2.8 0 1 0 -5.6 0ZM632.6 846.4a2.8 2.8 0 1 0 5.6 0a2.8 2.8 0 1 0 -5.6 0ZM632.5 845.1a2.8 2.8 0 1 0 5.6 0a2.8 2.8 0 1 0 -5.6 0ZM632.5 843a2.8 2.8 0 1 0 5.6 0a2.8 2.8 0 1 0 -5.6 0ZM636.6 841.8a2.8 2.8 0 1 0 5.6 0a2.8 2.8 0 1 0 -5.6 0ZM638.3 840.2a2.8 2.8 0 1 0 5.6 0a2.8 2.8 0 1 0 -5.6 0ZM640.3 838.1a2.8 2.8 0 1 0 5.6 0a2.8 2.8 0 1 0 -5.6 0ZM639.7 833a2.8 2.8 0 1 0 5.6 0a2.8 2.8 0 1 0 -5.6 0ZM646.2 828.6a2.8 2.8 0 1 0 5.6 0a2.8 2.8 0 1 0 -5.6 0ZM647.9 822.7a2.8 2.8 0 1 0 5.6 0a2.8 2.8 0 1 0 -5.6 0ZM651.5 815.3a2.8 2.8 0 1 0 5.6 0a2.8 2.8 0 1 0 -5.6 0ZM653.7 813.6a2.8 2.8 0 1 0 5.6 0a2.8 2.8 0 1 0 -5.6 0ZM657.4 812.8a2.8 2.8 0 1 0 5.6 0a2.8 2.8 0 1 0 -5.6 0ZM662.1 812.6a2.8 2.8 0 1 0 5.6 0a2.8 2.8 0 1 0 -5.6 0ZM665.4 814.8a2.8 2.8 0 1 0 5.6 0a2.8 2.8 0 1 0 -5.6 0ZM669.9 816.1a2.8 2.8 0 1 0 5.6 0a2.8 2.8 0 1 0 -5.6 0ZM667.1 815.5a2.8 2.8 0 1 0 5.6 0a2.8 2.8 0 1 0 -5.6 0ZM670.9 814.7a2.8 2.8 0 1 0 5.6 0a2.8 2.8 0 1 0 -5.6 0ZM675 811.1a2.8 2.8 0 1 0 5.6 0a2.8 2.8 0 1 0 -5.6 0ZM684.2 810.6a2.8 2.8 0 1 0 5.6 0a2.8 2.8 0 1 0 -5.6 0ZM684.3 813.4a2.8 2.8 0 1 0 5.6 0a2.8 2.8 0 1 0 -5.6 0ZM688.9 812.6a2.8 2.8 0 1 0 5.6 0a2.8 2.8 0 1 0 -5.6 0ZM692.4 814a2.8 2.8 0 1 0 5.6 0a2.8 2.8 0 1 0 -5.6 0ZM692 812.9a2.8 2.8 0 1 0 5.6 0a2.8 2.8 0 1 0 -5.6 0ZM694.6 813.4a2.8 2.8 0 1 0 5.6 0a2.8 2.8 0 1 0 -5.6 0ZM699.6 813.2a2.8 2.8 0 1 0 5.6 0a2.8 2.8 0 1 0 -5.6 0ZM702.2 811.7a2.8 2.8 0 1 0 5.6 0a2.8 2.8 0 1 0 -5.6 0ZM703.6 813.5a2.8 2.8 0 1 0 5.6 0a2.8 2.8 0 1 0 -5.6 0ZM704.1 815.8a2.8 2.8 0 1 0 5.6 0a2.8 2.8 0 1 0 -5.6 0ZM706.4 815.5a2.8 2.8 0 1 0 5.6 0a2.8 2.8 0 1 0 -5.6 0ZM709.6 814.6a2.8 2.8 0 1 0 5.6 0a2.8 2.8 0 1 0 -5.6 0ZM713 814.5a2.8 2.8 0 1 0 5.6 0a2.8 2.8 0 1 0 -5.6 0ZM714.5 817.4a2.8 2.8 0 1 0 5.6 0a2.8 2.8 0 1 0 -5.6 0ZM717.1 814.2a2.8 2.8 0 1 0 5.6 0a2.8 2.8 0 1 0 -5.6 0ZM721.5 818.2a2.8 2.8 0 1 0 5.6 0a2.8 2.8 0 1 0 -5.6 0ZM725.3 816.8a2.8 2.8 0 1 0 5.6 0a2.8 2.8 0 1 0 -5.6 0ZM726.5 818.8a2.8 2.8 0 1 0 5.6 0a2.8 2.8 0 1 0 -5.6 0ZM730.4 819.2a2.8 2.8 0 1 0 5.6 0a2.8 2.8 0 1 0 -5.6 0ZM732.3 822.7a2.8 2.8 0 1 0 5.6 0a2.8 2.8 0 1 0 -5.6 0ZM734 820.4a2.8 2.8 0 1 0 5.6 0a2.8 2.8 0 1 0 -5.6 0ZM736.3 821.2a2.8 2.8 0 1 0 5.6 0a2.8 2.8 0 1 0 -5.6 0ZM740.3 825.1a2.8 2.8 0 1 0 5.6 0a2.8 2.8 0 1 0 -5.6 0ZM742.2 824a2.8 2.8 0 1 0 5.6 0a2.8 2.8 0 1 0 -5.6 0ZM743.2 826a2.8 2.8 0 1 0 5.6 0a2.8 2.8 0 1 0 -5.6 0ZM746.8 825.7a2.8 2.8 0 1 0 5.6 0a2.8 2.8 0 1 0 -5.6 0ZM748.9 825.7a2.8 2.8 0 1 0 5.6 0a2.8 2.8 0 1 0 -5.6 0ZM748.4 828.4a2.8 2.8 0 1 0 5.6 0a2.8 2.8 0 1 0 -5.6 0ZM754 831.9a2.8 2.8 0 1 0 5.6 0a2.8 2.8 0 1 0 -5.6 0ZM754.4 833.5a2.8 2.8 0 1 0 5.6 0a2.8 2.8 0 1 0 -5.6 0ZM754.6 838.1a2.8 2.8 0 1 0 5.6 0a2.8 2.8 0 1 0 -5.6 0ZM758.2 842.3a2.8 2.8 0 1 0 5.6 0a2.8 2.8 0 1 0 -5.6 0ZM760.3 845.6a2.8 2.8 0 1 0 5.6 0a2.8 2.8 0 1 0 -5.6 0ZM761.1 848.7a2.8 2.8 0 1 0 5.6 0a2.8 2.8 0 1 0 -5.6 0ZM762.1 852.5a2.8 2.8 0 1 0 5.6 0a2.8 2.8 0 1 0 -5.6 0ZM761 860.9a2.8 2.8 0 1 0 5.6 0a2.8 2.8 0 1 0 -5.6 0ZM763.4 864a2.8 2.8 0 1 0 5.6 0a2.8 2.8 0 1 0 -5.6 0ZM764.9 865.8a2.8 2.8 0 1 0 5.6 0a2.8 2.8 0 1 0 -5.6 0ZM765.8 873.1a2.8 2.8 0 1 0 5.6 0a2.8 2.8 0 1 0 -5.6 0ZM768.2 874.8a2.8 2.8 0 1 0 5.6 0a2.8 2.8 0 1 0 -5.6 0ZM766.8 877.3a2.8 2.8 0 1 0 5.6 0a2.8 2.8 0 1 0 -5.6 0ZM769.3 878.2a2.8 2.8 0 1 0 5.6 0a2.8 2.8 0 1 0 -5.6 0ZM770.1 880.6a2.8 2.8 0 1 0 5.6 0a2.8 2.8 0 1 0 -5.6 0ZM771.1 881.8a2.8 2.8 0 1 0 5.6 0a2.8 2.8 0 1 0 -5.6 0ZM770.2 882.3a2.8 2.8 0 1 0 5.6 0a2.8 2.8 0 1 0 -5.6 0ZM771.1 882.5a2.8 2.8 0 1 0 5.6 0a2.8 2.8 0 1 0 -5.6 0ZM771.6 884.8a2.8 2.8 0 1 0 5.6 0a2.8 2.8 0 1 0 -5.6 0ZM775.8 892.8a2.8 2.8 0 1 0 5.6 0a2.8 2.8 0 1 0 -5.6 0ZM777.7 892.8a2.8 2.8 0 1 0 5.6 0a2.8 2.8 0 1 0 -5.6 0ZM778 895a2.8 2.8 0 1 0 5.6 0a2.8 2.8 0 1 0 -5.6 0ZM779.8 896.2a2.8 2.8 0 1 0 5.6 0a2.8 2.8 0 1 0 -5.6 0ZM779.2 901.2a2.8 2.8 0 1 0 5.6 0a2.8 2.8 0 1 0 -5.6 0ZM780.1 903.3a2.8 2.8 0 1 0 5.6 0a2.8 2.8 0 1 0 -5.6 0ZM781.2 909.2a2.8 2.8 0 1 0 5.6 0a2.8 2.8 0 1 0 -5.6 0ZM786.1 918.4a2.8 2.8 0 1 0 5.6 0a2.8 2.8 0 1 0 -5.6 0ZM785.6 920.5a2.8 2.8 0 1 0 5.6 0a2.8 2.8 0 1 0 -5.6 0ZM786.8 924.6a2.8 2.8 0 1 0 5.6 0a2.8 2.8 0 1 0 -5.6 0ZM787.7 926.6a2.8 2.8 0 1 0 5.6 0a2.8 2.8 0 1 0 -5.6 0ZM786.5 928.6a2.8 2.8 0 1 0 5.6 0a2.8 2.8 0 1 0 -5.6 0ZM786.6 932.1a2.8 2.8 0 1 0 5.6 0a2.8 2.8 0 1 0 -5.6 0ZM787.7 937.5a2.8 2.8 0 1 0 5.6 0a2.8 2.8 0 1 0 -5.6 0ZM787.5 939.6a2.8 2.8 0 1 0 5.6 0a2.8 2.8 0 1 0 -5.6 0ZM789.8 941.5a2.8 2.8 0 1 0 5.6 0a2.8 2.8 0 1 0 -5.6 0ZM786.9 944.7a2.8 2.8 0 1 0 5.6 0a2.8 2.8 0 1 0 -5.6 0ZM789.1 946.4a2.8 2.8 0 1 0 5.6 0a2.8 2.8 0 1 0 -5.6 0ZM788 948.7a2.8 2.8 0 1 0 5.6 0a2.8 2.8 0 1 0 -5.6 0ZM789 951.1a2.8 2.8 0 1 0 5.6 0a2.8 2.8 0 1 0 -5.6 0ZM789.2 957a2.8 2.8 0 1 0 5.6 0a2.8 2.8 0 1 0 -5.6 0ZM789 963.3a2.8 2.8 0 1 0 5.6 0a2.8 2.8 0 1 0 -5.6 0ZM790.2 967.2a2.8 2.8 0 1 0 5.6 0a2.8 2.8 0 1 0 -5.6 0ZM790.1 968.6a2.8 2.8 0 1 0 5.6 0a2.8 2.8 0 1 0 -5.6 0ZM791.3 970.8a2.8 2.8 0 1 0 5.6 0a2.8 2.8 0 1 0 -5.6 0ZM792.4 971.9a2.8 2.8 0 1 0 5.6 0a2.8 2.8 0 1 0 -5.6 0ZM791.5 974.1a2.8 2.8 0 1 0 5.6 0a2.8 2.8 0 1 0 -5.6 0ZM793.5 975.6a2.8 2.8 0 1 0 5.6 0a2.8 2.8 0 1 0 -5.6 0ZM791.3 977.4a2.8 2.8 0 1 0 5.6 0a2.8 2.8 0 1 0 -5.6 0ZM793.9 978.7a2.8 2.8 0 1 0 5.6 0a2.8 2.8 0 1 0 -5.6 0ZM793.9 983.1a2.8 2.8 0 1 0 5.6 0a2.8 2.8 0 1 0 -5.6 0ZM795.8 984.4a2.8 2.8 0 1 0 5.6 0a2.8 2.8 0 1 0 -5.6 0ZM798.8 986.3a2.8 2.8 0 1 0 5.6 0a2.8 2.8 0 1 0 -5.6 0ZM797.8 990.7a2.8 2.8 0 1 0 5.6 0a2.8 2.8 0 1 0 -5.6 0ZM803.5 996.1a2.8 2.8 0 1 0 5.6 0a2.8 2.8 0 1 0 -5.6 0ZM803.6 1004.3a2.8 2.8 0 1 0 5.6 0a2.8 2.8 0 1 0 -5.6 0ZM807.1 1007.8a2.8 2.8 0 1 0 5.6 0a2.8 2.8 0 1 0 -5.6 0ZM809 1013.5a2.8 2.8 0 1 0 5.6 0a2.8 2.8 0 1 0 -5.6 0ZM810.8 1016.1a2.8 2.8 0 1 0 5.6 0a2.8 2.8 0 1 0 -5.6 0ZM809.9 1019.6a2.8 2.8 0 1 0 5.6 0a2.8 2.8 0 1 0 -5.6 0ZM814 1024.6a2.8 2.8 0 1 0 5.6 0a2.8 2.8 0 1 0 -5.6 0ZM816.8 1024.6a2.8 2.8 0 1 0 5.6 0a2.8 2.8 0 1 0 -5.6 0ZM824.2 1029.4a2.8 2.8 0 1 0 5.6 0a2.8 2.8 0 1 0 -5.6 0ZM826.1 1029.8a2.8 2.8 0 1 0 5.6 0a2.8 2.8 0 1 0 -5.6 0ZM831.3 1030.8a2.8 2.8 0 1 0 5.6 0a2.8 2.8 0 1 0 -5.6 0ZM833.4 1029a2.8 2.8 0 1 0 5.6 0a2.8 2.8 0 1 0 -5.6 0ZM835 1028.3a2.8 2.8 0 1 0 5.6 0a2.8 2.8 0 1 0 -5.6 0ZM840 1028.1a2.8 2.8 0 1 0 5.6 0a2.8 2.8 0 1 0 -5.6 0ZM841.9 1029.1a2.8 2.8 0 1 0 5.6 0a2.8 2.8 0 1 0 -5.6 0ZM848.2 1029.6a2.8 2.8 0 1 0 5.6 0a2.8 2.8 0 1 0 -5.6 0ZM852.2 1027.7a2.8 2.8 0 1 0 5.6 0a2.8 2.8 0 1 0 -5.6 0ZM854.7 1029.5a2.8 2.8 0 1 0 5.6 0a2.8 2.8 0 1 0 -5.6 0ZM858.8 1028a2.8 2.8 0 1 0 5.6 0a2.8 2.8 0 1 0 -5.6 0ZM861.2 1029.3a2.8 2.8 0 1 0 5.6 0a2.8 2.8 0 1 0 -5.6 0ZM868.2 1027.8a2.8 2.8 0 1 0 5.6 0a2.8 2.8 0 1 0 -5.6 0ZM874.4 1028.2a2.8 2.8 0 1 0 5.6 0a2.8 2.8 0 1 0 -5.6 0ZM876.2 1028.2a2.8 2.8 0 1 0 5.6 0a2.8 2.8 0 1 0 -5.6 0ZM297.5 874.8a2.8 2.8 0 1 0 5.6 0a2.8 2.8 0 1 0 -5.6 0ZM298.7 881a2.8 2.8 0 1 0 5.6 0a2.8 2.8 0 1 0 -5.6 0ZM300.3 881.6a2.8 2.8 0 1 0 5.6 0a2.8 2.8 0 1 0 -5.6 0ZM301.9 867.4a2.8 2.8 0 1 0 5.6 0a2.8 2.8 0 1 0 -5.6 0ZM302.7 870.4a2.8 2.8 0 1 0 5.6 0a2.8 2.8 0 1 0 -5.6 0ZM304.6 863.6a2.8 2.8 0 1 0 5.6 0a2.8 2.8 0 1 0 -5.6 0ZM305.5 861a2.8 2.8 0 1 0 5.6 0a2.8 2.8 0 1 0 -5.6 0ZM305.8 871.1a2.8 2.8 0 1 0 5.6 0a2.8 2.8 0 1 0 -5.6 0ZM306.9 878.5a2.8 2.8 0 1 0 5.6 0a2.8 2.8 0 1 0 -5.6 0ZM308.6 882a2.8 2.8 0 1 0 5.6 0a2.8 2.8 0 1 0 -5.6 0ZM309.2 881.2a2.8 2.8 0 1 0 5.6 0a2.8 2.8 0 1 0 -5.6 0ZM310.6 860a2.8 2.8 0 1 0 5.6 0a2.8 2.8 0 1 0 -5.6 0ZM311.6 881.1a2.8 2.8 0 1 0 5.6 0a2.8 2.8 0 1 0 -5.6 0ZM311.9 862.6a2.8 2.8 0 1 0 5.6 0a2.8 2.8 0 1 0 -5.6 0ZM313 856.6a2.8 2.8 0 1 0 5.6 0a2.8 2.8 0 1 0 -5.6 0ZM314.4 855.7a2.8 2.8 0 1 0 5.6 0a2.8 2.8 0 1 0 -5.6 0ZM315.5 860.4a2.8 2.8 0 1 0 5.6 0a2.8 2.8 0 1 0 -5.6 0ZM316.2 860.2a2.8 2.8 0 1 0 5.6 0a2.8 2.8 0 1 0 -5.6 0ZM317.7 854.9a2.8 2.8 0 1 0 5.6 0a2.8 2.8 0 1 0 -5.6 0ZM318.5 872.2a2.8 2.8 0 1 0 5.6 0a2.8 2.8 0 1 0 -5.6 0ZM319.1 873.2a2.8 2.8 0 1 0 5.6 0a2.8 2.8 0 1 0 -5.6 0ZM319.7 852.2a2.8 2.8 0 1 0 5.6 0a2.8 2.8 0 1 0 -5.6 0ZM320.9 879.2a2.8 2.8 0 1 0 5.6 0a2.8 2.8 0 1 0 -5.6 0ZM322.6 877.9a2.8 2.8 0 1 0 5.6 0a2.8 2.8 0 1 0 -5.6 0ZM323.2 857a2.8 2.8 0 1 0 5.6 0a2.8 2.8 0 1 0 -5.6 0ZM324.4 850.4a2.8 2.8 0 1 0 5.6 0a2.8 2.8 0 1 0 -5.6 0ZM324.7 874.4a2.8 2.8 0 1 0 5.6 0a2.8 2.8 0 1 0 -5.6 0ZM326 849.2a2.8 2.8 0 1 0 5.6 0a2.8 2.8 0 1 0 -5.6 0ZM327 876.6a2.8 2.8 0 1 0 5.6 0a2.8 2.8 0 1 0 -5.6 0ZM328 861.3a2.8 2.8 0 1 0 5.6 0a2.8 2.8 0 1 0 -5.6 0ZM328.8 849.8a2.8 2.8 0 1 0 5.6 0a2.8 2.8 0 1 0 -5.6 0ZM330.7 866.3a2.8 2.8 0 1 0 5.6 0a2.8 2.8 0 1 0 -5.6 0ZM331.7 846.6a2.8 2.8 0 1 0 5.6 0a2.8 2.8 0 1 0 -5.6 0ZM331.9 855.3a2.8 2.8 0 1 0 5.6 0a2.8 2.8 0 1 0 -5.6 0ZM333.2 871.5a2.8 2.8 0 1 0 5.6 0a2.8 2.8 0 1 0 -5.6 0ZM334.6 845.5a2.8 2.8 0 1 0 5.6 0a2.8 2.8 0 1 0 -5.6 0ZM335.5 857.4a2.8 2.8 0 1 0 5.6 0a2.8 2.8 0 1 0 -5.6 0ZM335.4 846.5a2.8 2.8 0 1 0 5.6 0a2.8 2.8 0 1 0 -5.6 0ZM336.5 862.5a2.8 2.8 0 1 0 5.6 0a2.8 2.8 0 1 0 -5.6 0ZM336.8 854.7a2.8 2.8 0 1 0 5.6 0a2.8 2.8 0 1 0 -5.6 0ZM337 871.6a2.8 2.8 0 1 0 5.6 0a2.8 2.8 0 1 0 -5.6 0ZM338.6 879.1a2.8 2.8 0 1 0 5.6 0a2.8 2.8 0 1 0 -5.6 0ZM339.2 854.6a2.8 2.8 0 1 0 5.6 0a2.8 2.8 0 1 0 -5.6 0ZM340 855.1a2.8 2.8 0 1 0 5.6 0a2.8 2.8 0 1 0 -5.6 0ZM341.1 843.5a2.8 2.8 0 1 0 5.6 0a2.8 2.8 0 1 0 -5.6 0ZM342.3 877.4a2.8 2.8 0 1 0 5.6 0a2.8 2.8 0 1 0 -5.6 0ZM342.8 848.2a2.8 2.8 0 1 0 5.6 0a2.8 2.8 0 1 0 -5.6 0ZM344.6 867.8a2.8 2.8 0 1 0 5.6 0a2.8 2.8 0 1 0 -5.6 0ZM344.5 848.4a2.8 2.8 0 1 0 5.6 0a2.8 2.8 0 1 0 -5.6 0ZM345.4 863.2a2.8 2.8 0 1 0 5.6 0a2.8 2.8 0 1 0 -5.6 0ZM346.4 848.2a2.8 2.8 0 1 0 5.6 0a2.8 2.8 0 1 0 -5.6 0ZM347.5 853.4a2.8 2.8 0 1 0 5.6 0a2.8 2.8 0 1 0 -5.6 0ZM347 863.2a2.8 2.8 0 1 0 5.6 0a2.8 2.8 0 1 0 -5.6 0ZM348.3 861.2a2.8 2.8 0 1 0 5.6 0a2.8 2.8 0 1 0 -5.6 0ZM349 856.3a2.8 2.8 0 1 0 5.6 0a2.8 2.8 0 1 0 -5.6 0ZM349.2 862.3a2.8 2.8 0 1 0 5.6 0a2.8 2.8 0 1 0 -5.6 0ZM350.5 861.2a2.8 2.8 0 1 0 5.6 0a2.8 2.8 0 1 0 -5.6 0ZM351.4 861.1a2.8 2.8 0 1 0 5.6 0a2.8 2.8 0 1 0 -5.6 0ZM351.1 870.8a2.8 2.8 0 1 0 5.6 0a2.8 2.8 0 1 0 -5.6 0ZM352.4 873.3a2.8 2.8 0 1 0 5.6 0a2.8 2.8 0 1 0 -5.6 0ZM353.2 878.4a2.8 2.8 0 1 0 5.6 0a2.8 2.8 0 1 0 -5.6 0ZM354.5 842.4a2.8 2.8 0 1 0 5.6 0a2.8 2.8 0 1 0 -5.6 0ZM355.4 854.3a2.8 2.8 0 1 0 5.6 0a2.8 2.8 0 1 0 -5.6 0ZM355.9 866.6a2.8 2.8 0 1 0 5.6 0a2.8 2.8 0 1 0 -5.6 0ZM357.4 859.5a2.8 2.8 0 1 0 5.6 0a2.8 2.8 0 1 0 -5.6 0ZM358.5 861.8a2.8 2.8 0 1 0 5.6 0a2.8 2.8 0 1 0 -5.6 0ZM358.7 866.3a2.8 2.8 0 1 0 5.6 0a2.8 2.8 0 1 0 -5.6 0ZM360.4 852.6a2.8 2.8 0 1 0 5.6 0a2.8 2.8 0 1 0 -5.6 0ZM360.4 844a2.8 2.8 0 1 0 5.6 0a2.8 2.8 0 1 0 -5.6 0ZM361.2 838.4a2.8 2.8 0 1 0 5.6 0a2.8 2.8 0 1 0 -5.6 0ZM361.8 837.7a2.8 2.8 0 1 0 5.6 0a2.8 2.8 0 1 0 -5.6 0ZM361.9 846a2.8 2.8 0 1 0 5.6 0a2.8 2.8 0 1 0 -5.6 0ZM363.2 836.3a2.8 2.8 0 1 0 5.6 0a2.8 2.8 0 1 0 -5.6 0ZM363.3 847.9a2.8 2.8 0 1 0 5.6 0a2.8 2.8 0 1 0 -5.6 0ZM364.6 841.3a2.8 2.8 0 1 0 5.6 0a2.8 2.8 0 1 0 -5.6 0ZM364.1 834.9a2.8 2.8 0 1 0 5.6 0a2.8 2.8 0 1 0 -5.6 0ZM364.8 847.9a2.8 2.8 0 1 0 5.6 0a2.8 2.8 0 1 0 -5.6 0ZM365.1 871.4a2.8 2.8 0 1 0 5.6 0a2.8 2.8 0 1 0 -5.6 0ZM365.8 858.3a2.8 2.8 0 1 0 5.6 0a2.8 2.8 0 1 0 -5.6 0ZM366 854.5a2.8 2.8 0 1 0 5.6 0a2.8 2.8 0 1 0 -5.6 0ZM367.5 879.9a2.8 2.8 0 1 0 5.6 0a2.8 2.8 0 1 0 -5.6 0ZM367.5 847.8a2.8 2.8 0 1 0 5.6 0a2.8 2.8 0 1 0 -5.6 0ZM367.8 845.1a2.8 2.8 0 1 0 5.6 0a2.8 2.8 0 1 0 -5.6 0ZM368.3 857a2.8 2.8 0 1 0 5.6 0a2.8 2.8 0 1 0 -5.6 0ZM369.3 880.7a2.8 2.8 0 1 0 5.6 0a2.8 2.8 0 1 0 -5.6 0ZM369.7 875.6a2.8 2.8 0 1 0 5.6 0a2.8 2.8 0 1 0 -5.6 0ZM370.3 834.1a2.8 2.8 0 1 0 5.6 0a2.8 2.8 0 1 0 -5.6 0ZM371.3 834.8a2.8 2.8 0 1 0 5.6 0a2.8 2.8 0 1 0 -5.6 0ZM371.1 875.5a2.8 2.8 0 1 0 5.6 0a2.8 2.8 0 1 0 -5.6 0ZM372 837.7a2.8 2.8 0 1 0 5.6 0a2.8 2.8 0 1 0 -5.6 0ZM372.1 881.4a2.8 2.8 0 1 0 5.6 0a2.8 2.8 0 1 0 -5.6 0ZM373.3 877.3a2.8 2.8 0 1 0 5.6 0a2.8 2.8 0 1 0 -5.6 0ZM374.2 882.2a2.8 2.8 0 1 0 5.6 0a2.8 2.8 0 1 0 -5.6 0ZM374 846.8a2.8 2.8 0 1 0 5.6 0a2.8 2.8 0 1 0 -5.6 0ZM375 851a2.8 2.8 0 1 0 5.6 0a2.8 2.8 0 1 0 -5.6 0ZM376.3 834.7a2.8 2.8 0 1 0 5.6 0a2.8 2.8 0 1 0 -5.6 0ZM376 848.6a2.8 2.8 0 1 0 5.6 0a2.8 2.8 0 1 0 -5.6 0ZM376.7 871.9a2.8 2.8 0 1 0 5.6 0a2.8 2.8 0 1 0 -5.6 0ZM378.6 840.8a2.8 2.8 0 1 0 5.6 0a2.8 2.8 0 1 0 -5.6 0ZM377.9 868.8a2.8 2.8 0 1 0 5.6 0a2.8 2.8 0 1 0 -5.6 0ZM379.7 836.4a2.8 2.8 0 1 0 5.6 0a2.8 2.8 0 1 0 -5.6 0ZM379.3 841.8a2.8 2.8 0 1 0 5.6 0a2.8 2.8 0 1 0 -5.6 0ZM380.3 860.3a2.8 2.8 0 1 0 5.6 0a2.8 2.8 0 1 0 -5.6 0ZM379.8 866.3a2.8 2.8 0 1 0 5.6 0a2.8 2.8 0 1 0 -5.6 0ZM381.2 842.7a2.8 2.8 0 1 0 5.6 0a2.8 2.8 0 1 0 -5.6 0ZM382.2 842.8a2.8 2.8 0 1 0 5.6 0a2.8 2.8 0 1 0 -5.6 0ZM382.1 850.7a2.8 2.8 0 1 0 5.6 0a2.8 2.8 0 1 0 -5.6 0ZM382.7 857.6a2.8 2.8 0 1 0 5.6 0a2.8 2.8 0 1 0 -5.6 0ZM384.6 850.7a2.8 2.8 0 1 0 5.6 0a2.8 2.8 0 1 0 -5.6 0ZM384.2 875.4a2.8 2.8 0 1 0 5.6 0a2.8 2.8 0 1 0 -5.6 0ZM385.1 868.5a2.8 2.8 0 1 0 5.6 0a2.8 2.8 0 1 0 -5.6 0ZM385.4 857a2.8 2.8 0 1 0 5.6 0a2.8 2.8 0 1 0 -5.6 0ZM386.6 851.9a2.8 2.8 0 1 0 5.6 0a2.8 2.8 0 1 0 -5.6 0ZM387.6 846.9a2.8 2.8 0 1 0 5.6 0a2.8 2.8 0 1 0 -5.6 0ZM387 838.9a2.8 2.8 0 1 0 5.6 0a2.8 2.8 0 1 0 -5.6 0ZM388.5 834.2a2.8 2.8 0 1 0 5.6 0a2.8 2.8 0 1 0 -5.6 0ZM389 847.7a2.8 2.8 0 1 0 5.6 0a2.8 2.8 0 1 0 -5.6 0ZM389.8 875.6a2.8 2.8 0 1 0 5.6 0a2.8 2.8 0 1 0 -5.6 0ZM391.2 852.7a2.8 2.8 0 1 0 5.6 0a2.8 2.8 0 1 0 -5.6 0ZM390.9 841.5a2.8 2.8 0 1 0 5.6 0a2.8 2.8 0 1 0 -5.6 0ZM391.8 868.4a2.8 2.8 0 1 0 5.6 0a2.8 2.8 0 1 0 -5.6 0ZM392.5 836.5a2.8 2.8 0 1 0 5.6 0a2.8 2.8 0 1 0 -5.6 0ZM392.7 859.1a2.8 2.8 0 1 0 5.6 0a2.8 2.8 0 1 0 -5.6 0ZM394.7 879.6a2.8 2.8 0 1 0 5.6 0a2.8 2.8 0 1 0 -5.6 0ZM395.5 833.3a2.8 2.8 0 1 0 5.6 0a2.8 2.8 0 1 0 -5.6 0ZM396.7 859.1a2.8 2.8 0 1 0 5.6 0a2.8 2.8 0 1 0 -5.6 0ZM395.8 862.9a2.8 2.8 0 1 0 5.6 0a2.8 2.8 0 1 0 -5.6 0ZM396.8 875.3a2.8 2.8 0 1 0 5.6 0a2.8 2.8 0 1 0 -5.6 0ZM397.1 857.6a2.8 2.8 0 1 0 5.6 0a2.8 2.8 0 1 0 -5.6 0ZM397.7 858.6a2.8 2.8 0 1 0 5.6 0a2.8 2.8 0 1 0 -5.6 0ZM398.1 837.6a2.8 2.8 0 1 0 5.6 0a2.8 2.8 0 1 0 -5.6 0ZM399.3 837.4a2.8 2.8 0 1 0 5.6 0a2.8 2.8 0 1 0 -5.6 0ZM399.6 865.3a2.8 2.8 0 1 0 5.6 0a2.8 2.8 0 1 0 -5.6 0ZM400 850.1a2.8 2.8 0 1 0 5.6 0a2.8 2.8 0 1 0 -5.6 0ZM400.2 857.9a2.8 2.8 0 1 0 5.6 0a2.8 2.8 0 1 0 -5.6 0ZM400.8 847.8a2.8 2.8 0 1 0 5.6 0a2.8 2.8 0 1 0 -5.6 0ZM402.3 840.2a2.8 2.8 0 1 0 5.6 0a2.8 2.8 0 1 0 -5.6 0ZM403.3 874.3a2.8 2.8 0 1 0 5.6 0a2.8 2.8 0 1 0 -5.6 0ZM404.3 844.1a2.8 2.8 0 1 0 5.6 0a2.8 2.8 0 1 0 -5.6 0ZM405.2 865.4a2.8 2.8 0 1 0 5.6 0a2.8 2.8 0 1 0 -5.6 0ZM404.9 840.3a2.8 2.8 0 1 0 5.6 0a2.8 2.8 0 1 0 -5.6 0ZM405.9 864.7a2.8 2.8 0 1 0 5.6 0a2.8 2.8 0 1 0 -5.6 0ZM406.4 863.5a2.8 2.8 0 1 0 5.6 0a2.8 2.8 0 1 0 -5.6 0ZM406.8 861.4a2.8 2.8 0 1 0 5.6 0a2.8 2.8 0 1 0 -5.6 0ZM407.3 840.7a2.8 2.8 0 1 0 5.6 0a2.8 2.8 0 1 0 -5.6 0ZM408.2 871.9a2.8 2.8 0 1 0 5.6 0a2.8 2.8 0 1 0 -5.6 0ZM408.5 847a2.8 2.8 0 1 0 5.6 0a2.8 2.8 0 1 0 -5.6 0ZM408.8 864.2a2.8 2.8 0 1 0 5.6 0a2.8 2.8 0 1 0 -5.6 0ZM409.7 842a2.8 2.8 0 1 0 5.6 0a2.8 2.8 0 1 0 -5.6 0ZM409.8 844.4a2.8 2.8 0 1 0 5.6 0a2.8 2.8 0 1 0 -5.6 0ZM411.5 861.5a2.8 2.8 0 1 0 5.6 0a2.8 2.8 0 1 0 -5.6 0ZM412.1 859.8a2.8 2.8 0 1 0 5.6 0a2.8 2.8 0 1 0 -5.6 0ZM412 845.4a2.8 2.8 0 1 0 5.6 0a2.8 2.8 0 1 0 -5.6 0ZM413.1 849.2a2.8 2.8 0 1 0 5.6 0a2.8 2.8 0 1 0 -5.6 0ZM414.3 869.1a2.8 2.8 0 1 0 5.6 0a2.8 2.8 0 1 0 -5.6 0ZM414.1 867.9a2.8 2.8 0 1 0 5.6 0a2.8 2.8 0 1 0 -5.6 0ZM415.3 855.3a2.8 2.8 0 1 0 5.6 0a2.8 2.8 0 1 0 -5.6 0ZM416.1 864.6a2.8 2.8 0 1 0 5.6 0a2.8 2.8 0 1 0 -5.6 0ZM416.9 841a2.8 2.8 0 1 0 5.6 0a2.8 2.8 0 1 0 -5.6 0ZM417.6 841.1a2.8 2.8 0 1 0 5.6 0a2.8 2.8 0 1 0 -5.6 0ZM417.7 865.6a2.8 2.8 0 1 0 5.6 0a2.8 2.8 0 1 0 -5.6 0ZM419.3 871.8a2.8 2.8 0 1 0 5.6 0a2.8 2.8 0 1 0 -5.6 0ZM419.8 853.3a2.8 2.8 0 1 0 5.6 0a2.8 2.8 0 1 0 -5.6 0ZM421.1 843.5a2.8 2.8 0 1 0 5.6 0a2.8 2.8 0 1 0 -5.6 0ZM421.6 850.4a2.8 2.8 0 1 0 5.6 0a2.8 2.8 0 1 0 -5.6 0ZM422 846.2a2.8 2.8 0 1 0 5.6 0a2.8 2.8 0 1 0 -5.6 0ZM422 843.6a2.8 2.8 0 1 0 5.6 0a2.8 2.8 0 1 0 -5.6 0ZM422.7 854.1a2.8 2.8 0 1 0 5.6 0a2.8 2.8 0 1 0 -5.6 0ZM423.1 874.2a2.8 2.8 0 1 0 5.6 0a2.8 2.8 0 1 0 -5.6 0ZM424.4 862.9a2.8 2.8 0 1 0 5.6 0a2.8 2.8 0 1 0 -5.6 0ZM424.8 875.6a2.8 2.8 0 1 0 5.6 0a2.8 2.8 0 1 0 -5.6 0ZM426.4 847.4a2.8 2.8 0 1 0 5.6 0a2.8 2.8 0 1 0 -5.6 0ZM426.9 843.7a2.8 2.8 0 1 0 5.6 0a2.8 2.8 0 1 0 -5.6 0ZM427.8 845.6a2.8 2.8 0 1 0 5.6 0a2.8 2.8 0 1 0 -5.6 0ZM428.7 851.3a2.8 2.8 0 1 0 5.6 0a2.8 2.8 0 1 0 -5.6 0ZM429.2 848.2a2.8 2.8 0 1 0 5.6 0a2.8 2.8 0 1 0 -5.6 0ZM430.4 865.6a2.8 2.8 0 1 0 5.6 0a2.8 2.8 0 1 0 -5.6 0ZM429.9 843.8a2.8 2.8 0 1 0 5.6 0a2.8 2.8 0 1 0 -5.6 0ZM431.3 876.3a2.8 2.8 0 1 0 5.6 0a2.8 2.8 0 1 0 -5.6 0ZM431.7 878.3a2.8 2.8 0 1 0 5.6 0a2.8 2.8 0 1 0 -5.6 0ZM433.1 868.3a2.8 2.8 0 1 0 5.6 0a2.8 2.8 0 1 0 -5.6 0ZM433.2 841.2a2.8 2.8 0 1 0 5.6 0a2.8 2.8 0 1 0 -5.6 0ZM434.1 856.1a2.8 2.8 0 1 0 5.6 0a2.8 2.8 0 1 0 -5.6 0ZM435.6 840.9a2.8 2.8 0 1 0 5.6 0a2.8 2.8 0 1 0 -5.6 0ZM435.6 854.8a2.8 2.8 0 1 0 5.6 0a2.8 2.8 0 1 0 -5.6 0ZM435.8 845.2a2.8 2.8 0 1 0 5.6 0a2.8 2.8 0 1 0 -5.6 0ZM435.8 850.7a2.8 2.8 0 1 0 5.6 0a2.8 2.8 0 1 0 -5.6 0ZM437 850.9a2.8 2.8 0 1 0 5.6 0a2.8 2.8 0 1 0 -5.6 0ZM436.7 839.8a2.8 2.8 0 1 0 5.6 0a2.8 2.8 0 1 0 -5.6 0ZM438.2 842.5a2.8 2.8 0 1 0 5.6 0a2.8 2.8 0 1 0 -5.6 0ZM438.8 855.9a2.8 2.8 0 1 0 5.6 0a2.8 2.8 0 1 0 -5.6 0ZM438.8 846.7a2.8 2.8 0 1 0 5.6 0a2.8 2.8 0 1 0 -5.6 0ZM440.3 876.4a2.8 2.8 0 1 0 5.6 0a2.8 2.8 0 1 0 -5.6 0ZM440.7 843.4a2.8 2.8 0 1 0 5.6 0a2.8 2.8 0 1 0 -5.6 0ZM442.3 854.4a2.8 2.8 0 1 0 5.6 0a2.8 2.8 0 1 0 -5.6 0ZM443.4 861.2a2.8 2.8 0 1 0 5.6 0a2.8 2.8 0 1 0 -5.6 0ZM443 876.5a2.8 2.8 0 1 0 5.6 0a2.8 2.8 0 1 0 -5.6 0ZM443.9 871.9a2.8 2.8 0 1 0 5.6 0a2.8 2.8 0 1 0 -5.6 0ZM444.8 848.2a2.8 2.8 0 1 0 5.6 0a2.8 2.8 0 1 0 -5.6 0ZM445.5 869.2a2.8 2.8 0 1 0 5.6 0a2.8 2.8 0 1 0 -5.6 0ZM445.8 842.8a2.8 2.8 0 1 0 5.6 0a2.8 2.8 0 1 0 -5.6 0ZM445.8 846.3a2.8 2.8 0 1 0 5.6 0a2.8 2.8 0 1 0 -5.6 0ZM446.9 860a2.8 2.8 0 1 0 5.6 0a2.8 2.8 0 1 0 -5.6 0ZM447.7 866.3a2.8 2.8 0 1 0 5.6 0a2.8 2.8 0 1 0 -5.6 0ZM448 845.6a2.8 2.8 0 1 0 5.6 0a2.8 2.8 0 1 0 -5.6 0ZM449.1 843.2a2.8 2.8 0 1 0 5.6 0a2.8 2.8 0 1 0 -5.6 0ZM449.5 849.7a2.8 2.8 0 1 0 5.6 0a2.8 2.8 0 1 0 -5.6 0ZM450.4 877a2.8 2.8 0 1 0 5.6 0a2.8 2.8 0 1 0 -5.6 0ZM451.1 861.1a2.8 2.8 0 1 0 5.6 0a2.8 2.8 0 1 0 -5.6 0ZM452.7 865.1a2.8 2.8 0 1 0 5.6 0a2.8 2.8 0 1 0 -5.6 0ZM453 867.6a2.8 2.8 0 1 0 5.6 0a2.8 2.8 0 1 0 -5.6 0ZM453.8 853.7a2.8 2.8 0 1 0 5.6 0a2.8 2.8 0 1 0 -5.6 0ZM455 846.2a2.8 2.8 0 1 0 5.6 0a2.8 2.8 0 1 0 -5.6 0ZM455 866.4a2.8 2.8 0 1 0 5.6 0a2.8 2.8 0 1 0 -5.6 0ZM456.3 870.8a2.8 2.8 0 1 0 5.6 0a2.8 2.8 0 1 0 -5.6 0ZM455.8 842.6a2.8 2.8 0 1 0 5.6 0a2.8 2.8 0 1 0 -5.6 0ZM457.6 851.9a2.8 2.8 0 1 0 5.6 0a2.8 2.8 0 1 0 -5.6 0ZM457.3 881a2.8 2.8 0 1 0 5.6 0a2.8 2.8 0 1 0 -5.6 0ZM458.1 854.5a2.8 2.8 0 1 0 5.6 0a2.8 2.8 0 1 0 -5.6 0ZM457.7 850.5a2.8 2.8 0 1 0 5.6 0a2.8 2.8 0 1 0 -5.6 0ZM459.4 873.8a2.8 2.8 0 1 0 5.6 0a2.8 2.8 0 1 0 -5.6 0ZM459.9 858.4a2.8 2.8 0 1 0 5.6 0a2.8 2.8 0 1 0 -5.6 0ZM460.1 867.3a2.8 2.8 0 1 0 5.6 0a2.8 2.8 0 1 0 -5.6 0ZM460.8 871.7a2.8 2.8 0 1 0 5.6 0a2.8 2.8 0 1 0 -5.6 0ZM462.2 878.4a2.8 2.8 0 1 0 5.6 0a2.8 2.8 0 1 0 -5.6 0ZM462.1 854a2.8 2.8 0 1 0 5.6 0a2.8 2.8 0 1 0 -5.6 0ZM463.2 879.5a2.8 2.8 0 1 0 5.6 0a2.8 2.8 0 1 0 -5.6 0ZM463.8 861.3a2.8 2.8 0 1 0 5.6 0a2.8 2.8 0 1 0 -5.6 0ZM464.8 853.2a2.8 2.8 0 1 0 5.6 0a2.8 2.8 0 1 0 -5.6 0ZM466.3 841.1a2.8 2.8 0 1 0 5.6 0a2.8 2.8 0 1 0 -5.6 0ZM467.1 876a2.8 2.8 0 1 0 5.6 0a2.8 2.8 0 1 0 -5.6 0ZM467.9 848.3a2.8 2.8 0 1 0 5.6 0a2.8 2.8 0 1 0 -5.6 0ZM468.1 859.9a2.8 2.8 0 1 0 5.6 0a2.8 2.8 0 1 0 -5.6 0ZM469.1 847.8a2.8 2.8 0 1 0 5.6 0a2.8 2.8 0 1 0 -5.6 0ZM470.5 881.4a2.8 2.8 0 1 0 5.6 0a2.8 2.8 0 1 0 -5.6 0ZM470.3 874.4a2.8 2.8 0 1 0 5.6 0a2.8 2.8 0 1 0 -5.6 0ZM471.5 846.4a2.8 2.8 0 1 0 5.6 0a2.8 2.8 0 1 0 -5.6 0ZM471.9 845.1a2.8 2.8 0 1 0 5.6 0a2.8 2.8 0 1 0 -5.6 0ZM473.6 868.4a2.8 2.8 0 1 0 5.6 0a2.8 2.8 0 1 0 -5.6 0ZM473.5 849.3a2.8 2.8 0 1 0 5.6 0a2.8 2.8 0 1 0 -5.6 0ZM474.6 867a2.8 2.8 0 1 0 5.6 0a2.8 2.8 0 1 0 -5.6 0ZM475.1 872.1a2.8 2.8 0 1 0 5.6 0a2.8 2.8 0 1 0 -5.6 0ZM476.3 859.5a2.8 2.8 0 1 0 5.6 0a2.8 2.8 0 1 0 -5.6 0ZM476.1 848.6a2.8 2.8 0 1 0 5.6 0a2.8 2.8 0 1 0 -5.6 0ZM477 845.1a2.8 2.8 0 1 0 5.6 0a2.8 2.8 0 1 0 -5.6 0ZM478.4 857.5a2.8 2.8 0 1 0 5.6 0a2.8 2.8 0 1 0 -5.6 0ZM479.5 880.3a2.8 2.8 0 1 0 5.6 0a2.8 2.8 0 1 0 -5.6 0ZM480.4 866.1a2.8 2.8 0 1 0 5.6 0a2.8 2.8 0 1 0 -5.6 0ZM481.1 870.8a2.8 2.8 0 1 0 5.6 0a2.8 2.8 0 1 0 -5.6 0ZM482.2 865.2a2.8 2.8 0 1 0 5.6 0a2.8 2.8 0 1 0 -5.6 0ZM482.8 844.4a2.8 2.8 0 1 0 5.6 0a2.8 2.8 0 1 0 -5.6 0ZM484.5 860.8a2.8 2.8 0 1 0 5.6 0a2.8 2.8 0 1 0 -5.6 0ZM485.6 850.5a2.8 2.8 0 1 0 5.6 0a2.8 2.8 0 1 0 -5.6 0ZM485.8 866.6a2.8 2.8 0 1 0 5.6 0a2.8 2.8 0 1 0 -5.6 0ZM487.7 864.4a2.8 2.8 0 1 0 5.6 0a2.8 2.8 0 1 0 -5.6 0ZM488.5 865.2a2.8 2.8 0 1 0 5.6 0a2.8 2.8 0 1 0 -5.6 0ZM488.9 862.1a2.8 2.8 0 1 0 5.6 0a2.8 2.8 0 1 0 -5.6 0ZM489.9 874.8a2.8 2.8 0 1 0 5.6 0a2.8 2.8 0 1 0 -5.6 0ZM491.1 859.7a2.8 2.8 0 1 0 5.6 0a2.8 2.8 0 1 0 -5.6 0ZM491.9 854.4a2.8 2.8 0 1 0 5.6 0a2.8 2.8 0 1 0 -5.6 0ZM492.6 864.2a2.8 2.8 0 1 0 5.6 0a2.8 2.8 0 1 0 -5.6 0ZM493.1 862.7a2.8 2.8 0 1 0 5.6 0a2.8 2.8 0 1 0 -5.6 0ZM494.3 865.8a2.8 2.8 0 1 0 5.6 0a2.8 2.8 0 1 0 -5.6 0ZM494.1 866.9a2.8 2.8 0 1 0 5.6 0a2.8 2.8 0 1 0 -5.6 0ZM495 848.5a2.8 2.8 0 1 0 5.6 0a2.8 2.8 0 1 0 -5.6 0ZM496.6 861.4a2.8 2.8 0 1 0 5.6 0a2.8 2.8 0 1 0 -5.6 0ZM497.5 860.9a2.8 2.8 0 1 0 5.6 0a2.8 2.8 0 1 0 -5.6 0ZM496.8 845.4a2.8 2.8 0 1 0 5.6 0a2.8 2.8 0 1 0 -5.6 0ZM498.6 870.4a2.8 2.8 0 1 0 5.6 0a2.8 2.8 0 1 0 -5.6 0ZM499.1 852.6a2.8 2.8 0 1 0 5.6 0a2.8 2.8 0 1 0 -5.6 0ZM500 874.5a2.8 2.8 0 1 0 5.6 0a2.8 2.8 0 1 0 -5.6 0ZM501.7 860.7a2.8 2.8 0 1 0 5.6 0a2.8 2.8 0 1 0 -5.6 0ZM501.8 843a2.8 2.8 0 1 0 5.6 0a2.8 2.8 0 1 0 -5.6 0ZM502.3 859.2a2.8 2.8 0 1 0 5.6 0a2.8 2.8 0 1 0 -5.6 0ZM503.3 846.7a2.8 2.8 0 1 0 5.6 0a2.8 2.8 0 1 0 -5.6 0ZM503.4 863a2.8 2.8 0 1 0 5.6 0a2.8 2.8 0 1 0 -5.6 0ZM504.2 844.1a2.8 2.8 0 1 0 5.6 0a2.8 2.8 0 1 0 -5.6 0ZM505 877.8a2.8 2.8 0 1 0 5.6 0a2.8 2.8 0 1 0 -5.6 0ZM506.6 862.9a2.8 2.8 0 1 0 5.6 0a2.8 2.8 0 1 0 -5.6 0ZM507.5 865.1a2.8 2.8 0 1 0 5.6 0a2.8 2.8 0 1 0 -5.6 0ZM506.8 855.6a2.8 2.8 0 1 0 5.6 0a2.8 2.8 0 1 0 -5.6 0ZM507.8 844.6a2.8 2.8 0 1 0 5.6 0a2.8 2.8 0 1 0 -5.6 0ZM508.3 844.5a2.8 2.8 0 1 0 5.6 0a2.8 2.8 0 1 0 -5.6 0ZM509.4 867.9a2.8 2.8 0 1 0 5.6 0a2.8 2.8 0 1 0 -5.6 0ZM509.5 870.8a2.8 2.8 0 1 0 5.6 0a2.8 2.8 0 1 0 -5.6 0ZM510.7 876.5a2.8 2.8 0 1 0 5.6 0a2.8 2.8 0 1 0 -5.6 0ZM510.8 878.8a2.8 2.8 0 1 0 5.6 0a2.8 2.8 0 1 0 -5.6 0ZM511.9 842.1a2.8 2.8 0 1 0 5.6 0a2.8 2.8 0 1 0 -5.6 0ZM512.2 851.3a2.8 2.8 0 1 0 5.6 0a2.8 2.8 0 1 0 -5.6 0ZM512.8 867.6a2.8 2.8 0 1 0 5.6 0a2.8 2.8 0 1 0 -5.6 0ZM514.1 858.7a2.8 2.8 0 1 0 5.6 0a2.8 2.8 0 1 0 -5.6 0ZM515.1 861.3a2.8 2.8 0 1 0 5.6 0a2.8 2.8 0 1 0 -5.6 0ZM515.2 865.2a2.8 2.8 0 1 0 5.6 0a2.8 2.8 0 1 0 -5.6 0ZM515.8 878.4a2.8 2.8 0 1 0 5.6 0a2.8 2.8 0 1 0 -5.6 0ZM517 867.5a2.8 2.8 0 1 0 5.6 0a2.8 2.8 0 1 0 -5.6 0ZM518.1 856.9a2.8 2.8 0 1 0 5.6 0a2.8 2.8 0 1 0 -5.6 0ZM518.6 868.3a2.8 2.8 0 1 0 5.6 0a2.8 2.8 0 1 0 -5.6 0ZM519.2 849.7a2.8 2.8 0 1 0 5.6 0a2.8 2.8 0 1 0 -5.6 0ZM520.3 870.7a2.8 2.8 0 1 0 5.6 0a2.8 2.8 0 1 0 -5.6 0ZM521.5 850.7a2.8 2.8 0 1 0 5.6 0a2.8 2.8 0 1 0 -5.6 0ZM520.8 858a2.8 2.8 0 1 0 5.6 0a2.8 2.8 0 1 0 -5.6 0ZM522.4 847a2.8 2.8 0 1 0 5.6 0a2.8 2.8 0 1 0 -5.6 0ZM522.8 847.8a2.8 2.8 0 1 0 5.6 0a2.8 2.8 0 1 0 -5.6 0ZM523.7 855.8a2.8 2.8 0 1 0 5.6 0a2.8 2.8 0 1 0 -5.6 0ZM524.6 851.8a2.8 2.8 0 1 0 5.6 0a2.8 2.8 0 1 0 -5.6 0ZM525.5 850.8a2.8 2.8 0 1 0 5.6 0a2.8 2.8 0 1 0 -5.6 0ZM525.5 841a2.8 2.8 0 1 0 5.6 0a2.8 2.8 0 1 0 -5.6 0ZM526 841.5a2.8 2.8 0 1 0 5.6 0a2.8 2.8 0 1 0 -5.6 0ZM526.1 855.2a2.8 2.8 0 1 0 5.6 0a2.8 2.8 0 1 0 -5.6 0ZM526.9 842.5a2.8 2.8 0 1 0 5.6 0a2.8 2.8 0 1 0 -5.6 0ZM528.2 855.2a2.8 2.8 0 1 0 5.6 0a2.8 2.8 0 1 0 -5.6 0ZM529.7 849.4a2.8 2.8 0 1 0 5.6 0a2.8 2.8 0 1 0 -5.6 0ZM529.2 866.5a2.8 2.8 0 1 0 5.6 0a2.8 2.8 0 1 0 -5.6 0ZM530.5 853.8a2.8 2.8 0 1 0 5.6 0a2.8 2.8 0 1 0 -5.6 0ZM530.3 855.5a2.8 2.8 0 1 0 5.6 0a2.8 2.8 0 1 0 -5.6 0ZM531.3 865a2.8 2.8 0 1 0 5.6 0a2.8 2.8 0 1 0 -5.6 0ZM532.5 844a2.8 2.8 0 1 0 5.6 0a2.8 2.8 0 1 0 -5.6 0ZM532.6 855.3a2.8 2.8 0 1 0 5.6 0a2.8 2.8 0 1 0 -5.6 0ZM533.1 878.9a2.8 2.8 0 1 0 5.6 0a2.8 2.8 0 1 0 -5.6 0ZM534.6 871a2.8 2.8 0 1 0 5.6 0a2.8 2.8 0 1 0 -5.6 0ZM535.1 872.4a2.8 2.8 0 1 0 5.6 0a2.8 2.8 0 1 0 -5.6 0ZM535.7 882.2a2.8 2.8 0 1 0 5.6 0a2.8 2.8 0 1 0 -5.6 0ZM536 856.9a2.8 2.8 0 1 0 5.6 0a2.8 2.8 0 1 0 -5.6 0ZM536 858.8a2.8 2.8 0 1 0 5.6 0a2.8 2.8 0 1 0 -5.6 0ZM536.9 847.8a2.8 2.8 0 1 0 5.6 0a2.8 2.8 0 1 0 -5.6 0ZM538.1 846.9a2.8 2.8 0 1 0 5.6 0a2.8 2.8 0 1 0 -5.6 0ZM538.9 878a2.8 2.8 0 1 0 5.6 0a2.8 2.8 0 1 0 -5.6 0ZM540.7 875a2.8 2.8 0 1 0 5.6 0a2.8 2.8 0 1 0 -5.6 0ZM539.8 863.8a2.8 2.8 0 1 0 5.6 0a2.8 2.8 0 1 0 -5.6 0ZM541.6 879.8a2.8 2.8 0 1 0 5.6 0a2.8 2.8 0 1 0 -5.6 0ZM540.9 843.9a2.8 2.8 0 1 0 5.6 0a2.8 2.8 0 1 0 -5.6 0ZM542.5 849.3a2.8 2.8 0 1 0 5.6 0a2.8 2.8 0 1 0 -5.6 0ZM542.9 871.7a2.8 2.8 0 1 0 5.6 0a2.8 2.8 0 1 0 -5.6 0ZM543.7 858.9a2.8 2.8 0 1 0 5.6 0a2.8 2.8 0 1 0 -5.6 0ZM543.8 842.7a2.8 2.8 0 1 0 5.6 0a2.8 2.8 0 1 0 -5.6 0ZM545.1 851.5a2.8 2.8 0 1 0 5.6 0a2.8 2.8 0 1 0 -5.6 0ZM546.7 860.4a2.8 2.8 0 1 0 5.6 0a2.8 2.8 0 1 0 -5.6 0ZM546.3 845.2a2.8 2.8 0 1 0 5.6 0a2.8 2.8 0 1 0 -5.6 0ZM547.4 857.9a2.8 2.8 0 1 0 5.6 0a2.8 2.8 0 1 0 -5.6 0ZM547.2 840.6a2.8 2.8 0 1 0 5.6 0a2.8 2.8 0 1 0 -5.6 0ZM548.5 836.7a2.8 2.8 0 1 0 5.6 0a2.8 2.8 0 1 0 -5.6 0ZM549.3 854.4a2.8 2.8 0 1 0 5.6 0a2.8 2.8 0 1 0 -5.6 0ZM548.8 871.2a2.8 2.8 0 1 0 5.6 0a2.8 2.8 0 1 0 -5.6 0ZM550.1 834.7a2.8 2.8 0 1 0 5.6 0a2.8 2.8 0 1 0 -5.6 0ZM549.7 845.7a2.8 2.8 0 1 0 5.6 0a2.8 2.8 0 1 0 -5.6 0ZM551.4 850a2.8 2.8 0 1 0 5.6 0a2.8 2.8 0 1 0 -5.6 0ZM551.1 879.7a2.8 2.8 0 1 0 5.6 0a2.8 2.8 0 1 0 -5.6 0ZM552.6 865.6a2.8 2.8 0 1 0 5.6 0a2.8 2.8 0 1 0 -5.6 0ZM552.7 881.5a2.8 2.8 0 1 0 5.6 0a2.8 2.8 0 1 0 -5.6 0ZM553.6 838.6a2.8 2.8 0 1 0 5.6 0a2.8 2.8 0 1 0 -5.6 0ZM553.1 835.8a2.8 2.8 0 1 0 5.6 0a2.8 2.8 0 1 0 -5.6 0ZM554.1 856a2.8 2.8 0 1 0 5.6 0a2.8 2.8 0 1 0 -5.6 0ZM555.3 845.8a2.8 2.8 0 1 0 5.6 0a2.8 2.8 0 1 0 -5.6 0ZM556.1 841a2.8 2.8 0 1 0 5.6 0a2.8 2.8 0 1 0 -5.6 0ZM556.9 860.1a2.8 2.8 0 1 0 5.6 0a2.8 2.8 0 1 0 -5.6 0ZM556.8 854.6a2.8 2.8 0 1 0 5.6 0a2.8 2.8 0 1 0 -5.6 0ZM557.8 850.5a2.8 2.8 0 1 0 5.6 0a2.8 2.8 0 1 0 -5.6 0ZM558 883.5a2.8 2.8 0 1 0 5.6 0a2.8 2.8 0 1 0 -5.6 0ZM559.4 872.7a2.8 2.8 0 1 0 5.6 0a2.8 2.8 0 1 0 -5.6 0ZM559.5 847.6a2.8 2.8 0 1 0 5.6 0a2.8 2.8 0 1 0 -5.6 0ZM560.3 852.7a2.8 2.8 0 1 0 5.6 0a2.8 2.8 0 1 0 -5.6 0ZM561.6 847.7a2.8 2.8 0 1 0 5.6 0a2.8 2.8 0 1 0 -5.6 0ZM561.6 854.9a2.8 2.8 0 1 0 5.6 0a2.8 2.8 0 1 0 -5.6 0ZM561.8 843.5a2.8 2.8 0 1 0 5.6 0a2.8 2.8 0 1 0 -5.6 0ZM562.3 870.3a2.8 2.8 0 1 0 5.6 0a2.8 2.8 0 1 0 -5.6 0ZM563.5 841.3a2.8 2.8 0 1 0 5.6 0a2.8 2.8 0 1 0 -5.6 0ZM563.6 857.6a2.8 2.8 0 1 0 5.6 0a2.8 2.8 0 1 0 -5.6 0ZM563.8 862.3a2.8 2.8 0 1 0 5.6 0a2.8 2.8 0 1 0 -5.6 0ZM564.3 869.4a2.8 2.8 0 1 0 5.6 0a2.8 2.8 0 1 0 -5.6 0ZM565.6 846.2a2.8 2.8 0 1 0 5.6 0a2.8 2.8 0 1 0 -5.6 0ZM566.4 842.1a2.8 2.8 0 1 0 5.6 0a2.8 2.8 0 1 0 -5.6 0ZM565.8 842.7a2.8 2.8 0 1 0 5.6 0a2.8 2.8 0 1 0 -5.6 0ZM567.6 865.9a2.8 2.8 0 1 0 5.6 0a2.8 2.8 0 1 0 -5.6 0ZM566.8 869.8a2.8 2.8 0 1 0 5.6 0a2.8 2.8 0 1 0 -5.6 0ZM567.8 876.9a2.8 2.8 0 1 0 5.6 0a2.8 2.8 0 1 0 -5.6 0ZM569 848.9a2.8 2.8 0 1 0 5.6 0a2.8 2.8 0 1 0 -5.6 0ZM570.2 872.4a2.8 2.8 0 1 0 5.6 0a2.8 2.8 0 1 0 -5.6 0ZM570.2 880.6a2.8 2.8 0 1 0 5.6 0a2.8 2.8 0 1 0 -5.6 0ZM571 848.2a2.8 2.8 0 1 0 5.6 0a2.8 2.8 0 1 0 -5.6 0ZM570.9 883.3a2.8 2.8 0 1 0 5.6 0a2.8 2.8 0 1 0 -5.6 0ZM571.8 853.4a2.8 2.8 0 1 0 5.6 0a2.8 2.8 0 1 0 -5.6 0ZM572.3 856.4a2.8 2.8 0 1 0 5.6 0a2.8 2.8 0 1 0 -5.6 0ZM572.8 846.7a2.8 2.8 0 1 0 5.6 0a2.8 2.8 0 1 0 -5.6 0ZM574.1 868.7a2.8 2.8 0 1 0 5.6 0a2.8 2.8 0 1 0 -5.6 0ZM574.6 862.8a2.8 2.8 0 1 0 5.6 0a2.8 2.8 0 1 0 -5.6 0ZM575.2 849.2a2.8 2.8 0 1 0 5.6 0a2.8 2.8 0 1 0 -5.6 0ZM575.6 860.8a2.8 2.8 0 1 0 5.6 0a2.8 2.8 0 1 0 -5.6 0ZM576.1 867.1a2.8 2.8 0 1 0 5.6 0a2.8 2.8 0 1 0 -5.6 0ZM577 876.9a2.8 2.8 0 1 0 5.6 0a2.8 2.8 0 1 0 -5.6 0ZM578.1 847.9a2.8 2.8 0 1 0 5.6 0a2.8 2.8 0 1 0 -5.6 0ZM578 879.9a2.8 2.8 0 1 0 5.6 0a2.8 2.8 0 1 0 -5.6 0ZM579.7 865.4a2.8 2.8 0 1 0 5.6 0a2.8 2.8 0 1 0 -5.6 0ZM580 872.7a2.8 2.8 0 1 0 5.6 0a2.8 2.8 0 1 0 -5.6 0ZM580.3 843.1a2.8 2.8 0 1 0 5.6 0a2.8 2.8 0 1 0 -5.6 0ZM580.7 862.6a2.8 2.8 0 1 0 5.6 0a2.8 2.8 0 1 0 -5.6 0ZM582.3 853.6a2.8 2.8 0 1 0 5.6 0a2.8 2.8 0 1 0 -5.6 0ZM583.1 849.1a2.8 2.8 0 1 0 5.6 0a2.8 2.8 0 1 0 -5.6 0ZM583.8 844.5a2.8 2.8 0 1 0 5.6 0a2.8 2.8 0 1 0 -5.6 0ZM584.1 869.9a2.8 2.8 0 1 0 5.6 0a2.8 2.8 0 1 0 -5.6 0ZM585 844.1a2.8 2.8 0 1 0 5.6 0a2.8 2.8 0 1 0 -5.6 0ZM586.5 882.4a2.8 2.8 0 1 0 5.6 0a2.8 2.8 0 1 0 -5.6 0ZM586.2 879.7a2.8 2.8 0 1 0 5.6 0a2.8 2.8 0 1 0 -5.6 0ZM586.9 856.2a2.8 2.8 0 1 0 5.6 0a2.8 2.8 0 1 0 -5.6 0ZM587.3 844.3a2.8 2.8 0 1 0 5.6 0a2.8 2.8 0 1 0 -5.6 0ZM588.2 846.2a2.8 2.8 0 1 0 5.6 0a2.8 2.8 0 1 0 -5.6 0ZM588.6 881.6a2.8 2.8 0 1 0 5.6 0a2.8 2.8 0 1 0 -5.6 0ZM589.5 846.5a2.8 2.8 0 1 0 5.6 0a2.8 2.8 0 1 0 -5.6 0ZM589.8 861.9a2.8 2.8 0 1 0 5.6 0a2.8 2.8 0 1 0 -5.6 0ZM590.2 884.3a2.8 2.8 0 1 0 5.6 0a2.8 2.8 0 1 0 -5.6 0ZM591.3 852a2.8 2.8 0 1 0 5.6 0a2.8 2.8 0 1 0 -5.6 0ZM591.9 857.8a2.8 2.8 0 1 0 5.6 0a2.8 2.8 0 1 0 -5.6 0ZM593.1 880.3a2.8 2.8 0 1 0 5.6 0a2.8 2.8 0 1 0 -5.6 0ZM594 880.2a2.8 2.8 0 1 0 5.6 0a2.8 2.8 0 1 0 -5.6 0ZM594.8 861.8a2.8 2.8 0 1 0 5.6 0a2.8 2.8 0 1 0 -5.6 0ZM596.2 880.9a2.8 2.8 0 1 0 5.6 0a2.8 2.8 0 1 0 -5.6 0ZM596.6 858.3a2.8 2.8 0 1 0 5.6 0a2.8 2.8 0 1 0 -5.6 0ZM597 860.5a2.8 2.8 0 1 0 5.6 0a2.8 2.8 0 1 0 -5.6 0ZM598.2 851.7a2.8 2.8 0 1 0 5.6 0a2.8 2.8 0 1 0 -5.6 0ZM598.8 864.7a2.8 2.8 0 1 0 5.6 0a2.8 2.8 0 1 0 -5.6 0ZM600.4 868.4a2.8 2.8 0 1 0 5.6 0a2.8 2.8 0 1 0 -5.6 0ZM600.7 847.3a2.8 2.8 0 1 0 5.6 0a2.8 2.8 0 1 0 -5.6 0ZM600.8 848.4a2.8 2.8 0 1 0 5.6 0a2.8 2.8 0 1 0 -5.6 0ZM601.3 857.6a2.8 2.8 0 1 0 5.6 0a2.8 2.8 0 1 0 -5.6 0ZM602.4 847.9a2.8 2.8 0 1 0 5.6 0a2.8 2.8 0 1 0 -5.6 0ZM603 862.5a2.8 2.8 0 1 0 5.6 0a2.8 2.8 0 1 0 -5.6 0ZM602.8 853.6a2.8 2.8 0 1 0 5.6 0a2.8 2.8 0 1 0 -5.6 0ZM604.5 846.2a2.8 2.8 0 1 0 5.6 0a2.8 2.8 0 1 0 -5.6 0ZM605.3 862.5a2.8 2.8 0 1 0 5.6 0a2.8 2.8 0 1 0 -5.6 0ZM606.6 875.9a2.8 2.8 0 1 0 5.6 0a2.8 2.8 0 1 0 -5.6 0ZM607.6 851.4a2.8 2.8 0 1 0 5.6 0a2.8 2.8 0 1 0 -5.6 0ZM607.1 845.3a2.8 2.8 0 1 0 5.6 0a2.8 2.8 0 1 0 -5.6 0ZM607.8 881a2.8 2.8 0 1 0 5.6 0a2.8 2.8 0 1 0 -5.6 0ZM609.4 869.3a2.8 2.8 0 1 0 5.6 0a2.8 2.8 0 1 0 -5.6 0ZM610 878.9a2.8 2.8 0 1 0 5.6 0a2.8 2.8 0 1 0 -5.6 0ZM610.4 874a2.8 2.8 0 1 0 5.6 0a2.8 2.8 0 1 0 -5.6 0ZM611.4 873a2.8 2.8 0 1 0 5.6 0a2.8 2.8 0 1 0 -5.6 0ZM612.2 867.3a2.8 2.8 0 1 0 5.6 0a2.8 2.8 0 1 0 -5.6 0ZM612.3 866.3a2.8 2.8 0 1 0 5.6 0a2.8 2.8 0 1 0 -5.6 0ZM613.2 844a2.8 2.8 0 1 0 5.6 0a2.8 2.8 0 1 0 -5.6 0ZM614.5 870.2a2.8 2.8 0 1 0 5.6 0a2.8 2.8 0 1 0 -5.6 0ZM613.7 872.6a2.8 2.8 0 1 0 5.6 0a2.8 2.8 0 1 0 -5.6 0ZM614.8 855.8a2.8 2.8 0 1 0 5.6 0a2.8 2.8 0 1 0 -5.6 0ZM616.6 879.8a2.8 2.8 0 1 0 5.6 0a2.8 2.8 0 1 0 -5.6 0ZM616.5 847.3a2.8 2.8 0 1 0 5.6 0a2.8 2.8 0 1 0 -5.6 0ZM617.3 852.6a2.8 2.8 0 1 0 5.6 0a2.8 2.8 0 1 0 -5.6 0ZM617.7 849a2.8 2.8 0 1 0 5.6 0a2.8 2.8 0 1 0 -5.6 0ZM618.3 863.9a2.8 2.8 0 1 0 5.6 0a2.8 2.8 0 1 0 -5.6 0ZM619.1 857.6a2.8 2.8 0 1 0 5.6 0a2.8 2.8 0 1 0 -5.6 0ZM620.1 867.6a2.8 2.8 0 1 0 5.6 0a2.8 2.8 0 1 0 -5.6 0ZM621.1 868.7a2.8 2.8 0 1 0 5.6 0a2.8 2.8 0 1 0 -5.6 0ZM622 845.2a2.8 2.8 0 1 0 5.6 0a2.8 2.8 0 1 0 -5.6 0ZM622.8 847.2a2.8 2.8 0 1 0 5.6 0a2.8 2.8 0 1 0 -5.6 0ZM623.8 869.1a2.8 2.8 0 1 0 5.6 0a2.8 2.8 0 1 0 -5.6 0ZM624.1 856.8a2.8 2.8 0 1 0 5.6 0a2.8 2.8 0 1 0 -5.6 0ZM625.2 857.7a2.8 2.8 0 1 0 5.6 0a2.8 2.8 0 1 0 -5.6 0ZM626.5 870.4a2.8 2.8 0 1 0 5.6 0a2.8 2.8 0 1 0 -5.6 0ZM626.5 863.3a2.8 2.8 0 1 0 5.6 0a2.8 2.8 0 1 0 -5.6 0ZM627.6 867a2.8 2.8 0 1 0 5.6 0a2.8 2.8 0 1 0 -5.6 0ZM628.6 846.6a2.8 2.8 0 1 0 5.6 0a2.8 2.8 0 1 0 -5.6 0ZM628.8 850.1a2.8 2.8 0 1 0 5.6 0a2.8 2.8 0 1 0 -5.6 0ZM630.1 848.2a2.8 2.8 0 1 0 5.6 0a2.8 2.8 0 1 0 -5.6 0ZM630.7 850.9a2.8 2.8 0 1 0 5.6 0a2.8 2.8 0 1 0 -5.6 0ZM632.4 853.1a2.8 2.8 0 1 0 5.6 0a2.8 2.8 0 1 0 -5.6 0ZM633.7 850a2.8 2.8 0 1 0 5.6 0a2.8 2.8 0 1 0 -5.6 0ZM633.9 865.4a2.8 2.8 0 1 0 5.6 0a2.8 2.8 0 1 0 -5.6 0ZM635.1 856.2a2.8 2.8 0 1 0 5.6 0a2.8 2.8 0 1 0 -5.6 0ZM636.5 855.6a2.8 2.8 0 1 0 5.6 0a2.8 2.8 0 1 0 -5.6 0ZM636.6 864.5a2.8 2.8 0 1 0 5.6 0a2.8 2.8 0 1 0 -5.6 0ZM637.6 867a2.8 2.8 0 1 0 5.6 0a2.8 2.8 0 1 0 -5.6 0ZM638.1 867.9a2.8 2.8 0 1 0 5.6 0a2.8 2.8 0 1 0 -5.6 0ZM639.6 861.5a2.8 2.8 0 1 0 5.6 0a2.8 2.8 0 1 0 -5.6 0ZM639.9 852.2a2.8 2.8 0 1 0 5.6 0a2.8 2.8 0 1 0 -5.6 0ZM641.4 844.3a2.8 2.8 0 1 0 5.6 0a2.8 2.8 0 1 0 -5.6 0ZM642.2 841.1a2.8 2.8 0 1 0 5.6 0a2.8 2.8 0 1 0 -5.6 0ZM642.8 845.5a2.8 2.8 0 1 0 5.6 0a2.8 2.8 0 1 0 -5.6 0ZM643.8 844a2.8 2.8 0 1 0 5.6 0a2.8 2.8 0 1 0 -5.6 0ZM644.8 832.4a2.8 2.8 0 1 0 5.6 0a2.8 2.8 0 1 0 -5.6 0ZM644.8 845.1a2.8 2.8 0 1 0 5.6 0a2.8 2.8 0 1 0 -5.6 0ZM646.7 849.4a2.8 2.8 0 1 0 5.6 0a2.8 2.8 0 1 0 -5.6 0ZM646 864.1a2.8 2.8 0 1 0 5.6 0a2.8 2.8 0 1 0 -5.6 0ZM646.9 830.4a2.8 2.8 0 1 0 5.6 0a2.8 2.8 0 1 0 -5.6 0ZM648.3 828.4a2.8 2.8 0 1 0 5.6 0a2.8 2.8 0 1 0 -5.6 0ZM648.2 857.8a2.8 2.8 0 1 0 5.6 0a2.8 2.8 0 1 0 -5.6 0ZM649.6 840.9a2.8 2.8 0 1 0 5.6 0a2.8 2.8 0 1 0 -5.6 0ZM649.9 843.7a2.8 2.8 0 1 0 5.6 0a2.8 2.8 0 1 0 -5.6 0ZM651.5 837.7a2.8 2.8 0 1 0 5.6 0a2.8 2.8 0 1 0 -5.6 0ZM651 828.7a2.8 2.8 0 1 0 5.6 0a2.8 2.8 0 1 0 -5.6 0ZM652.2 822.3a2.8 2.8 0 1 0 5.6 0a2.8 2.8 0 1 0 -5.6 0ZM653.3 847a2.8 2.8 0 1 0 5.6 0a2.8 2.8 0 1 0 -5.6 0ZM653.4 821.3a2.8 2.8 0 1 0 5.6 0a2.8 2.8 0 1 0 -5.6 0ZM654.6 828.4a2.8 2.8 0 1 0 5.6 0a2.8 2.8 0 1 0 -5.6 0ZM654 852.9a2.8 2.8 0 1 0 5.6 0a2.8 2.8 0 1 0 -5.6 0ZM655.2 820.2a2.8 2.8 0 1 0 5.6 0a2.8 2.8 0 1 0 -5.6 0ZM656.6 843.1a2.8 2.8 0 1 0 5.6 0a2.8 2.8 0 1 0 -5.6 0ZM655.7 842.8a2.8 2.8 0 1 0 5.6 0a2.8 2.8 0 1 0 -5.6 0ZM657.1 833a2.8 2.8 0 1 0 5.6 0a2.8 2.8 0 1 0 -5.6 0ZM657 819.5a2.8 2.8 0 1 0 5.6 0a2.8 2.8 0 1 0 -5.6 0ZM658.4 816.5a2.8 2.8 0 1 0 5.6 0a2.8 2.8 0 1 0 -5.6 0ZM658 822.1a2.8 2.8 0 1 0 5.6 0a2.8 2.8 0 1 0 -5.6 0ZM659.6 823.9a2.8 2.8 0 1 0 5.6 0a2.8 2.8 0 1 0 -5.6 0ZM658.8 823.4a2.8 2.8 0 1 0 5.6 0a2.8 2.8 0 1 0 -5.6 0ZM659.8 860.7a2.8 2.8 0 1 0 5.6 0a2.8 2.8 0 1 0 -5.6 0ZM659.9 825a2.8 2.8 0 1 0 5.6 0a2.8 2.8 0 1 0 -5.6 0ZM660.8 831.2a2.8 2.8 0 1 0 5.6 0a2.8 2.8 0 1 0 -5.6 0ZM661 855a2.8 2.8 0 1 0 5.6 0a2.8 2.8 0 1 0 -5.6 0ZM662.6 831.2a2.8 2.8 0 1 0 5.6 0a2.8 2.8 0 1 0 -5.6 0ZM663 821.8a2.8 2.8 0 1 0 5.6 0a2.8 2.8 0 1 0 -5.6 0ZM663.5 823.2a2.8 2.8 0 1 0 5.6 0a2.8 2.8 0 1 0 -5.6 0ZM664.2 827.3a2.8 2.8 0 1 0 5.6 0a2.8 2.8 0 1 0 -5.6 0ZM664.3 854.1a2.8 2.8 0 1 0 5.6 0a2.8 2.8 0 1 0 -5.6 0ZM665.3 843.2a2.8 2.8 0 1 0 5.6 0a2.8 2.8 0 1 0 -5.6 0ZM665.1 830.5a2.8 2.8 0 1 0 5.6 0a2.8 2.8 0 1 0 -5.6 0ZM666.6 832.5a2.8 2.8 0 1 0 5.6 0a2.8 2.8 0 1 0 -5.6 0ZM666.1 826.8a2.8 2.8 0 1 0 5.6 0a2.8 2.8 0 1 0 -5.6 0ZM666.9 840.3a2.8 2.8 0 1 0 5.6 0a2.8 2.8 0 1 0 -5.6 0ZM667.7 847.6a2.8 2.8 0 1 0 5.6 0a2.8 2.8 0 1 0 -5.6 0ZM668.5 820.1a2.8 2.8 0 1 0 5.6 0a2.8 2.8 0 1 0 -5.6 0ZM668.8 818.4a2.8 2.8 0 1 0 5.6 0a2.8 2.8 0 1 0 -5.6 0ZM670.4 824.6a2.8 2.8 0 1 0 5.6 0a2.8 2.8 0 1 0 -5.6 0ZM670.9 831.5a2.8 2.8 0 1 0 5.6 0a2.8 2.8 0 1 0 -5.6 0ZM671.4 825.9a2.8 2.8 0 1 0 5.6 0a2.8 2.8 0 1 0 -5.6 0ZM672.5 853.4a2.8 2.8 0 1 0 5.6 0a2.8 2.8 0 1 0 -5.6 0ZM672.5 839.5a2.8 2.8 0 1 0 5.6 0a2.8 2.8 0 1 0 -5.6 0ZM673 831.3a2.8 2.8 0 1 0 5.6 0a2.8 2.8 0 1 0 -5.6 0ZM672.8 839.4a2.8 2.8 0 1 0 5.6 0a2.8 2.8 0 1 0 -5.6 0ZM674.5 825.8a2.8 2.8 0 1 0 5.6 0a2.8 2.8 0 1 0 -5.6 0ZM675.1 858.5a2.8 2.8 0 1 0 5.6 0a2.8 2.8 0 1 0 -5.6 0ZM675.8 862.3a2.8 2.8 0 1 0 5.6 0a2.8 2.8 0 1 0 -5.6 0ZM677.2 844.8a2.8 2.8 0 1 0 5.6 0a2.8 2.8 0 1 0 -5.6 0ZM678.1 817.7a2.8 2.8 0 1 0 5.6 0a2.8 2.8 0 1 0 -5.6 0ZM678.1 857.6a2.8 2.8 0 1 0 5.6 0a2.8 2.8 0 1 0 -5.6 0ZM679.1 838.3a2.8 2.8 0 1 0 5.6 0a2.8 2.8 0 1 0 -5.6 0ZM679.2 838a2.8 2.8 0 1 0 5.6 0a2.8 2.8 0 1 0 -5.6 0ZM680.5 814a2.8 2.8 0 1 0 5.6 0a2.8 2.8 0 1 0 -5.6 0ZM679.9 840.5a2.8 2.8 0 1 0 5.6 0a2.8 2.8 0 1 0 -5.6 0ZM681.2 836.2a2.8 2.8 0 1 0 5.6 0a2.8 2.8 0 1 0 -5.6 0ZM681.5 855.3a2.8 2.8 0 1 0 5.6 0a2.8 2.8 0 1 0 -5.6 0ZM682.3 824.5a2.8 2.8 0 1 0 5.6 0a2.8 2.8 0 1 0 -5.6 0ZM682.6 817.8a2.8 2.8 0 1 0 5.6 0a2.8 2.8 0 1 0 -5.6 0ZM683 832.3a2.8 2.8 0 1 0 5.6 0a2.8 2.8 0 1 0 -5.6 0ZM682.7 833.6a2.8 2.8 0 1 0 5.6 0a2.8 2.8 0 1 0 -5.6 0ZM684.5 860.7a2.8 2.8 0 1 0 5.6 0a2.8 2.8 0 1 0 -5.6 0ZM684.2 820.5a2.8 2.8 0 1 0 5.6 0a2.8 2.8 0 1 0 -5.6 0ZM684.9 817.7a2.8 2.8 0 1 0 5.6 0a2.8 2.8 0 1 0 -5.6 0ZM685 860.3a2.8 2.8 0 1 0 5.6 0a2.8 2.8 0 1 0 -5.6 0ZM685.8 816.6a2.8 2.8 0 1 0 5.6 0a2.8 2.8 0 1 0 -5.6 0ZM686.4 860.8a2.8 2.8 0 1 0 5.6 0a2.8 2.8 0 1 0 -5.6 0ZM687.5 851a2.8 2.8 0 1 0 5.6 0a2.8 2.8 0 1 0 -5.6 0ZM688 819.8a2.8 2.8 0 1 0 5.6 0a2.8 2.8 0 1 0 -5.6 0ZM687.9 817.2a2.8 2.8 0 1 0 5.6 0a2.8 2.8 0 1 0 -5.6 0ZM688.7 831.7a2.8 2.8 0 1 0 5.6 0a2.8 2.8 0 1 0 -5.6 0ZM690.6 848.5a2.8 2.8 0 1 0 5.6 0a2.8 2.8 0 1 0 -5.6 0ZM690.4 842.3a2.8 2.8 0 1 0 5.6 0a2.8 2.8 0 1 0 -5.6 0ZM691.1 833.5a2.8 2.8 0 1 0 5.6 0a2.8 2.8 0 1 0 -5.6 0ZM691.7 822.6a2.8 2.8 0 1 0 5.6 0a2.8 2.8 0 1 0 -5.6 0ZM692.8 828.4a2.8 2.8 0 1 0 5.6 0a2.8 2.8 0 1 0 -5.6 0ZM694.1 821.1a2.8 2.8 0 1 0 5.6 0a2.8 2.8 0 1 0 -5.6 0ZM694.2 849.1a2.8 2.8 0 1 0 5.6 0a2.8 2.8 0 1 0 -5.6 0ZM695.3 838.2a2.8 2.8 0 1 0 5.6 0a2.8 2.8 0 1 0 -5.6 0ZM696 824a2.8 2.8 0 1 0 5.6 0a2.8 2.8 0 1 0 -5.6 0ZM697.5 840.6a2.8 2.8 0 1 0 5.6 0a2.8 2.8 0 1 0 -5.6 0ZM697.7 816.5a2.8 2.8 0 1 0 5.6 0a2.8 2.8 0 1 0 -5.6 0ZM698.7 818.7a2.8 2.8 0 1 0 5.6 0a2.8 2.8 0 1 0 -5.6 0ZM699.9 819.1a2.8 2.8 0 1 0 5.6 0a2.8 2.8 0 1 0 -5.6 0ZM701 830.5a2.8 2.8 0 1 0 5.6 0a2.8 2.8 0 1 0 -5.6 0ZM702.6 819.3a2.8 2.8 0 1 0 5.6 0a2.8 2.8 0 1 0 -5.6 0ZM703.4 831.2a2.8 2.8 0 1 0 5.6 0a2.8 2.8 0 1 0 -5.6 0ZM704.6 827.9a2.8 2.8 0 1 0 5.6 0a2.8 2.8 0 1 0 -5.6 0ZM704.8 835.3a2.8 2.8 0 1 0 5.6 0a2.8 2.8 0 1 0 -5.6 0ZM706.2 827.8a2.8 2.8 0 1 0 5.6 0a2.8 2.8 0 1 0 -5.6 0ZM707 837.7a2.8 2.8 0 1 0 5.6 0a2.8 2.8 0 1 0 -5.6 0ZM708.5 830.1a2.8 2.8 0 1 0 5.6 0a2.8 2.8 0 1 0 -5.6 0ZM709.3 831.4a2.8 2.8 0 1 0 5.6 0a2.8 2.8 0 1 0 -5.6 0ZM710 823.9a2.8 2.8 0 1 0 5.6 0a2.8 2.8 0 1 0 -5.6 0ZM711.3 832.9a2.8 2.8 0 1 0 5.6 0a2.8 2.8 0 1 0 -5.6 0ZM712.3 827.9a2.8 2.8 0 1 0 5.6 0a2.8 2.8 0 1 0 -5.6 0ZM713.6 819.3a2.8 2.8 0 1 0 5.6 0a2.8 2.8 0 1 0 -5.6 0ZM714 829.6a2.8 2.8 0 1 0 5.6 0a2.8 2.8 0 1 0 -5.6 0ZM714 818.2a2.8 2.8 0 1 0 5.6 0a2.8 2.8 0 1 0 -5.6 0ZM715.6 826.5a2.8 2.8 0 1 0 5.6 0a2.8 2.8 0 1 0 -5.6 0ZM716.4 825.2a2.8 2.8 0 1 0 5.6 0a2.8 2.8 0 1 0 -5.6 0ZM716.9 818.1a2.8 2.8 0 1 0 5.6 0a2.8 2.8 0 1 0 -5.6 0ZM718.1 844.8a2.8 2.8 0 1 0 5.6 0a2.8 2.8 0 1 0 -5.6 0ZM719.2 829.6a2.8 2.8 0 1 0 5.6 0a2.8 2.8 0 1 0 -5.6 0ZM720.4 836.5a2.8 2.8 0 1 0 5.6 0a2.8 2.8 0 1 0 -5.6 0ZM721.5 832.3a2.8 2.8 0 1 0 5.6 0a2.8 2.8 0 1 0 -5.6 0ZM721.7 835.3a2.8 2.8 0 1 0 5.6 0a2.8 2.8 0 1 0 -5.6 0ZM723 837.4a2.8 2.8 0 1 0 5.6 0a2.8 2.8 0 1 0 -5.6 0ZM724.3 828a2.8 2.8 0 1 0 5.6 0a2.8 2.8 0 1 0 -5.6 0ZM725.6 838.5a2.8 2.8 0 1 0 5.6 0a2.8 2.8 0 1 0 -5.6 0ZM726.4 840.3a2.8 2.8 0 1 0 5.6 0a2.8 2.8 0 1 0 -5.6 0ZM727.3 837.2a2.8 2.8 0 1 0 5.6 0a2.8 2.8 0 1 0 -5.6 0ZM727.9 842.8a2.8 2.8 0 1 0 5.6 0a2.8 2.8 0 1 0 -5.6 0ZM729.4 834.8a2.8 2.8 0 1 0 5.6 0a2.8 2.8 0 1 0 -5.6 0ZM730.6 833.4a2.8 2.8 0 1 0 5.6 0a2.8 2.8 0 1 0 -5.6 0ZM731.7 837a2.8 2.8 0 1 0 5.6 0a2.8 2.8 0 1 0 -5.6 0ZM732.7 842.7a2.8 2.8 0 1 0 5.6 0a2.8 2.8 0 1 0 -5.6 0ZM733.4 845.5a2.8 2.8 0 1 0 5.6 0a2.8 2.8 0 1 0 -5.6 0ZM734.6 846.3a2.8 2.8 0 1 0 5.6 0a2.8 2.8 0 1 0 -5.6 0ZM735.3 835.8a2.8 2.8 0 1 0 5.6 0a2.8 2.8 0 1 0 -5.6 0ZM736.5 853.9a2.8 2.8 0 1 0 5.6 0a2.8 2.8 0 1 0 -5.6 0ZM737.1 826.1a2.8 2.8 0 1 0 5.6 0a2.8 2.8 0 1 0 -5.6 0ZM738.5 854.1a2.8 2.8 0 1 0 5.6 0a2.8 2.8 0 1 0 -5.6 0ZM739.2 847.3a2.8 2.8 0 1 0 5.6 0a2.8 2.8 0 1 0 -5.6 0ZM740.6 842.8a2.8 2.8 0 1 0 5.6 0a2.8 2.8 0 1 0 -5.6 0ZM741.2 856.1a2.8 2.8 0 1 0 5.6 0a2.8 2.8 0 1 0 -5.6 0ZM742.3 844.2a2.8 2.8 0 1 0 5.6 0a2.8 2.8 0 1 0 -5.6 0ZM743 856.3a2.8 2.8 0 1 0 5.6 0a2.8 2.8 0 1 0 -5.6 0ZM743.9 828.5a2.8 2.8 0 1 0 5.6 0a2.8 2.8 0 1 0 -5.6 0ZM745 833.6a2.8 2.8 0 1 0 5.6 0a2.8 2.8 0 1 0 -5.6 0ZM746.4 833.1a2.8 2.8 0 1 0 5.6 0a2.8 2.8 0 1 0 -5.6 0ZM747.2 855.1a2.8 2.8 0 1 0 5.6 0a2.8 2.8 0 1 0 -5.6 0ZM748.1 834.2a2.8 2.8 0 1 0 5.6 0a2.8 2.8 0 1 0 -5.6 0ZM748.8 832.1a2.8 2.8 0 1 0 5.6 0a2.8 2.8 0 1 0 -5.6 0ZM750.6 851.8a2.8 2.8 0 1 0 5.6 0a2.8 2.8 0 1 0 -5.6 0ZM751 838.5a2.8 2.8 0 1 0 5.6 0a2.8 2.8 0 1 0 -5.6 0ZM751.8 845.5a2.8 2.8 0 1 0 5.6 0a2.8 2.8 0 1 0 -5.6 0ZM752.8 843.1a2.8 2.8 0 1 0 5.6 0a2.8 2.8 0 1 0 -5.6 0ZM754.1 842.5a2.8 2.8 0 1 0 5.6 0a2.8 2.8 0 1 0 -5.6 0ZM755.6 856.2a2.8 2.8 0 1 0 5.6 0a2.8 2.8 0 1 0 -5.6 0ZM755.7 873.4a2.8 2.8 0 1 0 5.6 0a2.8 2.8 0 1 0 -5.6 0ZM378.2 701.8a2.8 2.8 0 1 0 5.6 0a2.8 2.8 0 1 0 -5.6 0ZM384.4 677.4a2.8 2.8 0 1 0 5.6 0a2.8 2.8 0 1 0 -5.6 0ZM385.3 669.2a2.8 2.8 0 1 0 5.6 0a2.8 2.8 0 1 0 -5.6 0ZM392.9 637.4a2.8 2.8 0 1 0 5.6 0a2.8 2.8 0 1 0 -5.6 0ZM396.6 642a2.8 2.8 0 1 0 5.6 0a2.8 2.8 0 1 0 -5.6 0ZM397.3 653.5a2.8 2.8 0 1 0 5.6 0a2.8 2.8 0 1 0 -5.6 0ZM399.2 651.9a2.8 2.8 0 1 0 5.6 0a2.8 2.8 0 1 0 -5.6 0ZM402.5 653.6a2.8 2.8 0 1 0 5.6 0a2.8 2.8 0 1 0 -5.6 0ZM407.5 667.1a2.8 2.8 0 1 0 5.6 0a2.8 2.8 0 1 0 -5.6 0ZM410.3 670.7a2.8 2.8 0 1 0 5.6 0a2.8 2.8 0 1 0 -5.6 0ZM418.8 682.9a2.8 2.8 0 1 0 5.6 0a2.8 2.8 0 1 0 -5.6 0ZM420.3 678.2a2.8 2.8 0 1 0 5.6 0a2.8 2.8 0 1 0 -5.6 0ZM422.3 665a2.8 2.8 0 1 0 5.6 0a2.8 2.8 0 1 0 -5.6 0ZM423.3 666.2a2.8 2.8 0 1 0 5.6 0a2.8 2.8 0 1 0 -5.6 0ZM428.9 655.6a2.8 2.8 0 1 0 5.6 0a2.8 2.8 0 1 0 -5.6 0ZM434.2 631.5a2.8 2.8 0 1 0 5.6 0a2.8 2.8 0 1 0 -5.6 0ZM435 629.5a2.8 2.8 0 1 0 5.6 0a2.8 2.8 0 1 0 -5.6 0ZM437.3 618.9a2.8 2.8 0 1 0 5.6 0a2.8 2.8 0 1 0 -5.6 0ZM437.9 614.7a2.8 2.8 0 1 0 5.6 0a2.8 2.8 0 1 0 -5.6 0ZM441.3 628a2.8 2.8 0 1 0 5.6 0a2.8 2.8 0 1 0 -5.6 0ZM442.3 632a2.8 2.8 0 1 0 5.6 0a2.8 2.8 0 1 0 -5.6 0ZM446.2 654.3a2.8 2.8 0 1 0 5.6 0a2.8 2.8 0 1 0 -5.6 0ZM448 663.1a2.8 2.8 0 1 0 5.6 0a2.8 2.8 0 1 0 -5.6 0ZM449.5 673.3a2.8 2.8 0 1 0 5.6 0a2.8 2.8 0 1 0 -5.6 0ZM451.5 686.1a2.8 2.8 0 1 0 5.6 0a2.8 2.8 0 1 0 -5.6 0ZM453.3 695a2.8 2.8 0 1 0 5.6 0a2.8 2.8 0 1 0 -5.6 0ZM456.6 688.4a2.8 2.8 0 1 0 5.6 0a2.8 2.8 0 1 0 -5.6 0ZM456.8 681.4a2.8 2.8 0 1 0 5.6 0a2.8 2.8 0 1 0 -5.6 0ZM458 682.4a2.8 2.8 0 1 0 5.6 0a2.8 2.8 0 1 0 -5.6 0ZM464.5 667.6a2.8 2.8 0 1 0 5.6 0a2.8 2.8 0 1 0 -5.6 0ZM468.5 654.5a2.8 2.8 0 1 0 5.6 0a2.8 2.8 0 1 0 -5.6 0ZM469 648.6a2.8 2.8 0 1 0 5.6 0a2.8 2.8 0 1 0 -5.6 0ZM470.7 639.4a2.8 2.8 0 1 0 5.6 0a2.8 2.8 0 1 0 -5.6 0ZM473.2 645.6a2.8 2.8 0 1 0 5.6 0a2.8 2.8 0 1 0 -5.6 0ZM475.2 649.6a2.8 2.8 0 1 0 5.6 0a2.8 2.8 0 1 0 -5.6 0ZM476.3 656.1a2.8 2.8 0 1 0 5.6 0a2.8 2.8 0 1 0 -5.6 0ZM478.6 651.6a2.8 2.8 0 1 0 5.6 0a2.8 2.8 0 1 0 -5.6 0ZM481.5 629.7a2.8 2.8 0 1 0 5.6 0a2.8 2.8 0 1 0 -5.6 0ZM483.6 623.7a2.8 2.8 0 1 0 5.6 0a2.8 2.8 0 1 0 -5.6 0ZM484.6 619.1a2.8 2.8 0 1 0 5.6 0a2.8 2.8 0 1 0 -5.6 0ZM486.6 642.5a2.8 2.8 0 1 0 5.6 0a2.8 2.8 0 1 0 -5.6 0ZM487.1 640.9a2.8 2.8 0 1 0 5.6 0a2.8 2.8 0 1 0 -5.6 0ZM488.1 644.8a2.8 2.8 0 1 0 5.6 0a2.8 2.8 0 1 0 -5.6 0ZM489.3 634.9a2.8 2.8 0 1 0 5.6 0a2.8 2.8 0 1 0 -5.6 0ZM494.8 637.6a2.8 2.8 0 1 0 5.6 0a2.8 2.8 0 1 0 -5.6 0ZM496.5 638.4a2.8 2.8 0 1 0 5.6 0a2.8 2.8 0 1 0 -5.6 0ZM497.5 649.9a2.8 2.8 0 1 0 5.6 0a2.8 2.8 0 1 0 -5.6 0ZM497.9 652.2a2.8 2.8 0 1 0 5.6 0a2.8 2.8 0 1 0 -5.6 0ZM499.6 649.2a2.8 2.8 0 1 0 5.6 0a2.8 2.8 0 1 0 -5.6 0ZM501.4 642.9a2.8 2.8 0 1 0 5.6 0a2.8 2.8 0 1 0 -5.6 0ZM503.8 619.8a2.8 2.8 0 1 0 5.6 0a2.8 2.8 0 1 0 -5.6 0ZM507.2 613.6a2.8 2.8 0 1 0 5.6 0a2.8 2.8 0 1 0 -5.6 0ZM515.7 629.3a2.8 2.8 0 1 0 5.6 0a2.8 2.8 0 1 0 -5.6 0ZM527 609.9a2.8 2.8 0 1 0 5.6 0a2.8 2.8 0 1 0 -5.6 0ZM531.6 637.2a2.8 2.8 0 1 0 5.6 0a2.8 2.8 0 1 0 -5.6 0ZM532.6 642.2a2.8 2.8 0 1 0 5.6 0a2.8 2.8 0 1 0 -5.6 0ZM537.6 655a2.8 2.8 0 1 0 5.6 0a2.8 2.8 0 1 0 -5.6 0ZM538 659.7a2.8 2.8 0 1 0 5.6 0a2.8 2.8 0 1 0 -5.6 0ZM541.2 646.6a2.8 2.8 0 1 0 5.6 0a2.8 2.8 0 1 0 -5.6 0ZM543.7 647.1a2.8 2.8 0 1 0 5.6 0a2.8 2.8 0 1 0 -5.6 0ZM549.3 618.1a2.8 2.8 0 1 0 5.6 0a2.8 2.8 0 1 0 -5.6 0ZM550.3 614.1a2.8 2.8 0 1 0 5.6 0a2.8 2.8 0 1 0 -5.6 0ZM553.2 626.8a2.8 2.8 0 1 0 5.6 0a2.8 2.8 0 1 0 -5.6 0ZM554.4 624.1a2.8 2.8 0 1 0 5.6 0a2.8 2.8 0 1 0 -5.6 0ZM559.7 648.9a2.8 2.8 0 1 0 5.6 0a2.8 2.8 0 1 0 -5.6 0ZM561.7 634.5a2.8 2.8 0 1 0 5.6 0a2.8 2.8 0 1 0 -5.6 0ZM563.7 639.4a2.8 2.8 0 1 0 5.6 0a2.8 2.8 0 1 0 -5.6 0ZM565.5 634.1a2.8 2.8 0 1 0 5.6 0a2.8 2.8 0 1 0 -5.6 0ZM567.1 634.1a2.8 2.8 0 1 0 5.6 0a2.8 2.8 0 1 0 -5.6 0ZM568.8 638.1a2.8 2.8 0 1 0 5.6 0a2.8 2.8 0 1 0 -5.6 0ZM571.1 651.4a2.8 2.8 0 1 0 5.6 0a2.8 2.8 0 1 0 -5.6 0ZM573.7 666.7a2.8 2.8 0 1 0 5.6 0a2.8 2.8 0 1 0 -5.6 0ZM574.6 660.7a2.8 2.8 0 1 0 5.6 0a2.8 2.8 0 1 0 -5.6 0ZM576.7 648.2a2.8 2.8 0 1 0 5.6 0a2.8 2.8 0 1 0 -5.6 0ZM580.6 641.8a2.8 2.8 0 1 0 5.6 0a2.8 2.8 0 1 0 -5.6 0ZM581.3 638.5a2.8 2.8 0 1 0 5.6 0a2.8 2.8 0 1 0 -5.6 0ZM583 638.5a2.8 2.8 0 1 0 5.6 0a2.8 2.8 0 1 0 -5.6 0ZM586.6 637.6a2.8 2.8 0 1 0 5.6 0a2.8 2.8 0 1 0 -5.6 0ZM587 639.4a2.8 2.8 0 1 0 5.6 0a2.8 2.8 0 1 0 -5.6 0ZM590.1 607.8a2.8 2.8 0 1 0 5.6 0a2.8 2.8 0 1 0 -5.6 0ZM591.3 627.9a2.8 2.8 0 1 0 5.6 0a2.8 2.8 0 1 0 -5.6 0ZM592.1 641a2.8 2.8 0 1 0 5.6 0a2.8 2.8 0 1 0 -5.6 0ZM593.5 651.9a2.8 2.8 0 1 0 5.6 0a2.8 2.8 0 1 0 -5.6 0ZM596.7 659.7a2.8 2.8 0 1 0 5.6 0a2.8 2.8 0 1 0 -5.6 0ZM597.7 661.3a2.8 2.8 0 1 0 5.6 0a2.8 2.8 0 1 0 -5.6 0ZM598 663.4a2.8 2.8 0 1 0 5.6 0a2.8 2.8 0 1 0 -5.6 0ZM600.9 660.8a2.8 2.8 0 1 0 5.6 0a2.8 2.8 0 1 0 -5.6 0ZM602.9 654.4a2.8 2.8 0 1 0 5.6 0a2.8 2.8 0 1 0 -5.6 0ZM608.5 637.1a2.8 2.8 0 1 0 5.6 0a2.8 2.8 0 1 0 -5.6 0ZM610.6 644.6a2.8 2.8 0 1 0 5.6 0a2.8 2.8 0 1 0 -5.6 0ZM611.7 655.4a2.8 2.8 0 1 0 5.6 0a2.8 2.8 0 1 0 -5.6 0ZM617.1 633.6a2.8 2.8 0 1 0 5.6 0a2.8 2.8 0 1 0 -5.6 0ZM618.1 629.5a2.8 2.8 0 1 0 5.6 0a2.8 2.8 0 1 0 -5.6 0ZM619.4 624.5a2.8 2.8 0 1 0 5.6 0a2.8 2.8 0 1 0 -5.6 0ZM621.1 609a2.8 2.8 0 1 0 5.6 0a2.8 2.8 0 1 0 -5.6 0ZM622.1 617.7a2.8 2.8 0 1 0 5.6 0a2.8 2.8 0 1 0 -5.6 0ZM623.7 622.5a2.8 2.8 0 1 0 5.6 0a2.8 2.8 0 1 0 -5.6 0ZM624.8 643.2a2.8 2.8 0 1 0 5.6 0a2.8 2.8 0 1 0 -5.6 0ZM625.7 651.4a2.8 2.8 0 1 0 5.6 0a2.8 2.8 0 1 0 -5.6 0ZM628.3 651.4a2.8 2.8 0 1 0 5.6 0a2.8 2.8 0 1 0 -5.6 0ZM633.2 668.3a2.8 2.8 0 1 0 5.6 0a2.8 2.8 0 1 0 -5.6 0ZM633.9 658.4a2.8 2.8 0 1 0 5.6 0a2.8 2.8 0 1 0 -5.6 0ZM635 652a2.8 2.8 0 1 0 5.6 0a2.8 2.8 0 1 0 -5.6 0ZM638.1 638.6a2.8 2.8 0 1 0 5.6 0a2.8 2.8 0 1 0 -5.6 0ZM640.2 629.9a2.8 2.8 0 1 0 5.6 0a2.8 2.8 0 1 0 -5.6 0ZM641.6 632.8a2.8 2.8 0 1 0 5.6 0a2.8 2.8 0 1 0 -5.6 0ZM647.7 615a2.8 2.8 0 1 0 5.6 0a2.8 2.8 0 1 0 -5.6 0ZM650.5 629.5a2.8 2.8 0 1 0 5.6 0a2.8 2.8 0 1 0 -5.6 0ZM652.1 639a2.8 2.8 0 1 0 5.6 0a2.8 2.8 0 1 0 -5.6 0ZM660.7 636.5a2.8 2.8 0 1 0 5.6 0a2.8 2.8 0 1 0 -5.6 0ZM660.8 625.9a2.8 2.8 0 1 0 5.6 0a2.8 2.8 0 1 0 -5.6 0ZM671.7 656.9a2.8 2.8 0 1 0 5.6 0a2.8 2.8 0 1 0 -5.6 0ZM674 635a2.8 2.8 0 1 0 5.6 0a2.8 2.8 0 1 0 -5.6 0ZM676.7 625.6a2.8 2.8 0 1 0 5.6 0a2.8 2.8 0 1 0 -5.6 0ZM679.4 629.5a2.8 2.8 0 1 0 5.6 0a2.8 2.8 0 1 0 -5.6 0ZM679.9 636.6a2.8 2.8 0 1 0 5.6 0a2.8 2.8 0 1 0 -5.6 0ZM681.8 635a2.8 2.8 0 1 0 5.6 0a2.8 2.8 0 1 0 -5.6 0ZM683.3 639.6a2.8 2.8 0 1 0 5.6 0a2.8 2.8 0 1 0 -5.6 0ZM689.2 632.6a2.8 2.8 0 1 0 5.6 0a2.8 2.8 0 1 0 -5.6 0ZM690.5 637.9a2.8 2.8 0 1 0 5.6 0a2.8 2.8 0 1 0 -5.6 0ZM690.8 643.5a2.8 2.8 0 1 0 5.6 0a2.8 2.8 0 1 0 -5.6 0ZM692.4 650.8a2.8 2.8 0 1 0 5.6 0a2.8 2.8 0 1 0 -5.6 0ZM702.2 645.8a2.8 2.8 0 1 0 5.6 0a2.8 2.8 0 1 0 -5.6 0ZM704.1 638.2a2.8 2.8 0 1 0 5.6 0a2.8 2.8 0 1 0 -5.6 0ZM705.5 629.6a2.8 2.8 0 1 0 5.6 0a2.8 2.8 0 1 0 -5.6 0ZM707.4 635.9a2.8 2.8 0 1 0 5.6 0a2.8 2.8 0 1 0 -5.6 0ZM710.9 649.9a2.8 2.8 0 1 0 5.6 0a2.8 2.8 0 1 0 -5.6 0ZM712.1 646.7a2.8 2.8 0 1 0 5.6 0a2.8 2.8 0 1 0 -5.6 0ZM716.5 631.9a2.8 2.8 0 1 0 5.6 0a2.8 2.8 0 1 0 -5.6 0ZM719.1 625.4a2.8 2.8 0 1 0 5.6 0a2.8 2.8 0 1 0 -5.6 0ZM721.8 616a2.8 2.8 0 1 0 5.6 0a2.8 2.8 0 1 0 -5.6 0ZM724.2 629.2a2.8 2.8 0 1 0 5.6 0a2.8 2.8 0 1 0 -5.6 0ZM733.1 658.6a2.8 2.8 0 1 0 5.6 0a2.8 2.8 0 1 0 -5.6 0ZM735.2 660.2a2.8 2.8 0 1 0 5.6 0a2.8 2.8 0 1 0 -5.6 0ZM738.2 642.3a2.8 2.8 0 1 0 5.6 0a2.8 2.8 0 1 0 -5.6 0ZM742.6 649.3a2.8 2.8 0 1 0 5.6 0a2.8 2.8 0 1 0 -5.6 0ZM744.7 654.1a2.8 2.8 0 1 0 5.6 0a2.8 2.8 0 1 0 -5.6 0ZM747.4 652.6a2.8 2.8 0 1 0 5.6 0a2.8 2.8 0 1 0 -5.6 0ZM752.7 653.3a2.8 2.8 0 1 0 5.6 0a2.8 2.8 0 1 0 -5.6 0ZM756.3 653.9a2.8 2.8 0 1 0 5.6 0a2.8 2.8 0 1 0 -5.6 0ZM1426.7 1018.3a2.8 2.8 0 1 0 5.6 0a2.8 2.8 0 1 0 -5.6 0ZM1428.2 1017.1a2.8 2.8 0 1 0 5.6 0a2.8 2.8 0 1 0 -5.6 0ZM1427.3 1014.8a2.8 2.8 0 1 0 5.6 0a2.8 2.8 0 1 0 -5.6 0ZM1429.4 1014.5a2.8 2.8 0 1 0 5.6 0a2.8 2.8 0 1 0 -5.6 0ZM1429.6 1013.8a2.8 2.8 0 1 0 5.6 0a2.8 2.8 0 1 0 -5.6 0ZM1430.4 1012.9a2.8 2.8 0 1 0 5.6 0a2.8 2.8 0 1 0 -5.6 0ZM1434.5 1010.7a2.8 2.8 0 1 0 5.6 0a2.8 2.8 0 1 0 -5.6 0ZM1440.2 1003.6a2.8 2.8 0 1 0 5.6 0a2.8 2.8 0 1 0 -5.6 0ZM1442.2 1002.2a2.8 2.8 0 1 0 5.6 0a2.8 2.8 0 1 0 -5.6 0ZM1442.7 999.3a2.8 2.8 0 1 0 5.6 0a2.8 2.8 0 1 0 -5.6 0ZM1441.4 997.7a2.8 2.8 0 1 0 5.6 0a2.8 2.8 0 1 0 -5.6 0ZM1442.3 993.7a2.8 2.8 0 1 0 5.6 0a2.8 2.8 0 1 0 -5.6 0ZM1445.2 992.9a2.8 2.8 0 1 0 5.6 0a2.8 2.8 0 1 0 -5.6 0ZM1445.1 989.1a2.8 2.8 0 1 0 5.6 0a2.8 2.8 0 1 0 -5.6 0ZM1446.7 987.8a2.8 2.8 0 1 0 5.6 0a2.8 2.8 0 1 0 -5.6 0ZM1446.2 985.3a2.8 2.8 0 1 0 5.6 0a2.8 2.8 0 1 0 -5.6 0ZM1446.7 982.9a2.8 2.8 0 1 0 5.6 0a2.8 2.8 0 1 0 -5.6 0ZM1448.8 978.2a2.8 2.8 0 1 0 5.6 0a2.8 2.8 0 1 0 -5.6 0ZM1448.5 975.1a2.8 2.8 0 1 0 5.6 0a2.8 2.8 0 1 0 -5.6 0ZM1446.4 972.3a2.8 2.8 0 1 0 5.6 0a2.8 2.8 0 1 0 -5.6 0ZM1449.9 966.6a2.8 2.8 0 1 0 5.6 0a2.8 2.8 0 1 0 -5.6 0ZM1449 966.4a2.8 2.8 0 1 0 5.6 0a2.8 2.8 0 1 0 -5.6 0ZM1449.6 966.5a2.8 2.8 0 1 0 5.6 0a2.8 2.8 0 1 0 -5.6 0ZM1450.3 964.4a2.8 2.8 0 1 0 5.6 0a2.8 2.8 0 1 0 -5.6 0ZM1450.6 963.7a2.8 2.8 0 1 0 5.6 0a2.8 2.8 0 1 0 -5.6 0ZM1457.1 961.4a2.8 2.8 0 1 0 5.6 0a2.8 2.8 0 1 0 -5.6 0ZM1455.6 959.5a2.8 2.8 0 1 0 5.6 0a2.8 2.8 0 1 0 -5.6 0ZM1455.8 954.8a2.8 2.8 0 1 0 5.6 0a2.8 2.8 0 1 0 -5.6 0ZM1458.1 953.5a2.8 2.8 0 1 0 5.6 0a2.8 2.8 0 1 0 -5.6 0ZM1458.1 952.2a2.8 2.8 0 1 0 5.6 0a2.8 2.8 0 1 0 -5.6 0ZM1458.6 948.8a2.8 2.8 0 1 0 5.6 0a2.8 2.8 0 1 0 -5.6 0ZM1456.6 947.7a2.8 2.8 0 1 0 5.6 0a2.8 2.8 0 1 0 -5.6 0ZM1459.6 946.3a2.8 2.8 0 1 0 5.6 0a2.8 2.8 0 1 0 -5.6 0ZM1459.6 938.2a2.8 2.8 0 1 0 5.6 0a2.8 2.8 0 1 0 -5.6 0ZM1460.3 936.5a2.8 2.8 0 1 0 5.6 0a2.8 2.8 0 1 0 -5.6 0ZM1459.9 934.5a2.8 2.8 0 1 0 5.6 0a2.8 2.8 0 1 0 -5.6 0ZM1459.1 930.5a2.8 2.8 0 1 0 5.6 0a2.8 2.8 0 1 0 -5.6 0ZM1460.5 928.8a2.8 2.8 0 1 0 5.6 0a2.8 2.8 0 1 0 -5.6 0ZM1459 927a2.8 2.8 0 1 0 5.6 0a2.8 2.8 0 1 0 -5.6 0ZM1459.1 924.5a2.8 2.8 0 1 0 5.6 0a2.8 2.8 0 1 0 -5.6 0ZM1461 924.2a2.8 2.8 0 1 0 5.6 0a2.8 2.8 0 1 0 -5.6 0ZM1425.6 1025.6a2.8 2.8 0 1 0 5.6 0a2.8 2.8 0 1 0 -5.6 0ZM1428.1 1028.6a2.8 2.8 0 1 0 5.6 0a2.8 2.8 0 1 0 -5.6 0ZM1426.3 1032.2a2.8 2.8 0 1 0 5.6 0a2.8 2.8 0 1 0 -5.6 0ZM1424.7 1030a2.8 2.8 0 1 0 5.6 0a2.8 2.8 0 1 0 -5.6 0ZM1425.1 1026.6a2.8 2.8 0 1 0 5.6 0a2.8 2.8 0 1 0 -5.6 0ZM1428.4 1028.3a2.8 2.8 0 1 0 5.6 0a2.8 2.8 0 1 0 -5.6 0ZM1432.7 1024.7a2.8 2.8 0 1 0 5.6 0a2.8 2.8 0 1 0 -5.6 0ZM1435.4 1024.8a2.8 2.8 0 1 0 5.6 0a2.8 2.8 0 1 0 -5.6 0ZM1435.6 1024.1a2.8 2.8 0 1 0 5.6 0a2.8 2.8 0 1 0 -5.6 0ZM1437.8 1025.1a2.8 2.8 0 1 0 5.6 0a2.8 2.8 0 1 0 -5.6 0ZM1439.6 1023a2.8 2.8 0 1 0 5.6 0a2.8 2.8 0 1 0 -5.6 0ZM1442.7 1020.9a2.8 2.8 0 1 0 5.6 0a2.8 2.8 0 1 0 -5.6 0ZM1444.9 1019a2.8 2.8 0 1 0 5.6 0a2.8 2.8 0 1 0 -5.6 0ZM1446.6 1019.1a2.8 2.8 0 1 0 5.6 0a2.8 2.8 0 1 0 -5.6 0ZM1449 1017a2.8 2.8 0 1 0 5.6 0a2.8 2.8 0 1 0 -5.6 0ZM1451.8 1015.6a2.8 2.8 0 1 0 5.6 0a2.8 2.8 0 1 0 -5.6 0ZM1451.9 1014.2a2.8 2.8 0 1 0 5.6 0a2.8 2.8 0 1 0 -5.6 0ZM1452.5 1013.6a2.8 2.8 0 1 0 5.6 0a2.8 2.8 0 1 0 -5.6 0ZM1454.4 1010.6a2.8 2.8 0 1 0 5.6 0a2.8 2.8 0 1 0 -5.6 0ZM1457.5 1007.1a2.8 2.8 0 1 0 5.6 0a2.8 2.8 0 1 0 -5.6 0Z" fill="#1f77b4"/>
<path d="M117 1015.9 L118 1020.9 L120 1018.9 L124 1018.9 L128 1016.9 L130 1011.9 L132.4 991.9 L134 999.9 L136 1012.9 L138 1005.9 L140 999.9 L142 997.9 L145 987.9 L147 993.9 L149 979.9 L151 977.9 L153 973.9 L156 959.9 L159 945.9 L161 963.9 L163 925.9 L166 909.9 L168 919.9 L171 951.9 L174 929.9 L177 923.9 L179 896 L182 907.9 L185 929.9 L187 919.9 L190 880 L192 884 L193.9 881 L195.9 902 L198.9 878 L201.9 894 L203.9 890 L205.9 894 L207.9 925.9 L208.9 909.9 L210.9 907.9 L212.9 872 L215.9 870 L217.9 882 L218.9 866 L220.9 894 L222.9 872 L224.9 892 L227.9 860 L230.9 890 L233.9 870 L237.9 866 L240.9 834 L242.9 832 L243.9 809.9 L245.9 807.9 L247.9 815.9 L249.9 821.9 L251.9 805.9 L253.9 823.9 L255.9 779.9 L257.9 747.9 L259.9 769.9 L261.9 765.9 L262.9 806.9 L264.9 751.9 L266.9 785.9 L268.9 753.9 L270.9 779.9 L273.9 739.9 L276.9 789.9 L279.9 789.9 L281.9 805.9 L283.9 789.9 L285.9 825.9 L287.9 799.9 L289.9 809.9 L291.9 797.9 L295.9 773.9 L297.9 795.9 L300.9 779.9 L302.9 805.9 L304.9 769.9 L307.9 793.9 L310.9 767.9 L312.9 787.9 L315.9 763.9 L317.9 781.9 L320.9 809.9 L323.9 771.9 L326.9 733.9 L328.9 757.9 L330.9 747.9 L334.9 771.9 L336.9 769.9 L339.9 733.9 L341.9 809.9 L343.9 755.9 L345.9 777.9 L349.9 755.9 L351.9 759.9 L354.9 759.9 L356.9 769.9 L358.9 765.9 L360.8 785.9 L363.8 769.9 L365.8 767.9 L367.8 733.9 L369.8 763.9 L373.8 739.9 L376.8 771.9 L379.8 777.9 L382.8 761.9 L385.8 769.9 L387.8 751.9 L389.8 753.9 L391.8 743.9 L393.8 729.9 L395.8 695.9 L397.8 733.9 L398 735.9 L399.8 741.9 L400 745.9 L401.8 709.9 L403 697.9 L405 765.9 L408 713.9 L411 793.9 L414 735.9 L416 757.9 L420 755.9 L423 741.9 L425 763.9 L428 753.9 L430 741.9 L432 769.9 L435 761.9 L437 739.9 L439.6 699.9 L443 727.9 L445 705.9 L447 781.9 L449 721.9 L451 745.9 L453 733.9 L456 769.9 L458 779.9 L462 743.9 L465 785.9 L467 769.9 L470 749.9 L473 717.9 L476 721.9 L478 783.9 L480 747.9 L481.9 773.9 L485.9 715.9 L487.9 763.9 L489.9 743.9 L491.9 741.9 L494.9 707.9 L497.9 729.9 L500.3 757.9 L503.9 717.9 L506.5 765.9 L508.3 681.9 L509.9 727.9 L511.9 709.9 L514.9 719.9 L517.9 673 L520.3 749.9 L522.9 723.9 L525.9 743.9 L527.9 719.9 L529.9 697.9 L531.9 745.9 L533.9 709.9 L535.9 703.9 L537.9 759.9 L540.9 743.9 L542.9 755.9 L545.9 761.9 L549.9 675.9 L552.9 703.9 L556.9 689.9 L559.9 767.9 L562.9 723.9 L566.9 747.9 L570.9 705.9 L573.9 729.9 L576.9 783.9 L581.9 721.9 L584.9 747.9 L587.9 749.9 L590.9 727.9 L593.5 707.9 L596.9 755.9 L599.9 765.9 L601.9 753.9 L605.9 771.9 L608.9 723.9 L612.9 709.9 L615.9 755.9 L617.9 765.9 L620.9 685.9 L623.9 683.9 L625.9 697.9 L627.9 739.9 L630.9 749.9 L633.9 759.9 L636.9 757.9 L642.9 731.9 L645.9 747.9 L649.4 668 L651.8 729.9 L655.8 707.9 L660.2 749.9 L662.8 715.9 L666.2 673.9 L669.8 729.9 L672.8 749.9 L676.8 703.9 L678.8 739.9 L680.4 685.9 L682.8 733.9 L685.8 719.9 L686 719.9 L688 729.9 L688.8 741.9 L690 707.9 L692 717.9 L693.6 704.9 L696 737.9 L698 749.9 L700 719.9 L703 733.9 L706 753.9 L708.4 703.9 L711 737.9 L713 741.9 L716 729.9 L718.4 707.9 L720.4 731.9 L723 687.9 L725 711.9 L728 735.9 L730 753.9 L733 721.9 L735 761.9 L737 737.9 L739 749.9 L741 759.9 L743 721.9 L745 755.9 L747 737.9 L750 739.9 L752 721.9 L754 749.9 L756 733.9 L758 749.9 L761 721.9 L763 747.9 L765 741.9 L766 769.9 L768 789.9 L769.9 771.9 L771.9 799.9 L773.9 781.9 L775.5 775.9 L777.5 803.9 L779.3 755.9 L781.5 824.1 L784.9 842 L786.9 826 L788.9 870 L790.9 844 L793.9 907.9 L796.9 909.9 L798.9 935.9 L800.9 931.9 L803.9 949.9 L805.9 967.9 L807.9 965.9 L810.9 993.9 L812.9 987.9 L815.9 1011.9 L819.9 1021.9 L825.9 1025.9 L835.9 1026.9 L845.9 1027.9 L855.9 1027.5 L865.9 1027.5 L875.9 1028.3 L883.9 1027.9 L1380 1031.7 L1425.7 1031.7 L1427.1 1031 L1428.4 1021.4 L1430.5 1022.8 L1432.5 1020.1 L1433.9 1017.3 L1435.3 1021.4 L1437.3 1020.1 L1439.3 1021.4 L1441.4 1017.3 L1442.8 1016 L1444.1 1010.5 L1446.8 1009.1 L1448.9 1011.9 L1450.3 995.5 L1451.6 1003.7 L1453 994.1 L1455 991.4 L1457.1 990 L1458.4 983.2 L1459.8 968.2 L1461.2 965.5 L1462.7 965.5" fill="none" stroke="#ff7f0e" stroke-width="2.1" stroke-linejoin="round"/>
</g>
<rect x="116.5" y="575.5" width="1346" height="479" fill="none" stroke="#000" stroke-width="1.1"/>
<path d="M116.5 1054 V1059 M284.5 1054 V1059 M452.5 1054 V1059 M621.5 1054 V1059 M789.5 1054 V1059 M957.5 1054 V1059 M1125.5 1054 V1059 M1294.5 1054 V1059 M111 606.5 H116 M111 660.5 H116 M111 714.5 H116 M111 768.5 H116 M111 822.5 H116 M111 877.5 H116 M111 931.5 H116 M111 985.5 H116 M111 1039.5 H116" stroke="#000" stroke-width="1.1" fill="none"/>
<text x="92.31" y="71.17" font-size="23.42" textLength="13.47" lengthAdjust="spacingAndGlyphs">3</text>
<text x="92.19" y="152.17" font-size="23.42" textLength="13.51" lengthAdjust="spacingAndGlyphs">2</text>
<text x="92.05" y="233.17" font-size="23.42" textLength="13.55" lengthAdjust="spacingAndGlyphs">1</text>
<text x="91.29" y="315.17" font-size="23.42" textLength="15.46" lengthAdjust="spacingAndGlyphs">0</text>
<text x="72.69" y="396.17" font-size="23.42" textLength="31.88" lengthAdjust="spacingAndGlyphs">−1</text>
<text x="72.48" y="477.17" font-size="23.42" textLength="31.84" lengthAdjust="spacingAndGlyphs">−2</text>
<text x="50.87" y="614.17" font-size="23.42" textLength="53.90" lengthAdjust="spacingAndGlyphs">0.08</text>
<text x="51.31" y="668.17" font-size="23.42" textLength="53.80" lengthAdjust="spacingAndGlyphs">0.07</text>
<text x="50.70" y="722.17" font-size="23.42" textLength="54.21" lengthAdjust="spacingAndGlyphs">0.06</text>
<text x="51.10" y="776.17" font-size="23.42" textLength="53.60" lengthAdjust="spacingAndGlyphs">0.05</text>
<text x="50.55" y="830.17" font-size="23.42" textLength="53.53" lengthAdjust="spacingAndGlyphs">0.04</text>
<text x="51.32" y="885.17" font-size="23.42" textLength="53.58" lengthAdjust="spacingAndGlyphs">0.03</text>
<text x="51.43" y="939.17" font-size="23.42" textLength="53.61" lengthAdjust="spacingAndGlyphs">0.02</text>
<text x="51.04" y="993.17" font-size="23.42" textLength="53.65" lengthAdjust="spacingAndGlyphs">0.01</text>
<text x="50.59" y="1047.17" font-size="23.42" textLength="54.47" lengthAdjust="spacingAndGlyphs">0.00</text>
<text x="643.66" y="29.80" font-size="28.39" textLength="280.69" lengthAdjust="spacingAndGlyphs">2.5 MHz N0000002</text>
<text x="116.58" y="29.80" font-size="28.28" textLength="41.16" lengthAdjust="spacingAndGlyphs">(a)</text>
<text x="116.62" y="565.80" font-size="28.28" textLength="42.15" lengthAdjust="spacingAndGlyphs">(b)</text>
<text x="-1.81" y="0" font-size="23.59" textLength="225.91" lengthAdjust="spacingAndGlyphs" transform="translate(60.90 389.90) rotate(-90)">Doppler Shift [Hz]</text>
<text x="-1.82" y="0" font-size="23.59" textLength="209.19" lengthAdjust="spacingAndGlyphs" transform="translate(39.90 917.90) rotate(-90)">Peak Voltage [V]</text>
<text x="764.43" y="1157.84" font-size="23.13" textLength="48.57" lengthAdjust="spacingAndGlyphs">UTC</text>
<text x="-110.21" y="0" font-size="24.16" textLength="111.35" lengthAdjust="spacingAndGlyphs" transform="translate(112.30 1078.00) rotate(-30)">10-06 00</text>
<text x="-109.46" y="0" font-size="24.16" textLength="110.45" lengthAdjust="spacingAndGlyphs" transform="translate(280.30 1078.00) rotate(-30)">10-06 03</text>
<text x="-110.09" y="0" font-size="24.16" textLength="111.09" lengthAdjust="spacingAndGlyphs" transform="translate(448.30 1078.00) rotate(-30)">10-06 06</text>
<text x="-109.86" y="0" font-size="24.16" textLength="110.86" lengthAdjust="spacingAndGlyphs" transform="translate(617.30 1078.00) rotate(-30)">10-06 09</text>
<text x="-109.35" y="0" font-size="24.16" textLength="110.48" lengthAdjust="spacingAndGlyphs" transform="translate(785.30 1078.00) rotate(-30)">10-06 12</text>
<text x="-109.69" y="0" font-size="24.16" textLength="110.47" lengthAdjust="spacingAndGlyphs" transform="translate(953.30 1078.00) rotate(-30)">10-06 15</text>
<text x="-109.92" y="0" font-size="24.16" textLength="110.77" lengthAdjust="spacingAndGlyphs" transform="translate(1121.30 1078.00) rotate(-30)">10-06 18</text>
<text x="-109.75" y="0" font-size="24.16" textLength="110.53" lengthAdjust="spacingAndGlyphs" transform="translate(1290.30 1078.00) rotate(-30)">10-06 21</text>
<rect x="1047.4" y="48.45" width="406" height="80" rx="2.8" ry="2.8" fill="#fff" fill-opacity="0.8" stroke="#cccccc" stroke-width="1.1"/>
<circle cx="1073.5" cy="63.4" r="2.9" fill="#1f77b4"/>
<path d="M1053 101.9 H1092" stroke="#ff7f0e" stroke-width="2.1"/>
<text x="1105.94" y="69.00" font-size="19.62" textLength="97.58" lengthAdjust="spacingAndGlyphs">Raw Data</text>
<text x="1105.88" y="95.85" font-size="19.62" textLength="269.44" lengthAdjust="spacingAndGlyphs">Butterworth Filtered Data</text>
<text x="1106.27" y="116.60" font-size="19.62" textLength="338.33" lengthAdjust="spacingAndGlyphs">(N=6, Tc=3.3333 min, Type: low)</text>
<rect x="1047.4" y="584.45" width="406" height="80" rx="2.8" ry="2.8" fill="#fff" fill-opacity="0.8" stroke="#cccccc" stroke-width="1.1"/>
<circle cx="1073.5" cy="599.4" r="2.9" fill="#1f77b4"/>
<path d="M1053 637.9 H1092" stroke="#ff7f0e" stroke-width="2.1"/>
<text x="1105.94" y="605.00" font-size="19.62" textLength="97.58" lengthAdjust="spacingAndGlyphs">Raw Data</text>
<text x="1105.88" y="631.85" font-size="19.62" textLength="269.44" lengthAdjust="spacingAndGlyphs">Butterworth Filtered Data</text>
<text x="1106.27" y="652.60" font-size="19.62" textLength="338.33" lengthAdjust="spacingAndGlyphs">(N=6, Tc=3.3333 min, Type: low)</text>
</svg></body></html>
